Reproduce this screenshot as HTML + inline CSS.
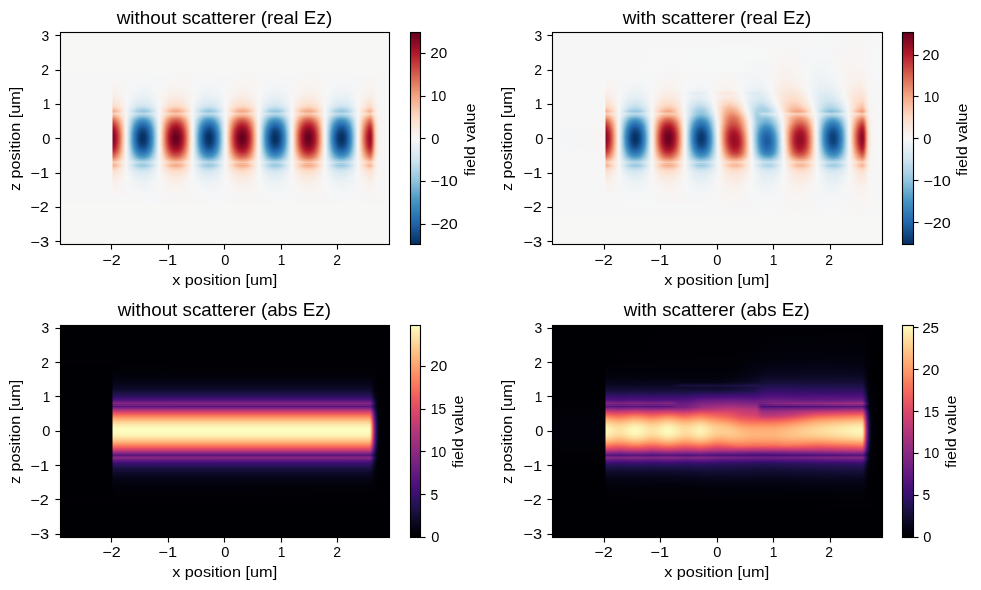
<!DOCTYPE html>
<html><head><meta charset="utf-8"><title>Ez field with and without scatterer</title>
<style>
html,body{margin:0;padding:0;background:#fff}
body{width:981px;height:590px;position:relative;overflow:hidden;font-family:"Liberation Sans",sans-serif}
.h{position:absolute;overflow:hidden}
.h i{display:block;height:1px}
svg{position:absolute;left:0;top:0;will-change:transform}
text{font-family:"Liberation Sans",sans-serif;font-size:14px;fill:#000}
.t text{font-size:17px}
</style></head><body>
<div class="h" style="left:60px;top:32px;width:330px;height:213px">
<i style="height:40px;background:#f7f7f6"></i>
<i style="background:linear-gradient(90deg,#f7f6f6 0,#f6f7f7 99px,#f7f5f4 117px,#f6f7f7 165px,#f7f5f4 183px,#f6f7f7 231px,#f7f5f4 250px,#f6f7f7 297px,#f7f6f6 330px)"></i>
<i style="background:linear-gradient(90deg,#f7f6f6 0,#f7f6f6 66px,#f6f7f7 95px,#f7f5f4 120px,#f6f7f7 165px,#f7f5f4 187px,#f6f7f7 231px,#f7f5f4 253px,#f6f7f7 297px,#f7f6f6 330px)"></i>
<i style="background:linear-gradient(90deg,#f7f6f6 0,#f7f6f6 66px,#f6f7f7 92px,#f7f5f4 122px,#f6f7f7 161px,#f7f5f4 188px,#f6f7f7 227px,#f7f5f4 254px,#f6f7f7 293px,#f7f5f4 311px,#f7f6f6 330px)"></i>
<i style="background:linear-gradient(90deg,#f7f6f6 0,#f7f6f6 66px,#f5f6f7 90px,#f7f5f4 123px,#f6f7f7 158px,#f7f5f4 189px,#f6f7f7 224px,#f7f5f4 256px,#f5f6f7 287px,#f7f5f4 312px,#f7f6f6 330px)"></i>
<i style="background:linear-gradient(90deg,#f7f6f6 0,#f7f6f6 66px,#f5f6f7 91px,#f7f5f4 124px,#f5f6f7 155px,#f7f5f4 190px,#f5f6f7 221px,#f7f5f4 257px,#f5f6f7 285px,#f7f5f4 312px,#f7f6f6 330px)"></i>
<i style="background:linear-gradient(90deg,#f7f6f6 0,#f7f6f6 66px,#f5f6f7 92px,#f7f5f4 125px,#f5f6f7 153px,#f7f5f4 191px,#f5f6f7 219px,#f7f5f4 258px,#f5f6f7 282px,#f7f5f4 312px,#f7f6f6 330px)"></i>
<i style="background:linear-gradient(90deg,#f7f6f6 0,#f7f6f6 66px,#f5f6f7 93px,#f7f5f4 126px,#f5f6f7 150px,#f7f5f4 192px,#f5f6f7 216px,#f7f5f4 258px,#f5f6f7 282px,#f7f5f4 313px,#f7f6f6 330px)"></i>
<i style="background:linear-gradient(90deg,#f7f6f6 0,#f7f6f6 66px,#f5f6f7 87px,#f7f5f4 115px,#f7f5f4 126px,#f5f6f7 148px,#f7f5f4 181px,#f7f5f4 193px,#f5f6f7 214px,#f7f5f4 247px,#f7f5f4 259px,#f5f6f7 280px,#f7f5f4 313px,#f7f6f6 330px)"></i>
<i style="background:linear-gradient(90deg,#f7f6f6 0,#f7f6f6 52px,#f8f4f2 54px,#f5f6f7 73px,#f5f6f7 94px,#f8f4f2 120px,#f5f6f7 139px,#f5f6f7 160px,#f8f4f2 186px,#f5f6f7 205px,#f5f6f7 226px,#f8f4f2 252px,#f5f6f7 271px,#f5f6f7 293px,#f7f5f4 313px,#f7f6f6 330px)"></i>
<i style="background:linear-gradient(90deg,#f7f6f6 0,#f7f6f6 52px,#f8f4f2 54px,#f5f6f7 73px,#f5f6f7 94px,#f8f4f2 122px,#f6f7f7 136px,#f3f5f6 155px,#f7f5f4 175px,#f7f5f4 194px,#f3f5f6 209px,#f6f7f7 231px,#f8f4f2 250px,#f5f6f7 275px,#f5f6f7 293px,#f8f4f2 311px,#f7f6f6 319px,#f7f6f6 330px)"></i>
<i style="background:linear-gradient(90deg,#f7f6f6 0,#f7f6f6 52px,#f8f4f2 54px,#f5f6f7 75px,#f5f6f7 95px,#f8f4f2 121px,#f5f6f7 140px,#f5f6f7 161px,#f8f4f2 187px,#f5f6f7 206px,#f5f6f7 227px,#f8f4f2 253px,#f5f6f7 272px,#f5f6f7 293px,#f7f5f4 306px,#f7f5f4 314px,#f7f6f6 330px)"></i>
<i style="background:linear-gradient(90deg,#f7f6f6 0,#f7f6f6 52px,#f8f4f2 54px,#f5f6f7 74px,#f5f6f7 95px,#f8f4f2 119px,#f5f6f7 140px,#f5f6f7 161px,#f7f5f4 173px,#f7f5f4 195px,#f3f5f6 207px,#f5f6f7 228px,#f8f4f2 250px,#f7f5f4 261px,#f3f5f6 273px,#f5f6f7 294px,#f8f4f2 312px,#f7f6f6 318px,#f7f6f6 330px)"></i>
<i style="background:linear-gradient(90deg,#f7f6f6 0,#f7f6f6 52px,#f8f3f0 53px,#f6f7f7 69px,#f2f5f6 87px,#f7f6f6 102px,#f8f3f0 117px,#f5f6f7 139px,#f2f5f6 153px,#f7f6f6 168px,#f8f3f0 183px,#f5f6f7 205px,#f2f5f6 219px,#f7f6f6 235px,#f8f4f2 243px,#f8f4f2 257px,#f5f6f7 269px,#f2f5f6 285px,#f7f6f6 301px,#f8f4f2 309px,#f7f6f6 323px,#f7f6f6 330px)"></i>
<i style="background:linear-gradient(90deg,#f7f6f6 0,#f7f6f6 52px,#f8f3f0 53px,#f5f6f7 71px,#f2f5f6 88px,#f7f6f6 102px,#f8f3f0 114px,#f8f4f2 126px,#f6f7f7 135px,#f2f5f6 149px,#f7f6f6 168px,#f8f3f0 180px,#f8f4f2 192px,#f6f7f7 201px,#f2f5f6 217px,#f7f6f6 234px,#f8f3f0 246px,#f8f4f2 258px,#f6f7f7 267px,#f2f5f6 283px,#f7f6f6 300px,#f8f3f0 311px,#f7f6f6 318px,#f7f6f6 330px)"></i>
<i style="background:linear-gradient(90deg,#f7f6f6 0,#f7f6f6 52px,#f8f3f0 53px,#f7f5f4 63px,#f3f5f6 75px,#f3f5f6 93px,#f7f5f4 104px,#f8f3f0 114px,#f8f4f2 126px,#f6f7f7 135px,#f2f5f6 147px,#f3f5f6 159px,#f7f5f4 171px,#f8f3f0 179px,#f8f4f2 193px,#f6f7f7 200px,#f2f5f6 214px,#f5f6f7 229px,#f8f4f2 240px,#f8f4f2 259px,#f5f6f7 268px,#f2f5f6 286px,#f7f6f6 300px,#f8f3f0 311px,#f7f6f6 318px,#f7f6f6 330px)"></i>
<i style="background:linear-gradient(90deg,#f7f6f6 0,#f7f6f6 52px,#f8f2ef 53px,#f5f6f7 69px,#f0f4f6 87px,#f7f6f6 101px,#f8f2ef 115px,#f8f4f2 127px,#f5f6f7 136px,#f0f4f6 152px,#f7f6f6 167px,#f8f2ef 181px,#f8f4f2 193px,#f5f6f7 202px,#f0f4f6 218px,#f7f6f6 234px,#f8f3f0 243px,#f8f3f0 256px,#f6f7f7 267px,#f0f4f6 281px,#f7f6f6 300px,#f8f3f0 309px,#f8f4f2 313px,#f7f6f6 319px,#f7f6f6 330px)"></i>
<i style="background:linear-gradient(90deg,#f7f6f6 0,#f7f6f6 52px,#f8f2ef 53px,#f5f6f7 70px,#f0f4f6 82px,#f3f5f6 94px,#f7f5f4 103px,#f8f2ef 113px,#f8f3f0 125px,#f5f6f7 135px,#f0f4f6 149px,#f3f5f6 161px,#f7f5f4 170px,#f8f2ef 179px,#f8f3f0 191px,#f5f6f7 201px,#f0f4f6 217px,#f7f6f6 233px,#f8f2ef 245px,#f8f3f0 257px,#f6f7f7 267px,#f0f4f6 279px,#f3f5f6 293px,#f7f5f4 302px,#f8f2ef 311px,#f7f6f6 317px,#f7f6f6 330px)"></i>
<i style="background:linear-gradient(90deg,#f7f6f6 0,#f7f6f6 52px,#f8f1ed 53px,#f5f6f7 69px,#eff3f5 85px,#f7f6f6 101px,#f8f2ef 111px,#f8f2ef 123px,#f6f7f7 134px,#eff3f5 149px,#f7f6f6 167px,#f8f2ef 177px,#f8f2ef 189px,#f6f7f7 200px,#eff3f5 215px,#f7f6f6 233px,#f8f2ef 243px,#f8f2ef 255px,#f6f7f7 266px,#eff3f5 281px,#f7f6f6 299px,#f8f2ef 311px,#f7f6f6 319px,#f7f6f6 330px)"></i>
<i style="background:linear-gradient(90deg,#f7f6f6 0,#f7f6f6 52px,#f8f1ed 53px,#f7f5f4 64px,#f2f5f6 72px,#eff3f5 88px,#f7f6f6 101px,#f8f1ed 112px,#f8f2ef 124px,#f6f7f7 134px,#eff3f5 147px,#f2f5f6 159px,#f7f6f6 167px,#f8f1ed 178px,#f8f2ef 190px,#f6f7f7 200px,#eff3f5 213px,#f2f5f6 226px,#f7f5f4 235px,#f8f1ed 245px,#f8f2ef 256px,#f5f6f7 267px,#eff3f5 280px,#f2f5f6 292px,#f7f5f4 301px,#f8f1ed 310px,#f7f6f6 318px,#f7f6f6 330px)"></i>
<i style="background:linear-gradient(90deg,#f7f6f6 0,#f7f6f6 52px,#f9f0eb 53px,#f5f6f7 68px,#edf2f5 83px,#f5f6f7 97px,#f9f0eb 114px,#f8f2ef 125px,#f6f7f7 134px,#eff3f5 144px,#eff3f5 156px,#f7f6f6 167px,#f8f1ed 177px,#f8f1ed 189px,#f5f6f7 201px,#edf2f5 216px,#f5f6f7 230px,#f8f4f2 236px,#f9f0eb 248px,#f8f2ef 257px,#f5f6f7 267px,#edf2f5 282px,#f5f6f7 296px,#f8f1ed 311px,#f7f6f6 317px,#f7f6f6 330px)"></i>
<i style="background:linear-gradient(90deg,#f7f6f6 0,#f7f6f6 52px,#f9f0eb 53px,#f5f6f7 68px,#edf2f5 80px,#edf2f5 88px,#f7f6f6 100px,#f9f0eb 112px,#f9f0eb 121px,#f6f7f7 133px,#edf2f5 146px,#edf2f5 154px,#f7f6f6 167px,#f8f1ed 175px,#f9efe9 183px,#f8f3f0 194px,#f6f7f7 200px,#edf2f5 211px,#edf2f5 221px,#f7f6f6 233px,#f9f0eb 245px,#f9f0eb 254px,#f6f7f7 266px,#edf2f5 278px,#edf2f5 287px,#f7f6f6 299px,#f9f0eb 310px,#f7f6f6 318px,#f7f6f6 330px)"></i>
<i style="background:linear-gradient(90deg,#f7f6f6 0,#f7f6f6 52px,#f9efe9 53px,#f7f5f4 64px,#f2f5f6 71px,#ecf2f5 81px,#eff3f5 92px,#f7f6f6 100px,#f9f0eb 110px,#f9f0eb 123px,#f5f6f7 134px,#ecf2f5 147px,#eff3f5 158px,#f7f6f6 166px,#f9f0eb 176px,#f9f0eb 189px,#f6f7f7 200px,#edf2f5 209px,#edf2f5 222px,#f7f6f6 233px,#f8f1ed 240px,#f9efe9 248px,#f9f0eb 255px,#f6f7f7 266px,#ecf2f5 279px,#edf2f5 288px,#f7f6f6 299px,#f9f0eb 309px,#f8f2ef 313px,#f7f6f6 318px,#f7f6f6 330px)"></i>
<i style="background:linear-gradient(90deg,#f7f6f6 0,#f7f6f6 52px,#f9eee7 53px,#f8f4f2 63px,#f6f7f7 67px,#eaf1f5 80px,#edf2f5 91px,#f7f6f6 100px,#f9efe9 110px,#f9efe9 122px,#f6f7f7 133px,#ecf2f5 144px,#ecf2f5 155px,#f7f6f6 166px,#f9efe9 177px,#f9efe9 188px,#f5f6f7 200px,#eaf1f5 213px,#edf2f5 223px,#f7f6f6 232px,#f9efe9 243px,#f9efe9 254px,#f6f7f7 266px,#ecf2f5 276px,#ecf2f5 287px,#f7f6f6 299px,#f9efe9 309px,#f8f1ed 313px,#f7f6f6 318px,#f7f6f6 330px)"></i>
<i style="background:linear-gradient(90deg,#f7f6f6 0,#f7f6f6 52px,#f9ede5 53px,#f8f3f0 62px,#f5f6f7 68px,#eaf1f5 78px,#eaf1f5 88px,#f7f6f6 100px,#f9eee7 110px,#f9eee7 121px,#f5f6f7 134px,#e9f0f4 147px,#ecf2f5 156px,#f7f6f6 166px,#f9efe9 175px,#f9ede5 183px,#f9efe9 189px,#f5f6f7 200px,#e9f0f4 213px,#ecf2f5 223px,#f7f6f6 232px,#f9efe9 241px,#f9ede5 249px,#f9f0eb 257px,#f6f7f7 265px,#eaf1f5 277px,#eaf1f5 287px,#f7f6f6 299px,#f9efe9 307px,#f9efe9 311px,#f7f6f6 318px,#f7f6f6 330px)"></i>
<i style="background:linear-gradient(90deg,#f7f6f6 0,#f7f6f6 52px,#f9ede5 53px,#f9f0eb 59px,#f6f7f7 67px,#eaf1f5 76px,#e7f0f4 85px,#f3f5f6 97px,#f7f5f4 101px,#f9eee7 109px,#f9ebe3 117px,#f8f1ed 127px,#f6f7f7 133px,#e9f0f4 144px,#e9f0f4 154px,#f7f6f6 166px,#f9eee7 175px,#f9ebe3 183px,#f8f1ed 193px,#f6f7f7 199px,#e9f0f4 211px,#e9f0f4 220px,#f7f6f6 232px,#f9ede5 243px,#f9ede5 253px,#f8f3f0 261px,#f5f6f7 266px,#e7f0f4 279px,#eaf1f5 288px,#f7f6f6 299px,#f9ede5 309px,#f7f6f6 319px,#f7f6f6 330px)"></i>
<i style="background:linear-gradient(90deg,#f7f6f6 0,#f7f6f6 52px,#f9ebe3 53px,#f9efe9 59px,#f6f7f7 67px,#e9f0f4 76px,#e6eff4 85px,#f0f4f6 95px,#f7f6f6 100px,#f9ebe3 111px,#f9ebe3 121px,#f6f7f7 133px,#e7f0f4 144px,#e7f0f4 154px,#f7f6f6 166px,#f9ebe3 177px,#f9ebe3 187px,#f6f7f7 199px,#e7f0f4 211px,#e7f0f4 220px,#f3f5f6 229px,#f7f5f4 233px,#f9ebe3 243px,#f9ebe3 253px,#f8f4f2 263px,#f6f7f7 265px,#e7f0f4 277px,#e7f0f4 286px,#f5f6f7 297px,#f9ede5 308px,#f9ede5 311px,#f7f6f6 318px,#f7f6f6 330px)"></i>
<i style="background:linear-gradient(90deg,#f7f6f6 0,#f7f6f6 52px,#fae9df 53px,#f9f0eb 61px,#f6f7f7 67px,#e6eff4 78px,#e6eff4 88px,#f7f6f6 100px,#faeae1 111px,#faeae1 121px,#f6f7f7 133px,#e6eff4 144px,#e6eff4 154px,#f7f6f6 166px,#faeae1 177px,#faeae1 187px,#f6f7f7 199px,#e6eff4 210px,#e6eff4 220px,#f7f6f6 232px,#faeae1 243px,#faeae1 253px,#f5f6f7 266px,#e4eef4 278px,#e7f0f4 288px,#f7f6f6 298px,#faeae1 310px,#f8f1ed 314px,#f7f6f6 319px,#f7f6f6 330px)"></i>
<i style="background:linear-gradient(90deg,#f7f6f6 0,#f7f6f6 52px,#fae8de 53px,#f5f6f7 67px,#e3edf3 79px,#e4eef4 88px,#f7f6f6 100px,#faeae1 109px,#fae8de 115px,#fae9df 121px,#f8f3f0 130px,#f6f7f7 133px,#e6eff4 142px,#e3edf3 151px,#ecf2f5 160px,#f7f6f6 166px,#f9ebe3 174px,#fae8de 181px,#fae9df 187px,#f8f4f2 197px,#f6f7f7 199px,#e3edf3 212px,#e4eef4 220px,#f7f6f6 232px,#fae8de 245px,#fae9df 254px,#f6f7f7 265px,#e3edf3 278px,#e4eef4 287px,#f7f6f6 298px,#fae9df 310px,#f9f0eb 314px,#f7f6f6 318px,#f7f6f6 330px)"></i>
<i style="background:linear-gradient(90deg,#f7f6f6 0,#f7f6f6 52px,#fae7dc 53px,#f8f3f0 64px,#f5f6f7 67px,#e3edf3 77px,#e0ecf3 85px,#f2f5f6 97px,#f7f6f6 100px,#fae9df 109px,#fbe6da 116px,#faeae1 124px,#f6f7f7 133px,#e4eef4 142px,#e0ecf3 151px,#e7f0f4 158px,#f7f6f6 166px,#fae9df 175px,#fbe6da 182px,#faeae1 190px,#f6f7f7 199px,#e1edf3 211px,#e1edf3 219px,#f0f4f6 229px,#f7f5f4 233px,#f9ede5 239px,#fbe6da 246px,#fae7dc 252px,#f8f2ef 262px,#f6f7f7 265px,#e1edf3 277px,#e1edf3 286px,#f0f4f6 295px,#f7f5f4 299px,#faeae1 307px,#fae8de 310px,#f9ede5 313px,#f7f5f4 317px,#f7f6f6 330px)"></i>
<i style="background:linear-gradient(90deg,#f7f6f6 0,#f7f6f6 52px,#fbe5d8 53px,#f9eee7 61px,#f7f6f6 66px,#e1edf3 77px,#deebf2 86px,#eaf1f5 94px,#f6f7f7 99px,#fae8de 109px,#fbe5d8 115px,#fbe6da 121px,#f9eee7 127px,#f6f7f7 133px,#e3edf3 142px,#deebf2 149px,#e3edf3 156px,#f7f6f6 166px,#fae8de 175px,#fbe5d8 181px,#fbe6da 187px,#f9efe9 194px,#f6f7f7 199px,#e1edf3 209px,#deebf2 218px,#ecf2f5 227px,#f7f6f6 232px,#f9ebe3 239px,#fbe5d8 245px,#fbe6da 253px,#f9f0eb 261px,#f6f7f7 265px,#e3edf3 275px,#deebf2 280px,#e0ecf3 286px,#f2f5f6 296px,#f7f5f4 299px,#faeae1 306px,#fbe6da 310px,#f7f5f4 317px,#f7f6f6 330px)"></i>
<i style="background:linear-gradient(90deg,#f7f6f6 0,#f7f6f6 52px,#fbe4d6 53px,#f9ebe3 60px,#f7f6f6 66px,#e3edf3 75px,#dbeaf2 81px,#deebf2 88px,#ecf2f5 95px,#f6f7f7 99px,#fae8de 108px,#fbe3d4 114px,#fbe4d6 120px,#f9ede5 127px,#f7f6f6 132px,#e0ecf3 143px,#dbeaf2 150px,#e4eef4 158px,#f7f6f6 166px,#fae9df 173px,#fbe3d4 180px,#fbe4d6 186px,#f9eee7 194px,#f6f7f7 199px,#e1edf3 208px,#dbeaf2 215px,#deebf2 220px,#edf2f5 228px,#f7f6f6 232px,#fbe6da 242px,#fbe3d4 248px,#fbe4d6 252px,#faeae1 258px,#f6f7f7 265px,#e0ecf3 275px,#dbeaf2 282px,#e1edf3 289px,#f7f6f6 298px,#fbe6da 308px,#fbe6da 311px,#f8f3f0 316px,#f7f6f6 320px,#f7f6f6 330px)"></i>
<i style="background:linear-gradient(90deg,#f7f6f6 0,#f7f6f6 52px,#fce2d2 53px,#fae8de 59px,#f7f6f6 66px,#deebf2 76px,#d8e9f1 83px,#ddebf2 89px,#f3f5f6 98px,#f7f5f4 100px,#fbe5d8 109px,#fce0d0 115px,#fbe3d4 121px,#f9f0eb 129px,#f7f6f6 132px,#deebf2 142px,#d8e9f1 149px,#deebf2 156px,#f7f6f6 166px,#fae8de 173px,#fce0d0 180px,#fce2d2 186px,#fae9df 192px,#f6f7f7 199px,#e1edf3 207px,#d8e9f1 213px,#dbeaf2 220px,#eff3f5 229px,#f7f6f6 232px,#fae7dc 240px,#fce0d0 246px,#fce2d2 252px,#fae9df 258px,#f6f7f7 265px,#e0ecf3 274px,#d8e9f1 280px,#dbeaf2 286px,#e9f0f4 293px,#f7f6f6 298px,#fbe6da 307px,#fbe3d4 310px,#fae9df 313px,#f8f4f2 317px,#f7f6f6 321px,#f7f6f6 330px)"></i>
<i style="background:linear-gradient(90deg,#f7f6f6 0,#f7f6f6 52px,#fcdfcf 53px,#fae7dc 59px,#f7f6f6 66px,#dae9f2 77px,#d5e7f1 84px,#ddebf2 90px,#ecf2f5 96px,#f6f7f7 99px,#fbe3d4 109px,#fcdecd 115px,#fce0d0 121px,#f9ede5 128px,#f7f6f6 132px,#dae9f2 143px,#d5e7f1 150px,#dae9f2 155px,#f7f6f6 166px,#fbe5d8 174px,#fcdecd 180px,#fcdfcf 186px,#fae8de 192px,#f6f7f7 199px,#deebf2 207px,#d5e7f1 213px,#d8e9f1 220px,#e9f0f4 227px,#f7f6f6 232px,#fbe4d6 241px,#fcdecd 247px,#fcdfcf 252px,#fae9df 259px,#f6f7f7 265px,#ddebf2 274px,#d5e7f1 280px,#d8e9f1 286px,#e7f0f4 293px,#f7f6f6 298px,#fbe4d6 307px,#fce0d0 310px,#fbe5d8 312px,#f8f4f2 317px,#f7f6f6 321px,#f7f6f6 330px)"></i>
<i style="background:linear-gradient(90deg,#f7f6f6 0,#f7f6f6 52px,#fdddcb 53px,#fbe4d6 58px,#f7f6f6 66px,#d8e9f1 76px,#d1e5f0 83px,#d8e9f1 89px,#e7f0f4 95px,#f6f7f7 99px,#fcdfcf 110px,#fddcc9 114px,#fddcc9 118px,#fbe3d4 124px,#f5f6f7 133px,#d7e8f1 143px,#d1e5f0 149px,#d7e8f1 155px,#f5f6f7 165px,#fce2d2 175px,#fddcc9 180px,#fddcc9 185px,#fbe5d8 191px,#f6f7f7 199px,#deebf2 206px,#d4e6f1 212px,#d1e5f0 216px,#dbeaf2 223px,#f0f4f6 230px,#f7f6f6 232px,#fce0d0 242px,#fddbc7 248px,#fcdfcf 254px,#faeae1 260px,#f6f7f7 265px,#d8e9f1 275px,#d1e5f0 282px,#ddebf2 290px,#f7f6f6 298px,#fce0d0 308px,#fcdecd 310px,#fbe3d4 312px,#f8f2ef 316px,#f7f6f6 320px,#f7f6f6 330px)"></i>
<i style="background:linear-gradient(90deg,#f7f6f6 0,#f7f6f6 52px,#fdd9c4 53px,#fce2d2 58px,#f9eee7 63px,#f7f6f6 66px,#d8e9f1 75px,#cce2ef 80px,#cae1ee 84px,#dbeaf2 92px,#f6f7f7 99px,#fbe3d4 107px,#fcd7c2 113px,#fcd5bf 117px,#fddbc7 121px,#f9ede5 129px,#f7f5f4 132px,#f0f4f6 134px,#d5e7f1 142px,#cae1ee 148px,#cfe4ef 153px,#e9f0f4 162px,#f5f6f7 165px,#f9f0eb 168px,#fcdecd 175px,#fcd7c2 179px,#fcd5bf 183px,#fcdecd 189px,#f9efe9 196px,#f6f7f7 199px,#d8e9f1 207px,#cce2ef 212px,#cae1ee 216px,#dae9f2 224px,#f7f6f6 232px,#fbe6da 238px,#fddcc9 243px,#fcd5bf 248px,#fdd9c4 252px,#fbe4d6 258px,#f6f7f7 265px,#d7e8f1 274px,#cae1ee 281px,#cce2ef 284px,#e0ecf3 292px,#f7f6f6 298px,#fcdfcf 307px,#fddbc7 310px,#fbe5d8 313px,#f8f1ed 316px,#f7f6f6 319px,#f7f6f6 330px)"></i>
<i style="background:linear-gradient(90deg,#f7f6f6 0,#f7f6f6 52px,#fbd0b9 53px,#fdd9c4 56px,#f9ede5 63px,#f7f6f6 66px,#d7e8f1 74px,#c2ddec 80px,#c0dceb 83px,#cae1ee 88px,#f5f6f7 99px,#fcdfcf 107px,#fcd3bc 112px,#fbccb4 115px,#fbd0b9 119px,#fdddcb 124px,#f7f5f4 132px,#f0f4f6 134px,#d4e6f1 141px,#c2ddec 147px,#c0dceb 150px,#cce2ef 155px,#f5f6f7 165px,#f8f2ef 167px,#fdddcb 174px,#fbceb7 180px,#fbccb4 183px,#fcd7c2 188px,#fae8de 194px,#f5f6f7 199px,#d5e7f1 207px,#c5dfec 212px,#c0dceb 216px,#c5dfec 219px,#eff3f5 230px,#f7f6f6 232px,#fce0d0 239px,#fcd3bc 244px,#fbccb4 248px,#fbd0b9 252px,#fce2d2 258px,#f6f7f7 265px,#d5e7f1 273px,#c2ddec 279px,#c0dceb 282px,#c7e0ed 286px,#f2f5f6 297px,#f7f6f6 298px,#fddcc9 307px,#fcd5bf 310px,#fcd7c2 311px,#f9ede5 315px,#f8f3f0 317px,#f7f6f6 321px,#f7f6f6 330px)"></i>
<i style="background:linear-gradient(90deg,#f7f6f6 0,#f7f6f6 52px,#fac8af 53px,#fcd5bf 57px,#fddbc7 58px,#f8f2ef 65px,#f7f6f6 66px,#d2e6f0 74px,#c2ddec 77px,#b8d8e9 80px,#b6d7e8 84px,#c5dfec 89px,#d1e5f0 91px,#f5f6f7 99px,#fdd9c4 108px,#fac8af 112px,#f9c4a9 116px,#fac8af 119px,#fbd0b9 122px,#faeae1 129px,#f7f5f4 132px,#eff3f5 134px,#c0dceb 144px,#b8d8e9 146px,#b6d7e8 150px,#b8d8e9 152px,#eff3f5 164px,#f7f5f4 166px,#fbe3d4 171px,#fbd0b9 176px,#fac8af 179px,#f9c4a9 182px,#fac8af 186px,#fbe3d4 193px,#f5f6f7 199px,#d1e5f0 207px,#c0dceb 210px,#b6d7e8 215px,#bbdaea 219px,#c7e0ed 222px,#d2e6f0 224px,#f7f6f6 232px,#fce0d0 238px,#fddbc7 240px,#fbd0b9 242px,#f9c4a9 247px,#f9c4a9 250px,#fbceb7 254px,#fcdecd 258px,#f6f7f7 265px,#d5e7f1 272px,#bbdaea 278px,#b6d7e8 281px,#b8d8e9 284px,#c2ddec 287px,#f7f6f6 298px,#fcd7c2 307px,#fbccb4 310px,#fbd0b9 311px,#faeae1 315px,#f8f4f2 318px,#f7f6f6 322px,#f7f6f6 330px)"></i>
<i style="background:linear-gradient(90deg,#f7f6f6 0,#f7f6f6 52px,#f8bda1 53px,#fac8af 56px,#fce2d2 61px,#f7f6f6 66px,#cce2ef 74px,#b8d8e9 77px,#a9d1e5 82px,#acd2e5 85px,#b6d7e8 88px,#c7e0ed 91px,#f5f6f7 99px,#f9f0eb 101px,#fcd7c2 107px,#f9c2a7 111px,#f7b99c 115px,#f8bb9e 118px,#f9c4a9 121px,#fcd3bc 124px,#fbe5d8 128px,#f7f5f4 132px,#edf2f5 134px,#cce2ef 140px,#b1d5e7 145px,#a9d1e5 149px,#b1d5e7 153px,#cce2ef 158px,#f3f5f6 165px,#f7f5f4 166px,#fdddcb 172px,#fac8af 176px,#f8bda1 179px,#f7b99c 182px,#f8bda1 185px,#f9c6ac 188px,#fcdfcf 193px,#f8f4f2 198px,#f5f6f7 199px,#c7e0ed 207px,#b1d5e7 211px,#a9d1e5 215px,#b3d6e8 220px,#c5dfec 223px,#d7e8f1 226px,#f7f6f6 232px,#fdd9c4 239px,#f9c4a9 243px,#f7b99c 247px,#f8bb9e 251px,#facab1 255px,#fcdfcf 259px,#f6f7f7 265px,#cae1ee 273px,#b6d7e8 276px,#a9d1e5 280px,#aed3e6 285px,#cae1ee 290px,#f7f6f6 298px,#fddbc7 305px,#facab1 308px,#f9c4a9 310px,#fac8af 311px,#fbd0b9 312px,#fddcc9 313px,#fae9df 315px,#f8f2ef 317px,#f7f6f6 321px,#f7f6f6 330px)"></i>
<i style="background:linear-gradient(90deg,#f7f6f6 0,#f7f6f6 52px,#f6b394 53px,#f7b99c 55px,#facab1 58px,#fcdecd 61px,#f7f5f4 66px,#ecf2f5 68px,#d2e6f0 72px,#acd2e5 77px,#a0cce2 80px,#9bc9e0 83px,#a9d1e5 88px,#c5dfec 92px,#d5e7f1 94px,#f5f6f7 99px,#f8f4f2 100px,#fcd7c2 106px,#f9c2a7 109px,#f7b799 111px,#f6af8e 114px,#f5ac8b 116px,#f6af8e 118px,#f8bda1 122px,#fbd0b9 125px,#fdd9c4 126px,#f9f0eb 131px,#f7f5f4 132px,#edf2f5 134px,#c5dfec 140px,#b3d6e8 142px,#9dcbe1 147px,#9bc9e0 149px,#a0cce2 152px,#bbdaea 157px,#d4e6f1 160px,#f3f5f6 165px,#f7f5f4 166px,#fcd7c2 172px,#f8bda1 176px,#f6b191 179px,#f5ac8b 182px,#f6b191 185px,#f7b799 187px,#fbceb7 191px,#fddcc9 193px,#f8f4f2 198px,#f5f6f7 199px,#cfe4ef 205px,#aed3e6 209px,#a2cde3 212px,#9bc9e0 215px,#a2cde3 219px,#b3d6e8 222px,#d8e9f1 227px,#f2f5f6 231px,#f7f5f4 232px,#fcd3bc 239px,#f9c4a9 241px,#f7b596 244px,#f5ac8b 248px,#f6b394 252px,#f9c6ac 256px,#fddcc9 259px,#f9eee7 263px,#f6f7f7 265px,#d1e5f0 271px,#b1d5e7 275px,#a0cce2 279px,#9dcbe1 283px,#a7d0e4 286px,#b8d8e9 289px,#d7e8f1 293px,#f7f6f6 298px,#fddbc7 304px,#f9c6ac 307px,#f8bb9e 309px,#f7b99c 310px,#f8bda1 311px,#fcd5bf 313px,#fce0d0 314px,#f8f1ed 317px,#f7f5f4 319px,#f7f6f6 330px)"></i>
<i style="background:linear-gradient(90deg,#f7f6f6 0,#f7f6f6 52px,#f6af8e 53px,#f8bb9e 56px,#fce2d2 62px,#f7f5f4 66px,#eaf1f5 68px,#d1e5f0 72px,#aed3e6 76px,#98c8e0 81px,#9bc9e0 85px,#a5cee3 88px,#dae9f2 95px,#f5f6f7 99px,#fce0d0 104px,#f8bfa4 109px,#f6b191 112px,#f5aa89 114px,#f5aa89 117px,#f6b191 120px,#f9c6ac 124px,#fddcc9 127px,#f8f4f2 132px,#f3f5f6 133px,#cae1ee 139px,#a9d1e5 143px,#98c8e0 147px,#98c8e0 151px,#a9d1e5 155px,#cae1ee 159px,#e6eff4 163px,#f3f5f6 165px,#f9f0eb 167px,#fddcc9 171px,#f8bfa4 175px,#f6b191 178px,#f5aa89 181px,#f5aa89 184px,#f7b596 187px,#f9c6ac 190px,#fce0d0 194px,#f5f6f7 199px,#cce2ef 205px,#a5cee3 210px,#98c8e0 214px,#9bc9e0 218px,#b6d7e8 223px,#d1e5f0 226px,#f2f5f6 231px,#f7f5f4 232px,#fcd7c2 238px,#f8bb9e 242px,#f6af8e 245px,#f5aa89 248px,#f5ac8b 251px,#f6b394 253px,#facab1 257px,#fddbc7 259px,#f6f7f7 265px,#cfe4ef 271px,#b3d6e8 274px,#9dcbe1 278px,#98c8e0 281px,#9bc9e0 284px,#a7d0e4 287px,#d5e7f1 293px,#f7f6f6 298px,#fdd9c4 304px,#f9c4a9 307px,#f7b799 309px,#f7b596 310px,#f7b99c 311px,#f9c4a9 312px,#fcdfcf 314px,#f9ede5 316px,#f8f3f0 318px,#f7f6f6 321px,#f7f6f6 330px)"></i>
<i style="background:linear-gradient(90deg,#f7f6f6 0,#f7f6f6 52px,#f7b99c 53px,#facab1 57px,#fce0d0 61px,#f7f6f6 66px,#d1e5f0 73px,#c7e0ed 74px,#acd2e5 79px,#a5cee3 83px,#a9d1e5 86px,#c5dfec 91px,#f5f6f7 99px,#f9f0eb 101px,#fcd5bf 107px,#f9c4a9 110px,#f7b99c 113px,#f7b596 116px,#f7b99c 119px,#f9c4a9 122px,#fcd5bf 125px,#fddcc9 126px,#f7f5f4 132px,#edf2f5 134px,#cae1ee 140px,#b6d7e8 143px,#a9d1e5 146px,#a5cee3 149px,#acd2e5 153px,#c2ddec 157px,#d7e8f1 160px,#f3f5f6 165px,#f7f5f4 166px,#fddcc9 172px,#fbceb7 174px,#f8bfa4 177px,#f7b799 180px,#f7b596 183px,#f8bb9e 186px,#fac8af 189px,#fddbc7 192px,#f8f4f2 198px,#f5f6f7 199px,#c5dfec 207px,#b1d5e7 210px,#a7d0e4 213px,#a5cee3 216px,#b1d5e7 220px,#c7e0ed 224px,#d1e5f0 225px,#f7f6f6 232px,#fcd7c2 239px,#f9c6ac 242px,#f7b99c 245px,#f7b596 249px,#f8bda1 253px,#fcd3bc 257px,#fce2d2 260px,#f6f7f7 265px,#cce2ef 272px,#aed3e6 277px,#a7d0e4 279px,#a5cee3 282px,#b3d6e8 287px,#e0ecf3 294px,#f7f6f6 298px,#fdd9c4 305px,#f9c6ac 308px,#f8bfa4 310px,#f9c4a9 311px,#fddbc7 313px,#f9eee7 316px,#f8f4f2 318px,#f7f6f6 322px,#f7f6f6 330px)"></i>
<i style="background:linear-gradient(90deg,#f7f6f6 0,#f7f6f6 52px,#facab1 53px,#fcd7c2 57px,#f7f6f6 66px,#bddbea 79px,#b8d8e9 84px,#c7e0ed 89px,#f5f6f7 99px,#fdddcb 107px,#fddbc7 108px,#fbd0b9 110px,#fac8af 113px,#f9c6ac 117px,#fbceb7 121px,#fbe4d6 127px,#f7f5f4 132px,#eff3f5 134px,#c0dceb 145px,#b8d8e9 149px,#c2ddec 154px,#f5f6f7 165px,#f8f2ef 167px,#fddbc7 174px,#fbceb7 177px,#f9c6ac 181px,#fac8af 185px,#fcd5bf 189px,#fddbc7 190px,#fae9df 195px,#f5f6f7 199px,#c0dceb 211px,#b8d8e9 215px,#bddbea 219px,#f7f6f6 232px,#fcd7c2 241px,#facab1 245px,#f9c6ac 248px,#facab1 252px,#fbe3d4 259px,#f6f7f7 265px,#c0dceb 277px,#b8d8e9 281px,#c0dceb 286px,#f7f6f6 298px,#fddcc9 306px,#fbceb7 310px,#fdd9c4 312px,#f9ebe3 315px,#f8f2ef 317px,#f7f6f6 321px,#f7f6f6 330px)"></i>
<i style="background:linear-gradient(90deg,#f7f6f6 0,#f7f6f6 52px,#f9c2a7 53px,#fbd0b9 57px,#fcdfcf 60px,#f7f6f6 66px,#cfe4ef 74px,#b8d8e9 78px,#aed3e6 83px,#b6d7e8 87px,#f5f6f7 99px,#fbe5d8 104px,#fbceb7 109px,#f9c4a9 112px,#f8bda1 115px,#f8bfa4 118px,#fac8af 121px,#fcd5bf 124px,#fcdecd 126px,#f7f5f4 132px,#eff3f5 134px,#d1e5f0 140px,#bddbea 143px,#aed3e6 148px,#b1d5e7 151px,#bddbea 155px,#d5e7f1 159px,#f3f5f6 165px,#f7f5f4 166px,#fcdecd 172px,#f9c4a9 178px,#f8bda1 181px,#f8bfa4 184px,#f9c6ac 187px,#fce0d0 193px,#f8f4f2 198px,#f5f6f7 199px,#cce2ef 207px,#b6d7e8 211px,#aed3e6 215px,#b8d8e9 220px,#f3f5f6 231px,#f7f6f6 232px,#fcdfcf 238px,#fac8af 243px,#f8bfa4 246px,#f8bda1 249px,#f8bfa4 251px,#fcd3bc 256px,#fce0d0 259px,#f6f7f7 265px,#c7e0ed 274px,#bbdaea 276px,#b1d5e7 279px,#aed3e6 282px,#b3d6e8 285px,#f2f5f6 297px,#f7f6f6 298px,#fcd7c2 306px,#facab1 309px,#fac8af 310px,#facab1 311px,#fdddcb 313px,#f9efe9 316px,#f7f5f4 319px,#f7f6f6 330px)"></i>
<i style="background:linear-gradient(90deg,#f7f6f6 0,#f7f6f6 52px,#f7b596 53px,#f8bfa4 56px,#fcd3bc 59px,#fddbc7 60px,#f8f1ed 65px,#f7f6f6 66px,#cce2ef 73px,#bbdaea 75px,#a5cee3 79px,#9dcbe1 83px,#a2cde3 86px,#b8d8e9 90px,#e1edf3 96px,#f5f6f7 99px,#f8f4f2 100px,#fcd7c2 106px,#f8bda1 110px,#f6b394 113px,#f6af8e 116px,#f6b394 119px,#f9c4a9 123px,#fcdecd 127px,#f7f5f4 132px,#edf2f5 134px,#cfe4ef 139px,#b6d7e8 142px,#a9d1e5 144px,#a0cce2 147px,#9dcbe1 149px,#a2cde3 152px,#a9d1e5 154px,#c5dfec 158px,#cfe4ef 159px,#f3f5f6 165px,#f7f5f4 166px,#fcd3bc 173px,#f9c4a9 175px,#f6b394 179px,#f6af8e 182px,#f7b596 186px,#f9c4a9 189px,#fce2d2 194px,#f8f4f2 198px,#f5f6f7 199px,#c0dceb 207px,#acd2e5 210px,#a0cce2 213px,#9dcbe1 216px,#a9d1e5 220px,#c2ddec 224px,#d2e6f0 226px,#f7f6f6 232px,#fbe3d4 236px,#fddbc7 238px,#f9c6ac 241px,#f7b799 244px,#f6b191 246px,#f6af8e 249px,#f7b596 252px,#f9c2a7 255px,#fce0d0 260px,#f6f7f7 265px,#cae1ee 272px,#b8d8e9 274px,#a7d0e4 277px,#9dcbe1 282px,#a9d1e5 286px,#bbdaea 289px,#d2e6f0 292px,#f7f6f6 298px,#fddcc9 304px,#f9c2a7 308px,#f8bb9e 310px,#f8bfa4 311px,#fce0d0 314px,#f8f1ed 317px,#f7f5f4 319px,#f7f6f6 330px)"></i>
<i style="background:linear-gradient(90deg,#f7f6f6 0,#f7f6f6 52px,#f4a683 53px,#f5a886 54px,#f7b99c 57px,#fddbc7 61px,#f7f5f4 66px,#eaf1f5 68px,#cce2ef 72px,#b6d7e8 74px,#93c6de 79px,#8ac0db 82px,#8ac0db 84px,#9bc9e0 88px,#bbdaea 92px,#d1e5f0 94px,#f5f6f7 99px,#f9eee7 101px,#fcd7c2 105px,#f8bda1 108px,#f5ac8b 111px,#f3a481 113px,#f19e7d 116px,#f3a481 119px,#f6b394 122px,#fac8af 125px,#fcdfcf 128px,#f8f4f2 132px,#f3f5f6 133px,#cfe4ef 138px,#b8d8e9 140px,#a0cce2 143px,#8dc2dc 147px,#8ac0db 149px,#8dc2dc 151px,#a0cce2 155px,#c2ddec 159px,#cfe4ef 160px,#f3f5f6 165px,#f8f4f2 166px,#fdd9c4 171px,#f8bfa4 174px,#f5ac8b 177px,#f3a481 179px,#f19e7d 182px,#f3a481 185px,#f6b191 188px,#f9c6ac 191px,#fcdecd 194px,#f8f3f0 198px,#f5f6f7 199px,#d1e5f0 204px,#b1d5e7 207px,#96c7df 211px,#8ac0db 214px,#8ac0db 216px,#98c8e0 220px,#c0dceb 225px,#cce2ef 226px,#f2f5f6 231px,#f7f5f4 232px,#fddbc7 237px,#f7b99c 241px,#f5a886 244px,#f19e7d 247px,#f2a17f 250px,#f4a683 252px,#f7b596 255px,#fcd5bf 259px,#fdddcb 260px,#f6f7f7 265px,#d2e6f0 270px,#b3d6e8 273px,#98c8e0 277px,#8ac0db 280px,#8ac0db 282px,#98c8e0 286px,#acd2e5 289px,#d2e6f0 293px,#f7f6f6 298px,#fcd5bf 304px,#facab1 305px,#f6af8e 309px,#f5ac8b 310px,#f6b191 311px,#f8bda1 312px,#fdddcb 314px,#f9ebe3 316px,#f7f5f4 319px,#f7f6f6 330px)"></i>
<i style="background:linear-gradient(90deg,#f7f6f6 0,#f7f6f6 52px,#ec9374 53px,#f4a683 56px,#f8bfa4 59px,#fdddcb 62px,#f7f5f4 66px,#e7f0f4 68px,#cfe4ef 71px,#a0cce2 75px,#7eb8d7 79px,#75b2d4 81px,#75b2d4 84px,#7bb6d6 86px,#9bc9e0 90px,#bbdaea 93px,#dbeaf2 96px,#f5f6f7 99px,#f8f3f0 100px,#fdd9c4 104px,#f8bb9e 107px,#f5aa89 109px,#ee9677 112px,#e98b6e 114px,#e98b6e 117px,#ee9677 120px,#f3a481 122px,#f9c6ac 126px,#fddcc9 128px,#f8f4f2 132px,#f2f5f6 133px,#d1e5f0 137px,#a2cde3 141px,#87beda 144px,#7bb6d6 146px,#75b2d4 148px,#75b2d4 150px,#7bb6d6 152px,#87beda 154px,#acd2e5 158px,#d1e5f0 161px,#f2f5f6 165px,#f8f4f2 166px,#fddcc9 170px,#f9c6ac 172px,#f3a481 176px,#eb9172 179px,#e98b6e 182px,#eb9172 185px,#f3a481 188px,#f6b394 190px,#fbceb7 193px,#fce0d0 195px,#f8f3f0 198px,#f5f6f7 199px,#d2e6f0 203px,#a5cee3 207px,#81bad8 211px,#78b4d5 213px,#75b2d4 215px,#75b2d4 217px,#7eb8d7 219px,#8dc2dc 221px,#a9d1e5 224px,#cfe4ef 227px,#f0f4f6 231px,#f7f5f4 232px,#fdddcb 236px,#f8bfa4 239px,#f4a683 242px,#ea8e70 246px,#e98b6e 249px,#ea8e70 251px,#f2a17f 254px,#f6b191 256px,#fbccb4 259px,#fcdfcf 261px,#f6f7f7 265px,#cae1ee 270px,#a7d0e4 273px,#8ac0db 276px,#78b4d5 279px,#75b2d4 281px,#75b2d4 283px,#7eb8d7 285px,#96c7df 288px,#c0dceb 292px,#d5e7f1 294px,#f7f6f6 298px,#fcd7c2 303px,#f7b799 306px,#f5a886 308px,#f09c7b 310px,#f3a481 311px,#f9c4a9 313px,#fcd7c2 314px,#fbe3d4 315px,#f8f3f0 318px,#f7f6f6 321px,#f7f6f6 330px)"></i>
<i style="background:linear-gradient(90deg,#f7f6f6 0,#f7f6f6 52px,#e48066 53px,#ee9677 56px,#f2a17f 57px,#fbccb4 61px,#fdd9c4 62px,#f7f5f4 66px,#e6eff4 68px,#d4e6f1 70px,#93c6de 75px,#71b0d3 78px,#65a9cf 80px,#5fa5cd 82px,#5fa5cd 84px,#68abd0 86px,#78b4d5 88px,#a5cee3 92px,#d7e8f1 96px,#f3f5f6 99px,#f9ebe3 101px,#fdddcb 103px,#f6b191 107px,#ec9374 110px,#e37e64 113px,#e17860 116px,#e27b62 118px,#e98b6e 121px,#f19e7d 123px,#f6b394 125px,#fcd7c2 128px,#f8f4f2 132px,#f2f5f6 133px,#cae1ee 137px,#96c7df 141px,#75b2d4 144px,#65a9cf 146px,#5fa5cd 148px,#5fa5cd 150px,#65a9cf 152px,#75b2d4 154px,#96c7df 157px,#d5e7f1 162px,#f2f5f6 165px,#f8f4f2 166px,#fcd7c2 170px,#f6b394 173px,#f19e7d 175px,#e98b6e 177px,#e27b62 180px,#e17860 183px,#e58368 186px,#f19e7d 189px,#f6b191 191px,#fdddcb 195px,#f8f2ef 198px,#f3f5f6 199px,#cce2ef 203px,#98c8e0 207px,#78b4d5 210px,#68abd0 212px,#5fa5cd 214px,#5fa5cd 216px,#65a9cf 218px,#71b0d3 220px,#b8d8e9 226px,#d4e6f1 228px,#f0f4f6 231px,#f7f5f4 232px,#fdd9c4 236px,#f7b799 239px,#f2a17f 241px,#e6866a 244px,#e17860 247px,#e17860 250px,#e8896c 253px,#f4a683 256px,#f7b99c 258px,#fddcc9 261px,#f6f7f7 265px,#d1e5f0 269px,#a7d0e4 272px,#84bcd9 275px,#78b4d5 276px,#62a7ce 279px,#5fa5cd 281px,#5fa5cd 283px,#68abd0 285px,#84bcd9 288px,#d1e5f0 294px,#f7f6f6 298px,#fddbc7 302px,#f7b99c 305px,#f3a481 307px,#eb9172 309px,#e98b6e 310px,#ec9374 311px,#f5a886 312px,#fbd0b9 314px,#fce0d0 315px,#f9efe9 317px,#f7f5f4 320px,#f7f6f6 330px)"></i>
<i style="background:linear-gradient(90deg,#f7f6f6 0,#f7f6f6 52px,#dd7059 53px,#e98b6e 56px,#f3a481 58px,#f9c6ac 61px,#fcd5bf 62px,#f7f5f4 66px,#e4eef4 68px,#d1e5f0 70px,#a2cde3 73px,#78b4d5 76px,#59a1ca 79px,#4f9bc7 81px,#4c99c6 83px,#4f9bc7 85px,#5fa5cd 87px,#71b0d3 89px,#c7e0ed 95px,#d5e7f1 96px,#f3f5f6 99px,#f8f2ef 100px,#fddbc7 103px,#f5a886 107px,#eb9172 109px,#df765e 112px,#dc6e57 113px,#da6853 116px,#db6b55 118px,#e37e64 121px,#f2a17f 124px,#f7b799 126px,#fdddcb 129px,#f8f3f0 132px,#f2f5f6 133px,#d2e6f0 136px,#b3d6e8 138px,#8ac0db 141px,#6eaed2 143px,#5ca3cb 145px,#4f9bc7 147px,#4c99c6 149px,#4f9bc7 151px,#5ca3cb 153px,#6eaed2 155px,#b3d6e8 160px,#d2e6f0 162px,#f2f5f6 165px,#f8f3f0 166px,#fdddcb 169px,#f7b799 172px,#f2a17f 174px,#e37e64 177px,#db6b55 180px,#da6853 183px,#dc6e57 185px,#e6866a 188px,#f09c7b 190px,#f5a886 191px,#fddbc7 195px,#f8f2ef 198px,#f3f5f6 199px,#d5e7f1 202px,#7eb8d7 208px,#68abd0 210px,#569fc9 212px,#4c99c6 214px,#4c99c6 216px,#529dc8 218px,#62a7ce 220px,#78b4d5 222px,#a2cde3 225px,#d1e5f0 228px,#eff3f5 231px,#f7f5f4 232px,#fcd5bf 236px,#f7b99c 238px,#f3a481 240px,#e48066 243px,#dd7059 245px,#da6853 247px,#db6b55 250px,#de735c 252px,#ea8e70 255px,#f4a683 257px,#f8bda1 259px,#fdd9c4 261px,#f6f7f7 265px,#d7e8f1 268px,#90c4dd 273px,#75b2d4 275px,#5fa5cd 277px,#4c99c6 280px,#4c99c6 282px,#529dc8 284px,#62a7ce 286px,#78b4d5 288px,#bddbea 293px,#d8e9f1 295px,#f7f6f6 298px,#fcd7c2 302px,#f6b191 305px,#ef9979 307px,#e58368 309px,#e37e64 310px,#e6866a 311px,#f09c7b 312px,#fbccb4 314px,#fcdecd 315px,#f9eee7 317px,#f8f4f2 319px,#f7f6f6 323px,#f7f6f6 330px)"></i>
<i style="background:linear-gradient(90deg,#f7f6f6 0,#f7f6f6 52px,#d7634f 53px,#e37e64 56px,#f4a683 59px,#fdddcb 63px,#f7f5f4 66px,#e3edf3 68px,#cce2ef 70px,#8ac0db 74px,#6bacd1 76px,#529dc8 78px,#4393c3 80px,#408fc1 84px,#4695c4 86px,#59a1ca 88px,#71b0d3 90px,#93c6de 92px,#d2e6f0 96px,#f3f5f6 99px,#f8f2ef 100px,#fdd9c4 103px,#f6af8e 106px,#f2a17f 107px,#e27b62 110px,#d6604d 113px,#d25849 116px,#d7634f 119px,#da6853 120px,#e27b62 122px,#f3a481 125px,#fbccb4 128px,#fddbc7 129px,#f8f3f0 132px,#f0f4f6 133px,#cfe4ef 136px,#9dcbe1 139px,#90c4dd 140px,#6eaed2 142px,#569fc9 144px,#4695c4 146px,#408fc1 148px,#408fc1 150px,#4695c4 152px,#569fc9 154px,#6eaed2 156px,#90c4dd 158px,#9dcbe1 159px,#cfe4ef 162px,#f0f4f6 165px,#f8f3f0 166px,#fddbc7 169px,#f6b191 172px,#f3a481 173px,#e27b62 176px,#da6853 178px,#d35a4a 181px,#d25849 182px,#d6604d 185px,#e27b62 188px,#f2a17f 191px,#f8bb9e 193px,#fdd9c4 195px,#f8f2ef 198px,#f3f5f6 199px,#d2e6f0 202px,#93c6de 206px,#71b0d3 208px,#59a1ca 210px,#4695c4 212px,#408fc1 214px,#4393c3 218px,#529dc8 220px,#6bacd1 222px,#bbdaea 227px,#cce2ef 228px,#eff3f5 231px,#f7f5f4 232px,#fdddcb 235px,#f4a683 239px,#de735c 243px,#d55d4c 246px,#d35a4a 249px,#d35a4a 250px,#dc6e57 253px,#eb9172 256px,#f19e7d 257px,#f9c6ac 260px,#fcd5bf 261px,#f9f0eb 264px,#f6f7f7 265px,#d4e6f1 268px,#96c7df 272px,#75b2d4 274px,#4f9bc7 277px,#4393c3 279px,#408fc1 281px,#408fc1 283px,#4997c5 285px,#5ca3cb 287px,#78b4d5 289px,#a7d0e4 292px,#d5e7f1 295px,#f7f6f6 298px,#fcdecd 301px,#f5aa89 305px,#ea8e70 307px,#df765e 309px,#dd7059 310px,#e27b62 311px,#eb9172 312px,#f5ac8b 313px,#fddcc9 315px,#fbe6da 316px,#f8f1ed 318px,#f7f5f4 320px,#f7f6f6 330px)"></i>
<i style="background:linear-gradient(90deg,#f7f6f6 0,#f7f6f6 52px,#d25849 53px,#d55d4c 54px,#e48066 57px,#f19e7d 59px,#fddbc7 63px,#f7f5f4 66px,#e1edf3 68px,#d7e8f1 69px,#93c6de 73px,#5fa5cd 76px,#4695c4 78px,#3c8abe 80px,#3885bc 83px,#3e8cbf 86px,#4291c2 87px,#65a9cf 90px,#9bc9e0 93px,#cfe4ef 96px,#f3f5f6 99px,#f8f1ed 100px,#fcd5bf 103px,#f7b596 105px,#ef9979 107px,#dc6e57 110px,#d35a4a 112px,#cc4c44 115px,#cb4942 116px,#d05548 119px,#d86551 121px,#e98b6e 124px,#f5aa89 126px,#fdd9c4 129px,#f8f3f0 132px,#f0f4f6 133px,#cce2ef 136px,#a7d0e4 138px,#98c8e0 139px,#84bcd9 140px,#62a7ce 142px,#4997c5 144px,#408fc1 145px,#3885bc 149px,#408fc1 153px,#569fc9 155px,#62a7ce 156px,#84bcd9 158px,#98c8e0 159px,#b8d8e9 161px,#cce2ef 162px,#f0f4f6 165px,#f8f3f0 166px,#fdd9c4 169px,#f5aa89 172px,#e37e64 175px,#d86551 177px,#ce4f45 180px,#cb4942 182px,#d05548 185px,#d7634f 187px,#e8896c 190px,#f5a886 192px,#f7b596 193px,#fcd5bf 195px,#f8f1ed 198px,#f3f5f6 199px,#cfe4ef 202px,#8ac0db 206px,#65a9cf 208px,#4291c2 211px,#3a87bd 214px,#3a87bd 216px,#3c8abe 218px,#4695c4 220px,#5fa5cd 222px,#a5cee3 226px,#d7e8f1 229px,#edf2f5 231px,#f7f5f4 232px,#fddbc7 235px,#f19e7d 239px,#de735c 242px,#d55d4c 244px,#cc4c44 247px,#ce4f45 250px,#cf5246 251px,#db6b55 254px,#ec9374 257px,#f3a481 258px,#fcdecd 262px,#f6f7f7 265px,#d2e6f0 268px,#8dc2dc 272px,#6bacd1 274px,#4c99c6 276px,#4393c3 277px,#3a87bd 280px,#3a87bd 283px,#4393c3 286px,#5ca3cb 288px,#7eb8d7 290px,#a0cce2 292px,#d4e6f1 295px,#f7f6f6 298px,#fdddcb 301px,#f6b191 304px,#f3a481 305px,#df765e 308px,#db6b55 309px,#d86551 310px,#dd7059 311px,#e8896c 312px,#f4a683 313px,#fddbc7 315px,#f9ede5 317px,#f8f4f2 319px,#f7f6f6 323px,#f7f6f6 330px)"></i>
<i style="background:linear-gradient(90deg,#f7f6f6 0,#f7f6f6 52px,#cb4942 53px,#da6853 56px,#ee9677 59px,#f5a886 60px,#fdd9c4 63px,#f7f5f4 66px,#e1edf3 68px,#d4e6f1 69px,#8ac0db 73px,#529dc8 76px,#4695c4 77px,#3a87bd 79px,#337eb8 82px,#337eb8 84px,#408fc1 88px,#5ca3cb 90px,#6bacd1 91px,#93c6de 93px,#cce2ef 96px,#f3f5f6 99px,#f8f1ed 100px,#fcdecd 102px,#f2a17f 106px,#e37e64 108px,#d7634f 110px,#c94741 113px,#c53e3d 115px,#c6413e 118px,#ce4f45 120px,#d86551 122px,#ec9374 125px,#f3a481 126px,#fcd5bf 129px,#f8f3f0 132px,#f0f4f6 133px,#d7e8f1 135px,#90c4dd 139px,#68abd0 141px,#4997c5 143px,#3f8ec0 144px,#3480b9 147px,#3480b9 151px,#3f8ec0 154px,#4997c5 155px,#68abd0 157px,#90c4dd 159px,#d7e8f1 163px,#f0f4f6 165px,#f8f3f0 166px,#fcd5bf 169px,#f3a481 172px,#de735c 175px,#d35a4a 177px,#c94741 179px,#c53e3d 181px,#c6413e 184px,#d25849 187px,#d7634f 188px,#ea8e70 191px,#f2a17f 192px,#f8bfa4 194px,#fcdecd 196px,#f8f1ed 198px,#f3f5f6 199px,#cce2ef 202px,#81bad8 206px,#6bacd1 207px,#4c99c6 209px,#408fc1 210px,#337eb8 214px,#3480b9 217px,#3a87bd 219px,#4695c4 221px,#529dc8 222px,#b1d5e7 227px,#d4e6f1 229px,#edf2f5 231px,#f7f5f4 232px,#fdd9c4 235px,#f5a886 238px,#e6866a 240px,#da6853 242px,#cb4942 245px,#c53e3d 247px,#c6413e 250px,#c84440 251px,#d6604d 254px,#e98b6e 257px,#f19e7d 258px,#f5ac8b 259px,#fdddcb 262px,#f6f7f7 265px,#d1e5f0 268px,#84bcd9 272px,#5fa5cd 274px,#4291c2 276px,#3681ba 279px,#337eb8 281px,#3681ba 284px,#4393c3 287px,#4f9bc7 288px,#71b0d3 290px,#9bc9e0 292px,#d2e6f0 295px,#f7f6f6 298px,#fddbc7 301px,#f5ac8b 304px,#e8896c 306px,#db6b55 308px,#d6604d 309px,#d35a4a 310px,#d86551 311px,#e37e64 312px,#f2a17f 313px,#fcd7c2 315px,#fbe4d6 316px,#f8f1ed 318px,#f7f5f4 320px,#f7f6f6 330px)"></i>
<i style="background:linear-gradient(90deg,#f7f6f6 0,#f7f6f6 52px,#c53e3d 53px,#d55d4c 56px,#ea8e70 59px,#f2a17f 60px,#fcd5bf 63px,#f9ebe3 65px,#f7f5f4 66px,#e0ecf3 68px,#d2e6f0 69px,#98c8e0 72px,#81bad8 73px,#59a1ca 75px,#4997c5 76px,#3f8ec0 77px,#307ab6 80px,#2c75b4 83px,#327cb7 86px,#4291c2 89px,#4f9bc7 90px,#78b4d5 92px,#a0cce2 94px,#d8e9f1 97px,#f3f5f6 99px,#f8f1ed 100px,#fdddcb 102px,#fbceb7 103px,#f8bb9e 104px,#f5ac8b 105px,#ef9979 106px,#d86551 109px,#c6413e 112px,#be3036 115px,#c13639 118px,#c84440 120px,#d35a4a 122px,#e17860 124px,#f19e7d 126px,#f6af8e 127px,#fcd3bc 129px,#f8f3f0 132px,#f0f4f6 133px,#d5e7f1 135px,#c5dfec 136px,#87beda 139px,#5fa5cd 141px,#4c99c6 142px,#408fc1 143px,#3681ba 145px,#2c75b4 148px,#2c75b4 150px,#3a87bd 154px,#408fc1 155px,#4c99c6 156px,#71b0d3 158px,#9dcbe1 160px,#aed3e6 161px,#c5dfec 162px,#e3edf3 164px,#f0f4f6 165px,#f8f3f0 166px,#fcdfcf 168px,#f6af8e 171px,#e98b6e 173px,#e17860 174px,#d35a4a 176px,#c43b3c 179px,#be3036 182px,#be3036 183px,#c6413e 186px,#d86551 189px,#ef9979 192px,#f5ac8b 193px,#f8bb9e 194px,#fbceb7 195px,#fdddcb 196px,#f8f1ed 198px,#f3f5f6 199px,#d8e9f1 201px,#8dc2dc 205px,#62a7ce 207px,#4f9bc7 208px,#4291c2 209px,#327cb7 212px,#2c75b4 216px,#3480b9 219px,#3f8ec0 221px,#4997c5 222px,#59a1ca 223px,#98c8e0 226px,#d2e6f0 229px,#edf2f5 231px,#f8f4f2 232px,#fce2d2 234px,#f9c4a9 236px,#f2a17f 238px,#dc6e57 241px,#d55d4c 242px,#c53e3d 245px,#c13639 246px,#be3036 249px,#c2383a 251px,#d05548 254px,#d7634f 255px,#ee9677 258px,#f5a886 259px,#fddbc7 262px,#f9efe9 264px,#f5f6f7 265px,#cce2ef 268px,#90c4dd 271px,#65a9cf 273px,#4393c3 275px,#337eb8 278px,#2c75b4 281px,#307ab6 284px,#3885bc 286px,#4695c4 288px,#68abd0 290px,#93c6de 292px,#cfe4ef 295px,#f7f6f6 298px,#fdd9c4 301px,#f4a683 304px,#dd7059 307px,#d05548 309px,#ce4f45 310px,#d35a4a 311px,#df765e 312px,#ef9979 313px,#f7b99c 314px,#fcd5bf 315px,#fbe3d4 316px,#f9ebe3 317px,#f8f4f2 319px,#f7f6f6 323px,#f7f6f6 330px)"></i>
<i style="background:linear-gradient(90deg,#f7f6f6 0,#f7f6f6 52px,#bf3338 53px,#c94741 55px,#d7634f 57px,#f09c7b 60px,#f8bfa4 62px,#fcd3bc 63px,#fce0d0 64px,#f8f4f2 66px,#ecf2f5 67px,#d1e5f0 69px,#93c6de 72px,#4f9bc7 75px,#408fc1 76px,#2b73b3 80px,#276eb0 83px,#2a71b2 85px,#3681ba 88px,#4695c4 90px,#6eaed2 92px,#9bc9e0 94px,#d7e8f1 97px,#f2f5f6 99px,#f9f0eb 100px,#fddcc9 102px,#f4a683 105px,#e37e64 107px,#d55d4c 109px,#c13639 112px,#ba2832 114px,#b82531 117px,#c2383a 120px,#d6604d 123px,#ee9677 126px,#f5aa89 127px,#fcdecd 130px,#f8f2ef 132px,#eff3f5 133px,#d4e6f1 135px,#81bad8 139px,#68abd0 140px,#4393c3 142px,#3681ba 144px,#2870b1 147px,#2870b1 151px,#3b88be 155px,#4393c3 156px,#68abd0 158px,#81bad8 159px,#d4e6f1 163px,#eff3f5 165px,#f8f2ef 166px,#fcdecd 168px,#f5aa89 171px,#e58368 173px,#d6604d 175px,#c2383a 178px,#b82531 181px,#ba2832 184px,#c13639 186px,#d55d4c 189px,#ec9374 192px,#f4a683 193px,#fddcc9 196px,#f9f0eb 198px,#f2f5f6 199px,#d7e8f1 201px,#9bc9e0 204px,#59a1ca 207px,#4695c4 208px,#3681ba 210px,#2a71b2 213px,#276eb0 215px,#2b73b3 218px,#408fc1 222px,#4f9bc7 223px,#93c6de 226px,#d1e5f0 229px,#ecf2f5 231px,#f8f4f2 232px,#fce0d0 234px,#fcd3bc 235px,#f6af8e 237px,#f09c7b 238px,#d7634f 241px,#c43b3c 244px,#b82531 247px,#ba2832 250px,#c53e3d 253px,#d35a4a 255px,#ea8e70 258px,#f3a481 259px,#fdd9c4 262px,#f5f6f7 265px,#cae1ee 268px,#8ac0db 271px,#5ca3cb 273px,#4997c5 274px,#3e8cbf 275px,#2e77b5 278px,#2870b1 280px,#2870b1 283px,#2e77b5 285px,#3f8ec0 288px,#4c99c6 289px,#75b2d4 291px,#8dc2dc 292px,#cce2ef 295px,#f7f6f6 298px,#fcd7c2 301px,#f6b394 303px,#f2a17f 304px,#e17860 306px,#d25849 308px,#cb4942 309px,#c84440 310px,#ce4f45 311px,#db6b55 312px,#eb9172 313px,#f7b596 314px,#fbd0b9 315px,#fce2d2 316px,#faeae1 317px,#f8f3f0 319px,#f7f6f6 322px,#f7f6f6 330px)"></i>
<i style="background:linear-gradient(90deg,#f7f6f6 0,#f7f6f6 52px,#ba2832 53px,#c43b3c 55px,#d35a4a 57px,#ee9677 60px,#f5aa89 61px,#fbd0b9 63px,#faeae1 65px,#f8f4f2 66px,#ecf2f5 67px,#cfe4ef 69px,#8ac0db 72px,#5ca3cb 74px,#4695c4 75px,#3681ba 77px,#266caf 80px,#2267ac 83px,#246aae 85px,#2c75b4 87px,#408fc1 90px,#4f9bc7 91px,#96c7df 94px,#d5e7f1 97px,#f2f5f6 99px,#f9f0eb 100px,#fddbc7 102px,#f2a17f 105px,#d86551 108px,#c13639 111px,#b72230 113px,#b3192c 115px,#b3192c 117px,#bd2d35 120px,#c94741 122px,#da6853 124px,#f4a683 127px,#fdddcb 130px,#f8f2ef 132px,#eff3f5 133px,#d2e6f0 135px,#90c4dd 138px,#62a7ce 140px,#4c99c6 141px,#3e8cbf 142px,#2b73b3 145px,#2369ad 147px,#2369ad 151px,#307ab6 154px,#3e8cbf 156px,#4c99c6 157px,#78b4d5 159px,#90c4dd 160px,#d2e6f0 163px,#eff3f5 165px,#f8f2ef 166px,#fdddcb 168px,#f4a683 171px,#da6853 174px,#c2383a 177px,#b82531 179px,#b3192c 181px,#b41c2d 184px,#b72230 185px,#c13639 187px,#d86551 190px,#f2a17f 193px,#fddbc7 196px,#f9f0eb 198px,#f2f5f6 199px,#d5e7f1 201px,#96c7df 204px,#4f9bc7 207px,#408fc1 208px,#2c75b4 211px,#246aae 213px,#2267ac 215px,#266caf 218px,#3681ba 221px,#4695c4 223px,#71b0d3 225px,#a2cde3 227px,#cfe4ef 229px,#ecf2f5 231px,#f8f4f2 232px,#fcdfcf 234px,#fbd0b9 235px,#f5aa89 237px,#dc6e57 240px,#d35a4a 241px,#c43b3c 243px,#b61f2e 246px,#b3192c 247px,#b41c2d 250px,#bf3338 253px,#d6604d 256px,#f19e7d 259px,#f6b191 260px,#fcd7c2 262px,#f9eee7 264px,#f5f6f7 265px,#d8e9f1 267px,#c7e0ed 268px,#84bcd9 271px,#569fc9 273px,#4291c2 274px,#2e77b5 277px,#246aae 279px,#2267ac 282px,#2870b1 285px,#4393c3 289px,#569fc9 290px,#87beda 292px,#cae1ee 295px,#f7f6f6 298px,#fcd5bf 301px,#f6af8e 303px,#e6866a 305px,#dd7059 306px,#d6604d 307px,#c53e3d 309px,#c2383a 310px,#c94741 311px,#d7634f 312px,#e98b6e 313px,#f6b191 314px,#fbceb7 315px,#fce0d0 316px,#faeae1 317px,#f8f3f0 319px,#f7f6f6 322px,#f7f6f6 330px)"></i>
<i style="background:linear-gradient(90deg,#f7f6f6 0,#f7f6f6 52px,#b41c2d 53px,#c6413e 56px,#d86551 58px,#f4a683 61px,#fbceb7 63px,#fcdecd 64px,#f8f4f2 66px,#ecf2f5 67px,#cce2ef 69px,#84bcd9 72px,#529dc8 74px,#408fc1 75px,#307ab6 77px,#2065ab 80px,#1d5fa2 82px,#1f63a8 85px,#276eb0 87px,#3c8abe 90px,#4695c4 91px,#90c4dd 94px,#c0dceb 96px,#d4e6f1 97px,#f2f5f6 99px,#f9f0eb 100px,#fdd9c4 102px,#f6b191 104px,#f09c7b 105px,#d55d4c 108px,#bd2d35 111px,#b3192c 113px,#a81529 115px,#a81529 117px,#b3192c 119px,#c53e3d 122px,#d7634f 124px,#f2a17f 127px,#fddcc9 130px,#f8f2ef 132px,#eff3f5 133px,#d1e5f0 135px,#8ac0db 138px,#59a1ca 140px,#4393c3 141px,#2b73b3 144px,#1f63a8 147px,#1d5fa2 148px,#1d5fa2 150px,#266caf 153px,#3a87bd 156px,#4393c3 157px,#71b0d3 159px,#bbdaea 162px,#d1e5f0 163px,#eff3f5 165px,#f8f2ef 166px,#fddcc9 168px,#f2a17f 171px,#d7634f 174px,#c53e3d 176px,#b3192c 179px,#a81529 181px,#a81529 183px,#b3192c 185px,#bd2d35 187px,#d55d4c 190px,#f09c7b 193px,#f6b191 194px,#fdd9c4 196px,#f9f0eb 198px,#f2f5f6 199px,#d4e6f1 201px,#c0dceb 202px,#90c4dd 204px,#4695c4 207px,#2e77b5 210px,#2369ad 212px,#1e61a5 214px,#1d5fa2 216px,#2065ab 218px,#307ab6 221px,#408fc1 223px,#529dc8 224px,#9dcbe1 227px,#cce2ef 229px,#ecf2f5 231px,#f8f4f2 232px,#fcdecd 234px,#fbceb7 235px,#f4a683 237px,#d86551 240px,#c6413e 242px,#b41c2d 245px,#ae172a 246px,#a81529 249px,#b1182b 251px,#bb2a34 253px,#c94741 255px,#dc6e57 257px,#e48066 258px,#ef9979 259px,#f5ac8b 260px,#fcd5bf 262px,#f9eee7 264px,#f5f6f7 265px,#d7e8f1 267px,#c5dfec 268px,#7eb8d7 271px,#62a7ce 272px,#4c99c6 273px,#3e8cbf 274px,#2369ad 278px,#1d5fa2 281px,#1e61a5 283px,#2a71b2 286px,#3783bb 288px,#3f8ec0 289px,#4f9bc7 290px,#65a9cf 291px,#81bad8 292px,#c7e0ed 295px,#e9f0f4 297px,#f7f6f6 298px,#fcd3bc 301px,#f5aa89 303px,#e37e64 305px,#d25849 307px,#c13639 309px,#be3036 310px,#c53e3d 311px,#d55d4c 312px,#f5ac8b 314px,#fbccb4 315px,#fce0d0 316px,#f9f0eb 318px,#f7f6f6 321px,#f7f6f6 330px)"></i>
<i style="background:linear-gradient(90deg,#f7f6f6 0,#f7f6f6 52px,#ae172a 53px,#b41c2d 54px,#c2383a 56px,#d6604d 58px,#de735c 59px,#f3a481 61px,#fcdecd 64px,#f8f4f2 66px,#eaf1f5 67px,#cae1ee 69px,#9bc9e0 71px,#4c99c6 74px,#3e8cbf 75px,#266caf 78px,#2065ab 79px,#1b5a9c 81px,#195696 83px,#1e61a5 86px,#2369ad 87px,#307ab6 89px,#4291c2 91px,#569fc9 92px,#8dc2dc 94px,#d4e6f1 97px,#f2f5f6 99px,#f9f0eb 100px,#fcd7c2 102px,#f6af8e 104px,#e48066 106px,#d05548 108px,#b82531 111px,#b3192c 112px,#a81529 113px,#9c1127 116px,#a21328 118px,#b3192c 120px,#c94741 123px,#d35a4a 124px,#f19e7d 127px,#f9c6ac 129px,#fddbc7 130px,#f8f2ef 132px,#eff3f5 133px,#cfe4ef 135px,#87beda 138px,#529dc8 140px,#3f8ec0 141px,#276eb0 144px,#2267ac 145px,#1b5a9c 147px,#195696 149px,#1b5a9c 151px,#2267ac 153px,#2f79b5 155px,#3f8ec0 157px,#529dc8 158px,#a0cce2 161px,#cfe4ef 163px,#eff3f5 165px,#f8f2ef 166px,#fddbc7 168px,#f6b394 170px,#f19e7d 171px,#d35a4a 174px,#c13639 176px,#b3192c 178px,#a21328 180px,#9c1127 182px,#a81529 185px,#b3192c 186px,#bf3338 188px,#d05548 190px,#e48066 192px,#f6af8e 194px,#fcd7c2 196px,#f9f0eb 198px,#f2f5f6 199px,#d2e6f0 201px,#8dc2dc 204px,#569fc9 206px,#4291c2 207px,#2870b1 210px,#2369ad 211px,#1c5c9f 213px,#195696 215px,#1d5fa2 218px,#2065ab 219px,#3480b9 222px,#3e8cbf 223px,#4c99c6 224px,#9bc9e0 227px,#cae1ee 229px,#ecf2f5 231px,#f8f4f2 232px,#fcdecd 234px,#f3a481 237px,#de735c 239px,#d6604d 240px,#c2383a 242px,#b41c2d 244px,#a51429 246px,#9c1127 248px,#9c1127 249px,#b1182b 252px,#be3036 254px,#c53e3d 255px,#d86551 257px,#f5aa89 260px,#fcd3bc 262px,#fce2d2 263px,#f5f6f7 265px,#d7e8f1 267px,#93c6de 270px,#4393c3 273px,#2a71b2 276px,#1f63a8 278px,#1a5899 280px,#195696 282px,#1c5c9f 284px,#246aae 286px,#3b88be 289px,#4695c4 290px,#96c7df 293px,#c5dfec 295px,#d8e9f1 296px,#f7f6f6 298px,#fce0d0 300px,#fbd0b9 301px,#f5a886 303px,#d7634f 306px,#bd2d35 309px,#ba2832 310px,#c13639 311px,#d05548 312px,#e37e64 313px,#f5aa89 314px,#facab1 315px,#fcdfcf 316px,#fae9df 317px,#f9f0eb 318px,#f7f6f6 321px,#f7f6f6 330px)"></i>
<i style="background:linear-gradient(90deg,#f7f6f6 0,#f7f6f6 52px,#a51429 53px,#ae172a 54px,#b72230 55px,#d25849 58px,#dc6e57 59px,#f19e7d 61px,#fdddcb 64px,#f8f4f2 66px,#eaf1f5 67px,#dbeaf2 68px,#c7e0ed 69px,#96c7df 71px,#4695c4 74px,#307ab6 76px,#2267ac 78px,#1a5899 80px,#15508d 82px,#185493 85px,#266caf 88px,#3480b9 90px,#3f8ec0 91px,#4f9bc7 92px,#a2cde3 95px,#d2e6f0 97px,#f2f5f6 99px,#f9efe9 100px,#fbe4d6 101px,#fcd5bf 102px,#f5aa89 104px,#d86551 107px,#c43b3c 109px,#b41c2d 111px,#9f1228 113px,#930e26 115px,#991027 118px,#ab162a 120px,#b61f2e 121px,#bd2d35 122px,#da6853 125px,#ef9979 127px,#f6af8e 128px,#fddbc7 130px,#f8f2ef 132px,#eff3f5 133px,#cce2ef 135px,#81bad8 138px,#4c99c6 140px,#3c8abe 141px,#2369ad 144px,#185493 147px,#15508d 149px,#185493 151px,#2369ad 154px,#3c8abe 157px,#4c99c6 158px,#9bc9e0 161px,#cfe4ef 163px,#eff3f5 165px,#f8f2ef 166px,#fddbc7 168px,#f6af8e 170px,#e48066 172px,#da6853 173px,#bd2d35 176px,#b61f2e 177px,#ab162a 178px,#991027 180px,#930e26 183px,#9f1228 185px,#b41c2d 187px,#c43b3c 189px,#d86551 191px,#f5aa89 194px,#fcd5bf 196px,#fbe4d6 197px,#f9efe9 198px,#f2f5f6 199px,#d2e6f0 201px,#87beda 204px,#4f9bc7 206px,#3f8ec0 207px,#2c75b4 209px,#1f63a8 211px,#185493 213px,#15508d 216px,#1d5fa2 219px,#2267ac 220px,#3a87bd 223px,#4695c4 224px,#96c7df 227px,#c7e0ed 229px,#dbeaf2 230px,#eaf1f5 231px,#f8f4f2 232px,#fdddcb 234px,#f19e7d 237px,#dc6e57 239px,#d25849 240px,#b72230 243px,#ae172a 244px,#960f27 247px,#930e26 249px,#960f27 250px,#b3192c 253px,#c2383a 255px,#d6604d 257px,#f4a683 260px,#fbd0b9 262px,#fce2d2 263px,#f5f6f7 265px,#d5e7f1 267px,#a7d0e4 269px,#8dc2dc 270px,#569fc9 272px,#408fc1 273px,#2e77b5 275px,#2065ab 277px,#195696 279px,#15508d 281px,#175290 283px,#1c5c9f 285px,#2065ab 286px,#3885bc 289px,#4291c2 290px,#59a1ca 291px,#90c4dd 293px,#c2ddec 295px,#d7e8f1 296px,#f7f6f6 298px,#fcdfcf 300px,#fbceb7 301px,#f3a481 303px,#d55d4c 306px,#b82531 309px,#b61f2e 310px,#bd2d35 311px,#ce4f45 312px,#e17860 313px,#f4a683 314px,#fac8af 315px,#fcdecd 316px,#fae8de 317px,#f8f3f0 319px,#f7f6f6 322px,#f7f6f6 330px)"></i>
<i style="background:linear-gradient(90deg,#f7f6f6 0,#f7f6f6 52px,#9c1127 53px,#b3192c 55px,#cf5246 58px,#da6853 59px,#f09c7b 61px,#f6b191 62px,#fddcc9 64px,#f8f4f2 66px,#eaf1f5 67px,#dae9f2 68px,#acd2e5 70px,#93c6de 71px,#59a1ca 73px,#4291c2 74px,#266caf 77px,#1f63a8 78px,#1a5899 79px,#124984 82px,#134c87 84px,#185493 86px,#2267ac 88px,#3b88be 91px,#4997c5 92px,#84bcd9 94px,#d1e5f0 97px,#f2f5f6 99px,#f9efe9 100px,#fcd5bf 102px,#f5a886 104px,#df765e 106px,#d6604d 107px,#c13639 109px,#ae172a 111px,#960f27 113px,#8a0b25 115px,#900d26 118px,#b1182b 121px,#c2383a 123px,#d86551 125px,#ec9374 127px,#f5ac8b 128px,#fdd9c4 130px,#f8f2ef 132px,#edf2f5 133px,#cce2ef 135px,#98c8e0 137px,#5fa5cd 139px,#4695c4 140px,#307ab6 142px,#2065ab 144px,#1b5a9c 145px,#144e8a 147px,#124984 149px,#144e8a 151px,#1b5a9c 153px,#2065ab 154px,#307ab6 156px,#4695c4 158px,#7bb6d6 160px,#98c8e0 161px,#cce2ef 163px,#edf2f5 165px,#f8f2ef 166px,#fdd9c4 168px,#f5ac8b 170px,#ec9374 171px,#d86551 173px,#c2383a 175px,#b1182b 177px,#900d26 180px,#8a0b25 183px,#960f27 185px,#ae172a 187px,#c13639 189px,#d6604d 191px,#ea8e70 193px,#f5a886 194px,#fcd5bf 196px,#f9efe9 198px,#f2f5f6 199px,#d1e5f0 201px,#9dcbe1 203px,#4997c5 206px,#3b88be 207px,#2267ac 210px,#185493 212px,#124984 215px,#124984 216px,#1a5899 219px,#1f63a8 220px,#3783bb 223px,#4291c2 224px,#59a1ca 225px,#93c6de 227px,#c5dfec 229px,#dae9f2 230px,#eaf1f5 231px,#f8f4f2 232px,#fddcc9 234px,#f6b191 236px,#f09c7b 237px,#da6853 239px,#c53e3d 241px,#b3192c 243px,#930e26 246px,#8a0b25 248px,#8d0c25 250px,#ab162a 253px,#b61f2e 254px,#c84440 256px,#d35a4a 257px,#e8896c 259px,#f3a481 260px,#fbceb7 262px,#fce0d0 263px,#f5f6f7 265px,#d4e6f1 267px,#8ac0db 270px,#4f9bc7 272px,#3e8cbf 273px,#2369ad 276px,#15508d 279px,#124984 281px,#134c87 283px,#15508d 284px,#246aae 287px,#3f8ec0 290px,#529dc8 291px,#8dc2dc 293px,#d7e8f1 296px,#f7f6f6 298px,#fcdfcf 300px,#f2a17f 303px,#dc6e57 305px,#c6413e 307px,#b61f2e 309px,#b1182b 310px,#b82531 311px,#c94741 312px,#df765e 313px,#f3a481 314px,#f9c6ac 315px,#fcdecd 316px,#fae8de 317px,#f8f3f0 319px,#f7f6f6 322px,#f7f6f6 330px)"></i>
<i style="background:linear-gradient(90deg,#f7f6f6 0,#f7f6f6 52px,#930e26 53px,#ae172a 55px,#b82531 56px,#cc4c44 58px,#d86551 59px,#ee9677 61px,#f6af8e 62px,#fddcc9 64px,#f8f4f2 66px,#eaf1f5 67px,#dae9f2 68px,#c5dfec 69px,#90c4dd 71px,#569fc9 73px,#3f8ec0 74px,#2369ad 77px,#185493 79px,#134c87 80px,#0f437b 83px,#124984 85px,#1a5899 87px,#1f63a8 88px,#2f79b5 90px,#4695c4 92px,#9bc9e0 95px,#d1e5f0 97px,#f2f5f6 99px,#f9efe9 100px,#fbe3d4 101px,#fcd3bc 102px,#f4a683 104px,#de735c 106px,#d35a4a 107px,#b41c2d 110px,#991027 112px,#870a24 114px,#810823 116px,#900d26 119px,#ab162a 121px,#b72230 122px,#bf3338 123px,#d6604d 125px,#eb9172 127px,#f5aa89 128px,#fcd7c2 130px,#f8f2ef 132px,#edf2f5 133px,#cae1ee 135px,#96c7df 137px,#5ca3cb 139px,#4291c2 140px,#2c75b4 142px,#246aae 143px,#195696 145px,#114781 147px,#0f437b 149px,#114781 151px,#1d5fa2 154px,#246aae 155px,#3783bb 157px,#4291c2 158px,#78b4d5 160px,#96c7df 161px,#cae1ee 163px,#edf2f5 165px,#f8f1ed 166px,#fcd7c2 168px,#f5aa89 170px,#e17860 172px,#d6604d 173px,#bf3338 175px,#b72230 176px,#ab162a 177px,#900d26 179px,#810823 182px,#870a24 184px,#991027 186px,#b41c2d 188px,#d35a4a 191px,#e98b6e 193px,#f4a683 194px,#fcd3bc 196px,#fbe3d4 197px,#f9efe9 198px,#f2f5f6 199px,#d1e5f0 201px,#9bc9e0 203px,#4695c4 206px,#3885bc 207px,#266caf 209px,#1f63a8 210px,#15508d 212px,#10457e 214px,#0f437b 215px,#134c87 218px,#1c5c9f 220px,#2369ad 221px,#3f8ec0 224px,#569fc9 225px,#90c4dd 227px,#c5dfec 229px,#dae9f2 230px,#eaf1f5 231px,#f8f4f2 232px,#fddcc9 234px,#f6af8e 236px,#ee9677 237px,#d86551 239px,#cc4c44 240px,#b82531 242px,#ae172a 243px,#930e26 245px,#840924 247px,#810823 248px,#8d0c25 251px,#960f27 252px,#b3192c 254px,#c53e3d 256px,#d05548 257px,#e6866a 259px,#f2a17f 260px,#fbceb7 262px,#fce0d0 263px,#f5f6f7 265px,#d4e6f1 267px,#a2cde3 269px,#4c99c6 272px,#3b88be 273px,#2065ab 276px,#175290 278px,#10457e 280px,#0f437b 281px,#134c87 284px,#1b5a9c 286px,#2065ab 287px,#3c8abe 290px,#4f9bc7 291px,#8ac0db 293px,#d5e7f1 296px,#f7f6f6 298px,#fcdecd 300px,#f7b596 302px,#f09c7b 303px,#db6b55 305px,#cf5246 306px,#ba2832 308px,#b1182b 309px,#ab162a 310px,#b61f2e 311px,#c6413e 312px,#dd7059 313px,#f2a17f 314px,#f9c4a9 315px,#fdddcb 316px,#fae8de 317px,#f8f3f0 319px,#f7f6f6 322px,#f7f6f6 330px)"></i>
<i style="background:linear-gradient(90deg,#f7f6f6 0,#f7f6f6 52px,#8d0c25 53px,#a81529 55px,#b61f2e 56px,#d6604d 59px,#ec9374 61px,#f5ac8b 62px,#fddbc7 64px,#f8f4f2 66px,#eaf1f5 67px,#d8e9f1 68px,#c2ddec 69px,#8dc2dc 71px,#4f9bc7 73px,#3c8abe 74px,#2065ab 77px,#1a5899 78px,#114781 80px,#0d3f76 82px,#0e4179 84px,#134c87 86px,#1c5c9f 88px,#2369ad 89px,#4291c2 92px,#5ca3cb 93px,#98c8e0 95px,#cfe4ef 97px,#f2f5f6 99px,#f9efe9 100px,#fbe3d4 101px,#fbd0b9 102px,#f3a481 104px,#dc6e57 106px,#d05548 107px,#bb2a34 109px,#b1182b 110px,#930e26 112px,#7c0722 115px,#810823 118px,#960f27 120px,#b41c2d 122px,#bd2d35 123px,#d35a4a 125px,#ea8e70 127px,#f5a886 128px,#fcd7c2 130px,#f8f1ed 132px,#edf2f5 133px,#cae1ee 135px,#93c6de 137px,#569fc9 139px,#3f8ec0 140px,#2267ac 143px,#1b5a9c 144px,#0f437b 147px,#0d3f76 149px,#0f437b 151px,#1b5a9c 154px,#2267ac 155px,#3f8ec0 158px,#569fc9 159px,#93c6de 161px,#cae1ee 163px,#edf2f5 165px,#f8f1ed 166px,#fcd7c2 168px,#f5a886 170px,#de735c 172px,#d35a4a 173px,#bd2d35 175px,#b41c2d 176px,#960f27 178px,#810823 180px,#7c0722 183px,#930e26 186px,#b1182b 188px,#c53e3d 190px,#d05548 191px,#dc6e57 192px,#f3a481 194px,#fbd0b9 196px,#fbe3d4 197px,#f9efe9 198px,#f2f5f6 199px,#cfe4ef 201px,#98c8e0 203px,#5ca3cb 205px,#4291c2 206px,#2369ad 209px,#185493 211px,#10457e 213px,#0d3f76 215px,#0d3f76 216px,#114781 218px,#1a5899 220px,#2065ab 221px,#3c8abe 224px,#4f9bc7 225px,#8dc2dc 227px,#c2ddec 229px,#d8e9f1 230px,#eaf1f5 231px,#f8f4f2 232px,#fddbc7 234px,#f5ac8b 236px,#e17860 238px,#d6604d 239px,#b61f2e 242px,#a81529 243px,#8d0c25 245px,#7f0823 247px,#7c0722 249px,#900d26 252px,#ae172a 254px,#b82531 255px,#da6853 258px,#f19e7d 260px,#f7b596 261px,#fbccb4 262px,#fcdfcf 263px,#f5f6f7 265px,#d2e6f0 267px,#a0cce2 269px,#4695c4 272px,#266caf 275px,#1e61a5 276px,#134c87 278px,#0e4179 280px,#0d3f76 282px,#0e4179 283px,#195696 286px,#276eb0 288px,#3b88be 290px,#4997c5 291px,#87beda 293px,#d5e7f1 296px,#f7f6f6 298px,#fcdecd 300px,#f6b394 302px,#ef9979 303px,#d86551 305px,#b82531 308px,#ab162a 309px,#a51429 310px,#b3192c 311px,#c53e3d 312px,#dc6e57 313px,#f19e7d 314px,#f9c2a7 315px,#fdddcb 316px,#f9efe9 318px,#f7f5f4 320px,#f7f6f6 330px)"></i>
<i style="background:linear-gradient(90deg,#f7f6f6 0,#f7f6f6 52px,#870a24 53px,#a21328 55px,#b3192c 56px,#c84440 58px,#d55d4c 59px,#eb9172 61px,#f5ac8b 62px,#fddbc7 64px,#f8f4f2 66px,#e9f0f4 67px,#d8e9f1 68px,#c2ddec 69px,#8ac0db 71px,#4c99c6 73px,#3b88be 74px,#266caf 76px,#1e61a5 77px,#185493 78px,#0f437b 80px,#0a3b70 82px,#0c3d73 84px,#114781 86px,#1b5a9c 88px,#2267ac 89px,#3480b9 91px,#408fc1 92px,#59a1ca 93px,#98c8e0 95px,#b1d5e7 96px,#cfe4ef 97px,#f2f5f6 99px,#f9efe9 100px,#fbd0b9 102px,#f2a17f 104px,#db6b55 106px,#cf5246 107px,#b82531 109px,#ae172a 110px,#8d0c25 112px,#760521 115px,#7c0722 118px,#900d26 120px,#b1182b 122px,#c53e3d 124px,#d25849 125px,#dd7059 126px,#f4a683 128px,#fcd5bf 130px,#fbe5d8 131px,#f8f1ed 132px,#edf2f5 133px,#c7e0ed 135px,#90c4dd 137px,#529dc8 139px,#3e8cbf 140px,#1f63a8 143px,#195696 144px,#0d3f76 147px,#0a3b70 149px,#0d3f76 151px,#144e8a 153px,#1f63a8 155px,#3e8cbf 158px,#529dc8 159px,#90c4dd 161px,#c7e0ed 163px,#ddebf2 164px,#edf2f5 165px,#f8f1ed 166px,#fbe5d8 167px,#fcd5bf 168px,#f4a683 170px,#dd7059 172px,#d25849 173px,#c53e3d 174px,#b1182b 176px,#900d26 178px,#7c0722 180px,#760521 183px,#8d0c25 186px,#ae172a 188px,#b82531 189px,#cf5246 191px,#db6b55 192px,#f2a17f 194px,#fbd0b9 196px,#f9efe9 198px,#f2f5f6 199px,#cfe4ef 201px,#96c7df 203px,#59a1ca 205px,#408fc1 206px,#2b73b3 208px,#2267ac 209px,#15508d 211px,#0e4179 213px,#0a3b70 215px,#0a3b70 216px,#0f437b 218px,#185493 220px,#1e61a5 221px,#307ab6 223px,#3b88be 224px,#4c99c6 225px,#8ac0db 227px,#c2ddec 229px,#d8e9f1 230px,#eaf1f5 231px,#f8f4f2 232px,#fddbc7 234px,#f5ac8b 236px,#eb9172 237px,#d55d4c 239px,#bd2d35 241px,#b3192c 242px,#930e26 244px,#7f0823 246px,#760521 248px,#760521 249px,#8a0b25 252px,#a81529 254px,#b72230 255px,#cc4c44 257px,#d86551 258px,#f09c7b 260px,#f6b394 261px,#fcdfcf 263px,#f5f6f7 265px,#d2e6f0 267px,#9dcbe1 269px,#5fa5cd 271px,#4393c3 272px,#2369ad 275px,#114781 278px,#0c3d73 280px,#0a3b70 282px,#0c3d73 283px,#175290 286px,#1d5fa2 287px,#246aae 288px,#3885bc 290px,#4695c4 291px,#84bcd9 293px,#d4e6f1 296px,#f7f6f6 298px,#fdddcb 300px,#f6b191 302px,#ee9677 303px,#d7634f 305px,#bf3338 307px,#b61f2e 308px,#a81529 309px,#9f1228 310px,#ae172a 311px,#c2383a 312px,#da6853 313px,#f09c7b 314px,#f9c2a7 315px,#fddcc9 316px,#fae7dc 317px,#f9efe9 318px,#f7f5f4 320px,#f7f6f6 330px)"></i>
<i style="background:linear-gradient(90deg,#f7f6f6 0,#f7f6f6 52px,#810823 53px,#b1182b 56px,#c6413e 58px,#d35a4a 59px,#ea8e70 61px,#f5aa89 62px,#fdd9c4 64px,#f8f4f2 66px,#e9f0f4 67px,#d8e9f1 68px,#a5cee3 70px,#68abd0 72px,#4997c5 73px,#3a87bd 74px,#246aae 76px,#175290 78px,#114781 79px,#0a3b70 81px,#08366a 83px,#0c3d73 85px,#134c87 87px,#1f63a8 89px,#3f8ec0 92px,#569fc9 93px,#96c7df 95px,#cce2ef 97px,#f2f5f6 99px,#f9efe9 100px,#fce2d2 101px,#f7b799 103px,#f19e7d 104px,#da6853 106px,#c13639 108px,#b72230 109px,#a81529 110px,#960f27 111px,#760521 114px,#700320 116px,#790622 118px,#8d0c25 120px,#ae172a 122px,#b82531 123px,#d05548 125px,#dc6e57 126px,#f4a683 128px,#fcd5bf 130px,#fbe5d8 131px,#f8f1ed 132px,#edf2f5 133px,#c7e0ed 135px,#8dc2dc 137px,#4f9bc7 139px,#3c8abe 140px,#276eb0 142px,#1e61a5 143px,#124984 145px,#0a3b70 147px,#08366a 149px,#0a3b70 151px,#124984 153px,#1e61a5 155px,#276eb0 156px,#3c8abe 158px,#4f9bc7 159px,#8dc2dc 161px,#c7e0ed 163px,#edf2f5 165px,#f8f1ed 166px,#fcd5bf 168px,#f4a683 170px,#dc6e57 172px,#c43b3c 174px,#b82531 175px,#ae172a 176px,#8d0c25 178px,#790622 180px,#700320 182px,#760521 184px,#960f27 187px,#a81529 188px,#b72230 189px,#c13639 190px,#da6853 192px,#f19e7d 194px,#fbceb7 196px,#fce2d2 197px,#f9efe9 198px,#f2f5f6 199px,#cce2ef 201px,#96c7df 203px,#569fc9 205px,#3f8ec0 206px,#1f63a8 209px,#134c87 211px,#0c3d73 213px,#08366a 215px,#0a3b70 217px,#114781 219px,#1c5c9f 221px,#246aae 222px,#3a87bd 224px,#4997c5 225px,#87beda 227px,#c0dceb 229px,#d8e9f1 230px,#e9f0f4 231px,#f8f4f2 232px,#fdd9c4 234px,#f5aa89 236px,#de735c 238px,#d35a4a 239px,#bb2a34 241px,#b1182b 242px,#810823 245px,#730421 247px,#700320 249px,#7c0722 251px,#930e26 253px,#b41c2d 255px,#d7634f 258px,#ef9979 260px,#facab1 262px,#fcdecd 263px,#f5f6f7 265px,#d2e6f0 267px,#9bc9e0 269px,#5ca3cb 271px,#4291c2 272px,#2267ac 275px,#1a5899 276px,#10457e 278px,#09386d 280px,#08366a 282px,#10457e 285px,#1b5a9c 287px,#2369ad 288px,#4393c3 291px,#a0cce2 294px,#d4e6f1 296px,#f7f6f6 298px,#fdddcb 300px,#fac8af 301px,#f6af8e 302px,#ee9677 303px,#e17860 304px,#d6604d 305px,#b3192c 308px,#a21328 309px,#991027 310px,#ab162a 311px,#c13639 312px,#d86551 313px,#ef9979 314px,#f8bfa4 315px,#fddcc9 316px,#fae7dc 317px,#f9efe9 318px,#f7f5f4 320px,#f7f6f6 330px)"></i>
<i style="background:linear-gradient(90deg,#f7f6f6 0,#f7f6f6 52px,#7f0823 53px,#8a0b25 54px,#ae172a 56px,#ba2832 57px,#d25849 59px,#f5a886 62px,#fdd9c4 64px,#f8f4f2 66px,#e9f0f4 67px,#d7e8f1 68px,#c0dceb 69px,#84bcd9 71px,#4695c4 73px,#2e77b5 75px,#2369ad 76px,#15508d 78px,#0c3d73 80px,#073467 82px,#08366a 84px,#0e4179 86px,#185493 88px,#1e61a5 89px,#276eb0 90px,#3e8cbf 92px,#529dc8 93px,#93c6de 95px,#cce2ef 97px,#f2f5f6 99px,#f9efe9 100px,#fce2d2 101px,#f7b799 103px,#f19e7d 104px,#d86551 106px,#bf3338 108px,#b61f2e 109px,#a51429 110px,#840924 112px,#6d0220 115px,#730421 118px,#870a24 120px,#a81529 122px,#b72230 123px,#cf5246 125px,#db6b55 126px,#f3a481 128px,#fcd5bf 130px,#f8f1ed 132px,#edf2f5 133px,#dbeaf2 134px,#c5dfec 135px,#8dc2dc 137px,#4c99c6 139px,#3b88be 140px,#266caf 142px,#1d5fa2 143px,#114781 145px,#09386d 147px,#073467 148px,#073467 150px,#0d3f76 152px,#175290 154px,#1d5fa2 155px,#266caf 156px,#3b88be 158px,#4c99c6 159px,#8dc2dc 161px,#c5dfec 163px,#dbeaf2 164px,#edf2f5 165px,#f8f1ed 166px,#fcd5bf 168px,#f3a481 170px,#db6b55 172px,#c2383a 174px,#b72230 175px,#a81529 176px,#870a24 178px,#730421 180px,#6d0220 183px,#840924 186px,#a51429 188px,#b61f2e 189px,#bf3338 190px,#d86551 192px,#f19e7d 194px,#fbceb7 196px,#fce2d2 197px,#f9efe9 198px,#f0f4f6 199px,#cce2ef 201px,#93c6de 203px,#529dc8 205px,#3e8cbf 206px,#276eb0 208px,#1e61a5 209px,#124984 211px,#0a3b70 213px,#073467 215px,#073467 216px,#0c3d73 218px,#1b5a9c 221px,#2369ad 222px,#3885bc 224px,#4695c4 225px,#87beda 227px,#c0dceb 229px,#d7e8f1 230px,#e9f0f4 231px,#f8f4f2 232px,#fdd9c4 234px,#f5a886 236px,#dd7059 238px,#d25849 239px,#ba2832 241px,#ae172a 242px,#8a0b25 244px,#760521 246px,#6d0220 248px,#700320 250px,#810823 252px,#b3192c 255px,#d6604d 258px,#ee9677 260px,#f6b191 261px,#facab1 262px,#fcdecd 263px,#f5f6f7 265px,#d1e5f0 267px,#9bc9e0 269px,#5ca3cb 271px,#408fc1 272px,#2065ab 275px,#195696 276px,#0e4179 278px,#08366a 280px,#073467 282px,#08366a 283px,#134c87 286px,#2065ab 288px,#4291c2 291px,#9dcbe1 294px,#d4e6f1 296px,#f7f6f6 298px,#fdddcb 300px,#f6af8e 302px,#ec9374 303px,#d55d4c 305px,#bd2d35 307px,#b1182b 308px,#9f1228 309px,#960f27 310px,#a81529 311px,#bf3338 312px,#d86551 313px,#ef9979 314px,#f8bfa4 315px,#fddcc9 316px,#fae7dc 317px,#f9efe9 318px,#f7f5f4 320px,#f7f6f6 330px)"></i>
<i style="background:linear-gradient(90deg,#f7f6f6 0,#f7f6f6 52px,#7c0722 53px,#870a24 54px,#ab162a 56px,#b82531 57px,#d05548 59px,#e98b6e 61px,#f5a886 62px,#fdd9c4 64px,#f8f4f2 66px,#e9f0f4 67px,#d7e8f1 68px,#c0dceb 69px,#84bcd9 71px,#62a7ce 72px,#4695c4 73px,#3783bb 74px,#2267ac 76px,#1a5899 77px,#0a3b70 80px,#063264 82px,#073467 84px,#0d3f76 86px,#175290 88px,#1d5fa2 89px,#266caf 90px,#3c8abe 92px,#529dc8 93px,#93c6de 95px,#cce2ef 97px,#f0f4f6 99px,#f9efe9 100px,#fce2d2 101px,#fbceb7 102px,#f7b596 103px,#f09c7b 104px,#d86551 106px,#cb4942 107px,#b41c2d 109px,#900d26 111px,#760521 113px,#6a011f 115px,#6a011f 117px,#790622 119px,#930e26 121px,#a51429 122px,#b72230 123px,#c13639 124px,#ce4f45 125px,#db6b55 126px,#f3a481 128px,#fcd3bc 130px,#fbe4d6 131px,#f8f1ed 132px,#edf2f5 133px,#dbeaf2 134px,#c5dfec 135px,#a9d1e5 136px,#4c99c6 139px,#3a87bd 140px,#246aae 142px,#10457e 145px,#08366a 147px,#063264 148px,#063264 150px,#0c3d73 152px,#15508d 154px,#246aae 156px,#3a87bd 158px,#4c99c6 159px,#a9d1e5 162px,#c5dfec 163px,#dbeaf2 164px,#edf2f5 165px,#f8f1ed 166px,#fbe4d6 167px,#fcd3bc 168px,#f3a481 170px,#db6b55 172px,#ce4f45 173px,#c13639 174px,#b72230 175px,#a51429 176px,#840924 178px,#700320 180px,#6a011f 181px,#6a011f 183px,#760521 185px,#900d26 187px,#b41c2d 189px,#cb4942 191px,#d86551 192px,#f09c7b 194px,#f7b596 195px,#fbceb7 196px,#fce2d2 197px,#f9efe9 198px,#f0f4f6 199px,#cce2ef 201px,#93c6de 203px,#529dc8 205px,#3c8abe 206px,#266caf 208px,#1d5fa2 209px,#114781 211px,#09386d 213px,#063264 215px,#063264 216px,#0a3b70 218px,#1a5899 221px,#2267ac 222px,#3783bb 224px,#4695c4 225px,#a2cde3 228px,#c0dceb 229px,#d7e8f1 230px,#e9f0f4 231px,#f8f4f2 232px,#fdd9c4 234px,#f5a886 236px,#dd7059 238px,#d05548 239px,#b82531 241px,#ab162a 242px,#870a24 244px,#730421 246px,#6a011f 248px,#6d0220 250px,#7f0823 252px,#b1182b 255px,#c84440 257px,#d55d4c 258px,#ee9677 260px,#f6b191 261px,#fcdecd 263px,#f5f6f7 265px,#d1e5f0 267px,#98c8e0 269px,#59a1ca 271px,#3f8ec0 272px,#1f63a8 275px,#185493 276px,#0d3f76 278px,#073467 280px,#063264 282px,#09386d 284px,#124984 286px,#2065ab 288px,#408fc1 291px,#5ca3cb 292px,#9dcbe1 294px,#d4e6f1 296px,#f7f6f6 298px,#fddcc9 300px,#f5ac8b 302px,#ec9374 303px,#d35a4a 305px,#bb2a34 307px,#ae172a 308px,#9c1127 309px,#930e26 310px,#a51429 311px,#be3036 312px,#d7634f 313px,#ee9677 314px,#f8bda1 315px,#fddcc9 316px,#fae7dc 317px,#f8f2ef 319px,#f7f6f6 321px,#f7f6f6 330px)"></i>
<i style="background:linear-gradient(90deg,#f7f6f6 0,#f7f6f6 52px,#790622 53px,#a81529 56px,#b82531 57px,#d05548 59px,#e98b6e 61px,#f5a886 62px,#fdd9c4 64px,#f8f4f2 66px,#e9f0f4 67px,#d7e8f1 68px,#a2cde3 70px,#84bcd9 71px,#4393c3 73px,#2065ab 76px,#0e4179 79px,#09386d 80px,#053061 82px,#063264 84px,#0c3d73 86px,#15508d 88px,#1d5fa2 89px,#266caf 90px,#3c8abe 92px,#4f9bc7 93px,#93c6de 95px,#cae1ee 97px,#f0f4f6 99px,#f9eee7 100px,#fce0d0 101px,#fbceb7 102px,#f7b596 103px,#f09c7b 104px,#d7634f 106px,#b3192c 109px,#8d0c25 111px,#6d0220 114px,#67001f 115px,#6a011f 117px,#790622 119px,#930e26 121px,#a51429 122px,#b61f2e 123px,#da6853 126px,#f2a17f 128px,#fcd3bc 130px,#fbe4d6 131px,#f8f1ed 132px,#edf2f5 133px,#dbeaf2 134px,#c5dfec 135px,#8ac0db 137px,#4997c5 139px,#2e77b5 141px,#2369ad 142px,#0f437b 145px,#073467 147px,#053061 149px,#073467 151px,#0f437b 153px,#2369ad 156px,#3a87bd 158px,#4997c5 159px,#8ac0db 161px,#c5dfec 163px,#dbeaf2 164px,#edf2f5 165px,#f8f1ed 166px,#fbe4d6 167px,#fcd3bc 168px,#f2a17f 170px,#da6853 172px,#b61f2e 175px,#a51429 176px,#840924 178px,#700320 180px,#67001f 182px,#67001f 183px,#760521 185px,#8d0c25 187px,#b3192c 189px,#d7634f 192px,#f09c7b 194px,#f7b596 195px,#fbceb7 196px,#fce0d0 197px,#f9eee7 198px,#f0f4f6 199px,#cae1ee 201px,#93c6de 203px,#4f9bc7 205px,#3c8abe 206px,#266caf 208px,#1d5fa2 209px,#15508d 210px,#0c3d73 212px,#063264 214px,#053061 216px,#09386d 218px,#134c87 220px,#2267ac 222px,#3783bb 224px,#4393c3 225px,#84bcd9 227px,#bddbea 229px,#d7e8f1 230px,#e9f0f4 231px,#f8f4f2 232px,#fdd9c4 234px,#f5a886 236px,#dc6e57 238px,#c43b3c 240px,#b82531 241px,#a81529 242px,#790622 245px,#6a011f 247px,#67001f 249px,#730421 251px,#8a0b25 253px,#b1182b 255px,#bb2a34 256px,#d55d4c 258px,#ee9677 260px,#f6b191 261px,#fcdecd 263px,#f5f6f7 265px,#d1e5f0 267px,#98c8e0 269px,#59a1ca 271px,#3f8ec0 272px,#276eb0 274px,#1e61a5 275px,#114781 277px,#08366a 279px,#053061 281px,#063264 283px,#0d3f76 285px,#185493 287px,#1f63a8 288px,#3480b9 290px,#408fc1 291px,#7bb6d6 293px,#9bc9e0 294px,#d4e6f1 296px,#f7f6f6 298px,#fddcc9 300px,#f5ac8b 302px,#eb9172 303px,#d35a4a 305px,#ba2832 307px,#ae172a 308px,#991027 309px,#900d26 310px,#a21328 311px,#be3036 312px,#d7634f 313px,#ee9677 314px,#f8bda1 315px,#fddbc7 316px,#fae7dc 317px,#f8f2ef 319px,#f7f6f6 321px,#f7f6f6 330px)"></i>
<i style="background:linear-gradient(90deg,#f7f6f6 0,#f7f6f6 52px,#790622 53px,#840924 54px,#a81529 56px,#b72230 57px,#d05548 59px,#dc6e57 60px,#f5a886 62px,#fdd9c4 64px,#f8f4f2 66px,#e9f0f4 67px,#d7e8f1 68px,#a2cde3 70px,#84bcd9 71px,#4393c3 73px,#2b73b3 75px,#2065ab 76px,#195696 77px,#09386d 80px,#063264 81px,#053061 84px,#073467 85px,#15508d 88px,#246aae 90px,#3c8abe 92px,#4f9bc7 93px,#90c4dd 95px,#cae1ee 97px,#f0f4f6 99px,#f9eee7 100px,#fce0d0 101px,#f7b596 103px,#f09c7b 104px,#d7634f 106px,#c94741 107px,#b3192c 109px,#8d0c25 111px,#730421 113px,#67001f 115px,#67001f 117px,#760521 119px,#900d26 121px,#a21328 122px,#b61f2e 123px,#cc4c44 125px,#da6853 126px,#f2a17f 128px,#fcd3bc 130px,#fbe4d6 131px,#f8f1ed 132px,#edf2f5 133px,#dbeaf2 134px,#c5dfec 135px,#8ac0db 137px,#4997c5 139px,#3885bc 140px,#2369ad 142px,#0f437b 145px,#073467 147px,#053061 148px,#053061 150px,#0a3b70 152px,#144e8a 154px,#2369ad 156px,#3885bc 158px,#4997c5 159px,#8ac0db 161px,#c5dfec 163px,#dbeaf2 164px,#edf2f5 165px,#f8f1ed 166px,#fbe4d6 167px,#fcd3bc 168px,#f2a17f 170px,#da6853 172px,#cc4c44 173px,#b61f2e 175px,#a21328 176px,#810823 178px,#6d0220 180px,#67001f 181px,#67001f 183px,#730421 185px,#8d0c25 187px,#b3192c 189px,#c94741 191px,#d7634f 192px,#f09c7b 194px,#f7b596 195px,#fbceb7 196px,#fce0d0 197px,#f9eee7 198px,#f0f4f6 199px,#cae1ee 201px,#90c4dd 203px,#4f9bc7 205px,#3b88be 206px,#246aae 208px,#10457e 211px,#073467 213px,#053061 214px,#063264 217px,#0e4179 219px,#195696 221px,#2065ab 222px,#3681ba 224px,#4393c3 225px,#84bcd9 227px,#bddbea 229px,#d7e8f1 230px,#e9f0f4 231px,#f8f4f2 232px,#fdd9c4 234px,#f5a886 236px,#dc6e57 238px,#cf5246 239px,#b72230 241px,#a81529 242px,#840924 244px,#700320 246px,#67001f 248px,#6a011f 250px,#7c0722 252px,#ae172a 255px,#bb2a34 256px,#d55d4c 258px,#ec9374 260px,#f6af8e 261px,#fcdecd 263px,#f5f6f7 265px,#d1e5f0 267px,#98c8e0 269px,#569fc9 271px,#3f8ec0 272px,#276eb0 274px,#1e61a5 275px,#175290 276px,#0c3d73 278px,#063264 280px,#053061 282px,#08366a 284px,#114781 286px,#1f63a8 288px,#3480b9 290px,#408fc1 291px,#7bb6d6 293px,#9bc9e0 294px,#d2e6f0 296px,#f7f6f6 298px,#fddcc9 300px,#f5ac8b 302px,#de735c 304px,#c53e3d 306px,#ba2832 307px,#ab162a 308px,#991027 309px,#900d26 310px,#a21328 311px,#bd2d35 312px,#d6604d 313px,#ee9677 314px,#f8bda1 315px,#fddbc7 316px,#fae7dc 317px,#f8f2ef 319px,#f7f6f6 321px,#f7f6f6 330px)"></i>
<i style="background:linear-gradient(90deg,#f7f6f6 0,#f7f6f6 52px,#790622 53px,#840924 54px,#a81529 56px,#b72230 57px,#cf5246 59px,#dc6e57 60px,#f5a886 62px,#fdd9c4 64px,#f8f4f2 66px,#e9f0f4 67px,#d7e8f1 68px,#a2cde3 70px,#4393c3 73px,#2b73b3 75px,#2065ab 76px,#124984 78px,#063264 81px,#053061 84px,#0a3b70 86px,#1c5c9f 89px,#246aae 90px,#3b88be 92px,#4f9bc7 93px,#90c4dd 95px,#cae1ee 97px,#f0f4f6 99px,#f9eee7 100px,#fce0d0 101px,#f7b596 103px,#f09c7b 104px,#d7634f 106px,#c94741 107px,#b3192c 109px,#8d0c25 111px,#730421 113px,#67001f 115px,#67001f 117px,#760521 119px,#900d26 121px,#a21328 122px,#b61f2e 123px,#cc4c44 125px,#da6853 126px,#f2a17f 128px,#fcd3bc 130px,#fbe4d6 131px,#f8f1ed 132px,#edf2f5 133px,#dbeaf2 134px,#c5dfec 135px,#8ac0db 137px,#4997c5 139px,#3885bc 140px,#2369ad 142px,#0f437b 145px,#073467 147px,#053061 148px,#053061 150px,#0a3b70 152px,#144e8a 154px,#2369ad 156px,#3885bc 158px,#4997c5 159px,#8ac0db 161px,#c5dfec 163px,#dbeaf2 164px,#edf2f5 165px,#f8f1ed 166px,#fbe4d6 167px,#fcd3bc 168px,#f2a17f 170px,#da6853 172px,#cc4c44 173px,#b61f2e 175px,#a21328 176px,#810823 178px,#6d0220 180px,#67001f 181px,#67001f 183px,#730421 185px,#8d0c25 187px,#b3192c 189px,#c94741 191px,#d7634f 192px,#f09c7b 194px,#f7b596 195px,#fbceb7 196px,#fce0d0 197px,#f9eee7 198px,#f0f4f6 199px,#cae1ee 201px,#90c4dd 203px,#4f9bc7 205px,#3b88be 206px,#246aae 208px,#10457e 211px,#0a3b70 212px,#053061 214px,#063264 217px,#124984 220px,#2065ab 222px,#3681ba 224px,#4393c3 225px,#84bcd9 227px,#bddbea 229px,#d7e8f1 230px,#e9f0f4 231px,#f8f4f2 232px,#fdd9c4 234px,#f5a886 236px,#dc6e57 238px,#cf5246 239px,#b72230 241px,#a81529 242px,#840924 244px,#700320 246px,#67001f 248px,#6a011f 250px,#7c0722 252px,#ae172a 255px,#c6413e 257px,#d55d4c 258px,#ec9374 260px,#f6af8e 261px,#fcdecd 263px,#f5f6f7 265px,#d1e5f0 267px,#98c8e0 269px,#569fc9 271px,#3e8cbf 272px,#276eb0 274px,#1e61a5 275px,#175290 276px,#0c3d73 278px,#063264 280px,#053061 282px,#08366a 284px,#114781 286px,#1f63a8 288px,#337eb8 290px,#408fc1 291px,#7bb6d6 293px,#9bc9e0 294px,#d2e6f0 296px,#f7f6f6 298px,#fddcc9 300px,#f5ac8b 302px,#de735c 304px,#c53e3d 306px,#ba2832 307px,#ab162a 308px,#991027 309px,#900d26 310px,#a21328 311px,#bd2d35 312px,#d6604d 313px,#ec9374 314px,#f8bda1 315px,#fddbc7 316px,#fae7dc 317px,#f8f2ef 319px,#f7f6f6 321px,#f7f6f6 330px)"></i>
<i style="background:linear-gradient(90deg,#f7f6f6 0,#f7f6f6 52px,#790622 53px,#840924 54px,#a81529 56px,#b72230 57px,#d05548 59px,#dc6e57 60px,#f5a886 62px,#fdd9c4 64px,#f8f4f2 66px,#e9f0f4 67px,#d7e8f1 68px,#a2cde3 70px,#84bcd9 71px,#4393c3 73px,#2065ab 76px,#195696 77px,#09386d 80px,#053061 82px,#063264 84px,#0c3d73 86px,#15508d 88px,#266caf 90px,#3c8abe 92px,#4f9bc7 93px,#90c4dd 95px,#cae1ee 97px,#f0f4f6 99px,#f9eee7 100px,#fce0d0 101px,#fbceb7 102px,#f7b596 103px,#f09c7b 104px,#d7634f 106px,#b3192c 109px,#8d0c25 111px,#7f0823 112px,#67001f 115px,#67001f 117px,#760521 119px,#900d26 121px,#a51429 122px,#b61f2e 123px,#da6853 126px,#f2a17f 128px,#fcd3bc 130px,#fbe4d6 131px,#f8f1ed 132px,#edf2f5 133px,#dbeaf2 134px,#c5dfec 135px,#8ac0db 137px,#4997c5 139px,#2e77b5 141px,#2369ad 142px,#0f437b 145px,#073467 147px,#053061 148px,#053061 150px,#0a3b70 152px,#144e8a 154px,#2369ad 156px,#3a87bd 158px,#4997c5 159px,#8ac0db 161px,#c5dfec 163px,#dbeaf2 164px,#edf2f5 165px,#f8f1ed 166px,#fbe4d6 167px,#fcd3bc 168px,#f2a17f 170px,#da6853 172px,#b61f2e 175px,#a51429 176px,#900d26 177px,#760521 179px,#67001f 181px,#67001f 183px,#7f0823 186px,#9f1228 188px,#b3192c 189px,#d7634f 192px,#f09c7b 194px,#f7b596 195px,#fbceb7 196px,#fce0d0 197px,#f9eee7 198px,#f0f4f6 199px,#cae1ee 201px,#90c4dd 203px,#4f9bc7 205px,#3c8abe 206px,#266caf 208px,#15508d 210px,#0c3d73 212px,#063264 214px,#053061 216px,#09386d 218px,#134c87 220px,#2065ab 222px,#4393c3 225px,#84bcd9 227px,#bddbea 229px,#d7e8f1 230px,#e9f0f4 231px,#f8f4f2 232px,#fdd9c4 234px,#f5a886 236px,#dc6e57 238px,#c43b3c 240px,#b72230 241px,#a81529 242px,#840924 244px,#700320 246px,#67001f 248px,#6a011f 250px,#7c0722 252px,#9c1127 254px,#b1182b 255px,#bb2a34 256px,#d55d4c 258px,#ec9374 260px,#f6b191 261px,#fcdecd 263px,#f5f6f7 265px,#d1e5f0 267px,#98c8e0 269px,#569fc9 271px,#3f8ec0 272px,#276eb0 274px,#1e61a5 275px,#175290 276px,#0c3d73 278px,#063264 280px,#053061 282px,#063264 283px,#0d3f76 285px,#185493 287px,#1f63a8 288px,#3480b9 290px,#408fc1 291px,#7bb6d6 293px,#9bc9e0 294px,#d4e6f1 296px,#f7f6f6 298px,#fddcc9 300px,#f5ac8b 302px,#eb9172 303px,#d35a4a 305px,#ba2832 307px,#ae172a 308px,#991027 309px,#900d26 310px,#a21328 311px,#bd2d35 312px,#d6604d 313px,#ee9677 314px,#f8bda1 315px,#fddbc7 316px,#fae7dc 317px,#f8f2ef 319px,#f7f6f6 321px,#f7f6f6 330px)"></i>
<i style="background:linear-gradient(90deg,#f7f6f6 0,#f7f6f6 52px,#7c0722 53px,#960f27 55px,#ab162a 56px,#b82531 57px,#d05548 59px,#e98b6e 61px,#f5a886 62px,#fdd9c4 64px,#f8f4f2 66px,#e9f0f4 67px,#d7e8f1 68px,#a2cde3 70px,#84bcd9 71px,#4393c3 73px,#2b73b3 75px,#2267ac 76px,#134c87 78px,#0e4179 79px,#073467 81px,#053061 83px,#08366a 85px,#10457e 87px,#1d5fa2 89px,#266caf 90px,#3c8abe 92px,#529dc8 93px,#93c6de 95px,#cce2ef 97px,#f0f4f6 99px,#f9eee7 100px,#fce0d0 101px,#fbceb7 102px,#f7b596 103px,#f09c7b 104px,#d7634f 106px,#be3036 108px,#b41c2d 109px,#900d26 111px,#760521 113px,#6d0220 114px,#67001f 116px,#700320 118px,#840924 120px,#a51429 122px,#b61f2e 123px,#ce4f45 125px,#db6b55 126px,#f2a17f 128px,#fcd3bc 130px,#fbe4d6 131px,#f8f1ed 132px,#edf2f5 133px,#dbeaf2 134px,#c5dfec 135px,#8ac0db 137px,#4997c5 139px,#2e77b5 141px,#2369ad 142px,#0f437b 145px,#0a3b70 146px,#053061 149px,#0a3b70 152px,#144e8a 154px,#2369ad 156px,#3a87bd 158px,#4997c5 159px,#8ac0db 161px,#c5dfec 163px,#dbeaf2 164px,#edf2f5 165px,#f8f1ed 166px,#fbe4d6 167px,#fcd3bc 168px,#f2a17f 170px,#da6853 172px,#b61f2e 175px,#a51429 176px,#840924 178px,#700320 180px,#67001f 182px,#6d0220 184px,#810823 186px,#a21328 188px,#b41c2d 189px,#be3036 190px,#d7634f 192px,#f09c7b 194px,#f7b596 195px,#fbceb7 196px,#fce2d2 197px,#f9efe9 198px,#f0f4f6 199px,#cce2ef 201px,#93c6de 203px,#529dc8 205px,#3c8abe 206px,#266caf 208px,#1d5fa2 209px,#10457e 211px,#08366a 213px,#053061 215px,#073467 217px,#0e4179 219px,#1a5899 221px,#2267ac 222px,#3783bb 224px,#4393c3 225px,#84bcd9 227px,#bddbea 229px,#d7e8f1 230px,#e9f0f4 231px,#f8f4f2 232px,#fdd9c4 234px,#f5a886 236px,#dd7059 238px,#d05548 239px,#b82531 241px,#ab162a 242px,#960f27 243px,#700320 246px,#67001f 248px,#730421 251px,#9c1127 254px,#b1182b 255px,#c84440 257px,#d55d4c 258px,#ee9677 260px,#f6b191 261px,#fcdecd 263px,#f5f6f7 265px,#d1e5f0 267px,#98c8e0 269px,#59a1ca 271px,#3f8ec0 272px,#2870b1 274px,#1e61a5 275px,#114781 277px,#09386d 279px,#053061 281px,#09386d 284px,#124984 286px,#1f63a8 288px,#408fc1 291px,#5ca3cb 292px,#7eb8d7 293px,#d4e6f1 296px,#f7f6f6 298px,#fddcc9 300px,#f5ac8b 302px,#eb9172 303px,#d35a4a 305px,#bb2a34 307px,#ae172a 308px,#9c1127 309px,#930e26 310px,#a51429 311px,#be3036 312px,#d7634f 313px,#ee9677 314px,#f8bda1 315px,#fddbc7 316px,#fae7dc 317px,#f8f2ef 319px,#f7f6f6 321px,#f7f6f6 330px)"></i>
<i style="background:linear-gradient(90deg,#f7f6f6 0,#f7f6f6 52px,#7f0823 53px,#991027 55px,#ab162a 56px,#ba2832 57px,#d25849 59px,#dd7059 60px,#f5a886 62px,#fdd9c4 64px,#f8f4f2 66px,#e9f0f4 67px,#d7e8f1 68px,#c0dceb 69px,#84bcd9 71px,#4695c4 73px,#2267ac 76px,#0f437b 79px,#08366a 81px,#063264 83px,#09386d 85px,#114781 87px,#175290 88px,#1e61a5 89px,#276eb0 90px,#3e8cbf 92px,#529dc8 93px,#93c6de 95px,#cce2ef 97px,#f0f4f6 99px,#f9efe9 100px,#fce2d2 101px,#fbceb7 102px,#f7b596 103px,#f09c7b 104px,#d86551 106px,#b41c2d 109px,#a21328 110px,#790622 113px,#700320 114px,#6a011f 116px,#730421 118px,#870a24 120px,#a81529 122px,#b72230 123px,#cf5246 125px,#db6b55 126px,#f3a481 128px,#fcd3bc 130px,#fbe4d6 131px,#f8f1ed 132px,#edf2f5 133px,#dbeaf2 134px,#c5dfec 135px,#8dc2dc 137px,#4c99c6 139px,#3b88be 140px,#246aae 142px,#10457e 145px,#0c3d73 146px,#063264 149px,#0c3d73 152px,#15508d 154px,#246aae 156px,#3b88be 158px,#4c99c6 159px,#8dc2dc 161px,#c5dfec 163px,#dbeaf2 164px,#edf2f5 165px,#f8f1ed 166px,#fbe4d6 167px,#fcd3bc 168px,#f3a481 170px,#db6b55 172px,#c2383a 174px,#b72230 175px,#a81529 176px,#870a24 178px,#730421 180px,#6a011f 182px,#700320 184px,#840924 186px,#a21328 188px,#b41c2d 189px,#d86551 192px,#f09c7b 194px,#f7b799 195px,#fce2d2 197px,#f9efe9 198px,#f0f4f6 199px,#cce2ef 201px,#93c6de 203px,#529dc8 205px,#3e8cbf 206px,#276eb0 208px,#1e61a5 209px,#175290 210px,#0d3f76 212px,#073467 214px,#063264 215px,#08366a 217px,#0f437b 219px,#2369ad 222px,#3885bc 224px,#4695c4 225px,#a2cde3 228px,#c0dceb 229px,#d7e8f1 230px,#e9f0f4 231px,#f8f4f2 232px,#fdd9c4 234px,#f5a886 236px,#dd7059 238px,#d25849 239px,#ba2832 241px,#ab162a 242px,#7c0722 245px,#6d0220 247px,#6a011f 248px,#760521 251px,#8d0c25 253px,#b3192c 255px,#bd2d35 256px,#d6604d 258px,#ee9677 260px,#f6b191 261px,#fcdecd 263px,#f5f6f7 265px,#d1e5f0 267px,#98c8e0 269px,#7bb6d6 270px,#59a1ca 271px,#408fc1 272px,#2870b1 274px,#1f63a8 275px,#124984 277px,#073467 280px,#063264 282px,#0e4179 285px,#195696 287px,#2065ab 288px,#3681ba 290px,#4291c2 291px,#9dcbe1 294px,#d4e6f1 296px,#f7f6f6 298px,#fdddcb 300px,#f6af8e 302px,#df765e 304px,#d55d4c 305px,#bb2a34 307px,#b1182b 308px,#9c1127 309px,#930e26 310px,#a51429 311px,#bf3338 312px,#d7634f 313px,#ee9677 314px,#f8bfa4 315px,#fddcc9 316px,#fae7dc 317px,#f8f2ef 319px,#f7f6f6 321px,#f7f6f6 330px)"></i>
<i style="background:linear-gradient(90deg,#f7f6f6 0,#f7f6f6 52px,#810823 53px,#9c1127 55px,#ae172a 56px,#d25849 59px,#ea8e70 61px,#f5aa89 62px,#fdd9c4 64px,#f8f4f2 66px,#e9f0f4 67px,#d8e9f1 68px,#a5cee3 70px,#87beda 71px,#65a9cf 72px,#4997c5 73px,#3885bc 74px,#2369ad 76px,#10457e 79px,#09386d 81px,#08366a 84px,#0e4179 86px,#124984 87px,#1f63a8 89px,#3e8cbf 92px,#569fc9 93px,#96c7df 95px,#cce2ef 97px,#f2f5f6 99px,#f9efe9 100px,#fce2d2 101px,#f7b799 103px,#f19e7d 104px,#e48066 105px,#cc4c44 107px,#b61f2e 109px,#a81529 110px,#870a24 112px,#7c0722 113px,#700320 115px,#700320 117px,#7f0823 119px,#991027 121px,#ab162a 122px,#b82531 123px,#cf5246 125px,#e8896c 127px,#f3a481 128px,#fcd5bf 130px,#f8f1ed 132px,#edf2f5 133px,#dbeaf2 134px,#c5dfec 135px,#8dc2dc 137px,#4f9bc7 139px,#3b88be 140px,#266caf 142px,#1d5fa2 143px,#114781 145px,#08366a 148px,#073467 149px,#0a3b70 151px,#114781 153px,#266caf 156px,#3b88be 158px,#4f9bc7 159px,#8dc2dc 161px,#c7e0ed 163px,#edf2f5 165px,#f8f1ed 166px,#fcd5bf 168px,#f3a481 170px,#dc6e57 172px,#cf5246 173px,#b82531 175px,#ab162a 176px,#8a0b25 178px,#760521 180px,#700320 181px,#700320 183px,#7c0722 185px,#960f27 187px,#a81529 188px,#b61f2e 189px,#cc4c44 191px,#da6853 192px,#f19e7d 194px,#fbceb7 196px,#fce2d2 197px,#f9efe9 198px,#f2f5f6 199px,#cce2ef 201px,#93c6de 203px,#569fc9 205px,#3e8cbf 206px,#1f63a8 209px,#124984 211px,#0a3b70 213px,#08366a 214px,#09386d 217px,#10457e 219px,#246aae 222px,#3885bc 224px,#4997c5 225px,#65a9cf 226px,#87beda 227px,#c0dceb 229px,#d8e9f1 230px,#e9f0f4 231px,#f8f4f2 232px,#fdd9c4 234px,#f5aa89 236px,#de735c 238px,#d25849 239px,#ae172a 242px,#8d0c25 244px,#700320 247px,#730421 250px,#790622 251px,#a21328 254px,#b41c2d 255px,#c94741 257px,#d7634f 258px,#e27b62 259px,#ef9979 260px,#f6b191 261px,#facab1 262px,#fcdecd 263px,#f5f6f7 265px,#d2e6f0 267px,#9bc9e0 269px,#5ca3cb 271px,#408fc1 272px,#2065ab 275px,#134c87 277px,#0c3d73 279px,#08366a 281px,#09386d 283px,#0c3d73 284px,#144e8a 286px,#2267ac 288px,#3783bb 290px,#4393c3 291px,#7eb8d7 293px,#9dcbe1 294px,#d4e6f1 296px,#f7f6f6 298px,#fdddcb 300px,#f6af8e 302px,#ec9374 303px,#d55d4c 305px,#bd2d35 307px,#b3192c 308px,#9f1228 309px,#991027 310px,#a81529 311px,#bf3338 312px,#d86551 313px,#ef9979 314px,#f8bfa4 315px,#fddcc9 316px,#fae7dc 317px,#f9efe9 318px,#f7f5f4 320px,#f7f6f6 330px)"></i>
<i style="background:linear-gradient(90deg,#f7f6f6 0,#f7f6f6 52px,#840924 53px,#900d26 54px,#b3192c 56px,#d35a4a 59px,#f5aa89 62px,#fddbc7 64px,#f8f4f2 66px,#e9f0f4 67px,#d8e9f1 68px,#a5cee3 70px,#4c99c6 73px,#3a87bd 74px,#266caf 76px,#185493 78px,#0e4179 80px,#09386d 82px,#0a3b70 84px,#10457e 86px,#1a5899 88px,#2065ab 89px,#3f8ec0 92px,#59a1ca 93px,#96c7df 95px,#cce2ef 97px,#f2f5f6 99px,#f9efe9 100px,#fbd0b9 102px,#f7b799 103px,#f2a17f 104px,#e58368 105px,#ce4f45 107px,#b82531 109px,#ab162a 110px,#8a0b25 112px,#790622 114px,#730421 116px,#810823 119px,#9c1127 121px,#ae172a 122px,#ba2832 123px,#d05548 125px,#e98b6e 127px,#f4a683 128px,#fcd5bf 130px,#fbe5d8 131px,#f8f1ed 132px,#edf2f5 133px,#c7e0ed 135px,#90c4dd 137px,#6eaed2 138px,#529dc8 139px,#3c8abe 140px,#276eb0 142px,#1f63a8 143px,#134c87 145px,#0c3d73 147px,#09386d 149px,#0c3d73 151px,#134c87 153px,#1f63a8 155px,#327cb7 157px,#3c8abe 158px,#529dc8 159px,#6eaed2 160px,#90c4dd 161px,#c7e0ed 163px,#edf2f5 165px,#f8f1ed 166px,#fbe5d8 167px,#fcd5bf 168px,#f4a683 170px,#dd7059 172px,#d05548 173px,#ba2832 175px,#ae172a 176px,#8d0c25 178px,#810823 179px,#730421 182px,#790622 184px,#8a0b25 186px,#ab162a 188px,#b82531 189px,#ce4f45 191px,#e58368 193px,#f2a17f 194px,#f7b799 195px,#fbd0b9 196px,#f9efe9 198px,#f2f5f6 199px,#cce2ef 201px,#96c7df 203px,#59a1ca 205px,#3f8ec0 206px,#2065ab 209px,#144e8a 211px,#0d3f76 213px,#09386d 215px,#09386d 216px,#0e4179 218px,#1d5fa2 221px,#266caf 222px,#3b88be 224px,#4c99c6 225px,#a5cee3 228px,#d8e9f1 230px,#e9f0f4 231px,#f8f4f2 232px,#fddbc7 234px,#f5aa89 236px,#d35a4a 239px,#b3192c 242px,#9f1228 243px,#840924 245px,#760521 247px,#730421 249px,#870a24 252px,#a81529 254px,#b61f2e 255px,#bf3338 256px,#d86551 258px,#ef9979 260px,#facab1 262px,#fcdfcf 263px,#f5f6f7 265px,#d2e6f0 267px,#9bc9e0 269px,#4291c2 272px,#2267ac 275px,#15508d 277px,#0d3f76 279px,#09386d 281px,#0a3b70 283px,#15508d 286px,#2369ad 288px,#4393c3 291px,#a0cce2 294px,#d4e6f1 296px,#f7f6f6 298px,#fdddcb 300px,#f6b191 302px,#ee9677 303px,#d6604d 305px,#be3036 307px,#b41c2d 308px,#a51429 309px,#9c1127 310px,#ae172a 311px,#c2383a 312px,#da6853 313px,#ef9979 314px,#f8bfa4 315px,#fddcc9 316px,#fae7dc 317px,#f9efe9 318px,#f7f5f4 320px,#f7f6f6 330px)"></i>
<i style="background:linear-gradient(90deg,#f7f6f6 0,#f7f6f6 52px,#8a0b25 53px,#a51429 55px,#b41c2d 56px,#c94741 58px,#d6604d 59px,#ec9374 61px,#f5ac8b 62px,#fddbc7 64px,#f8f4f2 66px,#eaf1f5 67px,#d8e9f1 68px,#c2ddec 69px,#8ac0db 71px,#4f9bc7 73px,#3c8abe 74px,#276eb0 76px,#1f63a8 77px,#195696 78px,#10457e 80px,#0c3d73 82px,#0d3f76 84px,#124984 86px,#2369ad 89px,#3681ba 91px,#4291c2 92px,#5ca3cb 93px,#98c8e0 95px,#cfe4ef 97px,#f2f5f6 99px,#f9efe9 100px,#fbd0b9 102px,#f2a17f 104px,#dc6e57 106px,#c43b3c 108px,#ae172a 110px,#840924 113px,#790622 115px,#7f0823 118px,#930e26 120px,#b3192c 122px,#c6413e 124px,#d35a4a 125px,#e98b6e 127px,#f5a886 128px,#f8bda1 129px,#fcd7c2 130px,#f8f1ed 132px,#edf2f5 133px,#ddebf2 134px,#c7e0ed 135px,#93c6de 137px,#71b0d3 138px,#569fc9 139px,#3f8ec0 140px,#2a71b2 142px,#2065ab 143px,#1a5899 144px,#0e4179 147px,#0c3d73 148px,#0e4179 151px,#1a5899 154px,#2065ab 155px,#337eb8 157px,#3f8ec0 158px,#569fc9 159px,#71b0d3 160px,#93c6de 161px,#c7e0ed 163px,#ddebf2 164px,#edf2f5 165px,#f8f1ed 166px,#fcd7c2 168px,#f8bda1 169px,#f5a886 170px,#e98b6e 171px,#d35a4a 173px,#c6413e 174px,#b3192c 176px,#930e26 178px,#7f0823 180px,#790622 183px,#900d26 186px,#ae172a 188px,#c43b3c 190px,#dc6e57 192px,#f2a17f 194px,#fbd0b9 196px,#f9efe9 198px,#f2f5f6 199px,#cfe4ef 201px,#98c8e0 203px,#5ca3cb 205px,#4291c2 206px,#2267ac 209px,#124984 212px,#0d3f76 214px,#0c3d73 216px,#10457e 218px,#195696 220px,#1f63a8 221px,#327cb7 223px,#3c8abe 224px,#4f9bc7 225px,#8ac0db 227px,#c2ddec 229px,#d8e9f1 230px,#eaf1f5 231px,#f8f4f2 232px,#fddbc7 234px,#f5ac8b 236px,#e17860 238px,#d6604d 239px,#be3036 241px,#b41c2d 242px,#960f27 244px,#810823 246px,#790622 248px,#7c0722 250px,#8d0c25 252px,#ab162a 254px,#b82531 255px,#ce4f45 257px,#da6853 258px,#f09c7b 260px,#fbccb4 262px,#fcdfcf 263px,#f5f6f7 265px,#d2e6f0 267px,#81bad8 270px,#4695c4 272px,#2e77b5 274px,#246aae 275px,#124984 278px,#0d3f76 280px,#0c3d73 282px,#0d3f76 283px,#185493 286px,#1e61a5 287px,#266caf 288px,#3a87bd 290px,#4997c5 291px,#a2cde3 294px,#d5e7f1 296px,#f7f6f6 298px,#fdddcb 300px,#f6b191 302px,#ef9979 303px,#d7634f 305px,#b72230 308px,#a81529 309px,#a21328 310px,#b1182b 311px,#c43b3c 312px,#db6b55 313px,#f09c7b 314px,#f9c2a7 315px,#fdddcb 316px,#f9efe9 318px,#f7f5f4 320px,#f7f6f6 330px)"></i>
<i style="background:linear-gradient(90deg,#f7f6f6 0,#f7f6f6 52px,#900d26 53px,#ab162a 55px,#b72230 56px,#d7634f 59px,#ee9677 61px,#f6af8e 62px,#fddbc7 64px,#f8f4f2 66px,#eaf1f5 67px,#d8e9f1 68px,#a9d1e5 70px,#8dc2dc 71px,#529dc8 73px,#3e8cbf 74px,#2267ac 77px,#1b5a9c 78px,#124984 80px,#0e4179 82px,#0f437b 84px,#144e8a 86px,#1e61a5 88px,#2e77b5 90px,#4393c3 92px,#9bc9e0 95px,#cfe4ef 97px,#f2f5f6 99px,#f9efe9 100px,#fbe3d4 101px,#fcd3bc 102px,#f3a481 104px,#dd7059 106px,#d25849 107px,#b3192c 110px,#960f27 112px,#840924 114px,#7f0823 116px,#8d0c25 119px,#a81529 121px,#b61f2e 122px,#be3036 123px,#d55d4c 125px,#eb9172 127px,#f5aa89 128px,#fcd7c2 130px,#f8f1ed 132px,#edf2f5 133px,#cae1ee 135px,#93c6de 137px,#59a1ca 139px,#408fc1 140px,#2369ad 143px,#185493 145px,#10457e 147px,#0e4179 149px,#10457e 151px,#1c5c9f 154px,#2369ad 155px,#408fc1 158px,#75b2d4 160px,#96c7df 161px,#cae1ee 163px,#edf2f5 165px,#f8f1ed 166px,#fcd7c2 168px,#f5aa89 170px,#df765e 172px,#d55d4c 173px,#be3036 175px,#b61f2e 176px,#a81529 177px,#8d0c25 179px,#7f0823 182px,#840924 184px,#960f27 186px,#b3192c 188px,#d25849 191px,#e8896c 193px,#f3a481 194px,#fcd3bc 196px,#fbe3d4 197px,#f9efe9 198px,#f2f5f6 199px,#cfe4ef 201px,#9bc9e0 203px,#4393c3 206px,#246aae 209px,#195696 211px,#114781 213px,#0e4179 215px,#0e4179 216px,#124984 218px,#1b5a9c 220px,#2267ac 221px,#3e8cbf 224px,#529dc8 225px,#8dc2dc 227px,#c2ddec 229px,#dae9f2 230px,#eaf1f5 231px,#f8f4f2 232px,#fddbc7 234px,#f6af8e 236px,#e27b62 238px,#d7634f 239px,#b72230 242px,#ab162a 243px,#900d26 245px,#810823 247px,#7f0823 249px,#930e26 252px,#b1182b 254px,#c43b3c 256px,#cf5246 257px,#e58368 259px,#f19e7d 260px,#fbccb4 262px,#fcdfcf 263px,#f9ede5 264px,#f5f6f7 265px,#d4e6f1 267px,#84bcd9 270px,#4997c5 272px,#3a87bd 273px,#1f63a8 276px,#144e8a 278px,#0f437b 280px,#0e4179 282px,#0f437b 283px,#1a5899 286px,#1f63a8 287px,#327cb7 289px,#3b88be 290px,#4c99c6 291px,#87beda 293px,#d5e7f1 296px,#f7f6f6 298px,#fcdecd 300px,#f6b394 302px,#f09c7b 303px,#da6853 305px,#c2383a 307px,#b82531 308px,#ae172a 309px,#a81529 310px,#b41c2d 311px,#c6413e 312px,#dc6e57 313px,#f19e7d 314px,#f9c4a9 315px,#fdddcb 316px,#fae8de 317px,#f8f3f0 319px,#f7f6f6 322px,#f7f6f6 330px)"></i>
<i style="background:linear-gradient(90deg,#f7f6f6 0,#f7f6f6 52px,#960f27 53px,#b1182b 55px,#c43b3c 57px,#ce4f45 58px,#e37e64 60px,#ef9979 61px,#f9c6ac 63px,#fddcc9 64px,#f8f4f2 66px,#eaf1f5 67px,#dae9f2 68px,#acd2e5 70px,#75b2d4 72px,#569fc9 73px,#408fc1 74px,#246aae 77px,#195696 79px,#124984 81px,#114781 84px,#175290 86px,#2065ab 88px,#307ab6 90px,#3a87bd 91px,#4997c5 92px,#62a7ce 93px,#9dcbe1 95px,#d1e5f0 97px,#f2f5f6 99px,#f9efe9 100px,#fbe3d4 101px,#fcd3bc 102px,#f4a683 104px,#de735c 106px,#d55d4c 107px,#b61f2e 110px,#ab162a 111px,#930e26 113px,#870a24 115px,#870a24 117px,#9f1228 120px,#ae172a 121px,#c13639 123px,#d7634f 125px,#e17860 126px,#f5ac8b 128px,#fdd9c4 130px,#f8f2ef 132px,#edf2f5 133px,#cae1ee 135px,#98c8e0 137px,#5ca3cb 139px,#4393c3 140px,#2e77b5 142px,#1f63a8 144px,#15508d 146px,#114781 148px,#114781 150px,#15508d 152px,#1f63a8 154px,#2f79b5 156px,#4393c3 158px,#5ca3cb 159px,#98c8e0 161px,#cae1ee 163px,#edf2f5 165px,#f8f2ef 166px,#fdd9c4 168px,#f5ac8b 170px,#e17860 172px,#d7634f 173px,#c13639 175px,#ae172a 177px,#9f1228 178px,#870a24 181px,#870a24 183px,#930e26 185px,#ab162a 187px,#b61f2e 188px,#d55d4c 191px,#de735c 192px,#f4a683 194px,#fcd3bc 196px,#fbe3d4 197px,#f9efe9 198px,#f2f5f6 199px,#d1e5f0 201px,#9dcbe1 203px,#62a7ce 205px,#4997c5 206px,#3a87bd 207px,#276eb0 209px,#2065ab 210px,#175290 212px,#114781 214px,#124984 217px,#1d5fa2 220px,#246aae 221px,#408fc1 224px,#569fc9 225px,#90c4dd 227px,#c5dfec 229px,#dae9f2 230px,#eaf1f5 231px,#f8f4f2 232px,#fddcc9 234px,#f6b191 236px,#ef9979 237px,#e37e64 238px,#ce4f45 240px,#ba2832 242px,#b1182b 243px,#960f27 245px,#870a24 248px,#8a0b25 250px,#900d26 251px,#a81529 253px,#b41c2d 254px,#c6413e 256px,#d25849 257px,#f2a17f 260px,#fbceb7 262px,#fce0d0 263px,#f5f6f7 265px,#d4e6f1 267px,#87beda 270px,#4c99c6 272px,#3c8abe 273px,#2267ac 276px,#185493 278px,#124984 280px,#114781 282px,#144e8a 284px,#1c5c9f 286px,#2369ad 287px,#337eb8 289px,#3e8cbf 290px,#529dc8 291px,#8ac0db 293px,#c0dceb 295px,#d7e8f1 296px,#f7f6f6 298px,#fcdecd 300px,#fbccb4 301px,#f7b596 302px,#f19e7d 303px,#db6b55 305px,#c53e3d 307px,#b3192c 309px,#ae172a 310px,#b72230 311px,#c84440 312px,#de735c 313px,#f2a17f 314px,#f9c6ac 315px,#fdddcb 316px,#fae8de 317px,#f8f3f0 319px,#f7f6f6 322px,#f7f6f6 330px)"></i>
<i style="background:linear-gradient(90deg,#f7f6f6 0,#f7f6f6 52px,#9f1228 53px,#ab162a 54px,#b61f2e 55px,#bd2d35 56px,#d05548 58px,#db6b55 59px,#f09c7b 61px,#fac8af 63px,#fdddcb 64px,#f8f4f2 66px,#eaf1f5 67px,#c7e0ed 69px,#96c7df 71px,#5ca3cb 73px,#4393c3 74px,#276eb0 77px,#2065ab 78px,#185493 80px,#144e8a 82px,#144e8a 84px,#1a5899 86px,#2369ad 88px,#3c8abe 91px,#4c99c6 92px,#a0cce2 95px,#d1e5f0 97px,#f2f5f6 99px,#f9efe9 100px,#fbe4d6 101px,#fcd5bf 102px,#f5aa89 104px,#e17860 106px,#d7634f 107px,#c2383a 109px,#b3192c 111px,#a51429 112px,#930e26 114px,#900d26 117px,#9c1127 119px,#b41c2d 121px,#c43b3c 123px,#da6853 125px,#ee9677 127px,#f6af8e 128px,#fdd9c4 130px,#f8f2ef 132px,#edf2f5 133px,#cce2ef 135px,#9bc9e0 137px,#62a7ce 139px,#4997c5 140px,#3b88be 141px,#2870b1 143px,#2267ac 144px,#195696 146px,#134c87 149px,#195696 152px,#2267ac 154px,#327cb7 156px,#3b88be 157px,#4997c5 158px,#7eb8d7 160px,#9bc9e0 161px,#cce2ef 163px,#eff3f5 165px,#f8f2ef 166px,#fdd9c4 168px,#f6af8e 170px,#ee9677 171px,#d86551 173px,#c43b3c 175px,#b41c2d 177px,#9c1127 179px,#8d0c25 182px,#930e26 184px,#a51429 186px,#b3192c 187px,#c2383a 189px,#d7634f 191px,#eb9172 193px,#f5aa89 194px,#fcd5bf 196px,#fbe4d6 197px,#f9efe9 198px,#f2f5f6 199px,#d1e5f0 201px,#a0cce2 203px,#4c99c6 206px,#3c8abe 207px,#2369ad 210px,#175290 213px,#144e8a 214px,#15508d 217px,#185493 218px,#2065ab 220px,#3885bc 223px,#4393c3 224px,#78b4d5 226px,#96c7df 227px,#c7e0ed 229px,#eaf1f5 231px,#f8f4f2 232px,#fdddcb 234px,#f6b394 236px,#f09c7b 237px,#db6b55 239px,#d05548 240px,#bd2d35 242px,#b61f2e 243px,#ab162a 244px,#960f27 246px,#900d26 247px,#930e26 250px,#a21328 252px,#b1182b 253px,#c13639 255px,#c94741 256px,#d55d4c 257px,#e98b6e 259px,#f4a683 260px,#f7b99c 261px,#fbd0b9 262px,#f9ede5 264px,#f5f6f7 265px,#d5e7f1 267px,#8ac0db 270px,#529dc8 272px,#3f8ec0 273px,#246aae 276px,#1b5a9c 278px,#15508d 280px,#144e8a 282px,#185493 284px,#266caf 287px,#408fc1 290px,#569fc9 291px,#90c4dd 293px,#a7d0e4 294px,#c2ddec 295px,#d7e8f1 296px,#f7f6f6 298px,#fcdfcf 300px,#f2a17f 303px,#dd7059 305px,#d35a4a 306px,#c84440 307px,#b72230 309px,#b3192c 310px,#bb2a34 311px,#cc4c44 312px,#e17860 313px,#f4a683 314px,#f9c6ac 315px,#fcdecd 316px,#fae8de 317px,#f8f3f0 319px,#f7f6f6 322px,#f7f6f6 330px)"></i>
<i style="background:linear-gradient(90deg,#f7f6f6 0,#f7f6f6 52px,#a81529 53px,#b3192c 54px,#b82531 55px,#d35a4a 58px,#e8896c 60px,#f2a17f 61px,#fdddcb 64px,#f8f4f2 66px,#eaf1f5 67px,#cae1ee 69px,#98c8e0 71px,#4997c5 74px,#3b88be 75px,#246aae 78px,#1f63a8 79px,#1b5a9c 80px,#185493 82px,#185493 84px,#2065ab 87px,#2e77b5 89px,#408fc1 91px,#529dc8 92px,#8ac0db 94px,#d2e6f0 97px,#f2f5f6 99px,#f9f0eb 100px,#fcd7c2 102px,#f5ac8b 104px,#e37e64 106px,#cf5246 108px,#bd2d35 110px,#b61f2e 111px,#ae172a 112px,#9c1127 114px,#991027 117px,#a51429 119px,#b1182b 120px,#b72230 121px,#d25849 124px,#e58368 126px,#f09c7b 127px,#f6b191 128px,#fddbc7 130px,#f8f2ef 132px,#eff3f5 133px,#cfe4ef 135px,#84bcd9 138px,#4f9bc7 140px,#3e8cbf 141px,#266caf 144px,#1c5c9f 146px,#185493 148px,#185493 150px,#1c5c9f 152px,#2065ab 153px,#3480b9 156px,#3e8cbf 157px,#4f9bc7 158px,#9dcbe1 161px,#cfe4ef 163px,#eff3f5 165px,#f8f2ef 166px,#fddbc7 168px,#f6b191 170px,#f09c7b 171px,#dc6e57 173px,#d25849 174px,#b72230 177px,#b1182b 178px,#a51429 179px,#991027 181px,#9c1127 184px,#ae172a 186px,#b61f2e 187px,#c53e3d 189px,#da6853 191px,#ee9677 193px,#f5ac8b 194px,#fcd7c2 196px,#f9f0eb 198px,#f2f5f6 199px,#d2e6f0 201px,#8ac0db 204px,#529dc8 206px,#408fc1 207px,#2e77b5 209px,#2065ab 211px,#185493 214px,#195696 217px,#1b5a9c 218px,#1f63a8 219px,#337eb8 222px,#3b88be 223px,#4997c5 224px,#98c8e0 227px,#cae1ee 229px,#eaf1f5 231px,#f8f4f2 232px,#fdddcb 234px,#f2a17f 237px,#dd7059 239px,#d35a4a 240px,#b82531 243px,#b3192c 244px,#9f1228 246px,#991027 247px,#9c1127 250px,#ab162a 252px,#b41c2d 253px,#c43b3c 255px,#d7634f 257px,#f5a886 260px,#fcd3bc 262px,#fce2d2 263px,#f5f6f7 265px,#d5e7f1 267px,#90c4dd 270px,#59a1ca 272px,#4291c2 273px,#2267ac 277px,#1d5fa2 278px,#185493 281px,#195696 283px,#2369ad 286px,#307ab6 288px,#4393c3 290px,#93c6de 293px,#d8e9f1 296px,#f7f6f6 298px,#fcdfcf 300px,#fbceb7 301px,#f4a683 303px,#d6604d 306px,#c2383a 308px,#bb2a34 309px,#b72230 310px,#be3036 311px,#cf5246 312px,#e27b62 313px,#f5a886 314px,#fac8af 315px,#fcdfcf 316px,#fae9df 317px,#f8f3f0 319px,#f7f6f6 322px,#f7f6f6 330px)"></i>
<i style="background:linear-gradient(90deg,#f7f6f6 0,#f7f6f6 52px,#b1182b 53px,#bd2d35 55px,#d7634f 58px,#df765e 59px,#f3a481 61px,#fcdecd 64px,#f8f4f2 66px,#ecf2f5 67px,#cce2ef 69px,#84bcd9 72px,#4f9bc7 74px,#3f8ec0 75px,#2f79b5 77px,#1f63a8 80px,#1b5a9c 82px,#1d5fa2 85px,#2065ab 86px,#327cb7 89px,#4393c3 91px,#a7d0e4 95px,#d4e6f1 97px,#f2f5f6 99px,#f9f0eb 100px,#fdd9c4 102px,#f6af8e 104px,#ef9979 105px,#dc6e57 107px,#c94741 109px,#ba2832 111px,#b41c2d 112px,#a81529 114px,#a21328 115px,#a81529 118px,#b1182b 119px,#bb2a34 121px,#d55d4c 124px,#f19e7d 127px,#fac8af 129px,#fddcc9 130px,#f8f2ef 132px,#eff3f5 133px,#d1e5f0 135px,#87beda 138px,#569fc9 140px,#4291c2 141px,#2a71b2 144px,#1f63a8 146px,#1b5a9c 148px,#1b5a9c 150px,#1f63a8 152px,#307ab6 155px,#4291c2 157px,#569fc9 158px,#a0cce2 161px,#d1e5f0 163px,#eff3f5 165px,#f8f2ef 166px,#fddcc9 168px,#f6b394 170px,#f19e7d 171px,#d55d4c 174px,#bb2a34 177px,#b1182b 179px,#a81529 180px,#a21328 183px,#ae172a 185px,#b41c2d 186px,#c13639 188px,#d35a4a 190px,#e58368 192px,#ef9979 193px,#f6af8e 194px,#fdd9c4 196px,#f9f0eb 198px,#f2f5f6 199px,#d4e6f1 201px,#a7d0e4 203px,#4393c3 207px,#2b73b3 210px,#2065ab 212px,#1d5fa2 213px,#1b5a9c 216px,#2369ad 219px,#3783bb 222px,#3f8ec0 223px,#4f9bc7 224px,#84bcd9 226px,#cce2ef 229px,#ecf2f5 231px,#f8f4f2 232px,#fcdecd 234px,#f3a481 237px,#df765e 239px,#d7634f 240px,#bd2d35 243px,#b1182b 245px,#a21328 248px,#a51429 250px,#b3192c 252px,#bf3338 254px,#d05548 256px,#da6853 257px,#f5aa89 260px,#fcd3bc 262px,#f9eee7 264px,#f5f6f7 265px,#d7e8f1 267px,#acd2e5 269px,#7bb6d6 271px,#5fa5cd 272px,#4997c5 273px,#337eb8 275px,#266caf 277px,#2267ac 278px,#1c5c9f 280px,#1b5a9c 282px,#1e61a5 284px,#2267ac 285px,#3480b9 288px,#3e8cbf 289px,#4c99c6 290px,#62a7ce 291px,#7eb8d7 292px,#c5dfec 295px,#d8e9f1 296px,#f7f6f6 298px,#fce0d0 300px,#f8bda1 302px,#f5a886 303px,#e27b62 305px,#d86551 306px,#c6413e 308px,#bf3338 309px,#bb2a34 310px,#c2383a 311px,#d25849 312px,#e48066 313px,#f5ac8b 314px,#facab1 315px,#fcdfcf 316px,#fae9df 317px,#f9f0eb 318px,#f7f6f6 321px,#f7f6f6 330px)"></i>
<i style="background:linear-gradient(90deg,#f7f6f6 0,#f7f6f6 52px,#b72230 53px,#bb2a34 54px,#d25849 57px,#da6853 58px,#f5a886 61px,#fcdfcf 64px,#f8f4f2 66px,#ecf2f5 67px,#cce2ef 69px,#87beda 72px,#59a1ca 74px,#4393c3 75px,#337eb8 77px,#2369ad 80px,#1f63a8 83px,#1f63a8 84px,#2f79b5 88px,#3e8cbf 90px,#4c99c6 91px,#93c6de 94px,#d5e7f1 97px,#f2f5f6 99px,#f9f0eb 100px,#fddbc7 102px,#f6b394 104px,#f19e7d 105px,#d6604d 108px,#c53e3d 110px,#b61f2e 113px,#b1182b 114px,#ae172a 117px,#b61f2e 119px,#ba2832 120px,#cf5246 123px,#e17860 125px,#f3a481 127px,#fdddcb 130px,#f8f2ef 132px,#eff3f5 133px,#d2e6f0 135px,#8dc2dc 138px,#5ca3cb 140px,#4695c4 141px,#2e77b5 144px,#2267ac 147px,#1f63a8 148px,#1f63a8 150px,#2870b1 153px,#3c8abe 156px,#4695c4 157px,#75b2d4 159px,#a5cee3 161px,#d2e6f0 163px,#eff3f5 165px,#f8f2ef 166px,#fdddcb 168px,#f3a481 171px,#d86551 174px,#cf5246 175px,#ba2832 178px,#b3192c 180px,#ae172a 181px,#b1182b 184px,#ba2832 186px,#ce4f45 189px,#d6604d 190px,#f19e7d 193px,#f9c6ac 195px,#fddbc7 196px,#f9f0eb 198px,#f2f5f6 199px,#d5e7f1 201px,#93c6de 204px,#4c99c6 207px,#3e8cbf 208px,#2a71b2 211px,#2267ac 213px,#1f63a8 214px,#2065ab 217px,#2c75b4 220px,#3a87bd 222px,#4393c3 223px,#6eaed2 225px,#a0cce2 227px,#cfe4ef 229px,#ecf2f5 231px,#f8f4f2 232px,#fcdfcf 234px,#f5a886 237px,#da6853 240px,#c2383a 243px,#bb2a34 244px,#b3192c 246px,#ae172a 249px,#b41c2d 251px,#c43b3c 254px,#d55d4c 256px,#e58368 258px,#f09c7b 259px,#f6af8e 260px,#fcd5bf 262px,#f9eee7 264px,#f5f6f7 265px,#d8e9f1 267px,#98c8e0 270px,#4f9bc7 273px,#3f8ec0 274px,#2b73b3 277px,#2267ac 279px,#1f63a8 282px,#276eb0 285px,#327cb7 287px,#408fc1 289px,#529dc8 290px,#9bc9e0 293px,#c7e0ed 295px,#e9f0f4 297px,#f7f6f6 298px,#fce2d2 300px,#f8bfa4 302px,#f5ac8b 303px,#ee9677 304px,#d35a4a 307px,#c43b3c 309px,#bf3338 310px,#c6413e 311px,#d6604d 312px,#f6af8e 314px,#fbceb7 315px,#fce0d0 316px,#f9f0eb 318px,#f7f6f6 321px,#f7f6f6 330px)"></i>
<i style="background:linear-gradient(90deg,#f7f6f6 0,#f7f6f6 52px,#bd2d35 53px,#c6413e 55px,#d6604d 57px,#e58368 59px,#f5ac8b 61px,#fce0d0 64px,#f8f4f2 66px,#ecf2f5 67px,#d1e5f0 69px,#b8d8e9 70px,#78b4d5 73px,#5fa5cd 74px,#4c99c6 75px,#3f8ec0 76px,#327cb7 78px,#266caf 81px,#246aae 84px,#2a71b2 86px,#4291c2 90px,#68abd0 92px,#98c8e0 94px,#d7e8f1 97px,#f2f5f6 99px,#f9f0eb 100px,#fddcc9 102px,#fac8af 103px,#f3a481 105px,#da6853 108px,#cb4942 110px,#be3036 112px,#b72230 114px,#b61f2e 117px,#bf3338 120px,#cc4c44 122px,#dc6e57 124px,#ec9374 126px,#f5a886 127px,#fcdecd 130px,#f8f2ef 132px,#eff3f5 133px,#d4e6f1 135px,#93c6de 138px,#4f9bc7 141px,#408fc1 142px,#337eb8 144px,#266caf 147px,#266caf 151px,#3885bc 155px,#408fc1 156px,#4f9bc7 157px,#93c6de 160px,#d4e6f1 163px,#eff3f5 165px,#f8f2ef 166px,#fcdecd 168px,#f5a886 171px,#e48066 173px,#d55d4c 175px,#c53e3d 177px,#bb2a34 179px,#b61f2e 181px,#b72230 184px,#be3036 186px,#d25849 189px,#da6853 190px,#f3a481 193px,#fac8af 195px,#fddcc9 196px,#f9f0eb 198px,#f2f5f6 199px,#d7e8f1 201px,#98c8e0 204px,#529dc8 207px,#4291c2 208px,#2a71b2 212px,#246aae 214px,#266caf 217px,#327cb7 220px,#3f8ec0 222px,#4c99c6 223px,#5fa5cd 224px,#90c4dd 226px,#d1e5f0 229px,#ecf2f5 231px,#f8f4f2 232px,#fce0d0 234px,#f5ac8b 237px,#e58368 239px,#d6604d 241px,#c6413e 243px,#b82531 246px,#b61f2e 247px,#b72230 250px,#c2383a 253px,#d86551 256px,#f2a17f 259px,#f9c6ac 261px,#fdd9c4 262px,#f5f6f7 265px,#dae9f2 267px,#87beda 271px,#59a1ca 273px,#4393c3 274px,#2f79b5 277px,#276eb0 279px,#246aae 282px,#2b73b3 285px,#3c8abe 288px,#4695c4 289px,#71b0d3 291px,#a0cce2 293px,#cce2ef 295px,#f7f6f6 298px,#fbe3d4 300px,#fcd5bf 301px,#f6b191 303px,#f19e7d 304px,#d7634f 307px,#c84440 309px,#c53e3d 310px,#cc4c44 311px,#da6853 312px,#ea8e70 313px,#f6b394 314px,#fbd0b9 315px,#fce2d2 316px,#faeae1 317px,#f8f3f0 319px,#f7f6f6 322px,#f7f6f6 330px)"></i>
<i style="background:linear-gradient(90deg,#f7f6f6 0,#f7f6f6 52px,#c2383a 53px,#cc4c44 55px,#da6853 57px,#f19e7d 60px,#f9c2a7 62px,#fcd5bf 63px,#f8f4f2 66px,#ecf2f5 67px,#d2e6f0 69px,#96c7df 72px,#68abd0 74px,#4393c3 76px,#2e77b5 80px,#2a71b2 83px,#2f79b5 86px,#3f8ec0 89px,#4997c5 90px,#9dcbe1 94px,#c7e0ed 96px,#f2f5f6 99px,#f9f0eb 100px,#fdddcb 102px,#f5aa89 105px,#e58368 107px,#dd7059 108px,#cf5246 110px,#bf3338 113px,#bb2a34 115px,#bb2a34 117px,#c53e3d 120px,#d05548 122px,#e6866a 125px,#f09c7b 126px,#f5ac8b 127px,#fbd0b9 129px,#fcdfcf 130px,#f8f2ef 132px,#eff3f5 133px,#d5e7f1 135px,#84bcd9 139px,#59a1ca 141px,#4695c4 142px,#3783bb 144px,#2a71b2 148px,#2a71b2 150px,#3783bb 154px,#4695c4 156px,#6eaed2 158px,#acd2e5 161px,#d5e7f1 163px,#eff3f5 165px,#f8f2ef 166px,#fcdecd 168px,#fbd0b9 169px,#f5ac8b 171px,#f09c7b 172px,#e6866a 173px,#d05548 176px,#c13639 179px,#bb2a34 181px,#bd2d35 184px,#c43b3c 186px,#cf5246 188px,#dd7059 190px,#ee9677 192px,#f5aa89 193px,#fdddcb 196px,#f9f0eb 198px,#f2f5f6 199px,#c7e0ed 202px,#87beda 205px,#5ca3cb 207px,#4997c5 208px,#3885bc 210px,#2c75b4 213px,#2a71b2 216px,#327cb7 219px,#4393c3 222px,#68abd0 224px,#96c7df 226px,#d2e6f0 229px,#ecf2f5 231px,#f8f4f2 232px,#fcd5bf 235px,#f6b191 237px,#f19e7d 238px,#da6853 241px,#c6413e 244px,#be3036 246px,#bb2a34 249px,#bf3338 251px,#ce4f45 254px,#d55d4c 255px,#eb9172 258px,#f4a683 259px,#fddbc7 262px,#f9efe9 264px,#f5f6f7 265px,#cce2ef 268px,#8dc2dc 271px,#62a7ce 273px,#408fc1 275px,#307ab6 278px,#2b73b3 280px,#2b73b3 283px,#307ab6 285px,#4291c2 288px,#4f9bc7 289px,#90c4dd 292px,#cfe4ef 295px,#f7f6f6 298px,#fdd9c4 301px,#f3a481 304px,#ea8e70 305px,#db6b55 307px,#ce4f45 309px,#cb4942 310px,#d05548 311px,#dd7059 312px,#ee9677 313px,#f7b799 314px,#fcd3bc 315px,#fbe3d4 316px,#f9f0eb 318px,#f7f6f6 321px,#f7f6f6 330px)"></i>
<i style="background:linear-gradient(90deg,#f7f6f6 0,#f7f6f6 52px,#c84440 53px,#d7634f 56px,#e48066 58px,#f4a683 60px,#fcd7c2 63px,#f7f5f4 66px,#e0ecf3 68px,#d4e6f1 69px,#87beda 73px,#5fa5cd 75px,#4291c2 77px,#337eb8 80px,#2f79b5 83px,#327cb7 85px,#3e8cbf 88px,#4695c4 89px,#68abd0 91px,#90c4dd 93px,#cae1ee 96px,#f3f5f6 99px,#f8f1ed 100px,#fcdecd 102px,#f6af8e 105px,#e98b6e 107px,#d55d4c 110px,#c94741 112px,#c2383a 115px,#c13639 116px,#c6413e 119px,#d6604d 122px,#ea8e70 125px,#f2a17f 126px,#f9c2a7 128px,#fce0d0 130px,#f8f3f0 132px,#f0f4f6 133px,#d7e8f1 135px,#a0cce2 138px,#62a7ce 141px,#4393c3 143px,#3885bc 145px,#307ab6 148px,#307ab6 150px,#3885bc 153px,#4393c3 155px,#62a7ce 157px,#a0cce2 160px,#d7e8f1 163px,#f0f4f6 165px,#f8f3f0 166px,#fce0d0 168px,#f6b191 171px,#f2a17f 172px,#dc6e57 175px,#d6604d 176px,#c6413e 179px,#c13639 182px,#c6413e 185px,#c94741 186px,#d55d4c 188px,#e98b6e 191px,#f6af8e 193px,#fcdecd 196px,#f8f1ed 198px,#f3f5f6 199px,#cae1ee 202px,#90c4dd 205px,#68abd0 207px,#4695c4 209px,#3e8cbf 210px,#327cb7 213px,#2f79b5 215px,#337eb8 218px,#4291c2 221px,#5fa5cd 223px,#9bc9e0 226px,#d4e6f1 229px,#edf2f5 231px,#f7f5f4 232px,#fcd7c2 235px,#f4a683 238px,#dd7059 241px,#d7634f 242px,#c84440 245px,#c13639 248px,#c2383a 250px,#ce4f45 253px,#da6853 255px,#e6866a 257px,#f5aa89 259px,#fddcc9 262px,#f5f6f7 265px,#cfe4ef 268px,#93c6de 271px,#59a1ca 274px,#4997c5 275px,#3f8ec0 276px,#337eb8 279px,#2f79b5 282px,#3681ba 285px,#408fc1 287px,#4997c5 288px,#a9d1e5 293px,#d1e5f0 295px,#f7f6f6 298px,#fddbc7 301px,#f5a886 304px,#e6866a 306px,#d86551 308px,#d35a4a 309px,#d05548 310px,#d6604d 311px,#e17860 312px,#f09c7b 313px,#f8bb9e 314px,#fcd5bf 315px,#fbe4d6 316px,#f8f1ed 318px,#f7f5f4 320px,#f7f6f6 330px)"></i>
<i style="background:linear-gradient(90deg,#f7f6f6 0,#f7f6f6 52px,#ce4f45 53px,#d7634f 55px,#e27b62 57px,#f5aa89 60px,#fdd9c4 63px,#f7f5f4 66px,#e1edf3 68px,#d5e7f1 69px,#a0cce2 72px,#90c4dd 73px,#7bb6d6 74px,#59a1ca 76px,#4291c2 78px,#3783bb 81px,#3783bb 84px,#3f8ec0 87px,#4393c3 88px,#71b0d3 91px,#98c8e0 93px,#cfe4ef 96px,#f3f5f6 99px,#f8f1ed 100px,#fcdfcf 102px,#fcd3bc 103px,#f3a481 106px,#df765e 109px,#d55d4c 111px,#c94741 114px,#c84440 116px,#ce4f45 119px,#d6604d 121px,#e6866a 124px,#f5a886 126px,#fcd7c2 129px,#f8f3f0 132px,#f0f4f6 133px,#cae1ee 136px,#81bad8 140px,#5ca3cb 142px,#4393c3 144px,#3b88be 146px,#3681ba 148px,#3681ba 150px,#3e8cbf 153px,#4393c3 154px,#5ca3cb 156px,#93c6de 159px,#cae1ee 162px,#f0f4f6 165px,#f8f3f0 166px,#fcd7c2 169px,#f5a886 172px,#e6866a 174px,#d6604d 177px,#cb4942 180px,#c84440 183px,#cc4c44 185px,#d55d4c 187px,#e58368 190px,#f3a481 192px,#fcd3bc 195px,#fcdfcf 196px,#f8f1ed 198px,#f3f5f6 199px,#cfe4ef 202px,#98c8e0 205px,#71b0d3 207px,#4393c3 210px,#3885bc 213px,#3681ba 216px,#3e8cbf 219px,#4291c2 220px,#59a1ca 222px,#7bb6d6 224px,#90c4dd 225px,#a0cce2 226px,#d5e7f1 229px,#edf2f5 231px,#f7f5f4 232px,#fdd9c4 235px,#f5aa89 238px,#dc6e57 242px,#d25849 244px,#cb4942 246px,#c84440 249px,#cf5246 252px,#d86551 254px,#eb9172 257px,#f2a17f 258px,#fdddcb 262px,#f6f7f7 265px,#d1e5f0 268px,#87beda 272px,#65a9cf 274px,#4695c4 276px,#3885bc 279px,#3681ba 282px,#408fc1 286px,#569fc9 288px,#78b4d5 290px,#c2ddec 294px,#d2e6f0 295px,#f7f6f6 298px,#fddcc9 301px,#f19e7d 305px,#dd7059 308px,#d86551 309px,#d6604d 310px,#db6b55 311px,#e58368 312px,#f3a481 313px,#fdd9c4 315px,#fbe4d6 316px,#f8f1ed 318px,#f7f5f4 320px,#f7f6f6 330px)"></i>
<i style="background:linear-gradient(90deg,#f7f6f6 0,#f7f6f6 52px,#d55d4c 53px,#e17860 56px,#f3a481 59px,#f8bfa4 61px,#fddcc9 63px,#f7f5f4 66px,#e3edf3 68px,#cae1ee 70px,#87beda 74px,#65a9cf 76px,#4c99c6 78px,#4393c3 79px,#3c8abe 82px,#4291c2 86px,#4695c4 87px,#6bacd1 90px,#9dcbe1 93px,#d1e5f0 96px,#f3f5f6 99px,#fae9df 101px,#fcd7c2 103px,#f5aa89 106px,#ea8e70 108px,#de735c 110px,#d6604d 112px,#cf5246 115px,#cf5246 117px,#d35a4a 119px,#df765e 122px,#f2a17f 125px,#f8bb9e 127px,#fdd9c4 129px,#f8f3f0 132px,#f0f4f6 133px,#cfe4ef 136px,#a9d1e5 138px,#8ac0db 140px,#68abd0 142px,#4f9bc7 144px,#408fc1 146px,#3c8abe 149px,#408fc1 152px,#4f9bc7 154px,#68abd0 156px,#9bc9e0 159px,#bbdaea 161px,#cfe4ef 162px,#f0f4f6 165px,#f8f3f0 166px,#fdd9c4 169px,#f6af8e 172px,#eb9172 174px,#db6b55 177px,#d35a4a 179px,#cf5246 181px,#d05548 184px,#d6604d 186px,#de735c 188px,#f09c7b 191px,#f5aa89 192px,#fcd7c2 195px,#f8f1ed 198px,#f3f5f6 199px,#d1e5f0 202px,#8dc2dc 206px,#6bacd1 208px,#4695c4 211px,#3e8cbf 214px,#3e8cbf 217px,#4393c3 219px,#59a1ca 221px,#75b2d4 223px,#98c8e0 225px,#cae1ee 228px,#eff3f5 231px,#f7f5f4 232px,#fddcc9 235px,#f6b191 238px,#f3a481 239px,#e17860 242px,#d55d4c 245px,#cf5246 248px,#d05548 250px,#d6604d 252px,#dd7059 254px,#ef9979 257px,#f7b596 259px,#fcd3bc 261px,#f9f0eb 264px,#f6f7f7 265px,#d4e6f1 268px,#a2cde3 271px,#81bad8 273px,#6eaed2 274px,#4997c5 277px,#4291c2 278px,#3c8abe 282px,#3f8ec0 284px,#4997c5 286px,#62a7ce 288px,#93c6de 291px,#d5e7f1 295px,#f7f6f6 298px,#fcdecd 301px,#f6b394 304px,#f4a683 305px,#e27b62 308px,#dd7059 309px,#db6b55 310px,#df765e 311px,#e98b6e 312px,#f5aa89 313px,#fddbc7 315px,#f9ede5 317px,#f8f4f2 319px,#f7f6f6 323px,#f7f6f6 330px)"></i>
<i style="background:linear-gradient(90deg,#f7f6f6 0,#f7f6f6 52px,#db6b55 53px,#dd7059 54px,#e58368 56px,#f5aa89 59px,#fcd3bc 62px,#f9eee7 65px,#f7f5f4 66px,#e4eef4 68px,#cfe4ef 70px,#81bad8 75px,#65a9cf 77px,#529dc8 79px,#4695c4 81px,#4393c3 83px,#4997c5 85px,#569fc9 87px,#6bacd1 89px,#87beda 91px,#98c8e0 92px,#b3d6e8 94px,#d4e6f1 96px,#f3f5f6 99px,#f8f2ef 100px,#fdd9c4 103px,#f6b191 106px,#ef9979 108px,#df765e 111px,#d7634f 114px,#d6604d 116px,#da6853 119px,#e58368 122px,#f5a886 125px,#fddcc9 129px,#f8f3f0 132px,#f0f4f6 133px,#d1e5f0 136px,#84bcd9 141px,#68abd0 143px,#4c99c6 146px,#4393c3 148px,#4393c3 150px,#4c99c6 152px,#68abd0 155px,#93c6de 158px,#d1e5f0 162px,#f0f4f6 165px,#f8f3f0 166px,#fddcc9 169px,#f5a886 173px,#e58368 176px,#da6853 179px,#d6604d 182px,#d7634f 184px,#df765e 187px,#ef9979 190px,#f6b191 192px,#fdd9c4 195px,#f8f2ef 198px,#f3f5f6 199px,#d4e6f1 202px,#a5cee3 205px,#98c8e0 206px,#78b4d5 208px,#5fa5cd 210px,#4f9bc7 212px,#4695c4 214px,#4393c3 216px,#4c99c6 218px,#5ca3cb 220px,#71b0d3 222px,#a0cce2 225px,#cfe4ef 228px,#eff3f5 231px,#f7f5f4 232px,#fdddcb 235px,#fcd3bc 236px,#f5aa89 239px,#e58368 242px,#dd7059 244px,#d7634f 247px,#d6604d 249px,#dc6e57 252px,#de735c 253px,#ec9374 256px,#f3a481 257px,#f8bb9e 259px,#fcd7c2 261px,#f6f7f7 265px,#d5e7f1 268px,#8ac0db 273px,#6eaed2 275px,#59a1ca 277px,#4997c5 279px,#4393c3 281px,#4695c4 283px,#4f9bc7 285px,#62a7ce 287px,#7eb8d7 289px,#a9d1e5 292px,#cae1ee 294px,#f7f6f6 298px,#fcdfcf 301px,#fac8af 303px,#f5ac8b 305px,#e6866a 308px,#e27b62 309px,#e17860 310px,#e48066 311px,#ee9677 312px,#f6b191 313px,#fdddcb 315px,#f9eee7 317px,#f8f4f2 319px,#f7f6f6 323px,#f7f6f6 330px)"></i>
<i style="background:linear-gradient(90deg,#f7f6f6 0,#f7f6f6 52px,#e17860 53px,#e6866a 55px,#f09c7b 57px,#f8bda1 60px,#fcd7c2 62px,#f7f5f4 66px,#e6eff4 68px,#d2e6f0 70px,#a7d0e4 73px,#75b2d4 77px,#62a7ce 79px,#59a1ca 81px,#569fc9 83px,#59a1ca 85px,#65a9cf 87px,#7bb6d6 89px,#acd2e5 93px,#d5e7f1 96px,#f3f5f6 99px,#f8f2ef 100px,#fddcc9 103px,#f5ac8b 107px,#f2a17f 108px,#e58368 111px,#df765e 113px,#dd7059 116px,#de735c 118px,#e6866a 121px,#ef9979 123px,#f4a683 124px,#f6af8e 125px,#fcdecd 129px,#f8f4f2 132px,#f2f5f6 133px,#d4e6f1 136px,#90c4dd 141px,#6bacd1 144px,#5ca3cb 146px,#569fc9 148px,#569fc9 150px,#5ca3cb 152px,#6bacd1 154px,#b8d8e9 160px,#d4e6f1 162px,#f2f5f6 165px,#f8f3f0 166px,#fcdecd 169px,#f6af8e 173px,#f4a683 174px,#ea8e70 176px,#e17860 179px,#dd7059 181px,#de735c 184px,#e27b62 186px,#ee9677 189px,#f3a481 190px,#f5ac8b 191px,#fddcc9 195px,#f8f2ef 198px,#f3f5f6 199px,#cae1ee 203px,#a0cce2 206px,#6eaed2 210px,#5fa5cd 212px,#569fc9 214px,#569fc9 216px,#5ca3cb 218px,#6bacd1 220px,#81bad8 222px,#c2ddec 227px,#d2e6f0 228px,#eff3f5 231px,#f7f5f4 232px,#fcd7c2 236px,#f6b394 239px,#f09c7b 241px,#e37e64 244px,#dd7059 247px,#dd7059 250px,#e48066 253px,#ec9374 255px,#f2a17f 256px,#f7b596 258px,#fddbc7 261px,#f6f7f7 265px,#cce2ef 269px,#7bb6d6 275px,#5fa5cd 278px,#569fc9 280px,#569fc9 283px,#68abd0 286px,#7eb8d7 288px,#c0dceb 293px,#dae9f2 295px,#f7f6f6 298px,#fdd9c4 302px,#f7b596 305px,#f19e7d 307px,#e8896c 309px,#e6866a 310px,#ea8e70 311px,#f2a17f 312px,#fbceb7 314px,#fcdfcf 315px,#fae8de 316px,#f8f2ef 318px,#f7f6f6 322px,#f7f6f6 330px)"></i>
<i style="background:linear-gradient(90deg,#f7f6f6 0,#f7f6f6 52px,#e8896c 53px,#f19e7d 56px,#f6b191 58px,#fddbc7 62px,#f7f5f4 66px,#e7f0f4 68px,#cae1ee 71px,#9bc9e0 75px,#84bcd9 77px,#6eaed2 80px,#68abd0 82px,#68abd0 84px,#71b0d3 86px,#81bad8 88px,#b6d7e8 93px,#d1e5f0 95px,#f3f5f6 99px,#f9ebe3 101px,#fcd7c2 104px,#f8bfa4 106px,#f3a481 109px,#e98b6e 112px,#e48066 115px,#e58368 118px,#ec9374 121px,#f4a683 123px,#f9c2a7 126px,#fdd9c4 128px,#f8f4f2 132px,#f2f5f6 133px,#cce2ef 137px,#9dcbe1 141px,#7eb8d7 144px,#6bacd1 147px,#68abd0 149px,#6bacd1 151px,#7eb8d7 154px,#b3d6e8 159px,#d7e8f1 162px,#f2f5f6 165px,#f8f4f2 166px,#fdd9c4 170px,#f9c2a7 172px,#f4a683 175px,#ec9374 177px,#e58368 180px,#e48066 183px,#e98b6e 186px,#f3a481 189px,#facab1 193px,#fcd7c2 194px,#f8f2ef 198px,#f3f5f6 199px,#d1e5f0 203px,#a9d1e5 206px,#78b4d5 211px,#6bacd1 213px,#68abd0 215px,#6bacd1 217px,#75b2d4 219px,#84bcd9 221px,#bddbea 226px,#d5e7f1 228px,#f0f4f6 231px,#f7f5f4 232px,#fddbc7 236px,#f6b191 240px,#f19e7d 242px,#e8896c 245px,#e48066 247px,#e58368 250px,#eb9172 253px,#f2a17f 255px,#f8bda1 258px,#fcd5bf 260px,#f6f7f7 265px,#d2e6f0 269px,#acd2e5 272px,#81bad8 276px,#71b0d3 278px,#68abd0 281px,#6bacd1 283px,#75b2d4 285px,#84bcd9 287px,#aed3e6 291px,#d4e6f1 294px,#f7f6f6 298px,#fdddcb 302px,#f6b394 306px,#f2a17f 308px,#ec9374 310px,#f09c7b 311px,#f5ac8b 312px,#fcd5bf 314px,#fce2d2 315px,#f9efe9 317px,#f7f6f6 320px,#f7f6f6 330px)"></i>
<i style="background:linear-gradient(90deg,#f7f6f6 0,#f7f6f6 52px,#f09c7b 53px,#f4a683 55px,#f9c4a9 59px,#fcdecd 62px,#f7f5f4 66px,#e1edf3 69px,#c7e0ed 72px,#a7d0e4 75px,#84bcd9 80px,#7eb8d7 82px,#81bad8 85px,#a2cde3 90px,#d5e7f1 95px,#f5f6f7 99px,#f8f3f0 100px,#fddcc9 104px,#f8bfa4 107px,#f3a481 111px,#ee9677 114px,#ec9374 116px,#ee9677 118px,#f4a683 121px,#f7b99c 124px,#fdddcb 128px,#f8f4f2 132px,#f2f5f6 133px,#cae1ee 138px,#a0cce2 142px,#8ac0db 145px,#7eb8d7 148px,#7eb8d7 150px,#8ac0db 153px,#93c6de 154px,#a0cce2 156px,#d4e6f1 161px,#f2f5f6 165px,#f8f4f2 166px,#fdddcb 170px,#f7b99c 174px,#f4a683 177px,#ee9677 180px,#ec9374 183px,#f19e7d 186px,#f5aa89 188px,#f8bfa4 191px,#fddcc9 194px,#f8f3f0 198px,#f5f6f7 199px,#cce2ef 204px,#a2cde3 208px,#81bad8 213px,#7eb8d7 216px,#84bcd9 218px,#a7d0e4 223px,#d1e5f0 227px,#f0f4f6 231px,#f7f5f4 232px,#fcd7c2 237px,#f8bb9e 240px,#f4a683 243px,#ef9979 246px,#ec9374 249px,#f19e7d 252px,#f5a886 254px,#f8bfa4 257px,#fddbc7 260px,#f6f7f7 265px,#cfe4ef 270px,#a5cee3 274px,#87beda 278px,#7eb8d7 281px,#81bad8 283px,#87beda 285px,#90c4dd 286px,#a5cee3 289px,#d7e8f1 294px,#f7f6f6 298px,#fdd9c4 303px,#f7b596 307px,#f5a886 309px,#f4a683 310px,#f5aa89 311px,#f7b799 312px,#fddbc7 314px,#faeae1 316px,#f8f3f0 318px,#f7f6f6 321px,#f7f6f6 330px)"></i>
<i style="background:linear-gradient(90deg,#f7f6f6 0,#f7f6f6 52px,#f5ac8b 53px,#f7b99c 56px,#fbceb7 59px,#fdddcb 61px,#f7f5f4 66px,#eaf1f5 68px,#d1e5f0 72px,#b6d7e8 75px,#a2cde3 78px,#96c7df 81px,#98c8e0 85px,#a9d1e5 89px,#dae9f2 95px,#f5f6f7 99px,#fbe5d8 103px,#fddbc7 105px,#f9c4a9 108px,#f6b394 111px,#f5a886 114px,#f5a886 117px,#f6af8e 120px,#f8bfa4 123px,#fcd5bf 126px,#fbe6da 129px,#f8f4f2 132px,#f3f5f6 133px,#d1e5f0 138px,#aed3e6 142px,#9dcbe1 145px,#96c7df 149px,#9dcbe1 153px,#b6d7e8 157px,#d8e9f1 161px,#f3f5f6 165px,#f9f0eb 167px,#fddcc9 171px,#f9c6ac 174px,#f6b394 177px,#f5aa89 180px,#f5a886 183px,#f5a886 184px,#f7b799 188px,#facab1 191px,#fddbc7 193px,#f8f3f0 198px,#f5f6f7 199px,#cae1ee 205px,#a9d1e5 209px,#98c8e0 213px,#96c7df 217px,#a7d0e4 221px,#c7e0ed 225px,#d7e8f1 227px,#f2f5f6 231px,#f7f5f4 232px,#fcd7c2 238px,#f8bfa4 241px,#f6b191 244px,#f5a886 247px,#f5a886 250px,#f6b394 253px,#f9c2a7 256px,#fcdecd 260px,#f6f7f7 265px,#cce2ef 271px,#a5cee3 276px,#98c8e0 279px,#96c7df 283px,#a5cee3 287px,#c5dfec 291px,#d5e7f1 293px,#f7f6f6 298px,#fdd9c4 304px,#f9c2a7 307px,#f7b596 309px,#f6b394 310px,#f7b99c 311px,#f9c4a9 312px,#fcdecd 314px,#f9ede5 316px,#f8f3f0 318px,#f7f6f6 321px,#f7f6f6 330px)"></i>
<i style="background:linear-gradient(90deg,#f7f6f6 0,#f7f6f6 52px,#f8bb9e 53px,#f9c6ac 56px,#fdddcb 60px,#f7f6f6 66px,#cae1ee 74px,#b6d7e8 77px,#a9d1e5 80px,#a7d0e4 84px,#b3d6e8 88px,#f5f6f7 99px,#f9f0eb 101px,#fcd5bf 107px,#f8bfa4 111px,#f7b99c 113px,#f7b799 117px,#f8bda1 120px,#facab1 123px,#fddcc9 126px,#f7f5f4 132px,#edf2f5 134px,#cce2ef 140px,#b8d8e9 143px,#acd2e5 146px,#a7d0e4 149px,#aed3e6 153px,#c5dfec 157px,#ddebf2 161px,#f3f5f6 165px,#f7f5f4 166px,#fcd7c2 173px,#f9c6ac 176px,#f8bb9e 179px,#f7b799 182px,#f7b99c 185px,#f9c4a9 188px,#fcdfcf 193px,#f8f4f2 198px,#f5f6f7 199px,#c0dceb 208px,#aed3e6 211px,#a7d0e4 215px,#a9d1e5 218px,#bbdaea 222px,#d1e5f0 225px,#f7f6f6 232px,#fdddcb 238px,#f9c2a7 243px,#f7b99c 246px,#f7b799 249px,#f8bb9e 252px,#fac8af 255px,#fddbc7 258px,#faeae1 262px,#f6f7f7 265px,#c7e0ed 273px,#b3d6e8 276px,#a7d0e4 280px,#a9d1e5 284px,#c0dceb 289px,#d5e7f1 292px,#f7f6f6 298px,#fdd9c4 305px,#fac8af 308px,#f9c2a7 310px,#f9c6ac 311px,#fbceb7 312px,#fddbc7 313px,#fae8de 315px,#f8f2ef 317px,#f7f6f6 321px,#f7f6f6 330px)"></i>
<i style="background:linear-gradient(90deg,#f7f6f6 0,#f7f6f6 52px,#facab1 53px,#fcd7c2 57px,#f7f6f6 66px,#bddbea 79px,#b8d8e9 84px,#c7e0ed 89px,#f5f6f7 99px,#fdddcb 107px,#fddbc7 108px,#fbd0b9 110px,#fac8af 113px,#f9c6ac 117px,#fbceb7 121px,#fbe4d6 127px,#f7f5f4 132px,#eff3f5 134px,#c0dceb 145px,#b8d8e9 149px,#c2ddec 154px,#f5f6f7 165px,#f8f2ef 167px,#fddbc7 174px,#fbceb7 177px,#f9c6ac 181px,#fac8af 185px,#fcd5bf 189px,#fddbc7 190px,#fae9df 195px,#f5f6f7 199px,#c0dceb 211px,#b8d8e9 215px,#bddbea 219px,#f7f6f6 232px,#fcd7c2 241px,#facab1 245px,#f9c6ac 248px,#facab1 252px,#fbe3d4 259px,#f6f7f7 265px,#c0dceb 277px,#b8d8e9 281px,#c0dceb 286px,#f7f6f6 298px,#fddcc9 306px,#fbceb7 310px,#fdd9c4 312px,#f9ebe3 315px,#f8f2ef 317px,#f7f6f6 321px,#f7f6f6 330px)"></i>
<i style="height:2px;background:linear-gradient(90deg,#f7f6f6 0,#f7f6f6 52px,#f7b99c 53px,#facab1 57px,#fce0d0 61px,#f7f6f6 66px,#d1e5f0 73px,#c7e0ed 74px,#acd2e5 79px,#a5cee3 83px,#a9d1e5 86px,#c5dfec 91px,#f5f6f7 99px,#f9f0eb 101px,#fcd5bf 107px,#f9c4a9 110px,#f7b99c 113px,#f7b596 116px,#f7b99c 119px,#f9c4a9 122px,#fcd5bf 125px,#fddcc9 126px,#f7f5f4 132px,#edf2f5 134px,#cae1ee 140px,#b6d7e8 143px,#a9d1e5 146px,#a5cee3 149px,#acd2e5 153px,#c2ddec 157px,#d7e8f1 160px,#f3f5f6 165px,#f7f5f4 166px,#fddcc9 172px,#fbceb7 174px,#f8bfa4 177px,#f7b799 180px,#f7b596 183px,#f8bb9e 186px,#fac8af 189px,#fddbc7 192px,#f8f4f2 198px,#f5f6f7 199px,#c5dfec 207px,#b1d5e7 210px,#a7d0e4 213px,#a5cee3 216px,#b1d5e7 220px,#c7e0ed 224px,#d1e5f0 225px,#f7f6f6 232px,#fcd7c2 239px,#f9c6ac 242px,#f7b99c 245px,#f7b596 249px,#f8bda1 253px,#fcd3bc 257px,#fce2d2 260px,#f6f7f7 265px,#cce2ef 272px,#aed3e6 277px,#a7d0e4 279px,#a5cee3 282px,#b3d6e8 287px,#e0ecf3 294px,#f7f6f6 298px,#fdd9c4 305px,#f9c6ac 308px,#f8bfa4 310px,#f9c4a9 311px,#fddbc7 313px,#f9eee7 316px,#f8f4f2 318px,#f7f6f6 322px,#f7f6f6 330px)"></i>
<i style="background:linear-gradient(90deg,#f7f6f6 0,#f7f6f6 52px,#f6af8e 53px,#f8bb9e 56px,#fce2d2 62px,#f7f5f4 66px,#eaf1f5 68px,#d1e5f0 72px,#aed3e6 76px,#98c8e0 81px,#9bc9e0 85px,#a5cee3 88px,#dae9f2 95px,#f5f6f7 99px,#fce0d0 104px,#f8bfa4 109px,#f6b191 112px,#f5aa89 114px,#f5aa89 117px,#f6b191 120px,#f9c6ac 124px,#fddcc9 127px,#f8f4f2 132px,#f3f5f6 133px,#cae1ee 139px,#a9d1e5 143px,#98c8e0 147px,#98c8e0 151px,#a9d1e5 155px,#cae1ee 159px,#e6eff4 163px,#f3f5f6 165px,#f9f0eb 167px,#fddcc9 171px,#f8bfa4 175px,#f6b191 178px,#f5aa89 181px,#f5aa89 184px,#f7b596 187px,#f9c6ac 190px,#fce0d0 194px,#f5f6f7 199px,#cce2ef 205px,#a5cee3 210px,#98c8e0 214px,#9bc9e0 218px,#b6d7e8 223px,#d1e5f0 226px,#f2f5f6 231px,#f7f5f4 232px,#fcd7c2 238px,#f8bb9e 242px,#f6af8e 245px,#f5aa89 248px,#f5ac8b 251px,#f6b394 253px,#facab1 257px,#fddbc7 259px,#f6f7f7 265px,#cfe4ef 271px,#b3d6e8 274px,#9dcbe1 278px,#98c8e0 281px,#9bc9e0 284px,#a7d0e4 287px,#d5e7f1 293px,#f7f6f6 298px,#fdd9c4 304px,#f9c4a9 307px,#f7b799 309px,#f7b596 310px,#f7b99c 311px,#f9c4a9 312px,#fcdfcf 314px,#f9ede5 316px,#f8f3f0 318px,#f7f6f6 321px,#f7f6f6 330px)"></i>
<i style="background:linear-gradient(90deg,#f7f6f6 0,#f7f6f6 52px,#f7b99c 53px,#f9c4a9 56px,#fbceb7 58px,#fddcc9 60px,#f7f6f6 66px,#cfe4ef 73px,#b3d6e8 77px,#a7d0e4 80px,#a2cde3 83px,#a7d0e4 86px,#c2ddec 91px,#d2e6f0 93px,#f5f6f7 99px,#f9f0eb 101px,#fcd3bc 107px,#f9c2a7 110px,#f7b799 113px,#f6b394 116px,#f7b799 119px,#f8bda1 121px,#fcdfcf 127px,#f7f5f4 132px,#edf2f5 134px,#d1e5f0 139px,#c0dceb 141px,#aed3e6 144px,#a5cee3 147px,#a2cde3 149px,#a7d0e4 152px,#b3d6e8 155px,#c0dceb 157px,#d1e5f0 159px,#f3f5f6 165px,#f7f5f4 166px,#fcd5bf 173px,#f8bda1 177px,#f7b596 180px,#f6b394 182px,#f7b99c 186px,#f9c6ac 189px,#fcdecd 193px,#f8f4f2 198px,#f5f6f7 199px,#d2e6f0 205px,#bbdaea 208px,#a5cee3 213px,#a2cde3 216px,#aed3e6 220px,#c0dceb 223px,#d5e7f1 226px,#f7f6f6 232px,#fddcc9 238px,#fbceb7 240px,#f8bb9e 244px,#f7b596 246px,#f6b394 249px,#f7b99c 252px,#f9c6ac 255px,#fbd0b9 257px,#fdd9c4 258px,#f6f7f7 265px,#c5dfec 273px,#b1d5e7 276px,#a2cde3 281px,#acd2e5 286px,#cce2ef 291px,#f7f6f6 298px,#fcd7c2 305px,#f8bfa4 309px,#f8bda1 310px,#f9c2a7 311px,#fdd9c4 313px,#fae8de 315px,#f8f1ed 317px,#f7f5f4 319px,#f7f6f6 330px)"></i>
<i style="background:linear-gradient(90deg,#f7f6f6 0,#f7f6f6 52px,#f9c4a9 53px,#fbccb4 56px,#fcdfcf 60px,#f7f6f6 66px,#cae1ee 75px,#bddbea 77px,#b1d5e7 81px,#b3d6e8 86px,#c5dfec 90px,#d7e8f1 93px,#f5f6f7 99px,#fddbc7 107px,#fbccb4 110px,#f9c2a7 113px,#f8bfa4 116px,#f9c2a7 119px,#fbd0b9 123px,#fcdecd 126px,#f7f5f4 132px,#eff3f5 134px,#d1e5f0 140px,#b6d7e8 145px,#b1d5e7 148px,#b3d6e8 152px,#cae1ee 157px,#dae9f2 160px,#f3f5f6 165px,#f7f5f4 166px,#fddbc7 173px,#fac8af 177px,#f8bfa4 180px,#f8bfa4 184px,#fac8af 187px,#fcd5bf 190px,#fcdecd 192px,#f5f6f7 199px,#cce2ef 207px,#bbdaea 210px,#b1d5e7 213px,#b3d6e8 218px,#c2ddec 222px,#d8e9f1 226px,#f7f6f6 232px,#fcdfcf 238px,#fac8af 243px,#f8bfa4 247px,#f8bfa4 250px,#f9c6ac 253px,#fcd3bc 256px,#fce0d0 259px,#f6f7f7 265px,#b8d8e9 277px,#b1d5e7 281px,#b3d6e8 284px,#bddbea 287px,#ddebf2 293px,#f7f6f6 298px,#fdd9c4 306px,#facab1 309px,#fac8af 310px,#fbccb4 311px,#fbe4d6 314px,#f9efe9 316px,#f7f5f4 319px,#f7f6f6 330px)"></i>
<i style="background:linear-gradient(90deg,#f7f6f6 0,#f7f6f6 52px,#fbccb4 53px,#fddcc9 58px,#f7f6f6 66px,#c0dceb 79px,#bbdaea 84px,#cae1ee 89px,#f5f6f7 99px,#fddbc7 108px,#fbd0b9 111px,#fac8af 115px,#facab1 118px,#fbd0b9 121px,#fae7dc 128px,#f7f5f4 132px,#eff3f5 134px,#c2ddec 145px,#bbdaea 149px,#c5dfec 154px,#f5f6f7 165px,#f8f2ef 167px,#fcdecd 173px,#fbceb7 178px,#fac8af 181px,#facab1 184px,#fcd3bc 188px,#faeae1 195px,#f5f6f7 199px,#c2ddec 211px,#bbdaea 215px,#c0dceb 219px,#f7f6f6 232px,#fddcc9 240px,#fbccb4 245px,#fac8af 249px,#fbccb4 252px,#fbe3d4 259px,#f6f7f7 265px,#d7e8f1 272px,#c0dceb 278px,#bbdaea 282px,#c2ddec 286px,#d4e6f1 290px,#f7f6f6 298px,#fdddcb 306px,#fbd0b9 310px,#fddbc7 312px,#f9f0eb 316px,#f8f4f2 318px,#f7f6f6 322px,#f7f6f6 330px)"></i>
<i style="background:linear-gradient(90deg,#f7f6f6 0,#f7f6f6 52px,#fcd5bf 53px,#fce2d2 59px,#f7f6f6 66px,#d5e7f1 75px,#c7e0ed 80px,#c5dfec 83px,#d4e6f1 90px,#edf2f5 97px,#f6f7f7 99px,#f9efe9 102px,#fcdecd 108px,#fcd3bc 113px,#fbd0b9 117px,#fce2d2 125px,#f7f5f4 132px,#f0f4f6 134px,#d7e8f1 141px,#cae1ee 145px,#c5dfec 150px,#cae1ee 153px,#ecf2f5 163px,#f5f6f7 165px,#f9ede5 169px,#fdddcb 175px,#fbd0b9 181px,#fcd3bc 185px,#fce0d0 191px,#f7f5f4 198px,#f2f5f6 200px,#d7e8f1 207px,#c7e0ed 213px,#c5dfec 216px,#cce2ef 220px,#e7f0f4 228px,#f7f6f6 232px,#fce2d2 239px,#fcd3bc 246px,#fbd0b9 249px,#fcd7c2 253px,#fae8de 260px,#f6f7f7 265px,#d7e8f1 273px,#c7e0ed 279px,#c5dfec 282px,#cfe4ef 287px,#eaf1f5 295px,#f7f6f6 298px,#fce0d0 306px,#fdd9c4 309px,#fddbc7 311px,#f8f1ed 316px,#f7f6f6 319px,#f7f6f6 330px)"></i>
<i style="background:linear-gradient(90deg,#f7f6f6 0,#f7f6f6 52px,#fddbc7 53px,#fbe5d8 59px,#f8f3f0 65px,#f7f6f6 66px,#d7e8f1 76px,#cfe4ef 82px,#d5e7f1 89px,#eaf1f5 96px,#f6f7f7 99px,#fcdfcf 109px,#fdd9c4 115px,#fdd9c4 118px,#fbe4d6 125px,#f5f6f7 133px,#dae9f2 141px,#cfe4ef 148px,#d1e5f0 152px,#e0ecf3 159px,#f5f6f7 165px,#f9ebe3 170px,#fcdecd 176px,#fdd9c4 181px,#fdd9c4 184px,#fce2d2 190px,#f8f2ef 197px,#f6f7f7 199px,#ddebf2 206px,#d1e5f0 212px,#cfe4ef 217px,#ddebf2 224px,#f7f6f6 232px,#fae7dc 238px,#fddcc9 244px,#fdd9c4 249px,#fddcc9 253px,#fae7dc 259px,#f6f7f7 265px,#d8e9f1 274px,#cfe4ef 281px,#d2e6f0 286px,#e4eef4 293px,#f7f6f6 298px,#fce0d0 307px,#fdddcb 310px,#fce2d2 312px,#f8f1ed 316px,#f7f6f6 319px,#f7f6f6 330px)"></i>
<i style="background:linear-gradient(90deg,#f7f6f6 0,#f7f6f6 52px,#fcdecd 53px,#fbe6da 59px,#f7f6f6 66px,#dae9f2 76px,#d4e6f1 82px,#d7e8f1 88px,#f2f5f6 98px,#f7f5f4 100px,#fbe4d6 108px,#fdddcb 114px,#fcdecd 120px,#fae8de 126px,#f5f6f7 133px,#ddebf2 141px,#d4e6f1 147px,#d7e8f1 154px,#e7f0f4 161px,#f5f6f7 165px,#fbe3d4 175px,#fdddcb 180px,#fcdecd 186px,#f9ebe3 194px,#f6f7f7 199px,#dbeaf2 208px,#d4e6f1 214px,#d7e8f1 220px,#e7f0f4 227px,#f7f6f6 232px,#fbe3d4 241px,#fdddcb 247px,#fcdecd 252px,#fae7dc 258px,#f6f7f7 265px,#dbeaf2 274px,#d4e6f1 280px,#d7e8f1 286px,#e7f0f4 293px,#f7f6f6 298px,#fce2d2 308px,#fcdfcf 310px,#fbe4d6 312px,#f8f4f2 317px,#f7f6f6 321px,#f7f6f6 330px)"></i>
<i style="background:linear-gradient(90deg,#f7f6f6 0,#f7f6f6 52px,#fce0d0 53px,#fae9df 60px,#f7f6f6 66px,#ddebf2 76px,#d7e8f1 83px,#dbeaf2 89px,#f6f7f7 99px,#fae7dc 107px,#fcdfcf 114px,#fce0d0 120px,#fae9df 126px,#f7f6f6 132px,#dbeaf2 143px,#d7e8f1 150px,#ddebf2 156px,#f7f6f6 166px,#fbe6da 174px,#fcdfcf 180px,#fce0d0 186px,#faeae1 193px,#f6f7f7 199px,#dbeaf2 209px,#d7e8f1 216px,#deebf2 223px,#f7f6f6 232px,#fbe6da 240px,#fcdfcf 247px,#fce2d2 253px,#faeae1 259px,#f6f7f7 265px,#deebf2 274px,#d7e8f1 280px,#dae9f2 286px,#edf2f5 295px,#f7f6f6 298px,#fbe5d8 307px,#fce2d2 310px,#fbe6da 312px,#f8f2ef 316px,#f7f6f6 320px,#f7f6f6 330px)"></i>
<i style="background:linear-gradient(90deg,#f7f6f6 0,#f7f6f6 52px,#fbe3d4 53px,#fae9df 59px,#f7f6f6 66px,#e0ecf3 76px,#dae9f2 83px,#e0ecf3 90px,#f6f7f7 99px,#fae7dc 108px,#fce2d2 114px,#fbe3d4 120px,#faeae1 126px,#f7f6f6 132px,#deebf2 143px,#dae9f2 150px,#e1edf3 157px,#f7f6f6 166px,#faeae1 172px,#fce2d2 180px,#fbe3d4 186px,#f9ebe3 193px,#f6f7f7 199px,#e0ecf3 208px,#dae9f2 215px,#e0ecf3 222px,#f7f6f6 232px,#fbe5d8 242px,#fce2d2 248px,#fbe3d4 252px,#f9ebe3 259px,#f6f7f7 265px,#ddebf2 276px,#dae9f2 284px,#e7f0f4 292px,#f7f6f6 298px,#fae8de 306px,#fbe4d6 310px,#faeae1 313px,#f8f3f0 316px,#f7f6f6 320px,#f7f6f6 330px)"></i>
<i style="background:linear-gradient(90deg,#f7f6f6 0,#f7f6f6 52px,#fbe5d8 53px,#f9eee7 61px,#f7f6f6 66px,#e0ecf3 77px,#ddebf2 86px,#ecf2f5 95px,#f6f7f7 99px,#fbe6da 110px,#fbe4d6 116px,#fbe5d8 120px,#f9efe9 128px,#f6f7f7 133px,#e0ecf3 143px,#ddebf2 152px,#e7f0f4 159px,#f7f6f6 166px,#fae9df 174px,#fbe4d6 180px,#fbe5d8 186px,#f9ede5 193px,#f6f7f7 199px,#e3edf3 208px,#ddebf2 214px,#e0ecf3 221px,#f7f6f6 232px,#fae8de 241px,#fbe4d6 247px,#fbe5d8 253px,#f9ede5 259px,#f6f7f7 265px,#e1edf3 275px,#ddebf2 282px,#e3edf3 289px,#f7f6f6 298px,#fae8de 307px,#fbe6da 311px,#f8f3f0 316px,#f7f6f6 320px,#f7f6f6 330px)"></i>
<i style="background:linear-gradient(90deg,#f7f6f6 0,#f7f6f6 52px,#fbe6da 53px,#f9f0eb 62px,#f7f6f6 66px,#e4eef4 76px,#deebf2 83px,#e7f0f4 92px,#f6f7f7 99px,#fae9df 109px,#fbe6da 113px,#fbe6da 119px,#f8f1ed 129px,#f6f7f7 133px,#e4eef4 142px,#deebf2 149px,#e4eef4 156px,#f7f6f6 166px,#fae9df 175px,#fbe5d8 183px,#fae9df 189px,#f6f7f7 199px,#e3edf3 209px,#deebf2 216px,#e9f0f4 225px,#f7f6f6 232px,#fae9df 241px,#fbe5d8 249px,#faeae1 257px,#f6f7f7 265px,#e1edf3 276px,#deebf2 283px,#e6eff4 290px,#f7f6f6 298px,#fae7dc 309px,#faeae1 312px,#f7f5f4 317px,#f7f6f6 330px)"></i>
<i style="background:linear-gradient(90deg,#f7f6f6 0,#f7f6f6 52px,#fae8de 53px,#f9ede5 59px,#f5f6f7 67px,#e1edf3 80px,#e3edf3 87px,#f2f5f6 97px,#f7f6f6 100px,#f9eee7 106px,#fae7dc 113px,#fae8de 120px,#f8f4f2 131px,#f6f7f7 133px,#e3edf3 144px,#e3edf3 154px,#f7f6f6 166px,#f9ebe3 174px,#fae7dc 180px,#fae8de 187px,#f8f4f2 197px,#f6f7f7 199px,#e4eef4 209px,#e1edf3 218px,#f5f6f7 231px,#f9f0eb 237px,#fae8de 244px,#fae8de 253px,#f6f7f7 265px,#e4eef4 275px,#e1edf3 284px,#e9f0f4 291px,#f7f6f6 298px,#faeae1 307px,#fae8de 310px,#f7f5f4 317px,#f7f6f6 330px)"></i>
<i style="background:linear-gradient(90deg,#f7f6f6 0,#f7f6f6 52px,#fae9df 53px,#f9f0eb 61px,#f6f7f7 67px,#e4eef4 79px,#e4eef4 87px,#f7f6f6 100px,#fae9df 112px,#fae9df 120px,#f6f7f7 133px,#e4eef4 145px,#e4eef4 153px,#f7f6f6 166px,#fae9df 178px,#fae9df 186px,#f6f7f7 199px,#e4eef4 211px,#e4eef4 219px,#f7f6f6 232px,#fae9df 244px,#fae9df 253px,#f7f5f4 264px,#f3f5f6 267px,#e4eef4 277px,#e4eef4 286px,#f7f6f6 298px,#faeae1 309px,#faeae1 311px,#f7f5f4 317px,#f7f6f6 330px)"></i>
<i style="background:linear-gradient(90deg,#f7f6f6 0,#f7f6f6 52px,#faeae1 53px,#f8f1ed 61px,#f6f7f7 67px,#e7f0f4 77px,#e4eef4 84px,#edf2f5 93px,#f7f6f6 100px,#f9ebe3 110px,#fae9df 117px,#f9eee7 124px,#f6f7f7 133px,#e7f0f4 143px,#e4eef4 150px,#f0f4f6 162px,#f7f6f6 166px,#faeae1 178px,#faeae1 186px,#f8f3f0 196px,#f6f7f7 199px,#e6eff4 211px,#e6eff4 219px,#f3f5f6 230px,#f8f4f2 234px,#faeae1 244px,#faeae1 252px,#f8f1ed 260px,#f5f6f7 266px,#e6eff4 278px,#e6eff4 285px,#f5f6f7 297px,#f9ebe3 309px,#f9ebe3 311px,#f7f5f4 317px,#f7f6f6 330px)"></i>
<i style="background:linear-gradient(90deg,#f7f6f6 0,#f7f6f6 52px,#f9ebe3 53px,#f8f2ef 62px,#f6f7f7 67px,#e9f0f4 77px,#e9f0f4 89px,#f7f6f6 100px,#f9ede5 110px,#f9ede5 122px,#f6f7f7 133px,#e7f0f4 145px,#e9f0f4 155px,#f7f6f6 166px,#f9ede5 176px,#f9ede5 188px,#f6f7f7 199px,#e7f0f4 211px,#e9f0f4 221px,#f7f6f6 232px,#f9ede5 242px,#f9ede5 254px,#f6f7f7 265px,#e7f0f4 277px,#e9f0f4 287px,#f7f6f6 298px,#f9ede5 309px,#f9eee7 312px,#f8f4f2 316px,#f7f6f6 320px,#f7f6f6 330px)"></i>
<i style="background:linear-gradient(90deg,#f7f6f6 0,#f7f6f6 52px,#f9ede5 53px,#f8f1ed 60px,#f5f6f7 68px,#e9f0f4 80px,#eaf1f5 89px,#f7f6f6 100px,#f9efe9 108px,#f9ede5 116px,#f9eee7 122px,#f6f7f7 133px,#eaf1f5 143px,#eaf1f5 155px,#f7f6f6 166px,#f9eee7 176px,#f9eee7 188px,#f6f7f7 199px,#e9f0f4 211px,#eaf1f5 221px,#f7f6f6 232px,#f9eee7 242px,#f9eee7 255px,#f6f7f7 265px,#e9f0f4 278px,#eaf1f5 288px,#f7f6f6 299px,#f9eee7 308px,#f9efe9 312px,#f7f5f4 316px,#f7f6f6 330px)"></i>
<i style="background:linear-gradient(90deg,#f7f6f6 0,#f7f6f6 52px,#f9eee7 53px,#f8f3f0 62px,#f5f6f7 68px,#eaf1f5 79px,#eaf1f5 87px,#f7f6f6 100px,#f9efe9 109px,#f9ede5 116px,#f9f0eb 124px,#f5f6f7 134px,#eaf1f5 146px,#ecf2f5 156px,#f7f6f6 166px,#f9efe9 176px,#f9ede5 183px,#f8f2ef 193px,#f5f6f7 200px,#eaf1f5 213px,#eaf1f5 220px,#f7f6f6 232px,#f9efe9 242px,#f9ede5 249px,#f8f3f0 261px,#f6f7f7 266px,#eaf1f5 278px,#eaf1f5 286px,#f7f6f6 299px,#f9efe9 308px,#f9efe9 311px,#f7f6f6 318px,#f7f6f6 330px)"></i>
<i style="background:linear-gradient(90deg,#f7f6f6 0,#f7f6f6 52px,#f9efe9 53px,#f8f4f2 63px,#f6f7f7 67px,#ecf2f5 79px,#ecf2f5 88px,#f7f6f6 100px,#f9f0eb 109px,#f9eee7 118px,#f8f4f2 129px,#f5f6f7 135px,#ecf2f5 145px,#ecf2f5 154px,#f7f6f6 166px,#f9efe9 177px,#f9efe9 187px,#f5f6f7 200px,#eaf1f5 215px,#f2f5f6 227px,#f7f5f4 234px,#f9efe9 244px,#f9efe9 254px,#f6f7f7 266px,#ecf2f5 277px,#ecf2f5 287px,#f7f6f6 299px,#f9efe9 309px,#f9f0eb 312px,#f7f6f6 318px,#f7f6f6 330px)"></i>
<i style="background:linear-gradient(90deg,#f7f6f6 0,#f7f6f6 52px,#f9efe9 53px,#f7f5f4 64px,#f2f5f6 72px,#ecf2f5 84px,#f5f6f7 97px,#f8f4f2 103px,#f9efe9 114px,#f9f0eb 122px,#f5f6f7 134px,#ecf2f5 148px,#f2f5f6 161px,#f7f6f6 166px,#f9efe9 180px,#f9f0eb 188px,#f6f7f7 200px,#ecf2f5 213px,#f0f4f6 225px,#f7f6f6 233px,#f9f0eb 243px,#f9f0eb 254px,#f6f7f7 266px,#ecf2f5 279px,#eff3f5 290px,#f7f6f6 299px,#f9f0eb 309px,#f8f2ef 313px,#f7f6f6 318px,#f7f6f6 330px)"></i>
<i style="background:linear-gradient(90deg,#f7f6f6 0,#f7f6f6 52px,#f9f0eb 53px,#f5f6f7 68px,#edf2f5 81px,#f0f4f6 92px,#f7f6f6 100px,#f9f0eb 113px,#f8f1ed 123px,#f6f7f7 134px,#edf2f5 146px,#eff3f5 156px,#f7f6f6 167px,#f9f0eb 179px,#f8f1ed 189px,#f5f6f7 201px,#edf2f5 214px,#f0f4f6 225px,#f7f6f6 233px,#f9f0eb 245px,#f8f1ed 256px,#f6f7f7 266px,#edf2f5 279px,#f0f4f6 291px,#f7f6f6 299px,#f8f1ed 309px,#f8f4f2 315px,#f7f6f6 319px,#f7f6f6 330px)"></i>
<i style="background:linear-gradient(90deg,#f7f6f6 0,#f7f6f6 52px,#f8f1ed 53px,#f8f3f0 60px,#f5f6f7 68px,#edf2f5 84px,#f7f6f6 101px,#f8f1ed 111px,#f8f1ed 122px,#f6f7f7 134px,#eff3f5 145px,#eff3f5 155px,#f7f6f6 167px,#f8f1ed 177px,#f8f1ed 188px,#f6f7f7 200px,#eff3f5 212px,#eff3f5 221px,#f7f6f6 233px,#f8f1ed 244px,#f8f1ed 254px,#f5f6f7 267px,#edf2f5 282px,#f7f6f6 299px,#f8f1ed 310px,#f7f6f6 318px,#f7f6f6 330px)"></i>
<i style="background:linear-gradient(90deg,#f7f6f6 0,#f7f6f6 52px,#f8f1ed 53px,#f5f6f7 69px,#eff3f5 83px,#f7f6f6 101px,#f8f2ef 110px,#f8f2ef 123px,#f6f7f7 134px,#eff3f5 147px,#f2f5f6 159px,#f7f6f6 167px,#f8f1ed 179px,#f8f2ef 190px,#f6f7f7 200px,#eff3f5 215px,#f3f5f6 227px,#f7f5f4 235px,#f8f1ed 247px,#f8f2ef 256px,#f6f7f7 266px,#eff3f5 281px,#f2f5f6 291px,#f7f6f6 299px,#f8f2ef 309px,#f8f3f0 313px,#f7f6f6 319px,#f7f6f6 330px)"></i>
<i style="background:linear-gradient(90deg,#f7f6f6 0,#f7f6f6 52px,#f8f2ef 53px,#f5f6f7 70px,#f0f4f6 80px,#f0f4f6 89px,#f7f6f6 101px,#f8f2ef 111px,#f8f2ef 122px,#f5f6f7 135px,#eff3f5 150px,#f7f6f6 167px,#f8f2ef 179px,#f8f2ef 189px,#f6f7f7 200px,#eff3f5 216px,#f7f6f6 233px,#f8f2ef 245px,#f8f2ef 255px,#f6f7f7 266px,#f0f4f6 279px,#f2f5f6 291px,#f7f5f4 302px,#f8f2ef 311px,#f7f6f6 317px,#f7f6f6 330px)"></i>
<i style="background:linear-gradient(90deg,#f7f6f6 0,#f7f6f6 52px,#f8f2ef 53px,#f5f6f7 69px,#f0f4f6 85px,#f7f6f6 101px,#f8f2ef 113px,#f8f3f0 124px,#f5f6f7 135px,#f0f4f6 151px,#f7f6f6 167px,#f8f2ef 180px,#f8f3f0 191px,#f5f6f7 201px,#f0f4f6 217px,#f7f6f6 234px,#f8f2ef 246px,#f8f3f0 257px,#f6f7f7 267px,#f0f4f6 281px,#f5f6f7 295px,#f7f5f4 302px,#f8f2ef 310px,#f7f6f6 318px,#f7f6f6 330px)"></i>
<i style="background:linear-gradient(90deg,#f7f6f6 0,#f7f6f6 52px,#f8f3f0 53px,#f7f5f4 63px,#f3f5f6 74px,#f0f4f6 85px,#f7f6f6 101px,#f8f3f0 111px,#f8f3f0 123px,#f6f7f7 135px,#f2f5f6 145px,#f2f5f6 157px,#f7f6f6 168px,#f8f3f0 177px,#f8f3f0 190px,#f6f7f7 201px,#f0f4f6 217px,#f7f6f6 234px,#f8f3f0 244px,#f8f3f0 256px,#f6f7f7 267px,#f0f4f6 283px,#f7f6f6 300px,#f8f3f0 310px,#f7f6f6 319px,#f7f6f6 330px)"></i>
<i style="background:linear-gradient(90deg,#f7f6f6 0,#f7f6f6 52px,#f8f3f0 53px,#f5f6f7 71px,#f2f5f6 86px,#f7f6f6 102px,#f8f3f0 114px,#f8f4f2 126px,#f6f7f7 135px,#f2f5f6 149px,#f7f6f6 168px,#f8f3f0 180px,#f8f4f2 192px,#f6f7f7 201px,#f2f5f6 215px,#f5f6f7 228px,#f7f5f4 237px,#f8f3f0 247px,#f8f4f2 258px,#f5f6f7 269px,#f2f5f6 287px,#f7f6f6 300px,#f8f3f0 311px,#f7f6f6 318px,#f7f6f6 330px)"></i>
<i style="background:linear-gradient(90deg,#f7f6f6 0,#f7f6f6 52px,#f8f3f0 53px,#f5f6f7 71px,#f2f5f6 88px,#f7f6f6 102px,#f8f3f0 114px,#f8f4f2 125px,#f5f6f7 137px,#f2f5f6 154px,#f7f6f6 168px,#f8f3f0 181px,#f7f5f4 195px,#f3f5f6 207px,#f3f5f6 225px,#f7f5f4 238px,#f8f3f0 250px,#f5f6f7 270px,#f2f5f6 286px,#f7f6f6 301px,#f8f3f0 310px,#f7f6f6 319px,#f7f6f6 330px)"></i>
<i style="background:linear-gradient(90deg,#f7f6f6 0,#f7f6f6 52px,#f8f4f2 54px,#f5f6f7 73px,#f2f5f6 85px,#f7f6f6 102px,#f8f4f2 112px,#f8f4f2 125px,#f6f7f7 135px,#f2f5f6 151px,#f7f6f6 169px,#f8f4f2 177px,#f8f4f2 191px,#f5f6f7 203px,#f3f5f6 218px,#f7f6f6 235px,#f8f3f0 251px,#f5f6f7 269px,#f2f5f6 284px,#f7f6f6 301px,#f8f4f2 311px,#f7f6f6 319px,#f7f6f6 330px)"></i>
<i style="background:linear-gradient(90deg,#f7f6f6 0,#f7f6f6 52px,#f8f4f2 54px,#f5f6f7 74px,#f5f6f7 95px,#f7f5f4 107px,#f7f5f4 128px,#f3f5f6 143px,#f5f6f7 161px,#f7f5f4 173px,#f7f5f4 194px,#f3f5f6 209px,#f5f6f7 227px,#f8f4f2 253px,#f5f6f7 273px,#f5f6f7 294px,#f8f4f2 312px,#f7f6f6 318px,#f7f6f6 330px)"></i>
<i style="background:linear-gradient(90deg,#f7f6f6 0,#f7f6f6 52px,#f8f4f2 54px,#f5f6f7 73px,#f5f6f7 95px,#f8f4f2 121px,#f5f6f7 140px,#f5f6f7 161px,#f8f4f2 189px,#f5f6f7 203px,#f5f6f7 227px,#f7f5f4 241px,#f7f5f4 260px,#f3f5f6 275px,#f5f6f7 293px,#f7f5f4 307px,#f7f5f4 314px,#f7f6f6 330px)"></i>
<i style="background:linear-gradient(90deg,#f7f6f6 0,#f7f6f6 52px,#f8f4f2 54px,#f5f6f7 73px,#f5f6f7 94px,#f8f4f2 121px,#f5f6f7 138px,#f5f6f7 160px,#f8f4f2 187px,#f5f6f7 204px,#f5f6f7 227px,#f8f4f2 253px,#f5f6f7 272px,#f5f6f7 293px,#f8f4f2 310px,#f7f6f6 320px,#f7f6f6 330px)"></i>
<i style="background:linear-gradient(90deg,#f7f6f6 0,#f7f6f6 66px,#f3f5f6 86px,#f7f6f6 104px,#f8f4f2 119px,#f5f6f7 140px,#f5f6f7 160px,#f8f4f2 185px,#f5f6f7 206px,#f5f6f7 226px,#f8f4f2 251px,#f5f6f7 272px,#f5f6f7 292px,#f7f5f4 313px,#f7f6f6 330px)"></i>
<i style="background:linear-gradient(90deg,#f7f6f6 0,#f7f6f6 66px,#f5f6f7 93px,#f7f5f4 126px,#f5f6f7 150px,#f7f5f4 192px,#f5f6f7 216px,#f7f5f4 259px,#f5f6f7 280px,#f7f5f4 313px,#f7f6f6 330px)"></i>
<i style="background:linear-gradient(90deg,#f7f6f6 0,#f7f6f6 66px,#f5f6f7 92px,#f7f5f4 125px,#f5f6f7 153px,#f7f5f4 192px,#f5f6f7 216px,#f7f5f4 258px,#f5f6f7 282px,#f7f5f4 313px,#f7f6f6 330px)"></i>
<i style="background:linear-gradient(90deg,#f7f6f6 0,#f7f6f6 66px,#f5f6f7 92px,#f7f5f4 125px,#f5f6f7 153px,#f7f5f4 191px,#f5f6f7 219px,#f7f5f4 257px,#f5f6f7 285px,#f7f5f4 312px,#f7f6f6 330px)"></i>
<i style="background:linear-gradient(90deg,#f7f6f6 0,#f7f6f6 66px,#f5f6f7 91px,#f7f5f4 124px,#f5f6f7 155px,#f7f5f4 190px,#f5f6f7 221px,#f7f5f4 256px,#f5f6f7 287px,#f7f5f4 312px,#f7f6f6 330px)"></i>
<i style="background:linear-gradient(90deg,#f7f6f6 0,#f7f6f6 66px,#f5f6f7 90px,#f7f5f4 123px,#f6f7f7 158px,#f7f5f4 189px,#f6f7f7 224px,#f7f5f4 255px,#f6f7f7 292px,#f7f5f4 311px,#f7f6f6 330px)"></i>
<i style="background:linear-gradient(90deg,#f7f6f6 0,#f7f6f6 66px,#f6f7f7 92px,#f7f5f4 121px,#f6f7f7 163px,#f7f5f4 187px,#f6f7f7 229px,#f7f5f4 254px,#f6f7f7 295px,#f7f6f6 311px,#f7f6f6 330px)"></i>
<i style="background:linear-gradient(90deg,#f7f6f6 0,#f7f6f6 66px,#f6f7f7 99px,#f7f5f4 119px,#f6f7f7 165px,#f7f5f4 185px,#f6f7f7 231px,#f7f5f4 252px,#f6f7f7 297px,#f7f6f6 330px)"></i>
<i style="height:41px;background:#f7f7f6"></i>
</div>
<div class="h" style="left:410px;top:32px;width:11px;height:213px;background:linear-gradient(180deg,#67001f 0,#67001f 1px,#6d0220 2px,#790622 6px,#7f0823 7px,#8a0b25 11px,#900d26 12px,#9c1127 16px,#a21328 17px,#ae172a 21px,#b3192c 22px,#b72230 25px,#ba2832 26px,#bf3338 30px,#c2383a 31px,#c84440 35px,#cb4942 36px,#d05548 40px,#d35a4a 41px,#d86551 45px,#db6b55 46px,#de735c 49px,#e17860 50px,#e58368 54px,#e8896c 55px,#ec9374 59px,#ef9979 60px,#f3a481 64px,#f5a886 65px,#f6b191 69px,#f7b596 70px,#f8bb9e 73px,#f8bfa4 74px,#fac8af 78px,#fbccb4 79px,#fcd5bf 83px,#fdd9c4 84px,#fcdecd 88px,#fce2d2 90px,#fbe5d8 93px,#fae8de 95px,#faeae1 97px,#f9eee7 99px,#f8f1ed 102px,#f8f4f2 104px,#f6f7f7 107px,#f0f4f6 110px,#e4eef4 117px,#deebf2 120px,#d4e6f1 126px,#c7e0ed 131px,#c2ddec 132px,#b8d8e9 136px,#b3d6e8 137px,#a9d1e5 141px,#a5cee3 142px,#9bc9e0 146px,#96c7df 147px,#8dc2dc 150px,#87beda 151px,#7bb6d6 155px,#75b2d4 156px,#68abd0 160px,#62a7ce 161px,#569fc9 165px,#4f9bc7 166px,#4393c3 170px,#3f8ec0 172px,#3c8abe 174px,#3885bc 176px,#3480b9 179px,#307ab6 181px,#2c75b4 184px,#2870b1 186px,#246aae 189px,#2065ab 191px,#1d5fa2 194px,#1b5a9c 195px,#185493 198px,#15508d 199px,#114781 203px,#0f437b 204px,#0a3b70 208px,#08366a 209px,#053061 212px,#053061 213px)"></div>
<div class="h" style="left:552px;top:32px;width:331px;height:213px">
<i style="background:linear-gradient(90deg,#f7f6f6 0,#f7f6f6 221px,#f7f6f6 242px,#f6f7f7 271px,#f7f5f4 298px,#f6f7f7 331px)"></i>
<i style="background:linear-gradient(90deg,#f7f6f6 0,#f7f6f6 220px,#f7f6f6 243px,#f6f7f7 269px,#f7f5f4 299px,#f6f7f7 331px)"></i>
<i style="background:linear-gradient(90deg,#f7f6f6 0,#f7f6f6 220px,#f7f6f6 243px,#f6f7f7 269px,#f7f5f4 300px,#f6f7f7 331px)"></i>
<i style="background:linear-gradient(90deg,#f7f6f6 0,#f7f6f6 220px,#f7f6f6 243px,#f5f6f7 267px,#f7f5f4 300px,#f6f7f7 331px)"></i>
<i style="background:linear-gradient(90deg,#f7f6f6 0,#f7f6f6 220px,#f7f6f6 243px,#f5f6f7 268px,#f7f5f4 301px,#f6f7f7 331px)"></i>
<i style="background:linear-gradient(90deg,#f7f6f6 0,#f7f6f6 219px,#f7f6f6 243px,#f5f6f7 268px,#f7f5f4 301px,#f6f7f7 331px)"></i>
<i style="background:linear-gradient(90deg,#f7f6f6 0,#f7f6f6 219px,#f7f6f6 243px,#f5f6f7 269px,#f7f5f4 302px,#f6f7f7 331px)"></i>
<i style="background:linear-gradient(90deg,#f7f6f6 0,#f7f6f6 219px,#f7f6f6 244px,#f5f6f7 269px,#f7f5f4 302px,#f6f7f7 331px)"></i>
<i style="background:linear-gradient(90deg,#f7f6f6 0,#f7f6f6 219px,#f7f6f6 244px,#f5f6f7 270px,#f7f5f4 303px,#f6f7f7 331px)"></i>
<i style="background:linear-gradient(90deg,#f7f6f6 0,#f7f6f6 219px,#f7f6f6 244px,#f5f6f7 270px,#f7f5f4 304px,#f6f7f7 331px)"></i>
<i style="background:linear-gradient(90deg,#f7f6f6 0,#f7f6f6 219px,#f7f6f6 244px,#f5f6f7 271px,#f7f5f4 304px,#f6f7f7 331px)"></i>
<i style="background:linear-gradient(90deg,#f7f6f6 0,#f7f6f6 219px,#f7f6f6 244px,#f5f6f7 271px,#f7f5f4 305px,#f6f7f7 331px)"></i>
<i style="background:linear-gradient(90deg,#f7f6f6 0,#f7f6f6 218px,#f7f6f6 245px,#f5f6f7 272px,#f7f5f4 305px,#f6f7f7 331px)"></i>
<i style="background:linear-gradient(90deg,#f7f6f6 0,#f6f7f7 196px,#f7f5f4 238px,#f5f6f7 266px,#f7f5f4 305px,#f6f7f7 331px)"></i>
<i style="background:linear-gradient(90deg,#f7f6f6 0,#f6f7f7 194px,#f7f5f4 239px,#f5f6f7 263px,#f7f5f4 306px,#f6f7f7 331px)"></i>
<i style="background:linear-gradient(90deg,#f7f6f6 0,#f6f7f7 193px,#f7f5f4 239px,#f5f6f7 263px,#f7f5f4 306px,#f6f7f7 331px)"></i>
<i style="background:linear-gradient(90deg,#f7f6f6 0,#f6f7f7 192px,#f7f5f4 239px,#f5f6f7 263px,#f7f5f4 307px,#f6f7f7 331px)"></i>
<i style="background:linear-gradient(90deg,#f7f6f6 0,#f6f7f7 191px,#f7f6f6 218px,#f7f6f6 246px,#f3f5f6 265px,#f7f5f4 295px,#f7f5f4 307px,#f6f7f7 331px)"></i>
<i style="background:linear-gradient(90deg,#f7f6f6 0,#f6f7f7 191px,#f7f6f6 218px,#f7f6f6 246px,#f3f5f6 266px,#f7f6f6 285px,#f8f4f2 299px,#f6f7f7 324px,#f6f7f7 331px)"></i>
<i style="background:linear-gradient(90deg,#f7f6f6 0,#f6f7f7 190px,#f6f7f7 212px,#f8f4f2 232px,#f5f6f7 256px,#f5f6f7 275px,#f8f4f2 300px,#f6f7f7 323px,#f6f7f7 331px)"></i>
<i style="background:linear-gradient(90deg,#f7f6f6 0,#f6f7f7 190px,#f6f7f7 212px,#f8f4f2 233px,#f5f6f7 254px,#f5f6f7 275px,#f8f4f2 301px,#f6f7f7 324px,#f6f7f7 331px)"></i>
<i style="background:linear-gradient(90deg,#f7f6f6 0,#f6f7f7 190px,#f6f7f7 212px,#f8f4f2 234px,#f5f6f7 253px,#f5f6f7 275px,#f8f4f2 302px,#f6f7f7 322px,#f6f7f7 331px)"></i>
<i style="background:linear-gradient(90deg,#f7f6f6 0,#f6f7f7 189px,#f6f7f7 213px,#f8f4f2 234px,#f5f6f7 255px,#f5f6f7 276px,#f8f4f2 303px,#f6f7f7 321px,#f6f7f7 331px)"></i>
<i style="background:linear-gradient(90deg,#f7f6f6 0,#f6f7f7 189px,#f6f7f7 213px,#f8f4f2 234px,#f5f6f7 255px,#f5f6f7 276px,#f8f4f2 304px,#f6f7f7 322px,#f6f7f7 331px)"></i>
<i style="background:linear-gradient(90deg,#f7f6f6 0,#f6f7f7 189px,#f6f7f7 213px,#f8f4f2 232px,#f5f6f7 256px,#f5f6f7 277px,#f8f4f2 305px,#f6f7f7 320px,#f6f7f7 331px)"></i>
<i style="background:linear-gradient(90deg,#f7f6f6 0,#f6f7f7 189px,#f6f7f7 213px,#f8f4f2 232px,#f5f6f7 256px,#f5f6f7 277px,#f8f4f2 303px,#f6f7f7 323px,#f6f7f7 331px)"></i>
<i style="background:linear-gradient(90deg,#f7f6f6 0,#f6f7f7 189px,#f6f7f7 213px,#f8f4f2 232px,#f5f6f7 256px,#f5f6f7 277px,#f8f4f2 303px,#f6f7f7 326px,#f6f7f7 331px)"></i>
<i style="background:linear-gradient(90deg,#f7f6f6 0,#f6f7f7 188px,#f6f7f7 213px,#f8f4f2 230px,#f7f5f4 244px,#f5f6f7 256px,#f5f6f7 278px,#f7f5f4 290px,#f7f5f4 311px,#f6f7f7 331px)"></i>
<i style="background:linear-gradient(90deg,#f7f6f6 0,#f6f7f7 188px,#f6f7f7 213px,#f8f4f2 230px,#f7f5f4 244px,#f3f5f6 259px,#f3f5f6 274px,#f7f5f4 290px,#f7f5f4 311px,#f6f7f7 331px)"></i>
<i style="background:linear-gradient(90deg,#f7f6f6 0,#f6f7f7 188px,#f5f6f7 206px,#f7f5f4 222px,#f7f5f4 244px,#f3f5f6 259px,#f3f5f6 275px,#f7f5f4 290px,#f8f3f0 301px,#f6f7f7 322px,#f6f7f7 331px)"></i>
<i style="background:linear-gradient(90deg,#f7f6f6 0,#f6f7f7 188px,#f3f5f6 203px,#f7f5f4 221px,#f8f3f0 234px,#f5f6f7 254px,#f2f5f6 270px,#f7f6f6 286px,#f8f3f0 302px,#f6f7f7 321px,#f6f7f7 331px)"></i>
<i style="background:linear-gradient(90deg,#f7f6f6 0,#f6f7f7 188px,#f3f5f6 204px,#f7f6f6 217px,#f8f3f0 233px,#f5f6f7 255px,#f2f5f6 271px,#f7f6f6 286px,#f8f3f0 301px,#f6f7f7 322px,#f6f7f7 331px)"></i>
<i style="background:linear-gradient(90deg,#f7f6f6 0,#f6f7f7 188px,#f3f5f6 205px,#f7f6f6 217px,#f8f3f0 232px,#f7f5f4 245px,#f3f5f6 260px,#f3f5f6 276px,#f7f5f4 290px,#f8f3f0 300px,#f7f5f4 312px,#f6f7f7 331px)"></i>
<i style="background:linear-gradient(90deg,#f7f6f6 0,#f6f7f7 188px,#f3f5f6 206px,#f7f5f4 221px,#f8f3f0 231px,#f8f4f2 242px,#f5f6f7 254px,#f2f5f6 272px,#f7f6f6 286px,#f8f3f0 299px,#f8f4f2 310px,#f6f7f7 320px,#f6f7f7 331px)"></i>
<i style="background:linear-gradient(90deg,#f7f6f6 0,#f6f7f7 188px,#f3f5f6 207px,#f7f5f4 220px,#f8f3f0 232px,#f8f4f2 243px,#f6f7f7 252px,#f2f5f6 266px,#f5f6f7 281px,#f8f3f0 301px,#f8f4f2 311px,#f7f6f6 317px,#f6f7f7 331px)"></i>
<i style="background:linear-gradient(90deg,#f7f6f6 0,#f6f7f7 188px,#f3f5f6 207px,#f7f5f4 220px,#f8f3f0 230px,#f8f4f2 243px,#f6f7f7 252px,#f2f5f6 264px,#f2f5f6 274px,#f7f6f6 287px,#f8f3f0 297px,#f8f4f2 311px,#f7f6f6 317px,#f6f7f7 331px)"></i>
<i style="background:linear-gradient(90deg,#f7f6f6 0,#f6f7f7 188px,#f3f5f6 208px,#f7f5f4 220px,#f8f2ef 234px,#f5f6f7 254px,#f0f4f6 270px,#f7f6f6 287px,#f8f3f0 297px,#f8f3f0 309px,#f7f6f6 316px,#f6f7f7 331px)"></i>
<i style="background:linear-gradient(90deg,#f7f6f6 0,#f6f7f7 188px,#f3f5f6 208px,#f7f5f4 220px,#f8f2ef 232px,#f8f4f2 244px,#f5f6f7 253px,#f0f4f6 271px,#f7f6f6 287px,#f8f3f0 297px,#f8f3f0 310px,#f7f6f6 316px,#f6f7f7 331px)"></i>
<i style="background:linear-gradient(90deg,#f7f6f6 0,#f6f7f7 188px,#f3f5f6 206px,#f7f5f4 220px,#f8f2ef 232px,#f8f3f0 242px,#f6f7f7 252px,#f0f4f6 268px,#f5f6f7 282px,#f8f4f2 293px,#f8f2ef 303px,#f8f4f2 312px,#f7f6f6 318px,#f6f7f7 331px)"></i>
<i style="background:linear-gradient(90deg,#f7f6f6 0,#f7f6f6 66px,#f6f7f7 99px,#f7f5f4 120px,#f6f7f7 155px,#f6f7f7 188px,#f2f5f6 204px,#f7f6f6 217px,#f8f2ef 230px,#f8f3f0 242px,#f5f6f7 253px,#f0f4f6 269px,#f5f6f7 282px,#f8f4f2 293px,#f8f2ef 301px,#f8f3f0 311px,#f7f6f6 317px,#f6f7f7 331px)"></i>
<i style="background:linear-gradient(90deg,#f7f6f6 0,#f7f6f6 66px,#f6f7f7 95px,#f7f5f4 121px,#f6f7f7 156px,#f7f5f4 173px,#f3f5f6 197px,#f3f5f6 210px,#f7f5f4 220px,#f8f2ef 229px,#f8f3f0 243px,#f6f7f7 253px,#f0f4f6 265px,#f0f4f6 275px,#f7f6f6 287px,#f8f2ef 299px,#f8f3f0 311px,#f7f6f6 317px,#f6f7f7 331px)"></i>
<i style="background:linear-gradient(90deg,#f7f6f6 0,#f7f6f6 66px,#f5f6f7 90px,#f7f5f4 122px,#f6f7f7 155px,#f7f5f4 175px,#f2f5f6 199px,#f5f6f7 213px,#f8f1ed 234px,#f8f4f2 246px,#f6f7f7 253px,#eff3f5 268px,#f5f6f7 283px,#f7f5f4 290px,#f8f2ef 299px,#f8f2ef 310px,#f7f6f6 316px,#f6f7f7 331px)"></i>
<i style="background:linear-gradient(90deg,#f7f6f6 0,#f7f6f6 66px,#f5f6f7 91px,#f7f5f4 123px,#f6f7f7 151px,#f7f5f4 177px,#f2f5f6 196px,#f3f5f6 211px,#f7f5f4 219px,#f8f1ed 232px,#f8f2ef 242px,#f6f7f7 253px,#eff3f5 268px,#f3f5f6 282px,#f7f5f4 290px,#f8f1ed 302px,#f8f3f0 312px,#f7f6f6 316px,#f6f7f7 331px)"></i>
<i style="background:linear-gradient(90deg,#f7f6f6 0,#f7f6f6 66px,#f5f6f7 92px,#f7f5f4 124px,#f5f6f7 148px,#f7f5f4 178px,#f3f5f6 195px,#f3f5f6 211px,#f7f5f4 219px,#f8f1ed 231px,#f8f2ef 242px,#f6f7f7 253px,#eff3f5 266px,#f2f5f6 280px,#f7f6f6 288px,#f8f1ed 300px,#f8f2ef 311px,#f7f6f6 317px,#f6f7f7 331px)"></i>
<i style="background:linear-gradient(90deg,#f7f6f6 0,#f7f6f6 66px,#f5f6f7 93px,#f7f5f4 125px,#f5f6f7 146px,#f7f5f4 179px,#f3f5f6 194px,#f0f4f6 205px,#f7f6f6 217px,#f8f1ed 229px,#f8f1ed 240px,#f6f7f7 253px,#eff3f5 266px,#eff3f5 276px,#f7f6f6 288px,#f8f1ed 299px,#f8f2ef 311px,#f7f6f6 317px,#f6f7f7 331px)"></i>
<i style="background:linear-gradient(90deg,#f7f6f6 0,#f7f6f6 66px,#f5f6f7 94px,#f7f5f4 125px,#f5f6f7 146px,#f7f5f4 179px,#f2f5f6 195px,#f2f5f6 210px,#f7f5f4 219px,#f8f1ed 229px,#f8f1ed 241px,#f5f6f7 254px,#edf2f5 269px,#f2f5f6 281px,#f7f6f6 288px,#f8f1ed 299px,#f8f1ed 310px,#f7f6f6 317px,#f6f7f7 331px)"></i>
<i style="background:linear-gradient(90deg,#f7f6f6 0,#f7f6f6 66px,#f3f5f6 86px,#f7f6f6 104px,#f8f4f2 119px,#f5f6f7 138px,#f7f6f6 162px,#f7f6f6 184px,#f0f4f6 203px,#f3f5f6 212px,#f7f5f4 219px,#f9f0eb 230px,#f8f1ed 242px,#f5f6f7 254px,#edf2f5 269px,#f0f4f6 280px,#f7f6f6 289px,#f8f1ed 299px,#f8f1ed 311px,#f7f6f6 317px,#f6f7f7 331px)"></i>
<i style="background:linear-gradient(90deg,#f7f6f6 0,#f7f6f6 53px,#f8f4f2 55px,#f5f6f7 74px,#f5f6f7 95px,#f8f4f2 121px,#f6f7f7 135px,#f6f7f7 157px,#f8f4f2 172px,#f5f6f7 190px,#f0f4f6 202px,#f2f5f6 211px,#f7f6f6 217px,#f9f0eb 230px,#f9f0eb 241px,#f6f7f7 254px,#edf2f5 266px,#edf2f5 276px,#f7f6f6 289px,#f9f0eb 301px,#f8f1ed 311px,#f7f6f6 317px,#f6f7f7 331px)"></i>
<i style="background:linear-gradient(90deg,#f7f6f6 0,#f7f6f6 53px,#f8f4f2 55px,#f5f6f7 74px,#f5f6f7 95px,#f7f5f4 109px,#f7f5f4 126px,#f5f6f7 141px,#f5f6f7 153px,#f8f4f2 175px,#f5f6f7 190px,#eff3f5 206px,#f7f6f6 218px,#f9efe9 232px,#f9f0eb 242px,#f6f7f7 254px,#edf2f5 265px,#edf2f5 277px,#f7f6f6 289px,#f9f0eb 301px,#f9f0eb 310px,#f7f6f6 317px,#f6f7f7 331px)"></i>
<i style="background:linear-gradient(90deg,#f7f6f6 0,#f7f6f6 53px,#f8f4f2 55px,#f5f6f7 74px,#f5f6f7 96px,#f8f4f2 120px,#f5f6f7 138px,#f5f6f7 153px,#f8f4f2 177px,#f5f6f7 190px,#eff3f5 204px,#f3f5f6 213px,#f7f5f4 219px,#f9efe9 231px,#f9efe9 240px,#f7f5f4 251px,#f2f5f6 258px,#ecf2f5 270px,#eff3f5 280px,#f7f6f6 289px,#f9efe9 303px,#f9f0eb 311px,#f7f6f6 317px,#f6f7f7 331px)"></i>
<i style="background:linear-gradient(90deg,#f7f6f6 0,#f7f6f6 53px,#f8f4f2 55px,#f5f6f7 74px,#f2f5f6 86px,#f7f6f6 103px,#f8f3f0 119px,#f6f7f7 134px,#f3f5f6 149px,#f7f6f6 161px,#f8f4f2 175px,#f5f6f7 190px,#eff3f5 203px,#f2f5f6 212px,#f7f6f6 218px,#f9efe9 229px,#f9efe9 242px,#f5f6f7 255px,#eaf1f5 270px,#f0f4f6 282px,#f7f6f6 289px,#f9efe9 301px,#f9efe9 310px,#f7f6f6 318px,#f6f7f7 331px)"></i>
<i style="background:linear-gradient(90deg,#f7f6f6 0,#f7f6f6 53px,#f8f3f0 54px,#f5f6f7 70px,#f2f5f6 88px,#f7f6f6 102px,#f8f3f0 115px,#f8f4f2 123px,#f5f6f7 135px,#f5f6f7 154px,#f8f4f2 178px,#f5f6f7 190px,#eff3f5 203px,#eff3f5 210px,#f7f6f6 218px,#f9efe9 229px,#f9ede5 236px,#f8f1ed 247px,#f5f6f7 255px,#eaf1f5 268px,#ecf2f5 278px,#f7f6f6 290px,#f9efe9 300px,#f9efe9 311px,#f7f6f6 318px,#f6f7f7 331px)"></i>
<i style="background:linear-gradient(90deg,#f7f6f6 0,#f7f6f6 53px,#f8f3f0 54px,#f5f6f7 70px,#f2f5f6 90px,#f7f6f6 102px,#f8f3f0 114px,#f8f4f2 124px,#f5f6f7 136px,#f5f6f7 155px,#f8f3f0 175px,#f5f6f7 190px,#edf2f5 203px,#f0f4f6 212px,#f7f6f6 218px,#f9efe9 228px,#f9ede5 236px,#f9f0eb 246px,#f6f7f7 255px,#e9f0f4 268px,#eaf1f5 277px,#f7f6f6 290px,#f9eee7 302px,#f9eee7 310px,#f7f6f6 318px,#f6f7f7 331px)"></i>
<i style="background:linear-gradient(90deg,#f7f6f6 0,#f7f6f6 53px,#f8f3f0 54px,#f7f5f4 64px,#f3f5f6 73px,#f0f4f6 86px,#f7f6f6 102px,#f8f3f0 112px,#f8f3f0 122px,#f6f7f7 133px,#f2f5f6 147px,#f7f6f6 161px,#f8f3f0 173px,#f8f4f2 181px,#f5f6f7 190px,#edf2f5 202px,#edf2f5 210px,#f7f6f6 218px,#f9ede5 231px,#f9ede5 241px,#f8f3f0 250px,#f5f6f7 256px,#e9f0f4 268px,#e9f0f4 276px,#f7f6f6 290px,#f9efe9 299px,#f9ede5 307px,#f9eee7 311px,#f7f6f6 317px,#f6f7f7 331px)"></i>
<i style="background:linear-gradient(90deg,#f7f6f6 0,#f7f6f6 53px,#f8f2ef 54px,#f5f6f7 70px,#f0f4f6 84px,#f7f6f6 102px,#f8f2ef 114px,#f8f3f0 123px,#f6f7f7 133px,#f2f5f6 145px,#f7f6f6 161px,#f8f3f0 170px,#f8f3f0 180px,#f6f7f7 188px,#ecf2f5 203px,#edf2f5 211px,#f7f6f6 219px,#f9eee7 228px,#f9ebe3 236px,#f9ede5 243px,#f6f7f7 255px,#e9f0f4 267px,#e9f0f4 278px,#f7f6f6 290px,#f9eee7 300px,#f9ebe3 309px,#f9f0eb 313px,#f7f5f4 316px,#f6f7f7 331px)"></i>
<i style="background:linear-gradient(90deg,#f7f6f6 0,#f7f6f6 53px,#f8f2ef 54px,#f7f5f4 64px,#f3f5f6 73px,#eff3f5 85px,#f7f6f6 101px,#f8f2ef 113px,#f8f2ef 122px,#f6f7f7 133px,#f0f4f6 147px,#f7f6f6 161px,#f8f3f0 168px,#f8f3f0 181px,#f5f6f7 189px,#ecf2f5 201px,#ecf2f5 211px,#f7f6f6 219px,#f9ede5 229px,#faeae1 239px,#f9f0eb 248px,#f6f7f7 255px,#e7f0f4 268px,#e7f0f4 277px,#f7f6f6 291px,#f9ede5 301px,#faeae1 308px,#f9f0eb 313px,#f7f5f4 316px,#f6f7f7 331px)"></i>
<i style="background:linear-gradient(90deg,#f7f6f6 0,#f7f6f6 53px,#f8f1ed 54px,#f6f7f7 68px,#eff3f5 83px,#f2f5f6 93px,#f7f6f6 101px,#f8f1ed 113px,#f8f2ef 122px,#f6f7f7 133px,#f0f4f6 145px,#f3f5f6 155px,#f7f5f4 163px,#f8f2ef 172px,#f8f3f0 182px,#f6f7f7 188px,#eaf1f5 203px,#eaf1f5 210px,#f7f6f6 219px,#f9ebe3 230px,#fae9df 239px,#f9f0eb 249px,#f6f7f7 256px,#e7f0f4 266px,#e6eff4 275px,#edf2f5 284px,#f7f6f6 291px,#f9ebe3 302px,#f9ebe3 311px,#f7f5f4 317px,#f6f7f7 331px)"></i>
<i style="background:linear-gradient(90deg,#f7f6f6 0,#f7f6f6 53px,#f8f1ed 54px,#f7f5f4 65px,#f3f5f6 71px,#edf2f5 85px,#f7f6f6 101px,#f8f1ed 112px,#f8f1ed 121px,#f6f7f7 133px,#eff3f5 146px,#f7f6f6 161px,#f8f2ef 169px,#f8f2ef 180px,#f5f6f7 190px,#eaf1f5 201px,#e9f0f4 210px,#f6f7f7 219px,#faeae1 231px,#fae8de 239px,#f9ede5 246px,#f6f7f7 256px,#e6eff4 267px,#e6eff4 279px,#f7f6f6 291px,#faeae1 303px,#faeae1 311px,#f8f4f2 316px,#f7f6f6 320px,#f6f7f7 331px)"></i>
<i style="background:linear-gradient(90deg,#f7f6f6 0,#f7f6f6 53px,#f9f0eb 54px,#f5f6f7 69px,#edf2f5 82px,#f0f4f6 93px,#f7f6f6 101px,#f9f0eb 113px,#f8f1ed 123px,#f5f6f7 133px,#edf2f5 143px,#eff3f5 152px,#f7f6f6 160px,#f9f0eb 170px,#f9f0eb 179px,#f6f7f7 189px,#e9f0f4 199px,#e6eff4 209px,#f7f6f6 220px,#fae8de 233px,#fae8de 242px,#f6f7f7 256px,#e4eef4 268px,#e4eef4 279px,#f7f6f6 291px,#fae9df 303px,#fae9df 311px,#f7f5f4 317px,#f6f7f7 331px)"></i>
<i style="background:linear-gradient(90deg,#f7f6f6 0,#f7f6f6 53px,#f9efe9 54px,#f6f7f7 68px,#ecf2f5 81px,#eff3f5 92px,#f7f6f6 101px,#f9f0eb 111px,#f9f0eb 125px,#f6f7f7 132px,#eaf1f5 141px,#eaf1f5 151px,#f7f6f6 160px,#f9eee7 169px,#f9ebe3 175px,#f9f0eb 182px,#f6f7f7 189px,#e6eff4 199px,#e3edf3 207px,#f5f6f7 219px,#fae7dc 234px,#fae7dc 242px,#f5f6f7 257px,#e1edf3 270px,#e3edf3 279px,#f6f7f7 291px,#fae9df 302px,#fae7dc 310px,#f7f5f4 317px,#f6f7f7 331px)"></i>
<i style="background:linear-gradient(90deg,#f7f6f6 0,#f7f6f6 53px,#f9efe9 54px,#f8f3f0 62px,#f5f6f7 68px,#eaf1f5 83px,#f0f4f6 94px,#f7f6f6 101px,#f9efe9 111px,#f9efe9 125px,#f6f7f7 132px,#e9f0f4 139px,#e4eef4 148px,#f5f6f7 159px,#fae9df 172px,#faeae1 179px,#f6f7f7 189px,#e3edf3 199px,#deebf2 205px,#f2f5f6 218px,#f6f7f7 220px,#fae8de 231px,#fbe5d8 239px,#fae9df 246px,#f8f3f0 254px,#f6f7f7 257px,#e4eef4 266px,#e0ecf3 275px,#e6eff4 282px,#f7f6f6 292px,#f9ebe3 300px,#fbe6da 306px,#fae7dc 311px,#f8f2ef 315px,#f7f6f6 319px,#f6f7f7 331px)"></i>
<i style="background:linear-gradient(90deg,#f7f6f6 0,#f7f6f6 53px,#f9eee7 54px,#f8f2ef 61px,#f5f6f7 68px,#eaf1f5 80px,#eaf1f5 88px,#f7f6f6 100px,#f9efe9 110px,#f9ede5 118px,#f9ede5 121px,#f9ebe3 125px,#f6f7f7 132px,#e3edf3 141px,#e0ecf3 147px,#e6eff4 153px,#f6f7f7 160px,#fae8de 169px,#fbe5d8 176px,#f9efe9 185px,#f7f6f6 189px,#deebf2 199px,#dae9f2 204px,#eaf1f5 215px,#f7f6f6 221px,#f9ebe3 228px,#fbe5d8 235px,#fbe5d8 243px,#f8f1ed 253px,#f6f7f7 257px,#e3edf3 267px,#deebf2 274px,#e3edf3 281px,#f7f6f6 292px,#fae9df 301px,#fbe5d8 307px,#fbe6da 311px,#f7f5f4 317px,#f6f7f7 331px)"></i>
<i style="background:linear-gradient(90deg,#f7f6f6 0,#f7f6f6 53px,#f9ede5 54px,#f8f3f0 63px,#f5f6f7 68px,#e9f0f4 80px,#e9f0f4 88px,#f7f6f6 100px,#f9eee7 110px,#f9ebe3 117px,#f9efe9 125px,#f6f7f7 132px,#e7f0f4 142px,#e7f0f4 150px,#f7f6f6 161px,#faeae1 172px,#f9ebe3 180px,#f6f7f7 190px,#e4eef4 199px,#deebf2 206px,#e4eef4 213px,#f7f6f6 221px,#fae7dc 231px,#fbe3d4 239px,#fae7dc 247px,#f6f7f7 257px,#deebf2 269px,#dbeaf2 275px,#e3edf3 283px,#f7f6f6 292px,#fbe6da 303px,#fbe4d6 309px,#fae7dc 312px,#f8f3f0 316px,#f7f6f6 320px,#f6f7f7 331px)"></i>
<i style="background:linear-gradient(90deg,#f7f6f6 0,#f7f6f6 53px,#f9ebe3 54px,#f8f2ef 62px,#f6f7f7 67px,#e7f0f4 79px,#e7f0f4 88px,#f7f6f6 100px,#f9ede5 110px,#faeae1 117px,#f9efe9 125px,#f6f7f7 132px,#e7f0f4 142px,#e7f0f4 150px,#f7f6f6 161px,#f9ebe3 171px,#f9ebe3 180px,#f8f4f2 188px,#f6f7f7 190px,#e1edf3 201px,#ddebf2 209px,#eff3f5 218px,#f6f7f7 221px,#fae8de 230px,#fbe3d4 235px,#fbe3d4 244px,#f9ebe3 251px,#f7f6f6 257px,#e3edf3 266px,#dae9f2 274px,#e1edf3 283px,#f6f7f7 292px,#fae7dc 302px,#fce2d2 308px,#fce2d2 310px,#f9ede5 314px,#f7f5f4 318px,#f6f7f7 331px)"></i>
<i style="background:linear-gradient(90deg,#f7f6f6 0,#f7f6f6 53px,#faeae1 54px,#f8f1ed 62px,#f6f7f7 67px,#e6eff4 79px,#e6eff4 88px,#f7f6f6 100px,#faeae1 112px,#faeae1 121px,#f8f4f2 130px,#f6f7f7 132px,#e4eef4 144px,#e9f0f4 153px,#f7f6f6 161px,#faeae1 172px,#faeae1 180px,#f5f6f7 191px,#e1edf3 201px,#dbeaf2 210px,#f0f4f6 219px,#f7f6f6 222px,#faeae1 228px,#fce0d0 237px,#fce2d2 244px,#faeae1 251px,#f6f7f7 258px,#e0ecf3 267px,#d8e9f1 274px,#ddebf2 281px,#f0f4f6 290px,#f7f6f6 293px,#fbe6da 302px,#fce0d0 308px,#fce2d2 311px,#f8f2ef 316px,#f7f6f6 320px,#f6f7f7 331px)"></i>
<i style="background:linear-gradient(90deg,#f7f6f6 0,#f7f6f6 53px,#fae9df 54px,#f9eee7 60px,#f6f7f7 67px,#e4eef4 79px,#e4eef4 88px,#f7f6f6 100px,#fae9df 112px,#fae9df 121px,#f6f7f7 132px,#e6eff4 141px,#e3edf3 148px,#eaf1f5 155px,#f6f7f7 161px,#fae9df 172px,#fae9df 180px,#f8f4f2 189px,#f6f7f7 191px,#e3edf3 200px,#dae9f2 209px,#e1edf3 214px,#f7f6f6 222px,#fbe4d6 232px,#fcdfcf 238px,#fcdfcf 243px,#fae7dc 250px,#f6f7f7 258px,#dbeaf2 269px,#d7e8f1 276px,#dbeaf2 282px,#f2f5f6 291px,#f7f6f6 293px,#fbe4d6 303px,#fcdfcf 309px,#fce0d0 311px,#f8f4f2 317px,#f7f6f6 321px,#f6f7f7 331px)"></i>
<i style="background:linear-gradient(90deg,#f7f6f6 0,#f7f6f6 53px,#fae8de 54px,#f7f5f4 66px,#f5f6f7 68px,#e3edf3 78px,#e3edf3 88px,#eff3f5 96px,#f7f5f4 101px,#fae9df 110px,#fae7dc 116px,#fae9df 122px,#f8f2ef 129px,#f6f7f7 132px,#e3edf3 142px,#e0ecf3 148px,#eff3f5 158px,#f6f7f7 161px,#fae8de 171px,#fbe6da 178px,#f9f0eb 187px,#f6f7f7 191px,#e1edf3 200px,#d7e8f1 209px,#e4eef4 216px,#f6f7f7 222px,#fbe4d6 232px,#fcdecd 238px,#fcdecd 243px,#fbe6da 250px,#f7f6f6 258px,#ddebf2 268px,#d5e7f1 274px,#d8e9f1 281px,#edf2f5 290px,#f6f7f7 293px,#fbe4d6 303px,#fcdecd 309px,#fcdfcf 311px,#f9efe9 315px,#f7f5f4 318px,#f6f7f7 331px)"></i>
<i style="background:linear-gradient(90deg,#f7f6f6 0,#f7f6f6 53px,#fbe6da 54px,#f9efe9 62px,#f6f7f7 67px,#e3edf3 77px,#deebf2 85px,#e6eff4 92px,#f7f6f6 100px,#fae9df 109px,#fbe5d8 117px,#fae9df 124px,#f6f7f7 132px,#e3edf3 141px,#ddebf2 148px,#e9f0f4 156px,#f6f7f7 161px,#fae8de 170px,#fbe4d6 175px,#fbe5d8 180px,#f9ede5 186px,#f7f6f6 191px,#ddebf2 201px,#d5e7f1 209px,#ddebf2 214px,#f7f6f6 223px,#fbe5d8 231px,#fdddcb 238px,#fdddcb 244px,#fbe6da 251px,#f6f7f7 259px,#deebf2 267px,#d4e6f1 274px,#d5e7f1 280px,#e3edf3 287px,#f7f6f6 294px,#fbe3d4 303px,#fdddcb 309px,#fcdecd 311px,#f8f1ed 316px,#f7f6f6 319px,#f6f7f7 331px)"></i>
<i style="background:linear-gradient(90deg,#f7f6f6 0,#f7f6f6 53px,#fbe5d8 54px,#f9ede5 61px,#f6f7f7 67px,#e3edf3 76px,#dbeaf2 83px,#e4eef4 92px,#f7f6f6 100px,#fae8de 109px,#fbe4d6 114px,#fbe4d6 119px,#f9ebe3 126px,#f6f7f7 132px,#e0ecf3 141px,#dae9f2 148px,#e6eff4 156px,#f7f6f6 162px,#fbe6da 170px,#fce0d0 175px,#fbe3d4 181px,#f9efe9 188px,#f7f6f6 191px,#dbeaf2 201px,#d2e6f0 209px,#dae9f2 214px,#f6f7f7 223px,#fcdfcf 234px,#fddbc7 240px,#fddcc9 244px,#fbe3d4 250px,#f6f7f7 259px,#d7e8f1 270px,#d1e5f0 277px,#d7e8f1 283px,#eaf1f5 290px,#f7f6f6 294px,#fce0d0 304px,#fddbc7 310px,#fcdfcf 312px,#f8f1ed 316px,#f7f6f6 319px,#f6f7f7 331px)"></i>
<i style="background:linear-gradient(90deg,#f7f6f6 0,#f7f6f6 53px,#fbe3d4 54px,#f9ebe3 61px,#f6f7f7 67px,#e0ecf3 76px,#dae9f2 83px,#ddebf2 89px,#f2f5f6 98px,#f7f6f6 100px,#fbe5d8 110px,#fce2d2 116px,#fbe3d4 120px,#fae8de 125px,#f6f7f7 132px,#ddebf2 141px,#d7e8f1 147px,#dae9f2 152px,#f7f6f6 162px,#fce0d0 172px,#fdddcb 177px,#fbe6da 185px,#f6f7f7 192px,#dbeaf2 200px,#cfe4ef 209px,#e0ecf3 217px,#f5f6f7 223px,#fcdfcf 234px,#fdd9c4 239px,#fdd9c4 244px,#fbe3d4 251px,#f7f6f6 259px,#d8e9f1 269px,#cfe4ef 276px,#d1e5f0 280px,#dbeaf2 286px,#f6f7f7 294px,#fce2d2 303px,#fdd9c4 310px,#fcdecd 312px,#f9f0eb 316px,#f8f4f2 318px,#f7f6f6 322px,#f6f7f7 331px)"></i>
<i style="background:linear-gradient(90deg,#f7f6f6 0,#f7f6f6 53px,#fce0d0 54px,#fae8de 60px,#f6f7f7 67px,#dbeaf2 77px,#d7e8f1 84px,#ddebf2 90px,#f7f6f6 100px,#fbe6da 108px,#fcdfcf 114px,#fce0d0 120px,#fae7dc 125px,#f6f7f7 132px,#d8e9f1 142px,#d2e6f0 148px,#dbeaf2 154px,#f6f7f7 162px,#fce2d2 170px,#fddbc7 176px,#fddcc9 180px,#fbe6da 186px,#f7f6f6 192px,#d7e8f1 201px,#cae1ee 209px,#ddebf2 217px,#f7f6f6 224px,#fbe4d6 231px,#fcd7c2 238px,#fcd5bf 244px,#fbe3d4 252px,#f6f7f7 260px,#d7e8f1 269px,#cae1ee 276px,#cce2ef 280px,#deebf2 288px,#f7f6f6 295px,#fbe6da 301px,#fcd5bf 309px,#fcd7c2 311px,#f9f0eb 316px,#f7f6f6 320px,#f6f7f7 331px)"></i>
<i style="background:linear-gradient(90deg,#f7f6f6 0,#f7f6f6 53px,#fcdecd 54px,#fae7dc 60px,#f6f7f7 67px,#dbeaf2 76px,#d4e6f1 81px,#d4e6f1 86px,#e1edf3 93px,#f7f6f6 100px,#fbe3d4 109px,#fdddcb 114px,#fdddcb 119px,#fbe5d8 125px,#f7f6f6 132px,#d5e7f1 142px,#cfe4ef 147px,#d2e6f0 151px,#e1edf3 157px,#f6f7f7 162px,#fcdecd 171px,#fcd5bf 176px,#fcd7c2 180px,#fbe6da 187px,#f7f5f4 192px,#f0f4f6 194px,#d7e8f1 201px,#c5dfec 208px,#cce2ef 213px,#f6f7f7 224px,#f9efe9 227px,#fdddcb 234px,#fcd3bc 239px,#fbd0b9 244px,#fce2d2 252px,#f8f1ed 258px,#f7f6f6 260px,#dae9f2 268px,#c5dfec 276px,#c7e0ed 280px,#cae1ee 282px,#eaf1f5 292px,#f7f6f6 295px,#fce0d0 303px,#fcd5bf 308px,#fbd0b9 310px,#fcd3bc 311px,#fddbc7 312px,#f9efe9 316px,#f7f5f4 319px,#f6f7f7 331px)"></i>
<i style="background:linear-gradient(90deg,#f7f6f6 0,#f7f6f6 53px,#fddcc9 54px,#fce2d2 58px,#f8f2ef 65px,#f6f7f7 67px,#d8e9f1 76px,#cfe4ef 83px,#d2e6f0 87px,#ddebf2 92px,#f7f6f6 100px,#fbe3d4 108px,#fddbc7 113px,#fdd9c4 118px,#fce2d2 124px,#f8f1ed 130px,#f7f6f6 132px,#d5e7f1 141px,#cae1ee 147px,#cce2ef 151px,#e3edf3 158px,#f5f6f7 162px,#f8f2ef 164px,#fcdfcf 170px,#fcd3bc 175px,#fbd0b9 178px,#fcd5bf 181px,#fbe4d6 187px,#f6f7f7 193px,#d5e7f1 201px,#c0dceb 208px,#c2ddec 211px,#cfe4ef 215px,#f7f6f6 225px,#fbe4d6 231px,#fcd3bc 238px,#fbccb4 241px,#fbccb4 244px,#fbd0b9 247px,#fce2d2 253px,#f8f3f0 259px,#f7f6f6 260px,#d5e7f1 269px,#c5dfec 274px,#c0dceb 279px,#c7e0ed 283px,#f2f5f6 294px,#f6f7f7 295px,#fcdfcf 303px,#fcd7c2 306px,#fbceb7 309px,#fbccb4 310px,#fbceb7 311px,#fbe4d6 314px,#f9efe9 316px,#f7f5f4 319px,#f6f7f7 331px)"></i>
<i style="background:linear-gradient(90deg,#f7f6f6 0,#f7f6f6 53px,#fdd9c4 54px,#fbe5d8 60px,#f6f7f7 67px,#d8e9f1 75px,#cce2ef 80px,#cae1ee 85px,#ddebf2 93px,#f7f6f6 100px,#fbe4d6 107px,#fddcc9 111px,#fcd5bf 116px,#fdd9c4 120px,#fbe5d8 126px,#f7f6f6 132px,#d7e8f1 140px,#c2ddec 147px,#c5dfec 150px,#e0ecf3 158px,#f3f5f6 162px,#f8f2ef 164px,#fddbc7 171px,#fbd0b9 174px,#facab1 177px,#fbceb7 181px,#fbe5d8 188px,#f7f6f6 193px,#d4e6f1 201px,#c0dceb 207px,#bbdaea 210px,#cae1ee 215px,#f6f7f7 225px,#fcdecd 233px,#fcd3bc 237px,#fbccb4 239px,#fac8af 243px,#fcd3bc 249px,#fdddcb 252px,#fae8de 256px,#f7f5f4 260px,#f0f4f6 262px,#c2ddec 274px,#bbdaea 278px,#c0dceb 282px,#f5f6f7 295px,#f7f5f4 296px,#fcdecd 303px,#facab1 309px,#fbccb4 311px,#fcd3bc 312px,#fdddcb 313px,#f9eee7 316px,#f8f4f2 318px,#f7f6f6 322px,#f6f7f7 331px)"></i>
<i style="background:linear-gradient(90deg,#f7f6f6 0,#f7f6f6 53px,#fcd5bf 54px,#fbe3d4 60px,#f6f7f7 67px,#dae9f2 74px,#c7e0ed 80px,#c5dfec 85px,#deebf2 94px,#f7f6f6 100px,#fce2d2 107px,#fcd3bc 113px,#fbd0b9 118px,#fcdecd 124px,#fae9df 128px,#f7f6f6 132px,#d4e6f1 140px,#c0dceb 145px,#bbdaea 149px,#c7e0ed 153px,#e7f0f4 160px,#f7f6f6 163px,#fcd7c2 171px,#facab1 174px,#f9c4a9 177px,#f9c6ac 180px,#fbceb7 183px,#fcdecd 187px,#f8f4f2 193px,#f5f6f7 194px,#d7e8f1 200px,#bddbea 206px,#b6d7e8 210px,#bbdaea 213px,#dbeaf2 220px,#f5f6f7 225px,#f8f2ef 227px,#fcdecd 233px,#fcd3bc 236px,#f9c6ac 241px,#f9c4a9 243px,#fac8af 247px,#fcd5bf 251px,#fddbc7 252px,#fbe6da 256px,#f6f7f7 261px,#bddbea 274px,#b6d7e8 279px,#bddbea 283px,#f3f5f6 295px,#f8f2ef 297px,#fddbc7 304px,#fbccb4 307px,#f9c6ac 309px,#fac8af 311px,#fce2d2 314px,#f9eee7 316px,#f7f6f6 320px,#f6f7f7 331px)"></i>
<i style="background:linear-gradient(90deg,#f7f6f6 0,#f7f6f6 53px,#fbceb7 54px,#fbe4d6 61px,#f6f7f7 67px,#d7e8f1 74px,#c2ddec 80px,#bddbea 83px,#c5dfec 88px,#f7f6f6 100px,#fdddcb 108px,#fbd0b9 112px,#facab1 116px,#fbceb7 120px,#fbe4d6 127px,#f7f6f6 132px,#cce2ef 141px,#c0dceb 143px,#b3d6e8 147px,#b6d7e8 150px,#c0dceb 153px,#f6f7f7 163px,#fcdecd 169px,#fcd5bf 171px,#f9c6ac 174px,#f8bda1 177px,#f8bfa4 181px,#facab1 184px,#fcdfcf 188px,#f9efe9 192px,#f6f7f7 194px,#cce2ef 202px,#bbdaea 205px,#b1d5e7 208px,#aed3e6 210px,#b3d6e8 213px,#f2f5f6 225px,#f7f6f6 226px,#fce0d0 232px,#fcd7c2 235px,#fbccb4 237px,#f8bfa4 242px,#f8bfa4 245px,#fac8af 249px,#fcd5bf 252px,#fddbc7 253px,#f8f2ef 260px,#f7f6f6 261px,#c2ddec 272px,#b6d7e8 275px,#b1d5e7 278px,#b3d6e8 281px,#c0dceb 285px,#deebf2 291px,#f7f6f6 296px,#fcd7c2 304px,#fac8af 307px,#f8bfa4 310px,#f9c4a9 311px,#fcd7c2 313px,#fae7dc 315px,#f8f1ed 317px,#f7f6f6 320px,#f6f7f7 331px)"></i>
<i style="background:linear-gradient(90deg,#f7f6f6 0,#f7f6f6 53px,#fac8af 54px,#fcd3bc 57px,#fddcc9 59px,#f6f7f7 67px,#d4e6f1 74px,#d1e5f0 75px,#c0dceb 78px,#b6d7e8 83px,#b8d8e9 86px,#cce2ef 91px,#f7f6f6 100px,#fce0d0 106px,#fcd7c2 109px,#fbd0b9 110px,#f9c4a9 115px,#f9c4a9 118px,#fbceb7 122px,#fddcc9 125px,#f7f5f4 132px,#edf2f5 134px,#b1d5e7 145px,#acd2e5 148px,#b3d6e8 152px,#cae1ee 156px,#f5f6f7 163px,#fcd7c2 170px,#f9c4a9 173px,#f7b99c 176px,#f7b596 179px,#f8bb9e 182px,#fac8af 185px,#fddcc9 188px,#f7f5f4 194px,#ecf2f5 196px,#cae1ee 202px,#b6d7e8 205px,#a7d0e4 210px,#aed3e6 214px,#cce2ef 219px,#deebf2 222px,#f5f6f7 226px,#fbe5d8 231px,#fbceb7 236px,#f8bda1 240px,#f7b99c 244px,#f8bda1 248px,#fbceb7 252px,#fbe5d8 257px,#f7f5f4 261px,#eff3f5 263px,#c2ddec 271px,#b6d7e8 273px,#a9d1e5 277px,#acd2e5 282px,#bddbea 286px,#dbeaf2 291px,#f7f6f6 296px,#fcdecd 302px,#fddbc7 303px,#fcd3bc 304px,#f8bb9e 309px,#f7b99c 310px,#f8bb9e 311px,#fcdecd 314px,#f9ebe3 316px,#f7f5f4 319px,#f6f7f7 331px)"></i>
<i style="background:linear-gradient(90deg,#f7f6f6 0,#f7f6f6 53px,#f8bfa4 54px,#f9c6ac 56px,#fcdfcf 61px,#f8f4f2 66px,#f5f6f7 67px,#c2ddec 76px,#b6d7e8 78px,#acd2e5 81px,#a9d1e5 84px,#b8d8e9 89px,#d7e8f1 94px,#f7f6f6 100px,#fcdecd 106px,#fcd5bf 108px,#f9c6ac 111px,#f8bb9e 114px,#f7b99c 117px,#f8bfa4 120px,#fbceb7 123px,#fddbc7 125px,#fae9df 129px,#f7f5f4 132px,#edf2f5 134px,#cae1ee 140px,#b6d7e8 143px,#a9d1e5 146px,#a5cee3 149px,#b1d5e7 153px,#cce2ef 157px,#f3f5f6 163px,#f8f4f2 164px,#fddcc9 169px,#f9c6ac 172px,#f7b799 175px,#f6b191 177px,#f6b191 180px,#f7b99c 183px,#fac8af 186px,#fdddcb 189px,#f9efe9 193px,#f8f4f2 194px,#f5f6f7 195px,#c0dceb 203px,#aed3e6 206px,#a7d0e4 211px,#acd2e5 214px,#c7e0ed 219px,#e0ecf3 223px,#f7f6f6 227px,#fcd7c2 234px,#f9c2a7 238px,#f7b799 241px,#f6b394 244px,#f7b596 247px,#f8bda1 250px,#fbccb4 253px,#fbe3d4 257px,#f8f4f2 261px,#f5f6f7 262px,#d2e6f0 268px,#b3d6e8 272px,#a2cde3 276px,#9dcbe1 279px,#a0cce2 282px,#acd2e5 285px,#d7e8f1 291px,#f6f7f7 296px,#fddcc9 302px,#f9c6ac 305px,#f7b596 308px,#f6af8e 310px,#f6b394 311px,#f8bb9e 312px,#fddbc7 314px,#faeae1 316px,#f8f3f0 318px,#f7f6f6 321px,#f6f7f7 331px)"></i>
<i style="background:linear-gradient(90deg,#f7f6f6 0,#f7f6f6 53px,#f7b596 54px,#f9c2a7 57px,#fddcc9 61px,#f5f6f7 67px,#c7e0ed 74px,#b6d7e8 76px,#a5cee3 79px,#9dcbe1 83px,#a0cce2 86px,#acd2e5 89px,#d8e9f1 95px,#f7f6f6 100px,#fcdecd 105px,#fddbc7 106px,#f9c6ac 109px,#f7b799 112px,#f6af8e 115px,#f6af8e 118px,#f7b596 120px,#fac8af 123px,#fdddcb 126px,#f9ede5 130px,#f7f5f4 132px,#edf2f5 134px,#c7e0ed 140px,#acd2e5 144px,#a0cce2 148px,#a2cde3 151px,#a9d1e5 153px,#bddbea 156px,#d1e5f0 158px,#f2f5f6 163px,#f7f5f4 164px,#fddbc7 169px,#f9c4a9 172px,#f6b394 175px,#f5aa89 178px,#f5ac8b 181px,#f7b799 184px,#fac8af 187px,#fdd9c4 189px,#f6f7f7 195px,#cfe4ef 201px,#b6d7e8 204px,#a9d1e5 208px,#a7d0e4 213px,#b1d5e7 216px,#c2ddec 219px,#f6f7f7 227px,#fcd7c2 234px,#f9c2a7 237px,#f6b394 240px,#f5aa89 243px,#f5a886 246px,#f6b394 250px,#facab1 254px,#fddbc7 256px,#f6f7f7 262px,#d5e7f1 267px,#a9d1e5 272px,#98c8e0 275px,#90c4dd 277px,#8dc2dc 280px,#9bc9e0 284px,#b6d7e8 288px,#d2e6f0 291px,#f6f7f7 296px,#fae8de 299px,#fcd7c2 302px,#f8bda1 305px,#f5aa89 308px,#f2a17f 310px,#f4a683 311px,#f6b191 312px,#fcd5bf 314px,#fce0d0 315px,#f9eee7 317px,#f8f4f2 319px,#f7f6f6 323px,#f6f7f7 331px)"></i>
<i style="background:linear-gradient(90deg,#f7f6f6 0,#f7f6f6 53px,#f6b191 54px,#f8bfa4 57px,#fcd3bc 60px,#fddbc7 61px,#f8f3f0 66px,#f5f6f7 67px,#cce2ef 73px,#acd2e5 77px,#9bc9e0 81px,#98c8e0 85px,#aed3e6 90px,#d1e5f0 94px,#f7f6f6 100px,#fdd9c4 106px,#f9c2a7 109px,#f6b394 112px,#f5aa89 115px,#f5aa89 118px,#f6b191 120px,#f9c6ac 123px,#fddcc9 126px,#f9f0eb 131px,#f7f5f4 132px,#edf2f5 134px,#c5dfec 140px,#b3d6e8 142px,#a2cde3 145px,#9bc9e0 149px,#a0cce2 152px,#b1d5e7 155px,#d4e6f1 159px,#f7f6f6 164px,#fddbc7 169px,#fac8af 171px,#f6b394 174px,#f4a683 177px,#f3a481 180px,#f5ac8b 183px,#f8bb9e 186px,#fcd3bc 189px,#fbe6da 192px,#f7f5f4 195px,#eaf1f5 197px,#cfe4ef 201px,#b3d6e8 204px,#a9d1e5 206px,#a5cee3 214px,#b6d7e8 218px,#dae9f2 223px,#f3f5f6 227px,#f9f0eb 229px,#fcd7c2 234px,#f9c2a7 237px,#f6b191 240px,#f4a683 243px,#f3a481 245px,#f5aa89 249px,#f7b99c 252px,#fbceb7 255px,#fdddcb 257px,#f7f6f6 262px,#d5e7f1 267px,#a7d0e4 272px,#8ac0db 277px,#87beda 280px,#96c7df 284px,#b1d5e7 288px,#d7e8f1 292px,#f5f6f7 296px,#f9eee7 298px,#fdddcb 301px,#f6b394 306px,#f4a683 308px,#f09c7b 310px,#f2a17f 311px,#f6af8e 312px,#fcd3bc 314px,#fcdfcf 315px,#fae8de 316px,#f8f2ef 318px,#f7f6f6 322px,#f6f7f7 331px)"></i>
<i style="background:linear-gradient(90deg,#f7f6f6 0,#f7f6f6 53px,#f8bb9e 54px,#fac8af 57px,#fddbc7 60px,#f9efe9 65px,#f8f4f2 66px,#f5f6f7 67px,#c5dfec 75px,#aed3e6 79px,#a7d0e4 83px,#a9d1e5 86px,#bbdaea 90px,#c7e0ed 92px,#d1e5f0 93px,#f7f6f6 100px,#fcd7c2 107px,#f9c2a7 111px,#f7b99c 114px,#f7b799 117px,#f8bb9e 120px,#fac8af 123px,#fddbc7 126px,#f8f4f2 132px,#f3f5f6 133px,#cce2ef 139px,#b1d5e7 142px,#9bc9e0 146px,#96c7df 149px,#9bc9e0 152px,#acd2e5 155px,#d1e5f0 159px,#f6f7f7 164px,#fddbc7 169px,#f8bda1 172px,#f5aa89 175px,#f19e7d 178px,#f09c7b 180px,#f4a683 183px,#f7b596 186px,#fbccb4 189px,#fcd7c2 190px,#f8f3f0 195px,#f3f5f6 196px,#cfe4ef 201px,#b1d5e7 204px,#a9d1e5 206px,#b3d6e8 210px,#b1d5e7 214px,#bbdaea 217px,#d1e5f0 221px,#f7f6f6 228px,#fdd9c4 235px,#f9c6ac 238px,#f7b99c 241px,#f6b394 244px,#f6b394 247px,#f8bda1 251px,#fcdfcf 257px,#f7f5f4 262px,#ecf2f5 264px,#cfe4ef 269px,#aed3e6 273px,#9dcbe1 277px,#9bc9e0 281px,#a5cee3 284px,#b6d7e8 287px,#dae9f2 292px,#f5f6f7 296px,#f8f4f2 297px,#fddcc9 302px,#f7b99c 307px,#f5ac8b 310px,#f6b191 311px,#f7b99c 312px,#fdd9c4 314px,#fbe3d4 315px,#f9efe9 317px,#f7f5f4 320px,#f6f7f7 331px)"></i>
<i style="background:linear-gradient(90deg,#f7f6f6 0,#f7f6f6 53px,#fbccb4 54px,#fcd5bf 57px,#fddbc7 58px,#f9ede5 64px,#f6f7f7 67px,#c7e0ed 77px,#bbdaea 81px,#b8d8e9 84px,#bddbea 87px,#f7f6f6 100px,#fddcc9 108px,#facab1 113px,#f9c6ac 117px,#facab1 121px,#fbceb7 124px,#fbe6da 129px,#f8f4f2 132px,#f3f5f6 133px,#cae1ee 139px,#a7d0e4 143px,#96c7df 146px,#90c4dd 149px,#96c7df 152px,#a7d0e4 155px,#b6d7e8 157px,#d5e7f1 160px,#f5f6f7 164px,#fce0d0 168px,#f6b394 173px,#f4a683 175px,#ee9677 178px,#ec9374 180px,#f09c7b 183px,#f5a886 185px,#f8bda1 188px,#fddbc7 191px,#f6f7f7 196px,#cfe4ef 201px,#aed3e6 204px,#a9d1e5 205px,#b1d5e7 207px,#c5dfec 210px,#c7e0ed 214px,#e1edf3 223px,#f6f7f7 228px,#fdddcb 237px,#fbceb7 242px,#facab1 246px,#fcd3bc 251px,#fdddcb 254px,#fae8de 258px,#f7f5f4 262px,#f0f4f6 264px,#bddbea 276px,#b8d8e9 280px,#c2ddec 285px,#f5f6f7 296px,#f7f5f4 297px,#fddbc7 305px,#fbccb4 308px,#fac8af 310px,#facab1 311px,#fbd0b9 312px,#fce2d2 314px,#f9eee7 316px,#f7f6f6 320px,#f6f7f7 331px)"></i>
<i style="background:linear-gradient(90deg,#f7f6f6 0,#f7f6f6 53px,#f9c4a9 54px,#fbceb7 57px,#fbe5d8 62px,#f5f6f7 67px,#cce2ef 75px,#bbdaea 78px,#b1d5e7 81px,#aed3e6 83px,#b8d8e9 88px,#f2f5f6 99px,#f7f6f6 100px,#fcdfcf 106px,#fac8af 111px,#f8bfa4 114px,#f8bda1 116px,#f9c6ac 122px,#fbd0b9 125px,#fbe6da 129px,#f8f4f2 132px,#f3f5f6 133px,#d2e6f0 138px,#bddbea 140px,#9dcbe1 144px,#8ac0db 148px,#8ac0db 151px,#98c8e0 154px,#b1d5e7 157px,#d2e6f0 160px,#f3f5f6 164px,#f8f3f0 165px,#fdd9c4 169px,#f7b99c 172px,#f5a886 174px,#ec9374 177px,#ea8e70 180px,#ec9374 183px,#f5a886 186px,#f8bfa4 189px,#fdddcb 192px,#f7f5f4 196px,#e7f0f4 198px,#cfe4ef 201px,#aed3e6 204px,#a7d0e4 205px,#a7d0e4 206px,#c0dceb 210px,#c2ddec 215px,#e7f0f4 225px,#f5f6f7 228px,#f8f2ef 230px,#fcdfcf 236px,#fbceb7 241px,#fac8af 244px,#fac8af 248px,#fbceb7 251px,#fbe4d6 257px,#f6f7f7 263px,#d5e7f1 270px,#bbdaea 276px,#b3d6e8 280px,#bbdaea 284px,#c7e0ed 287px,#d2e6f0 289px,#f3f5f6 296px,#f8f2ef 298px,#fcd7c2 305px,#f9c6ac 309px,#f9c4a9 310px,#f9c6ac 311px,#fce0d0 314px,#f8f1ed 317px,#f7f6f6 320px,#f6f7f7 331px)"></i>
<i style="background:linear-gradient(90deg,#f7f6f6 0,#f7f6f6 53px,#f7b799 54px,#f8bda1 56px,#fce2d2 62px,#f5f6f7 67px,#d1e5f0 73px,#b1d5e7 77px,#a5cee3 80px,#a0cce2 83px,#a2cde3 86px,#aed3e6 89px,#c2ddec 92px,#d2e6f0 94px,#f7f6f6 100px,#fcd5bf 107px,#f9c6ac 109px,#f7b799 112px,#f6b191 115px,#f6b191 118px,#f7b799 121px,#f9c4a9 124px,#fddbc7 127px,#f9efe9 131px,#f8f4f2 132px,#f5f6f7 133px,#cfe4ef 138px,#a5cee3 142px,#81bad8 147px,#7eb8d7 149px,#81bad8 151px,#8ac0db 153px,#a0cce2 156px,#c0dceb 159px,#e0ecf3 162px,#f2f5f6 164px,#f8f4f2 165px,#fdd9c4 169px,#f7b799 172px,#f09c7b 175px,#e8896c 178px,#e6866a 181px,#e6866a 182px,#ee9677 185px,#f5a886 187px,#f9c4a9 190px,#fce0d0 193px,#f8f4f2 196px,#f2f5f6 197px,#cfe4ef 201px,#acd2e5 204px,#a5cee3 205px,#a2cde3 206px,#b1d5e7 210px,#b3d6e8 215px,#cae1ee 220px,#d1e5f0 221px,#e7f0f4 226px,#f7f6f6 229px,#fcd7c2 237px,#fac8af 240px,#f8bb9e 244px,#f8bb9e 248px,#f9c6ac 252px,#fcdfcf 257px,#f6f7f7 263px,#cfe4ef 270px,#bbdaea 273px,#a9d1e5 277px,#a5cee3 280px,#acd2e5 284px,#c7e0ed 289px,#d1e5f0 290px,#f3f5f6 296px,#f7f5f4 297px,#fcd5bf 304px,#f9c2a7 307px,#f7b799 310px,#f7b99c 311px,#f9c2a7 312px,#fdddcb 314px,#faeae1 316px,#f8f3f0 318px,#f7f6f6 321px,#f6f7f7 331px)"></i>
<i style="background:linear-gradient(90deg,#f7f6f6 0,#f6f7f7 33px,#f7f5f4 52px,#f7f6f6 53px,#f5a886 54px,#f7b799 57px,#fbceb7 60px,#fbe3d4 63px,#f8f3f0 66px,#f5f6f7 67px,#d1e5f0 72px,#a2cde3 77px,#8dc2dc 81px,#8ac0db 84px,#98c8e0 88px,#c0dceb 93px,#dbeaf2 96px,#f7f6f6 100px,#fddbc7 105px,#f9c2a7 108px,#f6af8e 111px,#f4a683 113px,#f19e7d 117px,#f4a683 120px,#f7b596 123px,#facab1 126px,#fddcc9 128px,#f8f3f0 132px,#f5f6f7 133px,#cae1ee 138px,#9bc9e0 142px,#93c6de 143px,#87beda 144px,#78b4d5 146px,#6eaed2 149px,#71b0d3 151px,#7bb6d6 153px,#96c7df 156px,#b8d8e9 159px,#d4e6f1 161px,#eff3f5 164px,#f7f5f4 165px,#fdd9c4 169px,#f7b596 172px,#f2a17f 174px,#e6866a 177px,#e37e64 179px,#e37e64 182px,#e6866a 184px,#f19e7d 187px,#f5a886 188px,#fdddcb 193px,#f8f2ef 196px,#f5f6f7 197px,#d1e5f0 201px,#a9d1e5 204px,#9dcbe1 206px,#a5cee3 210px,#a2cde3 214px,#acd2e5 217px,#bddbea 220px,#d8e9f1 224px,#f6f7f7 229px,#fcd7c2 236px,#f8bda1 240px,#f6b191 243px,#f5ac8b 247px,#f6af8e 249px,#f7b99c 252px,#f9c4a9 254px,#fddbc7 257px,#f9ede5 261px,#f7f6f6 263px,#d1e5f0 269px,#b6d7e8 272px,#a2cde3 275px,#96c7df 278px,#93c6de 281px,#a0cce2 285px,#bbdaea 289px,#d5e7f1 292px,#f2f5f6 296px,#f7f5f4 297px,#fcd5bf 303px,#f8bb9e 306px,#f5aa89 309px,#f5a886 310px,#f5aa89 311px,#f7b596 312px,#f9c4a9 313px,#fcd7c2 314px,#fae9df 316px,#f8f2ef 318px,#f7f6f6 322px,#f6f7f7 331px)"></i>
<i style="background:linear-gradient(90deg,#f7f6f6 0,#f6f7f7 29px,#f7f5f4 53px,#ee9677 54px,#f5aa89 57px,#f9c4a9 60px,#fdd9c4 62px,#f8f2ef 66px,#f5f6f7 67px,#d4e6f1 71px,#b1d5e7 74px,#8ac0db 78px,#78b4d5 81px,#75b2d4 83px,#78b4d5 85px,#81bad8 87px,#a9d1e5 92px,#cfe4ef 95px,#f7f6f6 100px,#fcd5bf 105px,#f7b799 108px,#f5a886 110px,#ec9374 113px,#e98b6e 115px,#ea8e70 118px,#ec9374 120px,#f5a886 123px,#fbccb4 127px,#fdd9c4 128px,#f8f2ef 132px,#f5f6f7 133px,#d1e5f0 137px,#90c4dd 142px,#71b0d3 145px,#65a9cf 147px,#5fa5cd 149px,#62a7ce 151px,#75b2d4 154px,#b1d5e7 159px,#cfe4ef 161px,#f7f6f6 165px,#fcd7c2 169px,#f6b394 172px,#f09c7b 174px,#e48066 177px,#df765e 180px,#df765e 182px,#e37e64 184px,#ee9677 187px,#f2a17f 188px,#f9c2a7 191px,#fddbc7 193px,#f7f6f6 197px,#d2e6f0 201px,#a9d1e5 204px,#a0cce2 205px,#98c8e0 207px,#9bc9e0 210px,#96c7df 213px,#9bc9e0 216px,#b1d5e7 220px,#d8e9f1 225px,#f3f5f6 229px,#f8f4f2 230px,#fddbc7 235px,#f9c2a7 238px,#f5aa89 242px,#f3a481 244px,#f19e7d 247px,#f2a17f 249px,#f5a886 251px,#f7b99c 254px,#fbd0b9 257px,#fddbc7 258px,#f7f5f4 263px,#e9f0f4 265px,#cae1ee 269px,#a9d1e5 272px,#98c8e0 274px,#93c6de 275px,#8ac0db 276px,#7eb8d7 279px,#7eb8d7 281px,#87beda 284px,#a5cee3 288px,#c5dfec 291px,#d1e5f0 292px,#f7f6f6 297px,#fcd7c2 302px,#f7b99c 305px,#f3a481 308px,#ee9677 310px,#f09c7b 311px,#f5a886 312px,#f7b99c 313px,#fbceb7 314px,#fcdecd 315px,#f9eee7 317px,#f8f4f2 319px,#f7f6f6 323px,#f6f7f7 331px)"></i>
<i style="background:linear-gradient(90deg,#f7f6f6 0,#f5f6f7 24px,#f7f5f4 53px,#e58368 54px,#f19e7d 57px,#f6b191 59px,#fdddcb 63px,#f8f2ef 66px,#f5f6f7 67px,#cfe4ef 71px,#a5cee3 74px,#6eaed2 79px,#62a7ce 81px,#5fa5cd 83px,#62a7ce 85px,#6bacd1 87px,#87beda 90px,#b8d8e9 94px,#d2e6f0 96px,#eff3f5 99px,#f7f5f4 100px,#fce2d2 103px,#fbceb7 105px,#f5ac8b 108px,#ef9979 110px,#e48066 113px,#e17860 116px,#e37e64 119px,#ec9374 122px,#f09c7b 123px,#f5a886 124px,#f9c6ac 127px,#fdddcb 129px,#f8f2ef 132px,#f5f6f7 133px,#cce2ef 137px,#93c6de 141px,#6eaed2 144px,#5ca3cb 146px,#529dc8 148px,#529dc8 150px,#59a1ca 152px,#68abd0 154px,#8dc2dc 157px,#b8d8e9 160px,#cae1ee 161px,#f6f7f7 165px,#fcd7c2 169px,#f6b191 172px,#ef9979 174px,#e27b62 177px,#dd7059 179px,#dc6e57 181px,#e17860 184px,#e6866a 186px,#f4a683 189px,#fac8af 192px,#fcd7c2 193px,#f7f5f4 197px,#e6eff4 199px,#d4e6f1 201px,#a9d1e5 204px,#98c8e0 206px,#8dc2dc 211px,#8ac0db 213px,#8dc2dc 215px,#a0cce2 219px,#b8d8e9 222px,#d4e6f1 225px,#f2f5f6 229px,#f7f5f4 230px,#fdd9c4 235px,#f8bda1 238px,#f5a886 241px,#f09c7b 243px,#ec9374 245px,#eb9172 247px,#ec9374 249px,#f2a17f 252px,#f6af8e 254px,#fac8af 257px,#fddcc9 259px,#f8f4f2 263px,#f2f5f6 264px,#cfe4ef 268px,#a0cce2 272px,#81bad8 275px,#6eaed2 278px,#68abd0 280px,#6bacd1 282px,#75b2d4 284px,#84bcd9 286px,#aed3e6 290px,#d4e6f1 293px,#f7f6f6 297px,#fddcc9 301px,#f4a683 306px,#e98b6e 309px,#e6866a 310px,#e8896c 311px,#f09c7b 312px,#f6b191 313px,#fddcc9 315px,#f9ede5 317px,#f8f4f2 319px,#f7f6f6 323px,#f6f7f7 331px)"></i>
<i style="background:linear-gradient(90deg,#f7f6f6 0,#f5f6f7 25px,#f7f5f4 53px,#df765e 54px,#eb9172 57px,#f5a886 59px,#fddbc7 63px,#f8f1ed 66px,#f5f6f7 67px,#cae1ee 71px,#a9d1e5 73px,#90c4dd 75px,#75b2d4 77px,#5fa5cd 79px,#529dc8 81px,#4c99c6 83px,#4f9bc7 85px,#529dc8 86px,#62a7ce 88px,#78b4d5 90px,#a2cde3 93px,#cfe4ef 96px,#eff3f5 99px,#f7f5f4 100px,#fcdfcf 103px,#f6af8e 107px,#ee9677 109px,#e17860 112px,#db6b55 115px,#da6853 117px,#dc6e57 119px,#e27b62 121px,#f09c7b 124px,#f5a886 125px,#fbccb4 128px,#fddbc7 129px,#f5f6f7 133px,#d5e7f1 136px,#a7d0e4 139px,#9bc9e0 140px,#7bb6d6 142px,#569fc9 145px,#4393c3 148px,#4393c3 150px,#4c99c6 152px,#5ca3cb 154px,#75b2d4 156px,#a2cde3 159px,#d2e6f0 162px,#f3f5f6 165px,#fae9df 167px,#fcd7c2 169px,#f6af8e 172px,#ee9677 174px,#e8896c 175px,#dd7059 178px,#db6b55 179px,#da6853 181px,#dd7059 184px,#e8896c 187px,#f2a17f 189px,#f7b799 191px,#fdddcb 194px,#f8f3f0 197px,#f2f5f6 198px,#d5e7f1 201px,#acd2e5 204px,#a0cce2 205px,#93c6de 207px,#81bad8 213px,#84bcd9 215px,#8ac0db 217px,#a7d0e4 221px,#d1e5f0 225px,#f7f6f6 230px,#fdd9c4 235px,#f8bb9e 238px,#f5aa89 240px,#ea8e70 244px,#e6866a 247px,#e98b6e 250px,#f19e7d 253px,#f4a683 254px,#f9c2a7 257px,#fcdfcf 260px,#f8f3f0 263px,#f3f5f6 264px,#cce2ef 268px,#a2cde3 271px,#98c8e0 272px,#7eb8d7 274px,#62a7ce 277px,#59a1ca 279px,#59a1ca 281px,#5fa5cd 283px,#6bacd1 285px,#81bad8 287px,#a5cee3 290px,#dae9f2 294px,#f6f7f7 297px,#fdd9c4 301px,#f6b394 304px,#f09c7b 306px,#e37e64 309px,#df765e 310px,#e27b62 311px,#ea8e70 312px,#f5a886 313px,#fcd7c2 315px,#fbe4d6 316px,#f9ebe3 317px,#f7f5f4 320px,#f6f7f7 331px)"></i>
<i style="background:linear-gradient(90deg,#f7f6f6 0,#f5f6f7 25px,#f7f5f4 53px,#da6853 54px,#e6866a 57px,#f2a17f 59px,#fac8af 62px,#fcd7c2 63px,#f8f1ed 66px,#f3f5f6 67px,#d2e6f0 70px,#84bcd9 75px,#65a9cf 77px,#4f9bc7 79px,#4393c3 81px,#408fc1 83px,#4393c3 86px,#5fa5cd 89px,#7bb6d6 91px,#bbdaea 95px,#cce2ef 96px,#edf2f5 99px,#f7f5f4 100px,#fdddcb 103px,#f5a886 107px,#e98b6e 109px,#dc6e57 112px,#d6604d 114px,#d35a4a 117px,#d6604d 119px,#e17860 122px,#f19e7d 125px,#f7b99c 127px,#fcd7c2 129px,#f8f1ed 132px,#f5f6f7 133px,#d4e6f1 136px,#a2cde3 139px,#81bad8 141px,#62a7ce 143px,#4997c5 145px,#4291c2 146px,#3c8abe 149px,#408fc1 152px,#4f9bc7 154px,#68abd0 156px,#acd2e5 160px,#cfe4ef 162px,#f2f5f6 165px,#f8f2ef 166px,#fcd7c2 169px,#f5ac8b 172px,#f2a17f 173px,#eb9172 174px,#de735c 177px,#db6b55 178px,#d7634f 180px,#da6853 183px,#db6b55 184px,#e58368 187px,#f5a886 190px,#fbccb4 193px,#fddbc7 194px,#f5f6f7 198px,#d7e8f1 201px,#a0cce2 205px,#90c4dd 207px,#7bb6d6 212px,#78b4d5 214px,#81bad8 217px,#a9d1e5 222px,#ddebf2 227px,#f6f7f7 230px,#fdd9c4 235px,#f9c2a7 237px,#f4a683 240px,#e98b6e 243px,#e37e64 246px,#e37e64 249px,#e98b6e 252px,#f4a683 255px,#f9c6ac 258px,#fdddcb 260px,#f8f2ef 263px,#f3f5f6 264px,#cae1ee 268px,#b8d8e9 269px,#90c4dd 272px,#75b2d4 274px,#5fa5cd 276px,#4f9bc7 278px,#4997c5 280px,#4997c5 282px,#5ca3cb 285px,#71b0d3 287px,#8dc2dc 289px,#a9d1e5 291px,#cae1ee 293px,#ecf2f5 296px,#f6f7f7 297px,#fcd7c2 301px,#f5ac8b 304px,#e6866a 307px,#dd7059 309px,#db6b55 310px,#dc6e57 311px,#e58368 312px,#f19e7d 313px,#f8bb9e 314px,#fcd3bc 315px,#fce2d2 316px,#faeae1 317px,#f8f3f0 319px,#f7f6f6 322px,#f6f7f7 331px)"></i>
<i style="background:linear-gradient(90deg,#f7f6f6 0,#f5f6f7 26px,#f7f5f4 53px,#d35a4a 54px,#dc6e57 56px,#ef9979 59px,#f7b596 61px,#fcd5bf 63px,#f8f1ed 66px,#f3f5f6 67px,#d1e5f0 70px,#acd2e5 72px,#9dcbe1 73px,#78b4d5 75px,#59a1ca 77px,#4393c3 79px,#3a87bd 82px,#3b88be 85px,#408fc1 87px,#4695c4 88px,#5fa5cd 90px,#a5cee3 94px,#b3d6e8 95px,#c7e0ed 96px,#edf2f5 99px,#f7f5f4 100px,#fddcc9 103px,#f6af8e 106px,#eb9172 108px,#db6b55 111px,#d6604d 112px,#cf5246 114px,#cc4c44 117px,#d35a4a 120px,#dc6e57 122px,#e6866a 124px,#f4a683 126px,#f9c2a7 128px,#fcd3bc 129px,#f9f0eb 132px,#f5f6f7 133px,#d1e5f0 136px,#8ac0db 140px,#65a9cf 142px,#4997c5 144px,#408fc1 145px,#3885bc 148px,#3885bc 151px,#4393c3 154px,#5fa5cd 156px,#a5cee3 160px,#cae1ee 162px,#f0f4f6 165px,#f8f3f0 166px,#fcd7c2 169px,#f5aa89 172px,#f19e7d 173px,#e48066 175px,#d86551 178px,#d55d4c 180px,#d6604d 183px,#de735c 186px,#ee9677 189px,#f6af8e 191px,#fcd7c2 194px,#f6f7f7 198px,#cce2ef 202px,#a2cde3 205px,#8ac0db 208px,#7eb8d7 210px,#71b0d3 213px,#71b0d3 215px,#7bb6d6 217px,#87beda 219px,#a2cde3 222px,#d1e5f0 226px,#f3f5f6 230px,#f8f3f0 231px,#fcd7c2 235px,#f2a17f 240px,#e37e64 244px,#de735c 247px,#df765e 250px,#e8896c 253px,#f5a886 256px,#fbccb4 259px,#fce2d2 261px,#f8f1ed 263px,#f5f6f7 264px,#d5e7f1 267px,#87beda 272px,#68abd0 274px,#529dc8 276px,#4393c3 278px,#3f8ec0 281px,#4291c2 283px,#4695c4 284px,#59a1ca 286px,#71b0d3 288px,#93c6de 290px,#d4e6f1 294px,#f5f6f7 297px,#fcdfcf 300px,#f5a886 304px,#e27b62 307px,#d55d4c 310px,#d7634f 311px,#e17860 312px,#ee9677 313px,#f7b596 314px,#fbd0b9 315px,#fce0d0 316px,#f9f0eb 318px,#f7f6f6 321px,#f6f7f7 331px)"></i>
<i style="background:linear-gradient(90deg,#f7f6f6 0,#f5f6f7 26px,#f7f5f4 53px,#ce4f45 54px,#d7634f 56px,#ea8e70 59px,#f2a17f 60px,#f8bfa4 62px,#fcdecd 64px,#f9f0eb 66px,#f3f5f6 67px,#dbeaf2 69px,#bbdaea 71px,#96c7df 73px,#5ca3cb 76px,#4c99c6 77px,#4291c2 78px,#3681ba 81px,#337eb8 84px,#3b88be 87px,#4695c4 89px,#529dc8 90px,#9dcbe1 94px,#d4e6f1 97px,#edf2f5 99px,#f7f5f4 100px,#fdd9c4 103px,#f5aa89 106px,#e8896c 108px,#d55d4c 111px,#c84440 114px,#c53e3d 117px,#cc4c44 120px,#dc6e57 123px,#e98b6e 125px,#f6af8e 127px,#fdddcb 130px,#f5f6f7 133px,#cfe4ef 136px,#84bcd9 140px,#5ca3cb 142px,#4c99c6 143px,#4291c2 144px,#3480b9 147px,#327cb7 149px,#3a87bd 153px,#4695c4 155px,#65a9cf 157px,#a0cce2 160px,#d5e7f1 163px,#eff3f5 165px,#f8f4f2 166px,#fcd7c2 169px,#f5aa89 172px,#e37e64 175px,#da6853 177px,#d25849 180px,#d35a4a 183px,#dc6e57 186px,#eb9172 189px,#f5aa89 191px,#fcdecd 195px,#f7f5f4 198px,#d8e9f1 201px,#a0cce2 205px,#84bcd9 208px,#71b0d3 211px,#68abd0 214px,#6bacd1 216px,#7eb8d7 219px,#b3d6e8 224px,#d7e8f1 227px,#f2f5f6 230px,#f8f4f2 231px,#fcd7c2 235px,#f5a886 239px,#eb9172 241px,#e37e64 243px,#dd7059 245px,#db6b55 248px,#dd7059 251px,#e8896c 254px,#f2a17f 256px,#f7b99c 258px,#fcd5bf 260px,#f9f0eb 263px,#f6f7f7 264px,#d4e6f1 267px,#c5dfec 268px,#b1d5e7 269px,#90c4dd 271px,#6eaed2 273px,#4f9bc7 275px,#408fc1 277px,#3b88be 279px,#3b88be 283px,#4291c2 285px,#59a1ca 287px,#78b4d5 289px,#c0dceb 293px,#d1e5f0 294px,#f5f6f7 297px,#fae7dc 299px,#fcdecd 300px,#f2a17f 304px,#dd7059 307px,#d35a4a 309px,#cf5246 310px,#d25849 311px,#dc6e57 312px,#ea8e70 313px,#f6b191 314px,#fbccb4 315px,#fcdfcf 316px,#f9efe9 318px,#f7f5f4 320px,#f6f7f7 331px)"></i>
<i style="background:linear-gradient(90deg,#f7f6f6 0,#f5f6f7 27px,#f7f5f4 53px,#c84440 54px,#d25849 56px,#d86551 57px,#ef9979 60px,#f5aa89 61px,#fdddcb 64px,#f9f0eb 66px,#f3f5f6 67px,#dae9f2 69px,#b6d7e8 71px,#8dc2dc 73px,#65a9cf 75px,#4393c3 77px,#337eb8 80px,#2e77b5 82px,#2f79b5 85px,#3480b9 87px,#3f8ec0 89px,#4997c5 90px,#59a1ca 91px,#81bad8 93px,#98c8e0 94px,#bddbea 96px,#d2e6f0 97px,#ecf2f5 99px,#f7f5f4 100px,#fcd7c2 103px,#f3a481 106px,#dc6e57 109px,#cf5246 111px,#c53e3d 113px,#bf3338 115px,#c13639 118px,#c6413e 120px,#d86551 123px,#e58368 125px,#f5a886 127px,#fddcc9 130px,#f5f6f7 133px,#cce2ef 136px,#90c4dd 139px,#65a9cf 141px,#4393c3 143px,#337eb8 146px,#2e77b5 148px,#2f79b5 151px,#3a87bd 154px,#408fc1 155px,#4c99c6 156px,#71b0d3 158px,#9bc9e0 160px,#d4e6f1 163px,#edf2f5 165px,#f8f4f2 166px,#fcd7c2 169px,#f5a886 172px,#e27b62 175px,#dc6e57 176px,#d55d4c 178px,#cf5246 180px,#d05548 183px,#d6604d 185px,#dd7059 187px,#ef9979 190px,#f7b596 192px,#fdddcb 195px,#f7f5f4 198px,#e3edf3 200px,#cce2ef 202px,#9dcbe1 205px,#7eb8d7 208px,#65a9cf 212px,#5fa5cd 214px,#62a7ce 216px,#75b2d4 219px,#96c7df 222px,#d5e7f1 227px,#f2f5f6 230px,#f8f4f2 231px,#fcd5bf 235px,#f3a481 239px,#e48066 242px,#dc6e57 244px,#d6604d 247px,#d7634f 250px,#df765e 253px,#ef9979 256px,#f7b596 258px,#fcdecd 261px,#f6f7f7 264px,#d2e6f0 267px,#8ac0db 271px,#75b2d4 272px,#529dc8 274px,#4695c4 275px,#3b88be 277px,#337eb8 280px,#3885bc 284px,#4291c2 286px,#4c99c6 287px,#6eaed2 289px,#96c7df 291px,#cfe4ef 294px,#f5f6f7 297px,#f9f0eb 298px,#fdddcb 300px,#f8bb9e 302px,#f09c7b 304px,#da6853 307px,#ce4f45 309px,#c84440 310px,#cc4c44 311px,#d7634f 312px,#f5aa89 314px,#fac8af 315px,#fcdecd 316px,#fae8de 317px,#f8f3f0 319px,#f7f6f6 322px,#f6f7f7 331px)"></i>
<i style="background:linear-gradient(90deg,#f7f6f6 0,#f5f6f7 27px,#f7f5f4 53px,#c2383a 54px,#c6413e 55px,#d55d4c 57px,#e37e64 59px,#f4a683 61px,#fddcc9 64px,#f9f0eb 66px,#f3f5f6 67px,#d8e9f1 69px,#c7e0ed 70px,#87beda 73px,#4695c4 76px,#327cb7 79px,#2a71b2 81px,#276eb0 84px,#2f79b5 87px,#408fc1 90px,#4f9bc7 91px,#90c4dd 94px,#d1e5f0 97px,#ecf2f5 99px,#f7f5f4 100px,#fce2d2 102px,#fcd5bf 103px,#f6b191 105px,#f19e7d 106px,#df765e 108px,#d86551 109px,#c43b3c 112px,#ba2832 115px,#b82531 117px,#bd2d35 119px,#cc4c44 122px,#d35a4a 123px,#e37e64 125px,#f3a481 127px,#fdd9c4 130px,#f9efe9 132px,#f5f6f7 133px,#cae1ee 136px,#8ac0db 139px,#5fa5cd 141px,#4c99c6 142px,#3f8ec0 143px,#2f79b5 146px,#2a71b2 148px,#2a71b2 150px,#327cb7 153px,#3c8abe 155px,#4393c3 156px,#6bacd1 158px,#96c7df 160px,#d2e6f0 163px,#edf2f5 165px,#f8f4f2 166px,#fce2d2 168px,#f7b596 171px,#f4a683 172px,#e58368 174px,#d6604d 177px,#cc4c44 180px,#ce4f45 183px,#cf5246 184px,#db6b55 187px,#ec9374 190px,#f3a481 191px,#f8bfa4 193px,#fddcc9 195px,#f7f5f4 198px,#e3edf3 200px,#cce2ef 202px,#9bc9e0 205px,#81bad8 207px,#6eaed2 209px,#59a1ca 212px,#569fc9 214px,#59a1ca 216px,#62a7ce 218px,#75b2d4 220px,#b6d7e8 225px,#d2e6f0 227px,#f0f4f6 230px,#f8f4f2 231px,#fcdecd 234px,#f5aa89 238px,#f19e7d 239px,#ea8e70 240px,#df765e 242px,#d55d4c 245px,#d05548 247px,#d25849 250px,#d7634f 252px,#e58368 255px,#f2a17f 257px,#f8bda1 259px,#fddcc9 261px,#f6f7f7 264px,#d1e5f0 267px,#98c8e0 270px,#81bad8 271px,#4997c5 274px,#3f8ec0 275px,#2f79b5 279px,#2f79b5 282px,#3783bb 285px,#4393c3 287px,#65a9cf 289px,#a2cde3 292px,#cae1ee 294px,#f5f6f7 297px,#fddcc9 300px,#f5a886 303px,#e48066 305px,#dc6e57 306px,#ce4f45 308px,#c2383a 310px,#c6413e 311px,#d35a4a 312px,#e37e64 313px,#f4a683 314px,#f9c6ac 315px,#fdddcb 316px,#fae7dc 317px,#f8f2ef 319px,#f7f6f6 321px,#f6f7f7 331px)"></i>
<i style="background:linear-gradient(90deg,#f7f6f6 0,#f5f6f7 27px,#f7f5f4 53px,#bd2d35 54px,#c84440 56px,#d86551 58px,#f2a17f 61px,#f9c6ac 63px,#fddbc7 64px,#f9f0eb 66px,#f3f5f6 67px,#d7e8f1 69px,#98c8e0 72px,#529dc8 75px,#408fc1 76px,#2c75b4 79px,#246aae 81px,#2267ac 84px,#2a71b2 87px,#3c8abe 90px,#4695c4 91px,#71b0d3 93px,#a2cde3 95px,#b6d7e8 96px,#cfe4ef 97px,#eaf1f5 99px,#f7f5f4 100px,#fce0d0 102px,#f5ac8b 105px,#e58368 107px,#d55d4c 109px,#c53e3d 111px,#ba2832 113px,#b3192c 116px,#b41c2d 118px,#bb2a34 120px,#cf5246 123px,#d7634f 124px,#f19e7d 127px,#fcd7c2 130px,#f9eee7 132px,#f5f6f7 133px,#d8e9f1 135px,#c7e0ed 136px,#84bcd9 139px,#569fc9 141px,#4393c3 142px,#2f79b5 145px,#246aae 148px,#266caf 151px,#327cb7 154px,#3f8ec0 156px,#62a7ce 158px,#90c4dd 160px,#d1e5f0 163px,#edf2f5 165px,#f8f4f2 166px,#fcd5bf 169px,#f6b191 171px,#f2a17f 172px,#e37e64 174px,#d7634f 176px,#cb4942 179px,#c84440 182px,#cf5246 185px,#d86551 187px,#ea8e70 190px,#f19e7d 191px,#f8bb9e 193px,#fddbc7 195px,#f8f4f2 198px,#eff3f5 199px,#cae1ee 202px,#98c8e0 205px,#6eaed2 208px,#529dc8 211px,#4997c5 213px,#4997c5 215px,#4f9bc7 217px,#5fa5cd 219px,#84bcd9 222px,#aed3e6 225px,#cfe4ef 227px,#f0f4f6 230px,#f8f4f2 231px,#fddcc9 234px,#f4a683 238px,#e17860 241px,#d7634f 243px,#cc4c44 246px,#cb4942 249px,#cf5246 251px,#d7634f 253px,#e27b62 255px,#f5aa89 258px,#fddbc7 261px,#f6f7f7 264px,#cfe4ef 267px,#a5cee3 269px,#93c6de 270px,#65a9cf 272px,#4291c2 274px,#307ab6 277px,#2870b1 280px,#2b73b3 283px,#3e8cbf 287px,#4997c5 288px,#71b0d3 290px,#9dcbe1 292px,#c7e0ed 294px,#e6eff4 296px,#f3f5f6 297px,#fbe5d8 299px,#fddbc7 300px,#f7b596 302px,#f3a481 303px,#e17860 305px,#d05548 307px,#c2383a 309px,#be3036 310px,#c13639 311px,#ce4f45 312px,#df765e 313px,#f2a17f 314px,#f9c2a7 315px,#fddcc9 316px,#fae7dc 317px,#f8f2ef 319px,#f7f6f6 321px,#f6f7f7 331px)"></i>
<i style="background:linear-gradient(90deg,#f7f6f6 0,#f5f6f7 21px,#f7f5f4 49px,#f7f5f4 53px,#b72230 54px,#c43b3c 56px,#d55d4c 58px,#f09c7b 61px,#f9c4a9 63px,#fdd9c4 64px,#f9efe9 66px,#f3f5f6 67px,#d5e7f1 69px,#93c6de 72px,#78b4d5 73px,#4997c5 75px,#3c8abe 76px,#2870b1 79px,#2065ab 81px,#1d5fa2 83px,#2267ac 86px,#307ab6 89px,#408fc1 91px,#529dc8 92px,#9dcbe1 95px,#cce2ef 97px,#eaf1f5 99px,#f7f5f4 100px,#fcdfcf 102px,#f5a886 105px,#e27b62 107px,#d05548 109px,#ba2832 112px,#b1182b 114px,#a81529 116px,#b3192c 119px,#c2383a 122px,#d35a4a 124px,#e58368 126px,#ef9979 127px,#f9c2a7 129px,#fcd5bf 130px,#f9eee7 132px,#f5f6f7 133px,#d8e9f1 135px,#98c8e0 138px,#65a9cf 140px,#4f9bc7 141px,#3f8ec0 142px,#2b73b3 145px,#2369ad 147px,#1f63a8 149px,#246aae 152px,#3480b9 155px,#4695c4 157px,#75b2d4 159px,#8dc2dc 160px,#cfe4ef 163px,#ecf2f5 165px,#f8f4f2 166px,#fce0d0 168px,#fcd3bc 169px,#f6af8e 171px,#e98b6e 173px,#d55d4c 176px,#cb4942 178px,#c53e3d 180px,#c6413e 183px,#c84440 184px,#d6604d 187px,#db6b55 188px,#ef9979 191px,#f7b99c 193px,#fdd9c4 195px,#f8f4f2 198px,#eff3f5 199px,#cae1ee 202px,#a5cee3 204px,#75b2d4 207px,#5ca3cb 209px,#4997c5 211px,#408fc1 213px,#4393c3 217px,#5fa5cd 220px,#7bb6d6 222px,#bbdaea 226px,#cce2ef 227px,#eff3f5 230px,#f8f4f2 231px,#fddcc9 234px,#f6af8e 237px,#f2a17f 238px,#ea8e70 239px,#dd7059 241px,#ce4f45 244px,#c6413e 247px,#c53e3d 249px,#ce4f45 252px,#d86551 254px,#ec9374 257px,#f4a683 258px,#fdd9c4 261px,#f6f7f7 264px,#cce2ef 267px,#8dc2dc 270px,#5fa5cd 272px,#4997c5 273px,#3e8cbf 274px,#2870b1 278px,#246aae 281px,#276eb0 283px,#337eb8 286px,#4291c2 288px,#529dc8 289px,#98c8e0 292px,#c5dfec 294px,#e6eff4 296px,#f3f5f6 297px,#f9efe9 298px,#fdd9c4 300px,#f6b191 302px,#f19e7d 303px,#d6604d 306px,#cc4c44 307px,#b82531 310px,#bd2d35 311px,#c94741 312px,#dd7059 313px,#f09c7b 314px,#f8bfa4 315px,#fddbc7 316px,#fbe6da 317px,#f9eee7 318px,#f8f4f2 320px,#f7f6f6 322px,#f6f7f7 331px)"></i>
<i style="background:linear-gradient(90deg,#f7f6f6 0,#f3f5f6 19px,#f7f6f6 38px,#f8f4f2 52px,#f7f5f4 53px,#b3192c 54px,#bf3338 56px,#d05548 58px,#ee9677 61px,#f5ac8b 62px,#fcd7c2 64px,#f9efe9 66px,#f3f5f6 67px,#d4e6f1 69px,#a7d0e4 71px,#75b2d4 73px,#59a1ca 74px,#4393c3 75px,#2a71b2 78px,#1f63a8 80px,#1c5c9f 81px,#1a5899 84px,#1d5fa2 86px,#2065ab 87px,#3480b9 90px,#3e8cbf 91px,#4c99c6 92px,#98c8e0 95px,#cae1ee 97px,#eaf1f5 99px,#f7f5f4 100px,#fcdecd 102px,#f3a481 105px,#d6604d 108px,#c43b3c 110px,#b61f2e 112px,#ae172a 113px,#9f1228 116px,#a21328 118px,#b1182b 120px,#be3036 122px,#da6853 125px,#ec9374 127px,#f5aa89 128px,#fcd3bc 130px,#fce2d2 131px,#f5f6f7 133px,#d7e8f1 135px,#93c6de 138px,#5fa5cd 140px,#4997c5 141px,#337eb8 143px,#2267ac 146px,#1e61a5 147px,#1c5c9f 150px,#246aae 153px,#3885bc 156px,#4291c2 157px,#569fc9 158px,#a0cce2 161px,#cce2ef 163px,#ecf2f5 165px,#f7f5f4 166px,#fcdfcf 168px,#fbd0b9 169px,#f5ac8b 171px,#ef9979 172px,#d86551 175px,#cc4c44 177px,#c43b3c 179px,#c13639 182px,#c84440 185px,#d25849 187px,#de735c 189px,#f4a683 192px,#fcd7c2 195px,#f8f4f2 198px,#eff3f5 199px,#d7e8f1 201px,#90c4dd 205px,#6eaed2 207px,#529dc8 209px,#4291c2 211px,#3c8abe 213px,#3c8abe 216px,#4291c2 218px,#4997c5 219px,#62a7ce 221px,#96c7df 224px,#d7e8f1 228px,#edf2f5 230px,#f7f5f4 231px,#fddbc7 234px,#f5aa89 237px,#e8896c 239px,#d55d4c 242px,#c53e3d 245px,#c13639 247px,#c2383a 250px,#c94741 252px,#d55d4c 254px,#e27b62 256px,#f2a17f 258px,#f9c4a9 260px,#fcd7c2 261px,#f7f6f6 264px,#cce2ef 267px,#b3d6e8 268px,#a0cce2 269px,#59a1ca 272px,#4393c3 273px,#337eb8 275px,#246aae 278px,#1f63a8 281px,#2267ac 283px,#2f79b5 286px,#3e8cbf 288px,#4c99c6 289px,#93c6de 292px,#c2ddec 294px,#d5e7f1 295px,#f3f5f6 297px,#f9efe9 298px,#fcd7c2 300px,#f6af8e 302px,#ef9979 303px,#d25849 306px,#ba2832 309px,#b41c2d 310px,#b82531 311px,#c53e3d 312px,#da6853 313px,#ee9677 314px,#f8bb9e 315px,#fdd9c4 316px,#fbe5d8 317px,#f8f2ef 319px,#f7f6f6 321px,#f6f7f7 331px)"></i>
<i style="background:linear-gradient(90deg,#f7f6f6 0,#f3f5f6 20px,#f7f6f6 38px,#f8f4f2 53px,#ab162a 54px,#b41c2d 55px,#c43b3c 57px,#d86551 59px,#f5aa89 62px,#fcd5bf 64px,#f9efe9 66px,#f3f5f6 67px,#d4e6f1 69px,#8ac0db 72px,#529dc8 74px,#3f8ec0 75px,#266caf 78px,#2065ab 79px,#195696 81px,#175290 82px,#185493 85px,#1d5fa2 87px,#2369ad 88px,#3a87bd 91px,#4695c4 92px,#96c7df 95px,#c7e0ed 97px,#eaf1f5 99px,#f7f5f4 100px,#fcdecd 102px,#f7b596 104px,#f2a17f 105px,#dd7059 107px,#d35a4a 108px,#bf3338 110px,#b1182b 112px,#9c1127 114px,#960f27 117px,#9f1228 119px,#b3192c 121px,#c2383a 123px,#d6604d 125px,#f4a683 128px,#fbd0b9 130px,#fce2d2 131px,#f5f6f7 133px,#d5e7f1 135px,#90c4dd 138px,#59a1ca 140px,#4291c2 141px,#2870b1 144px,#2369ad 145px,#195696 148px,#195696 150px,#2065ab 153px,#3480b9 156px,#3e8cbf 157px,#4f9bc7 158px,#9bc9e0 161px,#cae1ee 163px,#eaf1f5 165px,#f7f5f4 166px,#fcdfcf 168px,#fbd0b9 169px,#f5aa89 171px,#e58368 173px,#d6604d 175px,#c43b3c 178px,#bd2d35 181px,#be3036 183px,#c94741 186px,#d6604d 188px,#e37e64 190px,#f3a481 192px,#f9c4a9 194px,#fcd5bf 195px,#f8f3f0 198px,#eff3f5 199px,#d7e8f1 201px,#7bb6d6 206px,#59a1ca 208px,#4997c5 209px,#3c8abe 211px,#3783bb 215px,#3a87bd 217px,#4291c2 219px,#59a1ca 221px,#7bb6d6 223px,#c5dfec 227px,#d5e7f1 228px,#edf2f5 230px,#f7f5f4 231px,#fdd9c4 234px,#f5a886 237px,#ec9374 238px,#d7634f 241px,#c53e3d 244px,#be3036 246px,#bb2a34 248px,#c13639 251px,#cb4942 253px,#d86551 255px,#f09c7b 258px,#f6af8e 259px,#fcd5bf 261px,#f7f6f6 264px,#dbeaf2 266px,#cae1ee 267px,#84bcd9 270px,#529dc8 272px,#408fc1 273px,#2a71b2 276px,#1e61a5 279px,#1c5c9f 280px,#1e61a5 283px,#2267ac 284px,#2c75b4 286px,#3b88be 288px,#4695c4 289px,#75b2d4 291px,#90c4dd 292px,#c0dceb 294px,#e4eef4 296px,#f3f5f6 297px,#f9efe9 298px,#fbe4d6 299px,#fcd5bf 300px,#f5ac8b 302px,#e37e64 304px,#cf5246 306px,#bd2d35 308px,#b61f2e 309px,#ae172a 310px,#b41c2d 311px,#c2383a 312px,#d7634f 313px,#eb9172 314px,#f7b99c 315px,#fcd7c2 316px,#fbe5d8 317px,#f8f2ef 319px,#f7f6f6 323px,#f6f7f7 331px)"></i>
<i style="background:linear-gradient(90deg,#f7f6f6 0,#f3f5f6 21px,#f7f5f4 45px,#f8f4f2 53px,#a21328 54px,#ae172a 55px,#c13639 57px,#d6604d 59px,#ea8e70 61px,#f5a886 62px,#fcd3bc 64px,#fbe3d4 65px,#f9efe9 66px,#f3f5f6 67px,#d2e6f0 69px,#84bcd9 72px,#4c99c6 74px,#3c8abe 75px,#2a71b2 77px,#2369ad 78px,#15508d 81px,#134c87 82px,#144e8a 85px,#175290 86px,#1f63a8 88px,#3783bb 91px,#4291c2 92px,#59a1ca 93px,#93c6de 95px,#c5dfec 97px,#dae9f2 98px,#f7f5f4 100px,#fdddcb 102px,#f6b394 104px,#f09c7b 105px,#db6b55 107px,#d05548 108px,#b41c2d 111px,#9c1127 113px,#8d0c25 116px,#900d26 118px,#960f27 119px,#ae172a 121px,#b72230 122px,#d35a4a 125px,#f3a481 128px,#fbceb7 130px,#fce0d0 131px,#f5f6f7 133px,#d5e7f1 135px,#8ac0db 138px,#529dc8 140px,#3f8ec0 141px,#2c75b4 143px,#1f63a8 145px,#185493 147px,#15508d 148px,#15508d 150px,#1d5fa2 153px,#2369ad 154px,#3b88be 157px,#4695c4 158px,#7bb6d6 160px,#98c8e0 161px,#c7e0ed 163px,#eaf1f5 165px,#f7f5f4 166px,#fcdfcf 168px,#f5a886 171px,#db6b55 174px,#d35a4a 175px,#c13639 178px,#bd2d35 179px,#ba2832 182px,#bd2d35 184px,#cb4942 187px,#da6853 189px,#f19e7d 192px,#f6af8e 193px,#fcd3bc 195px,#f8f3f0 198px,#f0f4f6 199px,#d5e7f1 201px,#8ac0db 205px,#62a7ce 207px,#4393c3 209px,#337eb8 213px,#3681ba 217px,#4393c3 220px,#4f9bc7 221px,#9bc9e0 225px,#d2e6f0 228px,#ecf2f5 230px,#f7f5f4 231px,#fcd7c2 234px,#f3a481 237px,#db6b55 240px,#d35a4a 241px,#c13639 244px,#ba2832 246px,#b72230 248px,#bd2d35 251px,#c6413e 253px,#d6604d 255px,#e58368 257px,#f5ac8b 259px,#fcd3bc 261px,#f7f6f6 264px,#dae9f2 266px,#b1d5e7 268px,#81bad8 270px,#4c99c6 272px,#3e8cbf 273px,#2e77b5 275px,#2267ac 277px,#1d5fa2 278px,#195696 281px,#1e61a5 284px,#2369ad 285px,#2f79b5 287px,#408fc1 289px,#6eaed2 291px,#a5cee3 293px,#d4e6f1 295px,#f3f5f6 297px,#f9efe9 298px,#fcd5bf 300px,#f8bda1 301px,#f5aa89 302px,#e17860 304px,#d7634f 305px,#c2383a 307px,#b1182b 309px,#a51429 310px,#ae172a 311px,#be3036 312px,#d55d4c 313px,#ea8e70 314px,#f7b799 315px,#fcd7c2 316px,#fbe5d8 317px,#f8f2ef 319px,#f7f6f6 323px,#f6f7f7 331px)"></i>
<i style="background:linear-gradient(90deg,#f7f6f6 0,#f3f5f6 22px,#f7f5f4 45px,#f8f4f2 53px,#9c1127 54px,#b41c2d 56px,#d35a4a 59px,#dd7059 60px,#f4a683 62px,#fbd0b9 64px,#fce2d2 65px,#f9eee7 66px,#f2f5f6 67px,#d1e5f0 69px,#9dcbe1 71px,#4997c5 74px,#3a87bd 75px,#1f63a8 78px,#1a5899 79px,#114781 82px,#10457e 84px,#114781 85px,#185493 87px,#2369ad 89px,#3f8ec0 92px,#529dc8 93px,#8dc2dc 95px,#c2ddec 97px,#d8e9f1 98px,#f7f5f4 100px,#fdddcb 102px,#f6b191 104px,#ef9979 105px,#da6853 107px,#ce4f45 108px,#ba2832 110px,#b1182b 111px,#960f27 113px,#870a24 115px,#840924 117px,#991027 120px,#a51429 121px,#b41c2d 122px,#c6413e 124px,#dc6e57 126px,#f2a17f 128px,#fbceb7 130px,#f9ede5 132px,#f5f6f7 133px,#d4e6f1 135px,#bddbea 136px,#87beda 138px,#4f9bc7 140px,#3e8cbf 141px,#2a71b2 143px,#2369ad 144px,#15508d 147px,#124984 149px,#175290 152px,#1f63a8 154px,#3885bc 157px,#4393c3 158px,#93c6de 161px,#c5dfec 163px,#dae9f2 164px,#f7f5f4 166px,#fcdecd 168px,#fbceb7 169px,#f4a683 171px,#da6853 174px,#d05548 175px,#c2383a 177px,#b72230 180px,#b61f2e 182px,#bd2d35 185px,#cf5246 188px,#de735c 190px,#ef9979 192px,#f8bda1 194px,#fcdecd 196px,#f8f2ef 198px,#f0f4f6 199px,#d5e7f1 201px,#87beda 205px,#5ca3cb 207px,#408fc1 209px,#3681ba 211px,#307ab6 213px,#307ab6 216px,#3681ba 218px,#3f8ec0 220px,#4997c5 221px,#6bacd1 223px,#96c7df 225px,#d1e5f0 228px,#ecf2f5 230px,#f7f5f4 231px,#fcd7c2 234px,#f6b394 236px,#f2a17f 237px,#d86551 240px,#c2383a 243px,#b82531 245px,#b3192c 248px,#b82531 251px,#cb4942 254px,#d25849 255px,#e37e64 257px,#f5a886 259px,#fbd0b9 261px,#faeae1 263px,#f7f6f6 264px,#dae9f2 266px,#c7e0ed 267px,#96c7df 269px,#4997c5 272px,#3b88be 273px,#2369ad 276px,#195696 279px,#175290 280px,#175290 282px,#1f63a8 285px,#3480b9 288px,#3f8ec0 289px,#4f9bc7 290px,#a2cde3 293px,#d2e6f0 295px,#f2f5f6 297px,#f9efe9 298px,#fbe3d4 299px,#fcd3bc 300px,#f5a886 302px,#df765e 304px,#d55d4c 305px,#b61f2e 308px,#ab162a 309px,#9f1228 310px,#a81529 311px,#bb2a34 312px,#d25849 313px,#e8896c 314px,#f7b596 315px,#fcd5bf 316px,#fbe4d6 317px,#f9ede5 318px,#f8f4f2 320px,#f7f6f6 324px,#f6f7f7 331px)"></i>
<i style="background:linear-gradient(90deg,#f7f6f6 0,#f3f5f6 22px,#f7f5f4 44px,#f8f4f2 53px,#930e26 54px,#b1182b 56px,#c53e3d 58px,#d05548 59px,#dc6e57 60px,#f3a481 62px,#fbd0b9 64px,#fce2d2 65px,#f9eee7 66px,#f2f5f6 67px,#d1e5f0 69px,#9bc9e0 71px,#4393c3 74px,#246aae 77px,#134c87 80px,#0e4179 82px,#0f437b 85px,#1a5899 88px,#2065ab 89px,#3c8abe 92px,#4f9bc7 93px,#8ac0db 95px,#c2ddec 97px,#d8e9f1 98px,#f7f5f4 100px,#fddcc9 102px,#f6af8e 104px,#e27b62 106px,#d7634f 107px,#b72230 110px,#ab162a 111px,#900d26 113px,#810823 115px,#7f0823 117px,#870a24 119px,#9f1228 121px,#b1182b 122px,#c43b3c 124px,#cf5246 125px,#e58368 127px,#f19e7d 128px,#f7b596 129px,#fbccb4 130px,#fcdfcf 131px,#f5f6f7 133px,#d4e6f1 135px,#84bcd9 138px,#4997c5 140px,#307ab6 142px,#2065ab 144px,#175290 146px,#114781 148px,#10457e 150px,#144e8a 152px,#1d5fa2 154px,#246aae 155px,#408fc1 158px,#569fc9 159px,#90c4dd 161px,#c5dfec 163px,#e9f0f4 165px,#f7f5f4 166px,#fcdecd 168px,#f3a481 171px,#df765e 173px,#d7634f 174px,#bf3338 177px,#ba2832 178px,#b3192c 181px,#b1182b 182px,#b61f2e 184px,#c43b3c 187px,#d35a4a 189px,#ec9374 192px,#f5a886 193px,#fdddcb 196px,#f8f2ef 198px,#f0f4f6 199px,#d5e7f1 201px,#98c8e0 204px,#569fc9 207px,#4695c4 208px,#3c8abe 209px,#2c75b4 213px,#2c75b4 216px,#327cb7 218px,#4291c2 221px,#65a9cf 223px,#90c4dd 225px,#cfe4ef 228px,#f7f6f6 231px,#fcd5bf 234px,#f6b191 236px,#f09c7b 237px,#d6604d 240px,#bf3338 243px,#b61f2e 245px,#ae172a 247px,#ae172a 249px,#b61f2e 251px,#ba2832 252px,#cf5246 255px,#e17860 257px,#f4a683 259px,#fbceb7 261px,#fcdfcf 262px,#f7f5f4 264px,#dae9f2 266px,#96c7df 269px,#78b4d5 270px,#4393c3 272px,#2870b1 275px,#2267ac 276px,#1c5c9f 277px,#15508d 279px,#144e8a 282px,#195696 284px,#2369ad 286px,#337eb8 288px,#3c8abe 289px,#4c99c6 290px,#65a9cf 291px,#a0cce2 293px,#d1e5f0 295px,#f2f5f6 297px,#f9efe9 298px,#fbe3d4 299px,#fcd3bc 300px,#f4a683 302px,#dd7059 304px,#c6413e 306px,#b41c2d 308px,#a51429 309px,#991027 310px,#a21328 311px,#b82531 312px,#d05548 313px,#e6866a 314px,#f6b394 315px,#fcd3bc 316px,#fbe4d6 317px,#f9ede5 318px,#f8f4f2 320px,#f7f6f6 324px,#f6f7f7 331px)"></i>
<i style="background:linear-gradient(90deg,#f7f6f6 0,#f3f5f6 22px,#f7f5f4 44px,#f8f4f2 53px,#8d0c25 54px,#ae172a 56px,#b82531 57px,#cf5246 59px,#e58368 61px,#f2a17f 62px,#fbceb7 64px,#fce2d2 65px,#f9eee7 66px,#f2f5f6 67px,#cfe4ef 69px,#98c8e0 71px,#5ca3cb 73px,#4291c2 74px,#2b73b3 76px,#2369ad 77px,#15508d 79px,#0e4179 81px,#0c3d73 82px,#0d3f76 85px,#134c87 87px,#1e61a5 89px,#307ab6 91px,#3b88be 92px,#4c99c6 93px,#a5cee3 96px,#d7e8f1 98px,#f7f5f4 100px,#fddcc9 102px,#f9c4a9 103px,#f6af8e 104px,#ec9374 105px,#d6604d 107px,#be3036 109px,#b41c2d 110px,#960f27 112px,#810823 114px,#790622 116px,#7c0722 118px,#991027 121px,#ab162a 122px,#b72230 123px,#c13639 124px,#d86551 126px,#f09c7b 128px,#f6b394 129px,#fcdfcf 131px,#f5f6f7 133px,#d4e6f1 135px,#a0cce2 137px,#4695c4 140px,#266caf 143px,#1e61a5 144px,#144e8a 146px,#0f437b 148px,#0e4179 150px,#124984 152px,#1b5a9c 154px,#2267ac 155px,#3e8cbf 158px,#529dc8 159px,#8dc2dc 161px,#c2ddec 163px,#d8e9f1 164px,#f7f6f6 166px,#fcdecd 168px,#f7b799 170px,#f2a17f 171px,#de735c 173px,#d6604d 174px,#cc4c44 175px,#b82531 178px,#ae172a 180px,#ab162a 182px,#b3192c 184px,#b61f2e 185px,#c84440 188px,#da6853 190px,#ea8e70 192px,#f4a683 193px,#fddcc9 196px,#f8f1ed 198px,#f0f4f6 199px,#d4e6f1 201px,#96c7df 204px,#529dc8 207px,#4291c2 208px,#2f79b5 211px,#2870b1 214px,#2870b1 216px,#3885bc 220px,#3f8ec0 221px,#4c99c6 222px,#75b2d4 224px,#8dc2dc 225px,#cce2ef 228px,#f7f6f6 231px,#fcd5bf 234px,#f6af8e 236px,#ef9979 237px,#d55d4c 240px,#cb4942 241px,#b72230 244px,#b3192c 245px,#ab162a 246px,#a81529 249px,#ab162a 250px,#b3192c 251px,#b72230 252px,#ce4f45 255px,#d6604d 256px,#f3a481 259px,#fcdecd 262px,#f7f5f4 264px,#dae9f2 266px,#acd2e5 268px,#93c6de 269px,#4291c2 272px,#266caf 275px,#1f63a8 276px,#1a5899 277px,#124984 280px,#124984 282px,#1b5a9c 285px,#2065ab 286px,#3a87bd 289px,#4695c4 290px,#9dcbe1 293px,#d1e5f0 295px,#f2f5f6 297px,#f9efe9 298px,#fbd0b9 300px,#f3a481 302px,#dc6e57 304px,#d05548 305px,#bb2a34 307px,#b1182b 308px,#9f1228 309px,#930e26 310px,#9c1127 311px,#b72230 312px,#ce4f45 313px,#e58368 314px,#f6b191 315px,#fcd3bc 316px,#fbe3d4 317px,#f9ebe3 318px,#f8f4f2 320px,#f7f6f6 324px,#f6f7f7 331px)"></i>
<i style="background:linear-gradient(90deg,#f7f6f6 0,#f3f5f6 22px,#f7f5f4 44px,#f8f4f2 53px,#8a0b25 54px,#a81529 56px,#b72230 57px,#c13639 58px,#da6853 60px,#f19e7d 62px,#fbceb7 64px,#fce0d0 65px,#f9eee7 66px,#f2f5f6 67px,#cfe4ef 69px,#98c8e0 71px,#59a1ca 73px,#408fc1 74px,#2065ab 77px,#144e8a 79px,#0d3f76 81px,#09386d 83px,#0a3b70 85px,#114781 87px,#1d5fa2 89px,#246aae 90px,#3a87bd 92px,#4997c5 93px,#65a9cf 94px,#87beda 95px,#c0dceb 97px,#d7e8f1 98px,#f7f5f4 100px,#fddbc7 102px,#f5ac8b 104px,#eb9172 105px,#d55d4c 107px,#bd2d35 109px,#b3192c 110px,#900d26 112px,#7c0722 114px,#730421 116px,#760521 118px,#870a24 120px,#a51429 122px,#b61f2e 123px,#cb4942 125px,#d7634f 126px,#ef9979 128px,#facab1 130px,#fcdecd 131px,#f6f7f7 133px,#d2e6f0 135px,#81bad8 138px,#4393c3 140px,#246aae 143px,#175290 145px,#0f437b 147px,#0c3d73 149px,#0e4179 151px,#144e8a 153px,#1f63a8 155px,#3c8abe 158px,#4f9bc7 159px,#8ac0db 161px,#c0dceb 163px,#d7e8f1 164px,#f7f6f6 166px,#fcdecd 168px,#f7b799 170px,#f2a17f 171px,#d55d4c 174px,#c2383a 176px,#b61f2e 178px,#b1182b 179px,#a51429 181px,#ab162a 184px,#b3192c 185px,#c53e3d 188px,#d7634f 190px,#f2a17f 193px,#fddbc7 196px,#f8f1ed 198px,#f0f4f6 199px,#d4e6f1 201px,#93c6de 204px,#62a7ce 206px,#3f8ec0 208px,#2c75b4 211px,#246aae 214px,#2870b1 217px,#3681ba 220px,#4695c4 222px,#6eaed2 224px,#9dcbe1 226px,#cae1ee 228px,#dbeaf2 229px,#f7f6f6 231px,#fce2d2 233px,#f8bfa4 235px,#f5ac8b 236px,#ee9677 237px,#db6b55 239px,#d25849 240px,#ba2832 243px,#b41c2d 244px,#a51429 246px,#a21328 249px,#ae172a 251px,#b41c2d 252px,#cb4942 255px,#d55d4c 256px,#f2a17f 259px,#facab1 261px,#fcdecd 262px,#f7f5f4 264px,#dae9f2 266px,#acd2e5 268px,#93c6de 269px,#59a1ca 271px,#408fc1 272px,#246aae 275px,#1e61a5 276px,#144e8a 278px,#10457e 280px,#124984 283px,#1e61a5 286px,#266caf 287px,#4393c3 290px,#9bc9e0 293px,#cfe4ef 295px,#f2f5f6 297px,#f9efe9 298px,#fbd0b9 300px,#f2a17f 302px,#db6b55 304px,#cf5246 305px,#b82531 307px,#ab162a 308px,#8d0c25 310px,#960f27 311px,#b41c2d 312px,#cc4c44 313px,#e48066 314px,#f6b191 315px,#fbd0b9 316px,#fbe3d4 317px,#f9ebe3 318px,#f8f4f2 320px,#f7f6f6 324px,#f6f7f7 331px)"></i>
<i style="background:linear-gradient(90deg,#f7f6f6 0,#f3f5f6 22px,#f7f5f4 44px,#f8f4f2 53px,#870a24 54px,#930e26 55px,#a51429 56px,#b61f2e 57px,#bf3338 58px,#d86551 60px,#f09c7b 62px,#f7b596 63px,#fbceb7 64px,#fce0d0 65px,#f9eee7 66px,#f2f5f6 67px,#cfe4ef 69px,#96c7df 71px,#569fc9 73px,#3f8ec0 74px,#1f63a8 77px,#0e4179 80px,#08366a 82px,#073467 83px,#09386d 85px,#10457e 87px,#1b5a9c 89px,#2369ad 90px,#3885bc 92px,#4695c4 93px,#a2cde3 96px,#d7e8f1 98px,#f7f5f4 100px,#fddbc7 102px,#f5aa89 104px,#eb9172 105px,#de735c 106px,#d35a4a 107px,#bb2a34 109px,#b1182b 110px,#9c1127 111px,#810823 113px,#730421 115px,#700320 117px,#730421 118px,#840924 120px,#a21328 122px,#b41c2d 123px,#c94741 125px,#d6604d 126px,#ee9677 128px,#f6b191 129px,#fcdecd 131px,#f6f7f7 133px,#d2e6f0 135px,#9dcbe1 137px,#4291c2 140px,#2369ad 143px,#15508d 145px,#0e4179 147px,#0a3b70 149px,#0a3b70 150px,#0f437b 152px,#185493 154px,#1e61a5 155px,#276eb0 156px,#3b88be 158px,#4c99c6 159px,#a5cee3 162px,#d7e8f1 164px,#f7f6f6 166px,#fcdecd 168px,#f7b596 170px,#f2a17f 171px,#e6866a 172px,#d35a4a 174px,#c13639 176px,#b41c2d 178px,#ab162a 179px,#9f1228 182px,#ae172a 185px,#bb2a34 187px,#cb4942 189px,#d55d4c 190px,#e6866a 192px,#f19e7d 193px,#f9c6ac 195px,#fddbc7 196px,#f9f0eb 198px,#f2f5f6 199px,#d4e6f1 201px,#c0dceb 202px,#a7d0e4 203px,#93c6de 204px,#5fa5cd 206px,#4997c5 207px,#3681ba 209px,#276eb0 212px,#2267ac 215px,#2a71b2 218px,#3a87bd 221px,#4291c2 222px,#6bacd1 224px,#9bc9e0 226px,#c7e0ed 228px,#e9f0f4 230px,#f6f7f7 231px,#fce2d2 233px,#f8bfa4 235px,#f5aa89 236px,#ee9677 237px,#da6853 239px,#c84440 241px,#b82531 243px,#b1182b 244px,#9c1127 247px,#9c1127 249px,#a81529 251px,#b3192c 252px,#b82531 253px,#d35a4a 256px,#f19e7d 259px,#fdddcb 262px,#f7f5f4 264px,#dae9f2 266px,#c5dfec 267px,#90c4dd 269px,#569fc9 271px,#3f8ec0 272px,#2369ad 275px,#185493 277px,#134c87 278px,#0f437b 280px,#0f437b 282px,#185493 285px,#246aae 287px,#4291c2 290px,#5ca3cb 291px,#98c8e0 293px,#cfe4ef 295px,#f2f5f6 297px,#f9efe9 298px,#fbd0b9 300px,#f2a17f 302px,#e58368 303px,#ce4f45 305px,#b72230 307px,#a81529 308px,#960f27 309px,#8a0b25 310px,#930e26 311px,#b3192c 312px,#cb4942 313px,#e48066 314px,#f6af8e 315px,#fbd0b9 316px,#fbe3d4 317px,#f9ebe3 318px,#f8f4f2 320px,#f7f6f6 324px,#f6f7f7 331px)"></i>
<i style="background:linear-gradient(90deg,#f7f6f6 0,#f3f5f6 22px,#f7f5f4 43px,#f8f4f2 53px,#840924 54px,#900d26 55px,#b41c2d 57px,#d7634f 60px,#f09c7b 62px,#fbccb4 64px,#fce0d0 65px,#f9eee7 66px,#f2f5f6 67px,#cce2ef 69px,#96c7df 71px,#569fc9 73px,#3e8cbf 74px,#276eb0 76px,#1e61a5 77px,#0d3f76 80px,#073467 82px,#063264 83px,#08366a 85px,#0f437b 87px,#1a5899 89px,#2267ac 90px,#4393c3 93px,#84bcd9 95px,#bddbea 97px,#d7e8f1 98px,#f7f5f4 100px,#fddbc7 102px,#f5aa89 104px,#de735c 106px,#d25849 107px,#ba2832 109px,#ae172a 110px,#991027 111px,#7f0823 113px,#6d0220 115px,#700320 118px,#760521 119px,#9f1228 122px,#b3192c 123px,#bd2d35 124px,#d6604d 126px,#ee9677 128px,#f6b191 129px,#fcdecd 131px,#f6f7f7 133px,#d2e6f0 135px,#9bc9e0 137px,#7eb8d7 138px,#5ca3cb 139px,#4291c2 140px,#2267ac 143px,#1a5899 144px,#10457e 146px,#0a3b70 148px,#09386d 150px,#0e4179 152px,#175290 154px,#1d5fa2 155px,#266caf 156px,#3a87bd 158px,#4997c5 159px,#87beda 161px,#d5e7f1 164px,#f7f6f6 166px,#fcdecd 168px,#f19e7d 171px,#dc6e57 173px,#c84440 175px,#b82531 177px,#b3192c 178px,#a81529 179px,#9c1127 181px,#9c1127 183px,#a81529 185px,#b3192c 186px,#b82531 187px,#d25849 190px,#e58368 192px,#f09c7b 193px,#f9c4a9 195px,#fdd9c4 196px,#f9f0eb 198px,#f2f5f6 199px,#d4e6f1 201px,#90c4dd 204px,#4695c4 207px,#2e77b5 210px,#2267ac 213px,#2065ab 216px,#2b73b3 219px,#408fc1 222px,#4f9bc7 223px,#98c8e0 226px,#d8e9f1 229px,#f6f7f7 231px,#fce2d2 233px,#fcd3bc 234px,#f5aa89 236px,#e27b62 238px,#cf5246 240px,#bd2d35 242px,#b61f2e 243px,#ae172a 244px,#9c1127 246px,#960f27 248px,#9c1127 250px,#b1182b 252px,#be3036 254px,#d25849 256px,#e58368 258px,#f09c7b 259px,#fac8af 261px,#fdddcb 262px,#f8f4f2 264px,#eaf1f5 265px,#dae9f2 266px,#c5dfec 267px,#90c4dd 269px,#569fc9 271px,#3f8ec0 272px,#2267ac 275px,#124984 278px,#0e4179 280px,#0e4179 282px,#175290 285px,#2369ad 287px,#3681ba 289px,#4291c2 290px,#78b4d5 292px,#98c8e0 293px,#b1d5e7 294px,#cfe4ef 295px,#f2f5f6 297px,#f9efe9 298px,#fbd0b9 300px,#f7b799 301px,#f19e7d 302px,#da6853 304px,#b61f2e 307px,#a51429 308px,#870a24 310px,#900d26 311px,#b1182b 312px,#c94741 313px,#e37e64 314px,#f6af8e 315px,#fbd0b9 316px,#fbe3d4 317px,#f9ebe3 318px,#f8f4f2 320px,#f7f6f6 324px,#f6f7f7 331px)"></i>
<i style="background:linear-gradient(90deg,#f7f6f6 0,#f3f5f6 22px,#f7f5f4 43px,#f8f4f2 53px,#810823 54px,#b3192c 57px,#d7634f 60px,#ef9979 62px,#f7b596 63px,#fce0d0 65px,#f9eee7 66px,#f2f5f6 67px,#cce2ef 69px,#93c6de 71px,#529dc8 73px,#3e8cbf 74px,#276eb0 76px,#175290 78px,#0d3f76 80px,#073467 82px,#063264 84px,#073467 85px,#0e4179 87px,#1a5899 89px,#2267ac 90px,#3783bb 92px,#4393c3 93px,#a0cce2 96px,#d7e8f1 98px,#f7f5f4 100px,#fddbc7 102px,#f5aa89 104px,#dd7059 106px,#d25849 107px,#ba2832 109px,#ab162a 110px,#870a24 112px,#730421 114px,#6a011f 116px,#6d0220 118px,#7f0823 120px,#b1182b 123px,#c84440 125px,#d55d4c 126px,#ee9677 128px,#f6b191 129px,#fcdecd 131px,#f6f7f7 133px,#d2e6f0 135px,#9bc9e0 137px,#5ca3cb 139px,#4291c2 140px,#2a71b2 142px,#2065ab 143px,#0f437b 146px,#09386d 148px,#08366a 150px,#0d3f76 152px,#1c5c9f 155px,#246aae 156px,#3885bc 158px,#4695c4 159px,#a2cde3 162px,#d5e7f1 164px,#f6f7f7 166px,#fcdecd 168px,#fbccb4 169px,#f7b596 170px,#f19e7d 171px,#dc6e57 173px,#d25849 174px,#b72230 177px,#b1182b 178px,#a51429 179px,#991027 181px,#991027 183px,#a51429 185px,#b1182b 186px,#be3036 188px,#d05548 190px,#ee9677 193px,#f6af8e 194px,#fcd7c2 196px,#f9efe9 198px,#f2f5f6 199px,#d4e6f1 201px,#90c4dd 204px,#5ca3cb 206px,#4695c4 207px,#337eb8 209px,#2369ad 212px,#1e61a5 214px,#1f63a8 216px,#246aae 218px,#3681ba 221px,#3e8cbf 222px,#4c99c6 223px,#7bb6d6 225px,#96c7df 226px,#c5dfec 228px,#d8e9f1 229px,#f6f7f7 231px,#fce2d2 233px,#fcd3bc 234px,#f5aa89 236px,#d86551 239px,#ce4f45 240px,#b41c2d 243px,#a21328 245px,#991027 246px,#930e26 248px,#991027 250px,#ab162a 252px,#b61f2e 253px,#bd2d35 254px,#d05548 256px,#e48066 258px,#f09c7b 259px,#f6b191 260px,#fddcc9 262px,#f8f4f2 264px,#eaf1f5 265px,#dae9f2 266px,#c5dfec 267px,#90c4dd 269px,#529dc8 271px,#3f8ec0 272px,#2a71b2 274px,#2267ac 275px,#15508d 277px,#0d3f76 280px,#0f437b 283px,#1b5a9c 286px,#2267ac 287px,#408fc1 290px,#59a1ca 291px,#96c7df 293px,#cce2ef 295px,#f0f4f6 297px,#f9efe9 298px,#fce2d2 299px,#f7b799 301px,#f19e7d 302px,#da6853 304px,#cc4c44 305px,#b61f2e 307px,#a51429 308px,#840924 310px,#8d0c25 311px,#b1182b 312px,#c94741 313px,#e37e64 314px,#f6af8e 315px,#fbd0b9 316px,#fbe3d4 317px,#f9ebe3 318px,#f8f4f2 320px,#f7f6f6 324px,#f6f7f7 331px)"></i>
<i style="background:linear-gradient(90deg,#f7f6f6 0,#f3f5f6 22px,#f7f5f4 43px,#f8f4f2 53px,#7f0823 54px,#9f1228 56px,#b3192c 57px,#c94741 59px,#d7634f 60px,#ef9979 62px,#f6b394 63px,#fbccb4 64px,#fce0d0 65px,#f9eee7 66px,#f2f5f6 67px,#cce2ef 69px,#93c6de 71px,#529dc8 73px,#3c8abe 74px,#266caf 76px,#1d5fa2 77px,#0c3d73 80px,#063264 82px,#053061 84px,#09386d 86px,#195696 89px,#2065ab 90px,#3681ba 92px,#4393c3 93px,#a0cce2 96px,#bddbea 97px,#d5e7f1 98px,#e7f0f4 99px,#f8f4f2 100px,#fddbc7 102px,#f5a886 104px,#dd7059 106px,#d05548 107px,#b82531 109px,#ab162a 110px,#960f27 111px,#700320 114px,#67001f 116px,#730421 119px,#9c1127 122px,#b1182b 123px,#bb2a34 124px,#d55d4c 126px,#ec9374 128px,#f6af8e 129px,#fac8af 130px,#fdddcb 131px,#f6f7f7 133px,#d2e6f0 135px,#9bc9e0 137px,#5ca3cb 139px,#408fc1 140px,#2065ab 143px,#134c87 145px,#0c3d73 147px,#08366a 149px,#09386d 151px,#15508d 154px,#2369ad 156px,#3885bc 158px,#4695c4 159px,#84bcd9 161px,#d4e6f1 164px,#f6f7f7 166px,#fcdecd 168px,#fbccb4 169px,#f7b596 170px,#f19e7d 171px,#dc6e57 173px,#d25849 174px,#be3036 176px,#ae172a 178px,#960f27 181px,#960f27 183px,#ab162a 186px,#b61f2e 187px,#c53e3d 189px,#da6853 191px,#ee9677 193px,#f5ac8b 194px,#fcd5bf 196px,#fbe4d6 197px,#f9efe9 198px,#f3f5f6 199px,#d4e6f1 201px,#a7d0e4 203px,#4393c3 207px,#2b73b3 210px,#1f63a8 213px,#1d5fa2 214px,#1f63a8 217px,#3480b9 221px,#3c8abe 222px,#4997c5 223px,#78b4d5 225px,#93c6de 226px,#d7e8f1 229px,#f5f6f7 231px,#fce2d2 233px,#fcd3bc 234px,#f5aa89 236px,#eb9172 237px,#d7634f 239px,#bb2a34 242px,#b41c2d 243px,#a81529 244px,#960f27 246px,#900d26 248px,#960f27 250px,#ab162a 252px,#b41c2d 253px,#cf5246 256px,#da6853 257px,#ef9979 259px,#f9c6ac 261px,#fddcc9 262px,#f8f4f2 264px,#eaf1f5 265px,#dae9f2 266px,#c5dfec 267px,#90c4dd 269px,#529dc8 271px,#3f8ec0 272px,#2a71b2 274px,#2065ab 275px,#114781 278px,#0d3f76 280px,#0d3f76 282px,#114781 284px,#1b5a9c 286px,#2267ac 287px,#3480b9 289px,#408fc1 290px,#59a1ca 291px,#96c7df 293px,#cce2ef 295px,#f0f4f6 297px,#f9efe9 298px,#fbd0b9 300px,#f7b799 301px,#f19e7d 302px,#da6853 304px,#bf3338 306px,#b61f2e 307px,#a51429 308px,#840924 310px,#8d0c25 311px,#ae172a 312px,#c94741 313px,#e27b62 314px,#f5ac8b 315px,#fbd0b9 316px,#fbe3d4 317px,#f9ebe3 318px,#f8f4f2 320px,#f7f6f6 324px,#f6f7f7 331px)"></i>
<i style="background:linear-gradient(90deg,#f7f6f6 0,#f3f5f6 22px,#f7f5f4 43px,#f8f4f2 53px,#7f0823 54px,#9f1228 56px,#b3192c 57px,#c94741 59px,#d7634f 60px,#ef9979 62px,#f6b394 63px,#fbccb4 64px,#fce0d0 65px,#f9eee7 66px,#f2f5f6 67px,#cce2ef 69px,#93c6de 71px,#529dc8 73px,#3c8abe 74px,#266caf 76px,#1d5fa2 77px,#10457e 79px,#08366a 81px,#053061 83px,#053061 84px,#09386d 86px,#195696 89px,#2065ab 90px,#3681ba 92px,#4393c3 93px,#a0cce2 96px,#bddbea 97px,#d5e7f1 98px,#e7f0f4 99px,#f8f4f2 100px,#fddbc7 102px,#f5a886 104px,#dd7059 106px,#d05548 107px,#b82531 109px,#ab162a 110px,#960f27 111px,#700320 114px,#67001f 116px,#67001f 117px,#730421 119px,#8a0b25 121px,#b1182b 123px,#bb2a34 124px,#d55d4c 126px,#ec9374 128px,#f6af8e 129px,#fac8af 130px,#fdddcb 131px,#f6f7f7 133px,#d2e6f0 135px,#9bc9e0 137px,#5ca3cb 139px,#408fc1 140px,#2065ab 143px,#134c87 145px,#0c3d73 147px,#08366a 149px,#09386d 151px,#10457e 153px,#2369ad 156px,#3885bc 158px,#4695c4 159px,#a0cce2 162px,#d4e6f1 164px,#f6f7f7 166px,#fcdfcf 168px,#fbccb4 169px,#f7b596 170px,#f19e7d 171px,#dc6e57 173px,#d25849 174px,#be3036 176px,#ae172a 178px,#991027 180px,#930e26 183px,#9f1228 185px,#b41c2d 187px,#c43b3c 189px,#d86551 191px,#f5aa89 194px,#fcd5bf 196px,#f9eee7 198px,#f3f5f6 199px,#d4e6f1 201px,#a7d0e4 203px,#75b2d4 205px,#59a1ca 206px,#4393c3 207px,#2b73b3 210px,#2065ab 212px,#1c5c9f 214px,#1e61a5 217px,#2267ac 218px,#337eb8 221px,#4695c4 223px,#5ca3cb 224px,#90c4dd 226px,#c0dceb 228px,#d5e7f1 229px,#f5f6f7 231px,#f9eee7 232px,#fcd3bc 234px,#f5a886 236px,#d7634f 239px,#cc4c44 240px,#ba2832 242px,#b3192c 243px,#9c1127 245px,#900d26 247px,#900d26 249px,#a81529 252px,#b41c2d 253px,#bb2a34 254px,#cf5246 256px,#da6853 257px,#ef9979 259px,#f9c6ac 261px,#fddcc9 262px,#f8f4f2 264px,#eaf1f5 265px,#dae9f2 266px,#c5dfec 267px,#90c4dd 269px,#529dc8 271px,#3f8ec0 272px,#2a71b2 274px,#2065ab 275px,#114781 278px,#0c3d73 281px,#114781 284px,#1b5a9c 286px,#2267ac 287px,#3480b9 289px,#3f8ec0 290px,#75b2d4 292px,#96c7df 293px,#cce2ef 295px,#f0f4f6 297px,#f9efe9 298px,#fbd0b9 300px,#f7b799 301px,#f19e7d 302px,#da6853 304px,#bf3338 306px,#b61f2e 307px,#a51429 308px,#840924 310px,#8d0c25 311px,#ae172a 312px,#c94741 313px,#e27b62 314px,#f5ac8b 315px,#fbd0b9 316px,#fbe3d4 317px,#f9ebe3 318px,#f8f4f2 320px,#f7f6f6 324px,#f6f7f7 331px)"></i>
<i style="background:linear-gradient(90deg,#f7f6f6 0,#f3f5f6 22px,#f7f5f4 43px,#f8f4f2 53px,#810823 54px,#8d0c25 55px,#b3192c 57px,#c94741 59px,#d7634f 60px,#ef9979 62px,#f6b394 63px,#fbccb4 64px,#fce0d0 65px,#f9eee7 66px,#f2f5f6 67px,#cce2ef 69px,#93c6de 71px,#529dc8 73px,#3e8cbf 74px,#266caf 76px,#1d5fa2 77px,#0c3d73 80px,#063264 82px,#053061 83px,#073467 85px,#0e4179 87px,#2065ab 90px,#3681ba 92px,#4393c3 93px,#a0cce2 96px,#bddbea 97px,#d5e7f1 98px,#f7f5f4 100px,#fddbc7 102px,#f5aa89 104px,#dd7059 106px,#d25849 107px,#b82531 109px,#ab162a 110px,#870a24 112px,#730421 114px,#6a011f 116px,#6d0220 118px,#7f0823 120px,#9c1127 122px,#b1182b 123px,#c84440 125px,#d55d4c 126px,#ec9374 128px,#f6af8e 129px,#fac8af 130px,#fdddcb 131px,#f6f7f7 133px,#d2e6f0 135px,#9bc9e0 137px,#7eb8d7 138px,#5ca3cb 139px,#4291c2 140px,#2065ab 143px,#0f437b 146px,#09386d 148px,#08366a 150px,#0d3f76 152px,#15508d 154px,#2369ad 156px,#3885bc 158px,#4695c4 159px,#a0cce2 162px,#d4e6f1 164px,#f6f7f7 166px,#fcdfcf 168px,#f2a17f 171px,#dc6e57 173px,#d25849 174px,#be3036 176px,#ae172a 178px,#991027 180px,#930e26 183px,#960f27 184px,#b3192c 187px,#ba2832 188px,#cc4c44 190px,#d7634f 191px,#f5a886 194px,#fcd3bc 196px,#fbe3d4 197px,#f3f5f6 199px,#d5e7f1 201px,#a7d0e4 203px,#75b2d4 205px,#59a1ca 206px,#4393c3 207px,#2a71b2 210px,#2065ab 212px,#1d5fa2 213px,#1c5c9f 216px,#2065ab 218px,#327cb7 221px,#4393c3 223px,#75b2d4 225px,#90c4dd 226px,#d5e7f1 229px,#f5f6f7 231px,#fbe3d4 233px,#fcd3bc 234px,#f5aa89 236px,#e17860 238px,#d7634f 239px,#c2383a 241px,#b3192c 243px,#9c1127 245px,#900d26 247px,#900d26 249px,#9c1127 251px,#b41c2d 253px,#c43b3c 255px,#da6853 257px,#e37e64 258px,#ef9979 259px,#f6af8e 260px,#fddbc7 262px,#f8f3f0 264px,#eaf1f5 265px,#dae9f2 266px,#acd2e5 268px,#90c4dd 269px,#569fc9 271px,#3f8ec0 272px,#2a71b2 274px,#2267ac 275px,#15508d 277px,#0d3f76 280px,#0d3f76 282px,#15508d 285px,#2267ac 287px,#3480b9 289px,#3f8ec0 290px,#75b2d4 292px,#96c7df 293px,#cce2ef 295px,#f0f4f6 297px,#f9efe9 298px,#fbd0b9 300px,#f7b799 301px,#f19e7d 302px,#da6853 304px,#cc4c44 305px,#b61f2e 307px,#a51429 308px,#840924 310px,#8d0c25 311px,#b1182b 312px,#c94741 313px,#e27b62 314px,#f6af8e 315px,#fbd0b9 316px,#fbe3d4 317px,#f9ebe3 318px,#f8f4f2 320px,#f7f6f6 324px,#f6f7f7 331px)"></i>
<i style="background:linear-gradient(90deg,#f7f6f6 0,#f3f5f6 22px,#f7f5f4 43px,#f8f4f2 53px,#810823 54px,#a21328 56px,#b41c2d 57px,#be3036 58px,#d7634f 60px,#f09c7b 62px,#fbccb4 64px,#fce0d0 65px,#f9eee7 66px,#f2f5f6 67px,#cce2ef 69px,#96c7df 71px,#569fc9 73px,#3e8cbf 74px,#276eb0 76px,#1e61a5 77px,#175290 78px,#0d3f76 80px,#073467 82px,#063264 84px,#0a3b70 86px,#134c87 88px,#2267ac 90px,#3783bb 92px,#4393c3 93px,#a0cce2 96px,#d7e8f1 98px,#f7f5f4 100px,#fddbc7 102px,#f5aa89 104px,#de735c 106px,#d25849 107px,#ba2832 109px,#ab162a 110px,#7c0722 113px,#6d0220 115px,#6a011f 117px,#760521 119px,#8d0c25 121px,#b1182b 123px,#c84440 125px,#d55d4c 126px,#ee9677 128px,#f6af8e 129px,#fac8af 130px,#fdddcb 131px,#f6f7f7 133px,#d2e6f0 135px,#9dcbe1 137px,#4291c2 140px,#2267ac 143px,#1a5899 144px,#10457e 146px,#09386d 148px,#0a3b70 151px,#114781 153px,#1c5c9f 155px,#246aae 156px,#3885bc 158px,#4695c4 159px,#a0cce2 162px,#d4e6f1 164px,#f5f6f7 166px,#fcdfcf 168px,#fbceb7 169px,#f2a17f 171px,#dd7059 173px,#d35a4a 174px,#c84440 175px,#b72230 177px,#ae172a 178px,#991027 180px,#930e26 183px,#9c1127 185px,#b3192c 187px,#c2383a 189px,#d6604d 191px,#f5a886 194px,#fcd3bc 196px,#f9eee7 198px,#f5f6f7 199px,#d5e7f1 201px,#90c4dd 204px,#59a1ca 206px,#4393c3 207px,#2a71b2 210px,#2065ab 212px,#1d5fa2 213px,#1b5a9c 215px,#1d5fa2 217px,#2065ab 218px,#2b73b3 220px,#4393c3 223px,#71b0d3 225px,#8dc2dc 226px,#bddbea 228px,#d4e6f1 229px,#f3f5f6 231px,#fbe3d4 233px,#fcd5bf 234px,#f5aa89 236px,#e17860 238px,#d7634f 239px,#c2383a 241px,#b3192c 243px,#9c1127 245px,#900d26 247px,#900d26 249px,#9c1127 251px,#b41c2d 253px,#c43b3c 255px,#da6853 257px,#e37e64 258px,#ef9979 259px,#f6af8e 260px,#fddbc7 262px,#f8f3f0 264px,#ecf2f5 265px,#c7e0ed 267px,#93c6de 269px,#569fc9 271px,#3f8ec0 272px,#2267ac 275px,#124984 278px,#0f437b 279px,#0d3f76 281px,#0f437b 283px,#1b5a9c 286px,#2267ac 287px,#3480b9 289px,#408fc1 290px,#59a1ca 291px,#96c7df 293px,#cce2ef 295px,#f0f4f6 297px,#f9efe9 298px,#fbe3d4 299px,#fbd0b9 300px,#f2a17f 302px,#da6853 304px,#b61f2e 307px,#a51429 308px,#930e26 309px,#870a24 310px,#900d26 311px,#b1182b 312px,#c94741 313px,#e37e64 314px,#f6af8e 315px,#fbd0b9 316px,#fbe3d4 317px,#f9ebe3 318px,#f8f4f2 320px,#f7f6f6 324px,#f6f7f7 331px)"></i>
<i style="background:linear-gradient(90deg,#f7f6f6 0,#f3f5f6 22px,#f7f5f4 44px,#f8f4f2 53px,#840924 54px,#a51429 56px,#b41c2d 57px,#cb4942 59px,#d86551 60px,#f09c7b 62px,#fbccb4 64px,#fce0d0 65px,#f9eee7 66px,#f2f5f6 67px,#cfe4ef 69px,#96c7df 71px,#569fc9 73px,#3e8cbf 74px,#2870b1 76px,#1e61a5 77px,#124984 79px,#0a3b70 81px,#073467 83px,#08366a 85px,#144e8a 88px,#2369ad 90px,#3783bb 92px,#4695c4 93px,#62a7ce 94px,#84bcd9 95px,#bddbea 97px,#d7e8f1 98px,#f7f5f4 100px,#fddbc7 102px,#f5aa89 104px,#de735c 106px,#d25849 107px,#ba2832 109px,#ae172a 110px,#7f0823 113px,#700320 115px,#6d0220 117px,#810823 120px,#b3192c 123px,#d6604d 126px,#ee9677 128px,#f6b191 129px,#fdddcb 131px,#f6f7f7 133px,#d4e6f1 135px,#9dcbe1 137px,#5fa5cd 139px,#4393c3 140px,#2369ad 143px,#15508d 145px,#0d3f76 147px,#09386d 149px,#0e4179 152px,#175290 154px,#1d5fa2 155px,#246aae 156px,#4695c4 159px,#84bcd9 161px,#d4e6f1 164px,#f5f6f7 166px,#fce0d0 168px,#f7b99c 170px,#f3a481 171px,#dd7059 173px,#d35a4a 174px,#bf3338 176px,#b1182b 178px,#9c1127 180px,#930e26 182px,#960f27 184px,#9c1127 185px,#b3192c 187px,#c2383a 189px,#d6604d 191px,#ea8e70 193px,#f5a886 194px,#fce2d2 197px,#f5f6f7 199px,#d5e7f1 201px,#90c4dd 204px,#5ca3cb 206px,#4393c3 207px,#2a71b2 210px,#2065ab 212px,#1d5fa2 213px,#1b5a9c 215px,#1d5fa2 217px,#2065ab 218px,#2a71b2 220px,#4291c2 223px,#71b0d3 225px,#8dc2dc 226px,#d4e6f1 229px,#f3f5f6 231px,#f9efe9 232px,#fcd5bf 234px,#f5aa89 236px,#d7634f 239px,#bb2a34 242px,#b3192c 243px,#9c1127 245px,#900d26 247px,#900d26 249px,#a81529 252px,#b41c2d 253px,#bb2a34 254px,#cf5246 256px,#e37e64 258px,#ef9979 259px,#f6af8e 260px,#fddbc7 262px,#f8f3f0 264px,#ecf2f5 265px,#c7e0ed 267px,#93c6de 269px,#59a1ca 271px,#408fc1 272px,#2369ad 275px,#134c87 278px,#10457e 279px,#0e4179 281px,#10457e 283px,#175290 285px,#2369ad 287px,#3681ba 289px,#408fc1 290px,#59a1ca 291px,#96c7df 293px,#cce2ef 295px,#f0f4f6 297px,#f9efe9 298px,#fbe3d4 299px,#fbd0b9 300px,#f2a17f 302px,#db6b55 304px,#c2383a 306px,#b72230 307px,#a81529 308px,#960f27 309px,#8a0b25 310px,#930e26 311px,#b3192c 312px,#cb4942 313px,#e37e64 314px,#f6af8e 315px,#fbd0b9 316px,#fbe3d4 317px,#f9ebe3 318px,#f8f4f2 320px,#f7f6f6 324px,#f6f7f7 331px)"></i>
<i style="background:linear-gradient(90deg,#f7f6f6 0,#f3f5f6 23px,#f7f5f4 44px,#f8f4f2 53px,#870a24 54px,#a81529 56px,#b61f2e 57px,#d86551 60px,#f19e7d 62px,#f7b596 63px,#fbceb7 64px,#fce0d0 65px,#f9eee7 66px,#f2f5f6 67px,#cfe4ef 69px,#96c7df 71px,#59a1ca 73px,#3f8ec0 74px,#2065ab 77px,#195696 78px,#0f437b 80px,#09386d 82px,#08366a 84px,#0d3f76 86px,#15508d 88px,#246aae 90px,#3885bc 92px,#4695c4 93px,#a2cde3 96px,#d7e8f1 98px,#f7f5f4 100px,#fddbc7 102px,#f5ac8b 104px,#eb9172 105px,#d35a4a 107px,#bb2a34 109px,#b1182b 110px,#810823 113px,#730421 115px,#700320 117px,#7c0722 119px,#930e26 121px,#b41c2d 123px,#d7634f 126px,#ee9677 128px,#f6b191 129px,#fcdecd 131px,#f6f7f7 133px,#d4e6f1 135px,#a0cce2 137px,#4695c4 140px,#2e77b5 142px,#246aae 143px,#175290 145px,#0f437b 147px,#0c3d73 149px,#0d3f76 151px,#185493 154px,#1e61a5 155px,#266caf 156px,#3a87bd 158px,#4997c5 159px,#a0cce2 162px,#d4e6f1 164px,#f5f6f7 166px,#fce0d0 168px,#fbd0b9 169px,#f3a481 171px,#d55d4c 174px,#b82531 177px,#b1182b 178px,#a51429 179px,#960f27 182px,#991027 184px,#a81529 186px,#b3192c 187px,#c2383a 189px,#d6604d 191px,#f4a683 194px,#fbd0b9 196px,#f9ede5 198px,#f6f7f7 199px,#d7e8f1 201px,#a9d1e5 203px,#78b4d5 205px,#4393c3 207px,#2b73b3 210px,#2065ab 212px,#1d5fa2 213px,#1b5a9c 215px,#1d5fa2 217px,#2065ab 218px,#2a71b2 220px,#4291c2 223px,#71b0d3 225px,#8dc2dc 226px,#d4e6f1 229px,#f2f5f6 231px,#f9efe9 232px,#fbe4d6 233px,#fcd5bf 234px,#f5ac8b 236px,#ec9374 237px,#d86551 239px,#c43b3c 241px,#b41c2d 243px,#a81529 244px,#930e26 247px,#930e26 249px,#9f1228 251px,#b41c2d 253px,#cf5246 256px,#da6853 257px,#ef9979 259px,#f9c6ac 261px,#fddbc7 262px,#f8f3f0 264px,#ecf2f5 265px,#cae1ee 267px,#96c7df 269px,#5ca3cb 271px,#4291c2 272px,#246aae 275px,#1e61a5 276px,#144e8a 278px,#0f437b 281px,#114781 283px,#185493 285px,#246aae 287px,#3783bb 289px,#4291c2 290px,#78b4d5 292px,#96c7df 293px,#cce2ef 295px,#f0f4f6 297px,#f9f0eb 298px,#fcd3bc 300px,#f3a481 302px,#e6866a 303px,#cf5246 305px,#b82531 307px,#ab162a 308px,#991027 309px,#8d0c25 310px,#960f27 311px,#b41c2d 312px,#cc4c44 313px,#e48066 314px,#f6b191 315px,#fbd0b9 316px,#fbe3d4 317px,#f9ebe3 318px,#f8f4f2 320px,#f7f6f6 324px,#f6f7f7 331px)"></i>
<i style="background:linear-gradient(90deg,#f7f6f6 0,#f3f5f6 22px,#f7f5f4 44px,#f8f4f2 53px,#8d0c25 54px,#991027 55px,#ab162a 56px,#b82531 57px,#ce4f45 59px,#da6853 60px,#f19e7d 62px,#fbceb7 64px,#fce0d0 65px,#f9eee7 66px,#f2f5f6 67px,#cfe4ef 69px,#98c8e0 71px,#408fc1 74px,#2267ac 77px,#15508d 79px,#0d3f76 81px,#0a3b70 84px,#0c3d73 85px,#124984 87px,#1d5fa2 89px,#266caf 90px,#3a87bd 92px,#4997c5 93px,#87beda 95px,#c0dceb 97px,#d7e8f1 98px,#f7f5f4 100px,#fddbc7 102px,#f5ac8b 104px,#d55d4c 107px,#b41c2d 110px,#a21328 111px,#870a24 113px,#790622 115px,#760521 117px,#790622 118px,#8a0b25 120px,#a81529 122px,#b61f2e 123px,#d86551 126px,#ef9979 128px,#facab1 130px,#fcdecd 131px,#f6f7f7 133px,#d4e6f1 135px,#84bcd9 138px,#4997c5 140px,#3a87bd 141px,#266caf 143px,#1e61a5 144px,#134c87 146px,#0e4179 148px,#0d3f76 150px,#144e8a 153px,#1f63a8 155px,#3b88be 158px,#4c99c6 159px,#a2cde3 162px,#d4e6f1 164px,#f5f6f7 166px,#f9eee7 167px,#fce2d2 168px,#f8bb9e 170px,#f4a683 171px,#d6604d 174px,#ba2832 177px,#b41c2d 178px,#a21328 180px,#991027 181px,#960f27 183px,#9f1228 185px,#b3192c 187px,#c2383a 189px,#d6604d 191px,#f4a683 194px,#fbd0b9 196px,#fce0d0 197px,#f6f7f7 199px,#d7e8f1 201px,#93c6de 204px,#4695c4 207px,#337eb8 209px,#266caf 211px,#2267ac 212px,#1c5c9f 214px,#1c5c9f 216px,#2065ab 218px,#327cb7 221px,#4291c2 223px,#71b0d3 225px,#8dc2dc 226px,#d2e6f0 229px,#f2f5f6 231px,#f9f0eb 232px,#fcd7c2 234px,#f5ac8b 236px,#e37e64 238px,#cf5246 240px,#bd2d35 242px,#b61f2e 243px,#ab162a 244px,#991027 246px,#930e26 248px,#a21328 251px,#ae172a 252px,#b61f2e 253px,#d05548 256px,#e48066 258px,#ef9979 259px,#f9c6ac 261px,#fddbc7 262px,#f8f3f0 264px,#edf2f5 265px,#cae1ee 267px,#98c8e0 269px,#4393c3 272px,#276eb0 275px,#1f63a8 276px,#1a5899 277px,#114781 280px,#114781 282px,#15508d 284px,#1e61a5 286px,#266caf 287px,#3885bc 289px,#4393c3 290px,#5ca3cb 291px,#98c8e0 293px,#cce2ef 295px,#f0f4f6 297px,#f9f0eb 298px,#fcd3bc 300px,#f4a683 302px,#e8896c 303px,#d05548 305px,#ba2832 307px,#b1182b 308px,#900d26 310px,#991027 311px,#b61f2e 312px,#ce4f45 313px,#e58368 314px,#f6b191 315px,#fcd3bc 316px,#fbe3d4 317px,#f9ebe3 318px,#f8f4f2 320px,#f7f6f6 324px,#f6f7f7 331px)"></i>
<i style="background:linear-gradient(90deg,#f7f6f6 0,#f3f5f6 22px,#f7f5f4 44px,#f8f4f2 53px,#900d26 54px,#b1182b 56px,#c43b3c 58px,#db6b55 60px,#f2a17f 62px,#fbd0b9 64px,#fce2d2 65px,#f9eee7 66px,#f2f5f6 67px,#d1e5f0 69px,#9bc9e0 71px,#5fa5cd 73px,#4291c2 74px,#2369ad 77px,#124984 80px,#0d3f76 82px,#0e4179 85px,#195696 88px,#1f63a8 89px,#327cb7 91px,#3c8abe 92px,#4c99c6 93px,#8ac0db 95px,#d8e9f1 98px,#f7f5f4 100px,#fddcc9 102px,#f6af8e 104px,#e27b62 106px,#d6604d 107px,#b61f2e 110px,#a81529 111px,#8d0c25 113px,#7f0823 115px,#7c0722 117px,#840924 119px,#9c1127 121px,#ae172a 122px,#b82531 123px,#ce4f45 125px,#da6853 126px,#f09c7b 128px,#f6b394 129px,#fcdecd 131px,#f6f7f7 133px,#d5e7f1 135px,#87beda 138px,#4c99c6 140px,#3b88be 141px,#2065ab 144px,#1a5899 145px,#124984 147px,#0f437b 149px,#10457e 151px,#1b5a9c 154px,#2065ab 155px,#3c8abe 158px,#4f9bc7 159px,#a2cde3 162px,#d4e6f1 164px,#f3f5f6 166px,#f9eee7 167px,#fcd3bc 169px,#f5a886 171px,#d7634f 174px,#bd2d35 177px,#b61f2e 178px,#ae172a 179px,#9f1228 181px,#991027 183px,#a21328 185px,#b41c2d 187px,#cc4c44 190px,#d6604d 191px,#f4a683 194px,#fbd0b9 196px,#fce0d0 197px,#f6f7f7 199px,#d8e9f1 201px,#c5dfec 202px,#96c7df 204px,#4997c5 207px,#3c8abe 208px,#2c75b4 210px,#2267ac 212px,#1d5fa2 214px,#1d5fa2 216px,#266caf 219px,#3a87bd 222px,#4393c3 223px,#71b0d3 225px,#8dc2dc 226px,#d2e6f0 229px,#f2f5f6 231px,#f9f0eb 232px,#fcd7c2 234px,#f6af8e 236px,#e48066 238px,#d05548 240px,#be3036 242px,#ae172a 244px,#991027 247px,#991027 249px,#a51429 251px,#b1182b 252px,#b72230 253px,#d25849 256px,#e58368 258px,#f09c7b 259px,#f6b191 260px,#fddbc7 262px,#f8f2ef 264px,#edf2f5 265px,#cce2ef 267px,#9bc9e0 269px,#62a7ce 271px,#4997c5 272px,#3b88be 273px,#2870b1 275px,#2267ac 276px,#185493 278px,#134c87 280px,#144e8a 283px,#1b5a9c 285px,#2065ab 286px,#307ab6 288px,#4695c4 290px,#5fa5cd 291px,#9bc9e0 293px,#cfe4ef 295px,#f0f4f6 297px,#f9f0eb 298px,#fcd5bf 300px,#f4a683 302px,#de735c 304px,#d35a4a 305px,#c6413e 306px,#b3192c 308px,#a21328 309px,#960f27 310px,#9f1228 311px,#b82531 312px,#cf5246 313px,#e6866a 314px,#f6b394 315px,#fcd3bc 316px,#fbe4d6 317px,#f8f1ed 319px,#f7f5f4 321px,#f6f7f7 331px)"></i>
<i style="background:linear-gradient(90deg,#f7f6f6 0,#f3f5f6 22px,#f7f5f4 45px,#f8f4f2 53px,#960f27 54px,#b3192c 56px,#d25849 59px,#e8896c 61px,#f3a481 62px,#fbd0b9 64px,#fce2d2 65px,#f9eee7 66px,#f2f5f6 67px,#d1e5f0 69px,#9dcbe1 71px,#62a7ce 73px,#4695c4 74px,#266caf 77px,#1e61a5 78px,#144e8a 80px,#114781 81px,#0f437b 84px,#10457e 85px,#1b5a9c 88px,#2267ac 89px,#3e8cbf 92px,#529dc8 93px,#8dc2dc 95px,#c2ddec 97px,#d8e9f1 98px,#f7f5f4 100px,#fddcc9 102px,#f6b191 104px,#ef9979 105px,#d86551 107px,#cc4c44 108px,#b82531 110px,#ae172a 111px,#930e26 113px,#840924 115px,#810823 117px,#840924 118px,#a21328 121px,#b3192c 122px,#c53e3d 124px,#db6b55 126px,#f19e7d 128px,#f7b596 129px,#fbccb4 130px,#fcdfcf 131px,#f6f7f7 133px,#d5e7f1 135px,#8ac0db 138px,#4f9bc7 140px,#3e8cbf 141px,#2267ac 144px,#185493 146px,#124984 148px,#114781 150px,#195696 153px,#2369ad 155px,#3f8ec0 158px,#529dc8 159px,#8ac0db 161px,#d4e6f1 164px,#f3f5f6 166px,#fbe3d4 168px,#fcd5bf 169px,#f5aa89 171px,#e37e64 173px,#da6853 174px,#be3036 177px,#b1182b 179px,#a21328 181px,#9f1228 183px,#a51429 185px,#ae172a 186px,#b61f2e 187px,#c43b3c 189px,#d7634f 191px,#f4a683 194px,#fbd0b9 196px,#fce0d0 197px,#f7f6f6 199px,#dae9f2 201px,#c7e0ed 202px,#98c8e0 204px,#4c99c6 207px,#3e8cbf 208px,#2870b1 211px,#1e61a5 214px,#1f63a8 217px,#2c75b4 220px,#4393c3 223px,#71b0d3 225px,#8dc2dc 226px,#d2e6f0 229px,#f0f4f6 231px,#f9f0eb 232px,#fdd9c4 234px,#f6b191 236px,#ef9979 237px,#d25849 240px,#bf3338 242px,#b3192c 244px,#a21328 246px,#9c1127 248px,#a21328 250px,#b3192c 252px,#c94741 255px,#dc6e57 257px,#f19e7d 259px,#f6b394 260px,#fddcc9 262px,#f8f2ef 264px,#edf2f5 265px,#cfe4ef 267px,#b3d6e8 268px,#9dcbe1 269px,#65a9cf 271px,#4c99c6 272px,#3c8abe 273px,#246aae 276px,#1b5a9c 278px,#15508d 280px,#175290 283px,#1d5fa2 285px,#2369ad 286px,#3b88be 289px,#4997c5 290px,#9bc9e0 293px,#cfe4ef 295px,#f0f4f6 297px,#f9f0eb 298px,#fcd5bf 300px,#f5a886 302px,#d55d4c 305px,#b61f2e 308px,#a81529 309px,#9c1127 310px,#a51429 311px,#ba2832 312px,#d05548 313px,#e8896c 314px,#f7b596 315px,#fcd5bf 316px,#fbe4d6 317px,#f9ede5 318px,#f8f4f2 320px,#f7f6f6 324px,#f6f7f7 331px)"></i>
<i style="background:linear-gradient(90deg,#f7f6f6 0,#f3f5f6 21px,#f7f5f4 45px,#f8f4f2 53px,#9f1228 54px,#ab162a 55px,#b72230 56px,#c94741 58px,#d55d4c 59px,#e98b6e 61px,#f4a683 62px,#fcd3bc 64px,#fbe3d4 65px,#f9efe9 66px,#f2f5f6 67px,#d2e6f0 69px,#84bcd9 72px,#4997c5 74px,#3b88be 75px,#2065ab 78px,#144e8a 81px,#114781 83px,#114781 84px,#195696 87px,#1e61a5 88px,#246aae 89px,#408fc1 92px,#569fc9 93px,#90c4dd 95px,#c5dfec 97px,#e9f0f4 99px,#f7f5f4 100px,#fdddcb 102px,#f6b394 104px,#f09c7b 105px,#da6853 107px,#c53e3d 109px,#b3192c 111px,#991027 113px,#8a0b25 115px,#870a24 116px,#930e26 119px,#9c1127 120px,#ab162a 121px,#b61f2e 122px,#d25849 125px,#f2a17f 128px,#fcdfcf 131px,#f6f7f7 133px,#d7e8f1 135px,#8dc2dc 138px,#569fc9 140px,#408fc1 141px,#2c75b4 143px,#1f63a8 145px,#185493 147px,#144e8a 149px,#15508d 151px,#1b5a9c 153px,#1f63a8 154px,#3783bb 157px,#408fc1 158px,#569fc9 159px,#8dc2dc 161px,#d4e6f1 164px,#f3f5f6 166px,#f9efe9 167px,#fcd7c2 169px,#f6af8e 171px,#e48066 173px,#db6b55 174px,#d25849 175px,#ba2832 178px,#b41c2d 179px,#a81529 181px,#a21328 183px,#ab162a 185px,#b3192c 186px,#b72230 187px,#c53e3d 189px,#d86551 191px,#e17860 192px,#f5a886 194px,#fbd0b9 196px,#fce0d0 197px,#f7f6f6 199px,#dae9f2 201px,#b1d5e7 203px,#81bad8 205px,#4f9bc7 207px,#3f8ec0 208px,#2b73b3 211px,#2267ac 213px,#1f63a8 216px,#2870b1 219px,#3b88be 222px,#4695c4 223px,#75b2d4 225px,#a5cee3 227px,#d2e6f0 229px,#f0f4f6 231px,#f8f1ed 232px,#fddbc7 234px,#f6b394 236px,#f19e7d 237px,#dd7059 239px,#d55d4c 240px,#c2383a 242px,#b61f2e 244px,#ae172a 245px,#a21328 247px,#a81529 250px,#b1182b 251px,#bb2a34 253px,#cb4942 255px,#d55d4c 256px,#f19e7d 259px,#f6b394 260px,#fddcc9 262px,#f8f2ef 264px,#eff3f5 265px,#cfe4ef 267px,#87beda 270px,#529dc8 272px,#3f8ec0 273px,#276eb0 276px,#1d5fa2 278px,#1a5899 279px,#185493 282px,#1f63a8 285px,#3480b9 288px,#3e8cbf 289px,#4c99c6 290px,#84bcd9 292px,#cfe4ef 295px,#f0f4f6 297px,#f8f1ed 298px,#fcd7c2 300px,#f5ac8b 302px,#ec9374 303px,#d7634f 305px,#b82531 308px,#b1182b 309px,#a51429 310px,#ab162a 311px,#bd2d35 312px,#d35a4a 313px,#e98b6e 314px,#f7b799 315px,#fcd5bf 316px,#fbe4d6 317px,#f9ede5 318px,#f8f4f2 320px,#f7f6f6 324px,#f6f7f7 331px)"></i>
<i style="background:linear-gradient(90deg,#f7f6f6 0,#f3f5f6 21px,#f7f5f4 46px,#f8f4f2 53px,#a51429 54px,#b3192c 55px,#c2383a 57px,#d7634f 59px,#f5a886 62px,#fcd3bc 64px,#fbe3d4 65px,#f9efe9 66px,#f3f5f6 67px,#d2e6f0 69px,#87beda 72px,#4f9bc7 74px,#3e8cbf 75px,#246aae 78px,#1a5899 80px,#144e8a 83px,#144e8a 84px,#1c5c9f 87px,#2065ab 88px,#3885bc 91px,#4393c3 92px,#93c6de 95px,#c5dfec 97px,#dae9f2 98px,#f7f5f4 100px,#fdddcb 102px,#f19e7d 105px,#dc6e57 107px,#d25849 108px,#be3036 110px,#ae172a 112px,#991027 114px,#900d26 116px,#900d26 117px,#a51429 120px,#b1182b 121px,#c13639 123px,#d55d4c 125px,#f3a481 128px,#fbceb7 130px,#fcdfcf 131px,#f6f7f7 133px,#d7e8f1 135px,#a9d1e5 137px,#90c4dd 138px,#5ca3cb 140px,#4393c3 141px,#307ab6 143px,#2267ac 145px,#1a5899 147px,#175290 149px,#1b5a9c 152px,#2369ad 154px,#307ab6 156px,#4393c3 158px,#75b2d4 160px,#90c4dd 161px,#d5e7f1 164px,#f3f5f6 166px,#f9efe9 167px,#fdd9c4 169px,#f6b191 171px,#f09c7b 172px,#d55d4c 175px,#bd2d35 178px,#b3192c 180px,#a81529 183px,#b1182b 185px,#b41c2d 186px,#bf3338 188px,#d05548 190px,#e27b62 192px,#f5a886 194px,#fbd0b9 196px,#fce0d0 197px,#f7f5f4 199px,#dbeaf2 201px,#cae1ee 202px,#9dcbe1 204px,#6bacd1 206px,#4291c2 208px,#2c75b4 211px,#2267ac 214px,#2369ad 217px,#2f79b5 220px,#3c8abe 222px,#4997c5 223px,#75b2d4 225px,#90c4dd 226px,#a5cee3 227px,#d2e6f0 229px,#f0f4f6 231px,#f8f1ed 232px,#fddcc9 234px,#f2a17f 237px,#de735c 239px,#d6604d 240px,#cc4c44 241px,#b72230 244px,#b3192c 245px,#a81529 248px,#ae172a 250px,#b82531 252px,#c53e3d 254px,#d7634f 256px,#f2a17f 259px,#fddcc9 262px,#f8f2ef 264px,#eff3f5 265px,#d1e5f0 267px,#8ac0db 270px,#4291c2 273px,#2a71b2 276px,#1f63a8 278px,#1b5a9c 280px,#1c5c9f 283px,#2369ad 285px,#3783bb 288px,#408fc1 289px,#529dc8 290px,#a0cce2 293px,#d1e5f0 295px,#f0f4f6 297px,#f8f1ed 298px,#fdd9c4 300px,#f6af8e 302px,#ee9677 303px,#da6853 305px,#c53e3d 307px,#b41c2d 309px,#ab162a 310px,#b3192c 311px,#c13639 312px,#d6604d 313px,#eb9172 314px,#f7b99c 315px,#fcd7c2 316px,#fbe5d8 317px,#f8f2ef 319px,#f7f6f6 323px,#f6f7f7 331px)"></i>
<i style="background:linear-gradient(90deg,#f7f6f6 0,#f3f5f6 20px,#f7f6f6 38px,#f8f4f2 53px,#ae172a 54px,#c53e3d 57px,#da6853 59px,#ec9374 61px,#f5ac8b 62px,#fcd5bf 64px,#fbe4d6 65px,#f9efe9 66px,#f3f5f6 67px,#d4e6f1 69px,#8dc2dc 72px,#569fc9 74px,#408fc1 75px,#2870b1 78px,#2267ac 79px,#1d5fa2 80px,#185493 83px,#185493 84px,#1f63a8 87px,#337eb8 90px,#3b88be 91px,#4997c5 92px,#7bb6d6 94px,#98c8e0 95px,#c7e0ed 97px,#eaf1f5 99px,#f7f5f4 100px,#fcdecd 102px,#f3a481 105px,#d55d4c 108px,#ba2832 111px,#b41c2d 112px,#a21328 114px,#991027 116px,#991027 117px,#ae172a 120px,#b61f2e 121px,#c43b3c 123px,#d7634f 125px,#f5a886 128px,#fbd0b9 130px,#fce0d0 131px,#f7f6f6 133px,#d8e9f1 135px,#c5dfec 136px,#96c7df 138px,#4997c5 141px,#337eb8 143px,#2065ab 146px,#1b5a9c 148px,#1a5899 149px,#1e61a5 152px,#2267ac 153px,#2c75b4 155px,#3c8abe 157px,#4997c5 158px,#78b4d5 160px,#93c6de 161px,#d5e7f1 164px,#f3f5f6 166px,#f9f0eb 167px,#fddbc7 169px,#f6b394 171px,#f2a17f 172px,#d7634f 175px,#c6413e 177px,#b72230 180px,#b3192c 181px,#b1182b 184px,#b72230 186px,#c94741 189px,#d25849 190px,#e37e64 192px,#f5aa89 194px,#fce0d0 197px,#f7f5f4 199px,#ddebf2 201px,#cce2ef 202px,#87beda 205px,#59a1ca 207px,#4695c4 208px,#3480b9 210px,#246aae 214px,#266caf 217px,#327cb7 220px,#3f8ec0 222px,#4c99c6 223px,#78b4d5 225px,#90c4dd 226px,#d2e6f0 229px,#eff3f5 231px,#f8f2ef 232px,#fddcc9 234px,#f3a481 237px,#d86551 240px,#cf5246 241px,#bb2a34 244px,#b61f2e 245px,#b1182b 247px,#ae172a 248px,#b3192c 250px,#c13639 253px,#d86551 256px,#f3a481 259px,#fdddcb 262px,#f8f2ef 264px,#eff3f5 265px,#d2e6f0 267px,#90c4dd 270px,#75b2d4 271px,#4695c4 273px,#2e77b5 276px,#2369ad 278px,#1e61a5 280px,#1f63a8 283px,#276eb0 285px,#3a87bd 288px,#4393c3 289px,#71b0d3 291px,#bbdaea 294px,#d1e5f0 295px,#f0f4f6 297px,#f8f1ed 298px,#fddbc7 300px,#f6b191 302px,#f09c7b 303px,#dc6e57 305px,#d25849 306px,#bf3338 308px,#b3192c 310px,#b61f2e 311px,#c43b3c 312px,#d86551 313px,#ec9374 314px,#f8bb9e 315px,#fdd9c4 316px,#fbe5d8 317px,#f8f2ef 319px,#f7f6f6 323px,#f6f7f7 331px)"></i>
<i style="background:linear-gradient(90deg,#f7f6f6 0,#f3f5f6 19px,#f7f5f4 48px,#f7f5f4 53px,#b41c2d 54px,#c13639 56px,#d35a4a 58px,#e58368 60px,#ef9979 61px,#f9c2a7 63px,#fcd7c2 64px,#f9efe9 66px,#f3f5f6 67px,#d5e7f1 69px,#90c4dd 72px,#5ca3cb 74px,#4695c4 75px,#337eb8 77px,#266caf 79px,#2267ac 80px,#1c5c9f 82px,#1d5fa2 85px,#2870b1 88px,#3f8ec0 91px,#4f9bc7 92px,#9bc9e0 95px,#cae1ee 97px,#eaf1f5 99px,#f7f5f4 100px,#fcdfcf 102px,#fbceb7 103px,#f4a683 105px,#e17860 107px,#cf5246 109px,#be3036 111px,#b3192c 113px,#a51429 115px,#a81529 118px,#b41c2d 120px,#c84440 123px,#db6b55 125px,#ec9374 127px,#f5aa89 128px,#fcd3bc 130px,#fce2d2 131px,#f7f6f6 133px,#dae9f2 135px,#b1d5e7 137px,#81bad8 139px,#4f9bc7 141px,#3f8ec0 142px,#246aae 146px,#1e61a5 149px,#1f63a8 151px,#2a71b2 154px,#3f8ec0 157px,#4f9bc7 158px,#96c7df 161px,#d7e8f1 164px,#f2f5f6 166px,#f9f0eb 167px,#fddcc9 169px,#f4a683 172px,#e27b62 174px,#d25849 176px,#be3036 179px,#b72230 181px,#b41c2d 184px,#ba2832 186px,#cc4c44 189px,#dc6e57 191px,#ee9677 193px,#f5ac8b 194px,#fce0d0 197px,#f7f5f4 199px,#ddebf2 201px,#cfe4ef 202px,#8dc2dc 205px,#5fa5cd 207px,#4997c5 208px,#3783bb 210px,#2a71b2 213px,#276eb0 216px,#2f79b5 219px,#3a87bd 221px,#408fc1 222px,#4f9bc7 223px,#93c6de 226px,#d2e6f0 229px,#eff3f5 231px,#f8f2ef 232px,#fdddcb 234px,#f4a683 237px,#db6b55 240px,#d25849 241px,#be3036 244px,#b41c2d 247px,#b72230 250px,#ba2832 251px,#cb4942 254px,#db6b55 256px,#f5a886 259px,#fdddcb 262px,#f8f2ef 264px,#f0f4f6 265px,#d4e6f1 267px,#96c7df 270px,#7bb6d6 271px,#4f9bc7 273px,#3f8ec0 274px,#276eb0 278px,#2267ac 280px,#2369ad 283px,#2f79b5 286px,#3e8cbf 288px,#4997c5 289px,#78b4d5 291px,#90c4dd 292px,#d2e6f0 295px,#f0f4f6 297px,#f8f1ed 298px,#fddcc9 300px,#f2a17f 303px,#de735c 305px,#d6604d 306px,#c43b3c 308px,#b72230 310px,#bb2a34 311px,#c84440 312px,#db6b55 313px,#ef9979 314px,#f8bda1 315px,#fdd9c4 316px,#fbe6da 317px,#f9eee7 318px,#f8f4f2 320px,#f7f6f6 322px,#f6f7f7 331px)"></i>
<i style="background:linear-gradient(90deg,#f7f6f6 0,#f5f6f7 28px,#f7f5f4 53px,#ba2832 54px,#ce4f45 57px,#d6604d 58px,#f19e7d 61px,#fdd9c4 64px,#f9efe9 66px,#f3f5f6 67px,#d5e7f1 69px,#96c7df 72px,#4c99c6 75px,#3f8ec0 76px,#2b73b3 79px,#2369ad 81px,#1f63a8 84px,#2c75b4 88px,#3a87bd 90px,#4393c3 91px,#6eaed2 93px,#a0cce2 95px,#cce2ef 97px,#eaf1f5 99px,#f7f5f4 100px,#fcdfcf 102px,#fbd0b9 103px,#f5aa89 105px,#ec9374 106px,#db6b55 108px,#c2383a 111px,#b72230 113px,#b1182b 115px,#ae172a 117px,#b82531 120px,#cc4c44 123px,#d55d4c 124px,#ef9979 127px,#f9c2a7 129px,#fcd5bf 130px,#f7f6f6 133px,#cae1ee 136px,#87beda 139px,#59a1ca 141px,#4393c3 142px,#2e77b5 145px,#2369ad 148px,#2369ad 151px,#2f79b5 154px,#4393c3 157px,#6bacd1 159px,#9bc9e0 161px,#d7e8f1 164px,#f2f5f6 166px,#f8f1ed 167px,#fdddcb 169px,#f5a886 172px,#d6604d 176px,#c2383a 179px,#b82531 182px,#ba2832 185px,#c84440 188px,#d6604d 190px,#ef9979 193px,#f5ac8b 194px,#fcd3bc 196px,#fce0d0 197px,#f8f4f2 199px,#ecf2f5 200px,#d1e5f0 202px,#93c6de 205px,#4f9bc7 208px,#4291c2 209px,#307ab6 212px,#2a71b2 215px,#2e77b5 218px,#3681ba 220px,#4393c3 222px,#68abd0 224px,#96c7df 226px,#d4e6f1 229px,#eff3f5 231px,#f8f3f0 232px,#fcdecd 234px,#f5aa89 237px,#e58368 239px,#d6604d 241px,#ce4f45 242px,#be3036 245px,#b82531 247px,#b82531 249px,#c2383a 252px,#d6604d 255px,#ee9677 258px,#f5aa89 259px,#fcdecd 262px,#f8f2ef 264px,#f0f4f6 265px,#d5e7f1 267px,#84bcd9 271px,#569fc9 273px,#4393c3 274px,#307ab6 277px,#2870b1 279px,#266caf 281px,#2b73b3 284px,#337eb8 286px,#408fc1 288px,#4f9bc7 289px,#96c7df 292px,#d4e6f1 295px,#f0f4f6 297px,#f8f2ef 298px,#fdddcb 300px,#f7b799 302px,#f4a683 303px,#ea8e70 304px,#d05548 307px,#c13639 309px,#bd2d35 310px,#bf3338 311px,#cc4c44 312px,#de735c 313px,#f19e7d 314px,#f8bfa4 315px,#fddbc7 316px,#fbe6da 317px,#f9eee7 318px,#f8f4f2 320px,#f7f6f6 322px,#f6f7f7 331px)"></i>
<i style="background:linear-gradient(90deg,#f7f6f6 0,#f5f6f7 27px,#f7f5f4 53px,#bf3338 54px,#c43b3c 55px,#d25849 57px,#da6853 58px,#f3a481 61px,#fac8af 63px,#fddbc7 64px,#f9f0eb 66px,#f3f5f6 67px,#d7e8f1 69px,#9bc9e0 72px,#569fc9 75px,#4393c3 76px,#2f79b5 79px,#276eb0 81px,#246aae 84px,#2c75b4 87px,#3783bb 89px,#3f8ec0 90px,#4c99c6 91px,#75b2d4 93px,#8dc2dc 94px,#cfe4ef 97px,#ecf2f5 99px,#f7f5f4 100px,#fce0d0 102px,#fcd3bc 103px,#f6af8e 105px,#e6866a 107px,#d7634f 109px,#c84440 111px,#bd2d35 113px,#b61f2e 116px,#b72230 118px,#be3036 120px,#d05548 123px,#d86551 124px,#f19e7d 127px,#fcd7c2 130px,#f7f6f6 133px,#cce2ef 136px,#8dc2dc 139px,#5fa5cd 141px,#4c99c6 142px,#3f8ec0 143px,#2f79b5 146px,#276eb0 149px,#2b73b3 152px,#3885bc 155px,#3f8ec0 156px,#4c99c6 157px,#75b2d4 159px,#b3d6e8 162px,#d8e9f1 164px,#f2f5f6 166px,#f8f1ed 167px,#fcdecd 169px,#f5ac8b 172px,#e8896c 174px,#da6853 176px,#c6413e 179px,#bd2d35 182px,#be3036 185px,#c53e3d 187px,#d86551 190px,#e8896c 192px,#f19e7d 193px,#f6af8e 194px,#fcd3bc 196px,#fce0d0 197px,#f8f4f2 199px,#edf2f5 200px,#d2e6f0 202px,#81bad8 206px,#59a1ca 208px,#4695c4 209px,#3885bc 211px,#307ab6 213px,#2e77b5 216px,#3480b9 219px,#3f8ec0 221px,#4997c5 222px,#59a1ca 223px,#98c8e0 226px,#d4e6f1 229px,#eff3f5 231px,#f8f3f0 232px,#fcdfcf 234px,#f6af8e 237px,#f09c7b 238px,#d86551 241px,#cb4942 243px,#bf3338 246px,#bd2d35 247px,#bf3338 250px,#c6413e 252px,#da6853 255px,#f09c7b 258px,#fbd0b9 261px,#fae8de 263px,#f8f2ef 264px,#f0f4f6 265px,#d7e8f1 267px,#8ac0db 271px,#5fa5cd 273px,#4c99c6 274px,#408fc1 275px,#307ab6 278px,#2b73b3 282px,#337eb8 285px,#3e8cbf 287px,#4695c4 288px,#6eaed2 290px,#acd2e5 293px,#d5e7f1 295px,#f0f4f6 297px,#f8f2ef 298px,#fcdecd 300px,#f5aa89 303px,#dc6e57 306px,#d55d4c 307px,#c13639 310px,#c43b3c 311px,#d05548 312px,#e27b62 313px,#f3a481 314px,#f9c4a9 315px,#fddcc9 316px,#fae7dc 317px,#f8f2ef 319px,#f7f6f6 321px,#f6f7f7 331px)"></i>
<i style="background:linear-gradient(90deg,#f7f6f6 0,#f5f6f7 27px,#f7f5f4 53px,#c53e3d 54px,#cf5246 56px,#dd7059 58px,#f5a886 61px,#fddcc9 64px,#f9f0eb 66px,#f3f5f6 67px,#d8e9f1 69px,#a0cce2 72px,#5fa5cd 75px,#4c99c6 76px,#408fc1 77px,#307ab6 80px,#2a71b2 83px,#2e77b5 86px,#4393c3 90px,#68abd0 92px,#93c6de 94px,#d1e5f0 97px,#ecf2f5 99px,#f7f5f4 100px,#fce2d2 102px,#f9c4a9 104px,#f2a17f 106px,#db6b55 109px,#d35a4a 110px,#c6413e 112px,#bd2d35 115px,#bb2a34 116px,#bf3338 119px,#cf5246 122px,#dc6e57 124px,#eb9172 126px,#f4a683 127px,#f7b596 128px,#fdd9c4 130px,#f7f6f6 133px,#cfe4ef 136px,#93c6de 139px,#569fc9 142px,#4695c4 143px,#3885bc 145px,#307ab6 147px,#2c75b4 150px,#337eb8 153px,#4393c3 156px,#7bb6d6 159px,#90c4dd 160px,#cae1ee 163px,#f2f5f6 166px,#f8f1ed 167px,#fcdfcf 169px,#fcd3bc 170px,#f2a17f 173px,#e37e64 175px,#d05548 178px,#c6413e 180px,#c13639 183px,#c2383a 185px,#c94741 187px,#d55d4c 189px,#e27b62 191px,#f2a17f 193px,#fcd5bf 196px,#f8f4f2 199px,#edf2f5 200px,#d4e6f1 202px,#87beda 206px,#5fa5cd 208px,#4291c2 210px,#3480b9 213px,#327cb7 216px,#3c8abe 220px,#4291c2 221px,#5fa5cd 223px,#9bc9e0 226px,#d4e6f1 229px,#eff3f5 231px,#f8f3f0 232px,#fcd5bf 235px,#f6b191 237px,#f2a17f 238px,#dc6e57 241px,#cf5246 243px,#c43b3c 246px,#c13639 248px,#c6413e 251px,#d6604d 254px,#ea8e70 257px,#f2a17f 258px,#f9c2a7 260px,#fcd3bc 261px,#fcdfcf 262px,#f8f2ef 264px,#f2f5f6 265px,#cae1ee 268px,#90c4dd 271px,#68abd0 273px,#4695c4 275px,#3681ba 278px,#307ab6 282px,#3885bc 285px,#4291c2 287px,#4f9bc7 288px,#75b2d4 290px,#9dcbe1 292px,#d7e8f1 295px,#f0f4f6 297px,#f8f2ef 298px,#fcdfcf 300px,#f6af8e 303px,#f09c7b 304px,#d86551 307px,#c6413e 310px,#c94741 311px,#d6604d 312px,#e48066 313px,#f5a886 314px,#f9c6ac 315px,#fdddcb 316px,#f9efe9 318px,#f7f5f4 320px,#f6f7f7 331px)"></i>
<i style="background:linear-gradient(90deg,#f7f6f6 0,#f5f6f7 27px,#f7f5f4 53px,#cb4942 54px,#d55d4c 56px,#e98b6e 59px,#f09c7b 60px,#f6af8e 61px,#fdddcb 64px,#f9f0eb 66px,#f3f5f6 67px,#cce2ef 70px,#93c6de 73px,#68abd0 75px,#4695c4 77px,#3681ba 80px,#307ab6 82px,#327cb7 85px,#3783bb 87px,#4291c2 89px,#5fa5cd 91px,#9bc9e0 94px,#d2e6f0 97px,#ecf2f5 99px,#f7f5f4 100px,#fdd9c4 103px,#f4a683 106px,#de735c 109px,#d25849 111px,#c84440 113px,#c2383a 116px,#c43b3c 118px,#c94741 120px,#da6853 123px,#ef9979 126px,#f7b99c 128px,#fddbc7 130px,#f7f6f6 133px,#d2e6f0 136px,#87beda 140px,#71b0d3 141px,#4f9bc7 143px,#4393c3 144px,#337eb8 148px,#3681ba 152px,#4291c2 155px,#6eaed2 158px,#84bcd9 159px,#cce2ef 163px,#f2f5f6 166px,#f8f2ef 167px,#fce0d0 169px,#f7b799 172px,#f5a886 173px,#db6b55 177px,#d05548 179px,#c94741 181px,#c6413e 184px,#cb4942 186px,#d86551 189px,#ec9374 192px,#f4a683 193px,#fcd7c2 196px,#f8f4f2 199px,#eff3f5 200px,#d5e7f1 202px,#a0cce2 205px,#90c4dd 206px,#68abd0 208px,#4997c5 210px,#3c8abe 212px,#3783bb 214px,#3783bb 217px,#408fc1 220px,#4997c5 221px,#68abd0 223px,#a0cce2 226px,#d5e7f1 229px,#eff3f5 231px,#f8f4f2 232px,#fcd7c2 235px,#f4a683 238px,#da6853 242px,#d05548 244px,#c94741 246px,#c84440 249px,#cc4c44 251px,#d6604d 253px,#e6866a 256px,#f4a683 258px,#fcd5bf 261px,#fae9df 263px,#f8f2ef 264px,#f2f5f6 265px,#cce2ef 268px,#98c8e0 271px,#71b0d3 273px,#529dc8 275px,#4695c4 276px,#3b88be 278px,#3681ba 282px,#3e8cbf 285px,#4291c2 286px,#4c99c6 287px,#6bacd1 289px,#a2cde3 292px,#c7e0ed 294px,#e4eef4 296px,#f0f4f6 297px,#f8f2ef 298px,#fce0d0 300px,#fcd5bf 301px,#f6b394 303px,#f3a481 304px,#dd7059 307px,#d05548 309px,#cc4c44 310px,#cf5246 311px,#da6853 312px,#e8896c 313px,#f5ac8b 314px,#facab1 315px,#fcdecd 316px,#fae8de 317px,#f8f3f0 319px,#f7f6f6 322px,#f6f7f7 331px)"></i>
<i style="background:linear-gradient(90deg,#f7f6f6 0,#f5f6f7 26px,#f7f5f4 53px,#d05548 54px,#da6853 56px,#ec9374 59px,#f3a481 60px,#fcd3bc 63px,#f8f1ed 66px,#f3f5f6 67px,#cfe4ef 70px,#87beda 74px,#62a7ce 76px,#4695c4 78px,#3f8ec0 79px,#3783bb 82px,#3783bb 84px,#3a87bd 86px,#4291c2 88px,#59a1ca 90px,#7bb6d6 92px,#90c4dd 93px,#b1d5e7 95px,#d5e7f1 97px,#edf2f5 99px,#f7f5f4 100px,#fddbc7 103px,#f5ac8b 106px,#f09c7b 107px,#dd7059 110px,#d7634f 111px,#cc4c44 114px,#c94741 115px,#cb4942 118px,#cc4c44 119px,#d55d4c 121px,#e48066 124px,#f2a17f 126px,#f8bda1 128px,#fddcc9 130px,#f7f6f6 133px,#d4e6f1 136px,#90c4dd 140px,#6bacd1 142px,#4f9bc7 144px,#4393c3 145px,#3885bc 149px,#3c8abe 152px,#4393c3 154px,#59a1ca 156px,#9dcbe1 160px,#bddbea 162px,#d1e5f0 163px,#f2f5f6 166px,#f8f2ef 167px,#fdd9c4 170px,#f6af8e 173px,#eb9172 175px,#db6b55 178px,#d05548 181px,#ce4f45 182px,#cf5246 185px,#d86551 188px,#e98b6e 191px,#f5aa89 193px,#fdd9c4 196px,#f8f4f2 199px,#f0f4f6 200px,#cae1ee 203px,#87beda 207px,#65a9cf 209px,#4c99c6 211px,#4393c3 212px,#3c8abe 215px,#408fc1 218px,#4393c3 219px,#569fc9 221px,#71b0d3 223px,#96c7df 225px,#d7e8f1 229px,#eff3f5 231px,#f8f4f2 232px,#fddbc7 235px,#f5ac8b 238px,#ea8e70 240px,#da6853 243px,#d35a4a 245px,#ce4f45 248px,#d35a4a 251px,#d6604d 252px,#e48066 255px,#f19e7d 257px,#f7b99c 259px,#fcd7c2 261px,#f8f2ef 264px,#f2f5f6 265px,#d1e5f0 268px,#8dc2dc 272px,#6bacd1 274px,#4695c4 277px,#3c8abe 280px,#3f8ec0 284px,#4393c3 285px,#59a1ca 287px,#75b2d4 289px,#a9d1e5 292px,#cce2ef 294px,#f0f4f6 297px,#f8f3f0 298px,#fcd7c2 301px,#f5a886 304px,#e27b62 307px,#d7634f 309px,#d35a4a 310px,#d55d4c 311px,#de735c 312px,#ec9374 313px,#f6b394 314px,#fbceb7 315px,#fce0d0 316px,#fae9df 317px,#f8f3f0 319px,#f7f6f6 322px,#f6f7f7 331px)"></i>
<i style="background:linear-gradient(90deg,#f7f6f6 0,#f5f6f7 26px,#f7f5f4 53px,#d7634f 54px,#de735c 56px,#f09c7b 59px,#f5aa89 60px,#fce0d0 64px,#f8f1ed 66px,#f3f5f6 67px,#d2e6f0 70px,#a0cce2 73px,#5fa5cd 77px,#4997c5 79px,#4291c2 80px,#3c8abe 83px,#408fc1 86px,#4393c3 87px,#59a1ca 89px,#75b2d4 91px,#87beda 92px,#b8d8e9 95px,#d7e8f1 97px,#edf2f5 99px,#f7f5f4 100px,#fddcc9 103px,#f3a481 107px,#e6866a 109px,#d86551 112px,#d25849 114px,#cf5246 116px,#d05548 118px,#d6604d 120px,#e37e64 123px,#ef9979 125px,#f7b596 127px,#fcd3bc 129px,#fcdecd 130px,#f7f6f6 133px,#d5e7f1 136px,#87beda 141px,#68abd0 143px,#4f9bc7 145px,#4695c4 146px,#408fc1 148px,#408fc1 151px,#4695c4 153px,#59a1ca 155px,#75b2d4 157px,#b3d6e8 161px,#d2e6f0 163px,#f2f5f6 166px,#f8f3f0 167px,#fddcc9 170px,#f5a886 174px,#e58368 177px,#da6853 180px,#d55d4c 183px,#d6604d 185px,#de735c 188px,#ee9677 191px,#f4a683 192px,#f6b191 193px,#fddcc9 196px,#f8f3f0 199px,#f0f4f6 200px,#d1e5f0 203px,#a0cce2 206px,#65a9cf 210px,#529dc8 212px,#4997c5 214px,#4695c4 216px,#4695c4 217px,#59a1ca 220px,#7eb8d7 223px,#cce2ef 228px,#eff3f5 231px,#f7f5f4 232px,#fdddcb 235px,#f5a886 239px,#e98b6e 241px,#dc6e57 244px,#d6604d 247px,#d55d4c 248px,#da6853 251px,#df765e 253px,#ef9979 256px,#f4a683 257px,#fbccb4 260px,#fddbc7 261px,#f8f2ef 264px,#f3f5f6 265px,#d4e6f1 268px,#78b4d5 274px,#5fa5cd 276px,#4c99c6 278px,#4393c3 280px,#4393c3 283px,#4f9bc7 285px,#65a9cf 287px,#81bad8 289px,#cfe4ef 294px,#f0f4f6 297px,#f8f3f0 298px,#fddbc7 301px,#f6af8e 304px,#f2a17f 305px,#e58368 307px,#d86551 310px,#db6b55 311px,#e37e64 312px,#f09c7b 313px,#fbd0b9 315px,#fce2d2 316px,#f9f0eb 318px,#f7f6f6 321px,#f6f7f7 331px)"></i>
<i style="background:linear-gradient(90deg,#f7f6f6 0,#f5f6f7 25px,#f7f5f4 53px,#dc6e57 54px,#e98b6e 57px,#ee9677 58px,#f4a683 59px,#f8bda1 61px,#fdd9c4 63px,#f8f1ed 66px,#f5f6f7 67px,#d4e6f1 70px,#7bb6d6 76px,#62a7ce 78px,#4f9bc7 80px,#4695c4 82px,#4393c3 83px,#4695c4 85px,#529dc8 87px,#65a9cf 89px,#81bad8 91px,#cce2ef 96px,#edf2f5 99px,#f7f5f4 100px,#fcdecd 103px,#f7b799 106px,#f19e7d 108px,#e27b62 111px,#d86551 114px,#d7634f 117px,#d7634f 118px,#df765e 121px,#e8896c 123px,#f3a481 125px,#f8bb9e 127px,#fcdfcf 130px,#f7f6f6 133px,#cce2ef 137px,#90c4dd 141px,#68abd0 144px,#569fc9 146px,#4c99c6 148px,#4997c5 150px,#4f9bc7 152px,#5fa5cd 154px,#71b0d3 156px,#c7e0ed 162px,#deebf2 164px,#f2f5f6 166px,#f8f3f0 167px,#fcdecd 170px,#f8bb9e 173px,#f4a683 175px,#ea8e70 177px,#df765e 180px,#dc6e57 183px,#de735c 186px,#e48066 188px,#f2a17f 191px,#f7b99c 193px,#fdddcb 196px,#f8f3f0 199px,#f2f5f6 200px,#d4e6f1 203px,#90c4dd 208px,#78b4d5 210px,#65a9cf 212px,#5ca3cb 214px,#59a1ca 216px,#59a1ca 217px,#62a7ce 219px,#7eb8d7 222px,#8dc2dc 223px,#a5cee3 225px,#d1e5f0 228px,#eff3f5 231px,#f7f5f4 232px,#fcdfcf 235px,#f6b191 239px,#ef9979 241px,#e37e64 244px,#df765e 245px,#dc6e57 247px,#dd7059 250px,#e58368 253px,#f2a17f 256px,#f9c4a9 259px,#fddcc9 261px,#f8f2ef 264px,#f3f5f6 265px,#cae1ee 269px,#84bcd9 274px,#6bacd1 276px,#5ca3cb 278px,#529dc8 280px,#4f9bc7 282px,#59a1ca 284px,#65a9cf 286px,#b3d6e8 292px,#d2e6f0 294px,#f2f5f6 297px,#f8f3f0 298px,#fddcc9 301px,#f7b596 304px,#f5aa89 305px,#ea8e70 307px,#de735c 310px,#df765e 311px,#e8896c 312px,#f3a481 313px,#fcd5bf 315px,#fbe3d4 316px,#f9f0eb 318px,#f7f6f6 321px,#f6f7f7 331px)"></i>
<i style="background:linear-gradient(90deg,#f7f6f6 0,#f5f6f7 24px,#f7f5f4 53px,#e27b62 54px,#ee9677 57px,#f2a17f 58px,#f7b799 60px,#fddcc9 63px,#f8f2ef 66px,#f5f6f7 67px,#cce2ef 71px,#a2cde3 74px,#7bb6d6 77px,#5fa5cd 80px,#569fc9 82px,#569fc9 84px,#5ca3cb 86px,#6bacd1 88px,#81bad8 90px,#c2ddec 95px,#d1e5f0 96px,#eff3f5 99px,#f7f5f4 100px,#fce0d0 103px,#f6b394 107px,#f5a886 108px,#eb9172 110px,#e17860 113px,#dd7059 115px,#de735c 118px,#e27b62 120px,#ee9677 123px,#f5aa89 125px,#fdd9c4 129px,#f7f6f6 133px,#d1e5f0 137px,#9bc9e0 141px,#90c4dd 142px,#81bad8 143px,#65a9cf 146px,#5ca3cb 148px,#59a1ca 150px,#5fa5cd 152px,#6bacd1 154px,#81bad8 156px,#bddbea 161px,#d7e8f1 163px,#f2f5f6 166px,#f8f4f2 167px,#fdd9c4 171px,#f7b799 174px,#f09c7b 177px,#e6866a 180px,#e37e64 183px,#e48066 185px,#eb9172 188px,#f3a481 190px,#f7b799 192px,#fcdfcf 196px,#f8f3f0 199px,#f2f5f6 200px,#cfe4ef 204px,#a7d0e4 207px,#7eb8d7 211px,#71b0d3 213px,#6bacd1 215px,#6eaed2 217px,#75b2d4 219px,#84bcd9 221px,#90c4dd 222px,#a2cde3 224px,#cae1ee 227px,#eff3f5 231px,#f7f5f4 232px,#fddbc7 236px,#f7b99c 239px,#f4a683 241px,#e98b6e 244px,#e37e64 247px,#e48066 250px,#e8896c 252px,#f2a17f 255px,#f7b596 257px,#fcdecd 261px,#f8f2ef 264px,#f3f5f6 265px,#cfe4ef 269px,#9bc9e0 273px,#71b0d3 277px,#65a9cf 279px,#5fa5cd 281px,#62a7ce 283px,#75b2d4 286px,#acd2e5 291px,#d5e7f1 294px,#f2f5f6 297px,#f8f4f2 298px,#fcd5bf 302px,#f6b191 305px,#f4a683 306px,#e6866a 309px,#e48066 310px,#e58368 311px,#ec9374 312px,#f5ac8b 313px,#fdd9c4 315px,#fbe4d6 316px,#f8f1ed 318px,#f7f6f6 321px,#f6f7f7 331px)"></i>
<i style="background:linear-gradient(90deg,#f7f6f6 0,#f6f7f7 26px,#f7f5f4 53px,#e98b6e 54px,#f3a481 57px,#facab1 61px,#fcd7c2 62px,#f8f2ef 66px,#f5f6f7 67px,#d1e5f0 71px,#b6d7e8 73px,#81bad8 78px,#71b0d3 80px,#68abd0 83px,#6bacd1 85px,#75b2d4 87px,#a5cee3 92px,#d5e7f1 96px,#eff3f5 99px,#f7f5f4 100px,#fddcc9 104px,#f8bb9e 107px,#f5a886 109px,#ee9677 111px,#e6866a 114px,#e48066 117px,#e98b6e 120px,#ef9979 122px,#f3a481 123px,#f5aa89 124px,#fcd3bc 128px,#fdddcb 129px,#f7f6f6 133px,#d5e7f1 137px,#9bc9e0 142px,#93c6de 143px,#87beda 144px,#71b0d3 147px,#6eaed2 149px,#6eaed2 151px,#78b4d5 153px,#87beda 155px,#a2cde3 158px,#d1e5f0 162px,#f2f5f6 166px,#f8f4f2 167px,#fddcc9 171px,#f7b799 175px,#f5a886 177px,#ee9677 180px,#eb9172 183px,#ee9677 186px,#f2a17f 188px,#f6af8e 190px,#fac8af 193px,#fddcc9 195px,#f8f4f2 199px,#f3f5f6 200px,#d4e6f1 204px,#a9d1e5 208px,#98c8e0 210px,#84bcd9 214px,#81bad8 216px,#84bcd9 218px,#a5cee3 223px,#d8e9f1 228px,#f7f6f6 232px,#fcd7c2 237px,#f7b99c 240px,#f3a481 243px,#ec9374 246px,#eb9172 249px,#eb9172 250px,#f19e7d 253px,#f5ac8b 255px,#f9c6ac 258px,#fddbc7 260px,#f8f3f0 264px,#f5f6f7 265px,#d4e6f1 269px,#b1d5e7 272px,#8ac0db 276px,#7bb6d6 278px,#71b0d3 281px,#78b4d5 284px,#84bcd9 286px,#a9d1e5 290px,#d8e9f1 294px,#f2f5f6 297px,#f8f4f2 298px,#fddbc7 302px,#f7b99c 305px,#f19e7d 308px,#eb9172 310px,#ec9374 311px,#f3a481 312px,#f7b596 313px,#fdddcb 315px,#f9ede5 317px,#f8f4f2 319px,#f7f6f6 323px,#f6f7f7 331px)"></i>
<i style="background:linear-gradient(90deg,#f7f6f6 0,#f6f7f7 31px,#f7f5f4 53px,#f19e7d 54px,#f5aa89 56px,#f8bfa4 59px,#fddcc9 62px,#f8f3f0 66px,#f5f6f7 67px,#cce2ef 72px,#acd2e5 75px,#8dc2dc 79px,#84bcd9 81px,#7eb8d7 83px,#84bcd9 86px,#a7d0e4 91px,#d1e5f0 95px,#f7f6f6 100px,#fdd9c4 105px,#f8bda1 108px,#f5a886 111px,#f09c7b 113px,#ee9677 116px,#ef9979 119px,#f3a481 121px,#f7b799 124px,#fbd0b9 127px,#fddbc7 128px,#f7f6f6 133px,#c7e0ed 139px,#b1d5e7 141px,#98c8e0 144px,#84bcd9 148px,#84bcd9 151px,#90c4dd 154px,#9dcbe1 156px,#ddebf2 163px,#f3f5f6 166px,#f8f4f2 167px,#fddbc7 172px,#f9c2a7 175px,#f5ac8b 179px,#f4a683 181px,#f4a683 185px,#f6b191 188px,#f8bb9e 190px,#fddbc7 194px,#f8f4f2 199px,#f3f5f6 200px,#cae1ee 206px,#a9d1e5 210px,#98c8e0 214px,#9bc9e0 218px,#acd2e5 222px,#c5dfec 225px,#d5e7f1 227px,#f7f6f6 232px,#fcd7c2 238px,#f8bda1 241px,#f6af8e 244px,#f4a683 246px,#f3a481 249px,#f5aa89 252px,#f7b99c 255px,#fcd7c2 259px,#f8f3f0 264px,#f5f6f7 265px,#d1e5f0 270px,#b1d5e7 273px,#96c7df 277px,#87beda 281px,#8ac0db 283px,#9dcbe1 287px,#b6d7e8 290px,#dbeaf2 294px,#f2f5f6 297px,#f8f4f2 298px,#fcd7c2 303px,#f8bb9e 306px,#f4a683 309px,#f2a17f 310px,#f3a481 311px,#f6af8e 312px,#fcd3bc 314px,#fcdfcf 315px,#fae8de 316px,#f8f2ef 318px,#f7f6f6 322px,#f6f7f7 331px)"></i>
<i style="background:linear-gradient(90deg,#f7f6f6 0,#f7f6f6 53px,#f6af8e 54px,#f8bda1 57px,#fcd3bc 60px,#fddbc7 61px,#f5f6f7 67px,#cce2ef 73px,#b1d5e7 76px,#9bc9e0 80px,#96c7df 83px,#9dcbe1 87px,#aed3e6 90px,#ddebf2 96px,#f7f6f6 100px,#fcd7c2 106px,#f9c2a7 109px,#f6b191 112px,#f5a886 115px,#f5aa89 118px,#f6b394 121px,#f9c2a7 124px,#fcdecd 128px,#f7f6f6 133px,#d1e5f0 139px,#b6d7e8 142px,#9bc9e0 147px,#98c8e0 151px,#a2cde3 154px,#b3d6e8 157px,#dae9f2 162px,#f3f5f6 166px,#f7f5f4 167px,#fcd5bf 174px,#f9c2a7 177px,#f7b596 181px,#f7b596 184px,#f8bb9e 187px,#fac8af 190px,#fcdfcf 194px,#f8f4f2 199px,#f5f6f7 200px,#c5dfec 208px,#b3d6e8 211px,#a9d1e5 214px,#acd2e5 218px,#b6d7e8 221px,#c7e0ed 224px,#f7f6f6 232px,#fcd7c2 239px,#f9c4a9 242px,#f7b596 246px,#f6b394 249px,#f7b596 251px,#f9c4a9 255px,#fce2d2 260px,#f5f6f7 265px,#c7e0ed 272px,#b6d7e8 274px,#a5cee3 277px,#9bc9e0 282px,#a7d0e4 286px,#cae1ee 291px,#e6eff4 295px,#f3f5f6 297px,#f7f5f4 298px,#fddcc9 303px,#f7b99c 308px,#f6b191 310px,#f6b394 311px,#f8bb9e 312px,#fddbc7 314px,#f9efe9 317px,#f7f5f4 320px,#f6f7f7 331px)"></i>
<i style="background:linear-gradient(90deg,#f7f6f6 0,#f7f6f6 53px,#f8bda1 54px,#f9c4a9 56px,#fcdfcf 61px,#f8f4f2 66px,#f5f6f7 67px,#d4e6f1 73px,#b3d6e8 78px,#a7d0e4 82px,#a9d1e5 86px,#bbdaea 90px,#d1e5f0 93px,#f7f6f6 100px,#fdd9c4 107px,#fac8af 110px,#f8bb9e 113px,#f7b799 116px,#f7b99c 119px,#fac8af 123px,#fddbc7 126px,#f8f2ef 132px,#f7f6f6 133px,#cae1ee 141px,#aed3e6 146px,#a9d1e5 149px,#acd2e5 152px,#b6d7e8 155px,#deebf2 162px,#f3f5f6 166px,#f7f5f4 167px,#fcdfcf 173px,#facab1 178px,#f9c2a7 182px,#f9c4a9 185px,#facab1 188px,#fbe3d4 194px,#f5f6f7 200px,#d1e5f0 208px,#c5dfec 210px,#b8d8e9 214px,#bbdaea 219px,#f7f6f6 232px,#fcd5bf 241px,#fac8af 244px,#f9c2a7 247px,#f9c2a7 250px,#fac8af 253px,#fce0d0 259px,#f6f7f7 265px,#c5dfec 274px,#b8d8e9 276px,#aed3e6 279px,#acd2e5 282px,#aed3e6 284px,#c0dceb 288px,#e3edf3 294px,#f3f5f6 297px,#f7f5f4 298px,#fdddcb 304px,#fbd0b9 306px,#f9c2a7 309px,#f8bfa4 310px,#f9c2a7 311px,#fac8af 312px,#fcdecd 314px,#f9ebe3 316px,#f7f5f4 319px,#f6f7f7 331px)"></i>
<i style="background:linear-gradient(90deg,#f7f6f6 0,#f7f6f6 53px,#fbccb4 54px,#fcd5bf 57px,#fddbc7 58px,#f9ede5 64px,#f6f7f7 67px,#c7e0ed 77px,#bbdaea 81px,#b8d8e9 84px,#bddbea 87px,#f7f6f6 100px,#fddcc9 108px,#facab1 113px,#f9c6ac 117px,#facab1 120px,#fbe3d4 127px,#f7f6f6 133px,#d4e6f1 141px,#c0dceb 146px,#bbdaea 149px,#bddbea 152px,#cae1ee 156px,#eff3f5 165px,#f7f5f4 167px,#fce0d0 174px,#fcd5bf 179px,#fbceb7 183px,#fdd9c4 189px,#f9ebe3 196px,#f7f5f4 199px,#f2f5f6 201px,#d7e8f1 208px,#c7e0ed 214px,#cae1ee 219px,#e1edf3 227px,#f6f7f7 232px,#fcdfcf 240px,#fcd3bc 245px,#fbceb7 248px,#fbd0b9 251px,#fcd7c2 254px,#f9eee7 262px,#f6f7f7 265px,#d4e6f1 273px,#c5dfec 277px,#bddbea 281px,#c0dceb 284px,#cae1ee 287px,#f3f5f6 297px,#f8f2ef 299px,#fcdecd 305px,#fcd3bc 308px,#fbccb4 310px,#fbceb7 311px,#fbe3d4 314px,#f9eee7 316px,#f8f4f2 318px,#f7f6f6 322px,#f6f7f7 331px)"></i>
<i style="background:linear-gradient(90deg,#f7f6f6 0,#f7f6f6 53px,#f8bb9e 54px,#fac8af 57px,#fddbc7 60px,#f9efe9 65px,#f8f4f2 66px,#f5f6f7 67px,#c5dfec 75px,#aed3e6 79px,#a7d0e4 83px,#a9d1e5 86px,#bbdaea 90px,#c7e0ed 92px,#d1e5f0 93px,#f7f6f6 100px,#fcd7c2 107px,#f9c2a7 111px,#f7b99c 114px,#f7b799 117px,#f8bb9e 120px,#fbccb4 124px,#fce2d2 128px,#f7f6f6 133px,#cae1ee 141px,#b1d5e7 145px,#a7d0e4 150px,#acd2e5 153px,#cce2ef 159px,#d8e9f1 161px,#f3f5f6 166px,#f8f2ef 168px,#fbe3d4 172px,#f9c6ac 179px,#f9c2a7 182px,#f9c2a7 185px,#fbccb4 189px,#fcdecd 193px,#f6f7f7 200px,#c0dceb 211px,#b6d7e8 216px,#bddbea 220px,#cae1ee 223px,#d1e5f0 224px,#ecf2f5 230px,#f6f7f7 232px,#fcd5bf 241px,#facab1 243px,#f8bfa4 247px,#f8bfa4 250px,#f9c6ac 253px,#fcd3bc 256px,#fce0d0 259px,#f6f7f7 265px,#cae1ee 273px,#b3d6e8 277px,#acd2e5 281px,#aed3e6 284px,#b8d8e9 287px,#ddebf2 293px,#f3f5f6 297px,#f7f5f4 298px,#fcd7c2 305px,#f9c6ac 308px,#f8bda1 310px,#f8bfa4 311px,#fac8af 312px,#fcdecd 314px,#f9ebe3 316px,#f7f5f4 319px,#f6f7f7 331px)"></i>
<i style="background:linear-gradient(90deg,#f7f6f6 0,#f7f6f6 53px,#f8bb9e 54px,#fac8af 57px,#fddbc7 60px,#f9efe9 65px,#f8f4f2 66px,#f5f6f7 67px,#c5dfec 75px,#aed3e6 79px,#a7d0e4 83px,#a9d1e5 86px,#bbdaea 90px,#c7e0ed 92px,#d1e5f0 93px,#f7f6f6 100px,#fcd7c2 107px,#f9c2a7 111px,#f7b99c 114px,#f7b799 117px,#f8bb9e 120px,#fbccb4 124px,#fce2d2 128px,#f7f6f6 133px,#cae1ee 141px,#b1d5e7 145px,#a7d0e4 150px,#acd2e5 153px,#cce2ef 159px,#f3f5f6 166px,#f8f2ef 168px,#fbe3d4 172px,#f9c6ac 179px,#f9c2a7 182px,#f9c2a7 185px,#fbccb4 189px,#fcdecd 193px,#f6f7f7 200px,#d4e6f1 207px,#d1e5f0 208px,#c0dceb 211px,#b6d7e8 216px,#c0dceb 221px,#d1e5f0 224px,#ecf2f5 230px,#f6f7f7 232px,#fcd5bf 241px,#facab1 243px,#f8bfa4 247px,#f8bfa4 250px,#f9c6ac 253px,#fcd3bc 256px,#fce0d0 259px,#f6f7f7 265px,#cae1ee 273px,#b3d6e8 277px,#acd2e5 281px,#aed3e6 284px,#b8d8e9 287px,#ddebf2 293px,#f3f5f6 297px,#f7f5f4 298px,#fcd7c2 305px,#f9c6ac 308px,#f8bda1 310px,#f8bfa4 311px,#fac8af 312px,#fcdecd 314px,#f9ebe3 316px,#f7f5f4 319px,#f6f7f7 331px)"></i>
<i style="background:linear-gradient(90deg,#f7f6f6 0,#f7f6f6 53px,#f6b191 54px,#f8bfa4 57px,#fcd3bc 60px,#fddbc7 61px,#f8f3f0 66px,#f5f6f7 67px,#cce2ef 73px,#acd2e5 77px,#9bc9e0 81px,#98c8e0 85px,#aed3e6 90px,#d1e5f0 94px,#f7f6f6 100px,#fdd9c4 106px,#f9c2a7 109px,#f6b394 112px,#f5aa89 115px,#f5aa89 118px,#f7b596 121px,#f9c4a9 124px,#fcdecd 128px,#f7f6f6 133px,#cae1ee 140px,#b1d5e7 143px,#a5cee3 145px,#9bc9e0 148px,#9dcbe1 152px,#aed3e6 156px,#dae9f2 162px,#f2f5f6 166px,#f7f5f4 167px,#fcd7c2 174px,#f9c4a9 177px,#f7b799 181px,#f7b799 185px,#f8bfa4 188px,#fbceb7 191px,#fddbc7 193px,#f6f7f7 200px,#b6d7e8 211px,#acd2e5 214px,#a9d1e5 216px,#b1d5e7 220px,#c7e0ed 224px,#f6f7f7 232px,#fdd9c4 239px,#f9c6ac 242px,#f7b799 246px,#f7b596 249px,#f7b99c 252px,#facab1 256px,#fdd9c4 258px,#f6f7f7 265px,#cae1ee 272px,#b8d8e9 274px,#a7d0e4 277px,#a0cce2 279px,#9dcbe1 282px,#a9d1e5 286px,#bbdaea 289px,#d2e6f0 292px,#f3f5f6 297px,#f7f5f4 298px,#fcd7c2 304px,#f9c2a7 307px,#f6b394 310px,#f7b596 311px,#f8bda1 312px,#fddbc7 314px,#faeae1 316px,#f8f4f2 319px,#f7f6f6 323px,#f6f7f7 331px)"></i>
<i style="background:linear-gradient(90deg,#f7f6f6 0,#f7f6f6 53px,#f7b99c 54px,#f9c6ac 57px,#fcdecd 61px,#f5f6f7 67px,#cce2ef 74px,#c2ddec 75px,#acd2e5 79px,#a5cee3 83px,#a7d0e4 86px,#b8d8e9 90px,#d4e6f1 94px,#f7f6f6 100px,#fcd7c2 107px,#f9c4a9 110px,#f7b99c 113px,#f7b596 116px,#f7b799 119px,#f9c2a7 122px,#fbd0b9 125px,#fdd9c4 126px,#f8f2ef 132px,#f7f6f6 133px,#cfe4ef 140px,#bbdaea 143px,#a9d1e5 147px,#a7d0e4 151px,#b3d6e8 155px,#c5dfec 158px,#ddebf2 162px,#f3f5f6 166px,#f8f2ef 168px,#fddbc7 174px,#fac8af 178px,#f9c2a7 180px,#f8bfa4 185px,#fac8af 188px,#fcd5bf 191px,#fddbc7 192px,#f9ebe3 197px,#f6f7f7 200px,#bbdaea 212px,#b3d6e8 216px,#bbdaea 220px,#c7e0ed 223px,#d4e6f1 225px,#e6eff4 229px,#f6f7f7 232px,#fdd9c4 240px,#facab1 243px,#f8bfa4 246px,#f8bda1 250px,#fac8af 254px,#fcdfcf 259px,#f6f7f7 265px,#cae1ee 273px,#b6d7e8 276px,#a9d1e5 280px,#acd2e5 284px,#c2ddec 289px,#d7e8f1 292px,#f3f5f6 297px,#f7f5f4 298px,#fcd7c2 305px,#fbceb7 306px,#f8bb9e 310px,#f8bda1 311px,#f9c6ac 312px,#fcdecd 314px,#f9ebe3 316px,#f7f5f4 319px,#f6f7f7 331px)"></i>
<i style="background:linear-gradient(90deg,#f7f6f6 0,#f7f6f6 53px,#f9c4a9 54px,#fcd5bf 58px,#fddbc7 59px,#fae8de 63px,#f5f6f7 67px,#c7e0ed 76px,#c0dceb 77px,#b1d5e7 82px,#b3d6e8 86px,#c2ddec 90px,#d8e9f1 94px,#f7f6f6 100px,#fcd7c2 108px,#f9c6ac 112px,#f8bfa4 115px,#f8bfa4 118px,#facab1 122px,#fce0d0 127px,#f9efe9 131px,#f7f6f6 133px,#d1e5f0 141px,#bbdaea 145px,#b3d6e8 149px,#b6d7e8 153px,#cce2ef 158px,#f7f6f6 167px,#fddcc9 175px,#fbceb7 179px,#fac8af 183px,#fbccb4 186px,#fcd3bc 189px,#fae7dc 195px,#f6f7f7 200px,#cce2ef 210px,#c2ddec 213px,#c0dceb 218px,#cce2ef 222px,#e7f0f4 229px,#f6f7f7 232px,#fdddcb 240px,#fbccb4 245px,#fac8af 248px,#facab1 251px,#fbd0b9 254px,#fbe6da 260px,#f6f7f7 265px,#d5e7f1 272px,#c5dfec 275px,#b6d7e8 280px,#b8d8e9 284px,#c2ddec 287px,#f3f5f6 297px,#f8f2ef 299px,#fcd7c2 306px,#fbccb4 308px,#f9c6ac 310px,#fac8af 311px,#fbceb7 312px,#fce0d0 314px,#f8f1ed 317px,#f7f6f6 320px,#f6f7f7 331px)"></i>
<i style="background:linear-gradient(90deg,#f7f6f6 0,#f7f6f6 53px,#fbceb7 54px,#fcd7c2 57px,#f6f7f7 67px,#cae1ee 77px,#bddbea 81px,#bbdaea 84px,#c7e0ed 89px,#f7f6f6 100px,#fcdfcf 107px,#fbceb7 112px,#fac8af 116px,#fbccb4 120px,#fbe3d4 127px,#f7f6f6 133px,#d5e7f1 141px,#c2ddec 146px,#bddbea 151px,#cce2ef 156px,#f7f6f6 167px,#fbe4d6 173px,#fcd5bf 180px,#fbd0b9 184px,#fcd7c2 188px,#fae8de 195px,#f6f7f7 200px,#d5e7f1 209px,#cae1ee 215px,#cce2ef 219px,#e1edf3 227px,#f6f7f7 232px,#fcdecd 241px,#fbd0b9 247px,#fbd0b9 250px,#fcd3bc 252px,#fae7dc 260px,#f6f7f7 265px,#cae1ee 276px,#c0dceb 281px,#c2ddec 284px,#e1edf3 293px,#f3f5f6 297px,#f8f2ef 299px,#fcd5bf 308px,#fbceb7 310px,#fbd0b9 311px,#fae9df 315px,#f8f4f2 318px,#f7f6f6 322px,#f6f7f7 331px)"></i>
<i style="background:linear-gradient(90deg,#f7f6f6 0,#f7f6f6 53px,#fcd5bf 54px,#fae8de 62px,#f6f7f7 67px,#d4e6f1 76px,#c7e0ed 81px,#c5dfec 83px,#cce2ef 88px,#e7f0f4 96px,#f7f6f6 100px,#fbe5d8 106px,#fcd7c2 112px,#fcd3bc 115px,#fcd3bc 119px,#fbe5d8 127px,#f7f6f6 133px,#dae9f2 141px,#c7e0ed 148px,#cae1ee 153px,#d5e7f1 157px,#e4eef4 162px,#f7f6f6 167px,#fbe4d6 174px,#fddbc7 180px,#fdd9c4 185px,#fce2d2 191px,#f9efe9 197px,#f6f7f7 200px,#dae9f2 209px,#d1e5f0 215px,#d7e8f1 222px,#f2f5f6 231px,#f7f5f4 233px,#fbe6da 239px,#fddbc7 245px,#fdd9c4 251px,#fce0d0 256px,#f8f1ed 263px,#f6f7f7 265px,#d7e8f1 274px,#cae1ee 281px,#cce2ef 284px,#e0ecf3 292px,#f7f6f6 298px,#fce2d2 305px,#fcd7c2 310px,#fddcc9 312px,#f8f2ef 317px,#f7f6f6 321px,#f6f7f7 331px)"></i>
<i style="background:linear-gradient(90deg,#f7f6f6 0,#f7f6f6 53px,#fddcc9 54px,#fce2d2 58px,#f8f2ef 65px,#f6f7f7 67px,#d8e9f1 76px,#cfe4ef 83px,#d2e6f0 87px,#ddebf2 92px,#f7f6f6 100px,#fbe3d4 108px,#fddbc7 113px,#fdd9c4 118px,#fbe3d4 125px,#f7f6f6 133px,#dae9f2 142px,#d1e5f0 148px,#d4e6f1 154px,#e3edf3 161px,#f7f6f6 167px,#fbe3d4 176px,#fdddcb 182px,#fcdecd 186px,#fbe4d6 191px,#f6f7f7 200px,#ddebf2 209px,#d5e7f1 216px,#dbeaf2 222px,#ecf2f5 229px,#f6f7f7 232px,#fbe4d6 241px,#fdddcb 247px,#fcdecd 252px,#fbe5d8 257px,#f8f4f2 264px,#f6f7f7 265px,#d8e9f1 275px,#d1e5f0 282px,#ddebf2 290px,#f7f6f6 298px,#fae7dc 304px,#fddcc9 310px,#fcdfcf 312px,#f9f0eb 316px,#f8f4f2 318px,#f7f6f6 322px,#f6f7f7 331px)"></i>
<i style="background:linear-gradient(90deg,#f7f6f6 0,#f7f6f6 53px,#fcdecd 54px,#f9ebe3 62px,#f6f7f7 67px,#dbeaf2 76px,#d4e6f1 82px,#d8e9f1 89px,#f0f4f6 98px,#f7f6f6 100px,#fbe3d4 109px,#fdddcb 115px,#fcdecd 120px,#fae7dc 126px,#f7f6f6 133px,#ddebf2 142px,#d4e6f1 148px,#d8e9f1 155px,#e9f0f4 162px,#f7f6f6 167px,#fbe6da 175px,#fcdfcf 182px,#fbe4d6 190px,#f8f3f0 198px,#f6f7f7 200px,#e0ecf3 209px,#d8e9f1 216px,#deebf2 223px,#f6f7f7 232px,#fae7dc 240px,#fcdfcf 247px,#fce0d0 252px,#fae8de 258px,#f6f7f7 265px,#ddebf2 274px,#d5e7f1 280px,#d8e9f1 286px,#e7f0f4 293px,#f7f6f6 298px,#fbe3d4 307px,#fcdfcf 310px,#fce2d2 312px,#f8f1ed 316px,#f7f6f6 321px,#f6f7f7 331px)"></i>
<i style="background:linear-gradient(90deg,#f7f6f6 0,#f7f6f6 53px,#fce0d0 54px,#faeae1 61px,#f6f7f7 67px,#deebf2 76px,#d7e8f1 82px,#dbeaf2 89px,#ecf2f5 96px,#f7f6f6 100px,#fbe6da 108px,#fcdfcf 115px,#fce2d2 121px,#faeae1 127px,#f7f6f6 133px,#ddebf2 143px,#d7e8f1 150px,#e0ecf3 158px,#f7f6f6 167px,#fae9df 174px,#fce2d2 181px,#fbe3d4 187px,#f9ebe3 194px,#f6f7f7 200px,#e0ecf3 210px,#dbeaf2 217px,#e4eef4 225px,#f6f7f7 232px,#fae7dc 241px,#fce2d2 247px,#fbe3d4 253px,#f9ede5 260px,#f6f7f7 265px,#dbeaf2 276px,#d8e9f1 284px,#e1edf3 290px,#f7f6f6 298px,#fbe6da 306px,#fce0d0 310px,#fae7dc 313px,#f8f3f0 317px,#f7f6f6 320px,#f6f7f7 331px)"></i>
<i style="background:linear-gradient(90deg,#f7f6f6 0,#f7f6f6 53px,#fbe3d4 54px,#f9ebe3 61px,#f6f7f7 67px,#ddebf2 78px,#dae9f2 85px,#e7f0f4 94px,#f7f6f6 100px,#fae8de 108px,#fce2d2 114px,#fbe3d4 120px,#f9ebe3 127px,#f7f6f6 133px,#e0ecf3 143px,#dae9f2 150px,#e0ecf3 157px,#f7f6f6 167px,#fae9df 175px,#fbe4d6 181px,#fbe5d8 188px,#f9ede5 194px,#f6f7f7 200px,#e0ecf3 211px,#ddebf2 217px,#e6eff4 225px,#f6f7f7 232px,#fae7dc 242px,#fbe4d6 246px,#fbe4d6 252px,#faeae1 258px,#f6f7f7 265px,#e0ecf3 275px,#dae9f2 282px,#e3edf3 290px,#f7f6f6 298px,#faeae1 304px,#fbe3d4 311px,#f8f2ef 316px,#f7f6f6 320px,#f6f7f7 331px)"></i>
<i style="background:linear-gradient(90deg,#f7f6f6 0,#f7f6f6 53px,#fbe5d8 54px,#f9ede5 61px,#f6f7f7 67px,#e3edf3 76px,#ddebf2 83px,#e1edf3 90px,#f7f6f6 100px,#fae8de 109px,#fbe4d6 115px,#fbe5d8 121px,#f8f1ed 130px,#f7f6f6 133px,#e0ecf3 144px,#ddebf2 151px,#e1edf3 157px,#f7f6f6 167px,#f9ebe3 174px,#fbe5d8 181px,#fbe6da 187px,#f9efe9 195px,#f6f7f7 200px,#e1edf3 211px,#e1edf3 221px,#f2f5f6 230px,#f6f7f7 232px,#fae8de 242px,#fbe5d8 248px,#fbe6da 253px,#f9f0eb 261px,#f6f7f7 265px,#e1edf3 275px,#ddebf2 282px,#e3edf3 289px,#f7f6f6 298px,#fae8de 306px,#fbe4d6 310px,#fbe6da 312px,#f8f2ef 316px,#f7f6f6 320px,#f6f7f7 331px)"></i>
<i style="background:linear-gradient(90deg,#f7f6f6 0,#f7f6f6 53px,#fbe6da 54px,#f8f2ef 64px,#f6f7f7 67px,#e3edf3 77px,#deebf2 84px,#e9f0f4 93px,#f7f6f6 100px,#fae8de 110px,#fbe5d8 117px,#faeae1 125px,#f7f6f6 133px,#e1edf3 144px,#deebf2 152px,#eff3f5 163px,#f7f6f6 167px,#fae9df 176px,#fbe6da 183px,#faeae1 191px,#f6f7f7 200px,#e3edf3 211px,#e3edf3 221px,#f6f7f7 232px,#fae9df 242px,#fbe6da 248px,#fae8de 254px,#f8f2ef 262px,#f6f7f7 265px,#e3edf3 275px,#deebf2 282px,#e6eff4 290px,#f7f6f6 298px,#fae9df 306px,#fbe5d8 310px,#fae7dc 312px,#f8f4f2 317px,#f7f6f6 321px,#f6f7f7 331px)"></i>
<i style="background:linear-gradient(90deg,#f7f6f6 0,#f7f6f6 53px,#fae8de 54px,#f7f5f4 66px,#f5f6f7 68px,#e4eef4 77px,#e1edf3 86px,#f5f6f7 99px,#f9f0eb 105px,#fae8de 112px,#fae8de 121px,#f8f2ef 130px,#f5f6f7 134px,#e3edf3 144px,#e0ecf3 152px,#f3f5f6 165px,#f7f6f6 167px,#f9ebe3 175px,#fae7dc 183px,#f9ebe3 191px,#f6f7f7 200px,#e6eff4 210px,#e3edf3 219px,#f6f7f7 232px,#faeae1 241px,#fae7dc 248px,#fae9df 254px,#f8f1ed 261px,#f6f7f7 265px,#e1edf3 277px,#e1edf3 285px,#eff3f5 294px,#f7f6f6 298px,#f9ebe3 305px,#fbe6da 310px,#fae8de 312px,#f8f3f0 316px,#f7f6f6 320px,#f6f7f7 331px)"></i>
<i style="background:linear-gradient(90deg,#f7f6f6 0,#f7f6f6 53px,#fae9df 54px,#f6f7f7 67px,#e4eef4 79px,#e4eef4 87px,#f0f4f6 96px,#f7f5f4 101px,#fae9df 112px,#fae9df 121px,#f7f5f4 132px,#f3f5f6 135px,#e3edf3 146px,#e3edf3 154px,#f2f5f6 164px,#f7f6f6 167px,#f9ebe3 175px,#fae8de 182px,#faeae1 189px,#f6f7f7 200px,#e4eef4 212px,#e6eff4 221px,#f7f6f6 232px,#fae8de 245px,#fae9df 253px,#f8f4f2 263px,#f6f7f7 265px,#e4eef4 275px,#e1edf3 283px,#ecf2f5 292px,#f7f6f6 298px,#fae9df 307px,#fae7dc 310px,#f9ebe3 313px,#f8f4f2 317px,#f7f6f6 321px,#f6f7f7 331px)"></i>
<i style="background:linear-gradient(90deg,#f7f6f6 0,#f7f6f6 53px,#faeae1 54px,#f8f3f0 64px,#f6f7f7 67px,#e6eff4 79px,#e6eff4 87px,#f3f5f6 98px,#f8f4f2 102px,#faeae1 112px,#faeae1 121px,#f5f6f7 134px,#e4eef4 146px,#e4eef4 154px,#f6f7f7 166px,#faeae1 178px,#faeae1 188px,#f6f7f7 200px,#e6eff4 211px,#e6eff4 220px,#f7f6f6 232px,#faeae1 243px,#faeae1 253px,#f6f7f7 265px,#e3edf3 278px,#e6eff4 287px,#f6f7f7 297px,#fae9df 308px,#fae9df 311px,#f8f4f2 317px,#f7f6f6 321px,#f6f7f7 331px)"></i>
<i style="background:linear-gradient(90deg,#f7f6f6 0,#f7f6f6 53px,#f9ebe3 54px,#f8f2ef 62px,#f6f7f7 67px,#e7f0f4 79px,#e9f0f4 89px,#f7f6f6 100px,#f9eee7 109px,#f9ebe3 115px,#f9ede5 122px,#f8f4f2 131px,#f6f7f7 133px,#e6eff4 145px,#e6eff4 154px,#f7f6f6 166px,#f9ebe3 177px,#f9ebe3 188px,#f5f6f7 200px,#e7f0f4 211px,#e7f0f4 220px,#f7f6f6 232px,#faeae1 244px,#faeae1 252px,#f6f7f7 265px,#e6eff4 276px,#e6eff4 286px,#f6f7f7 297px,#f9ebe3 306px,#fae9df 311px,#f7f5f4 317px,#f6f7f7 331px)"></i>
<i style="background:linear-gradient(90deg,#f7f6f6 0,#f7f6f6 53px,#f9ede5 54px,#f8f4f2 64px,#f5f6f7 68px,#e9f0f4 80px,#eaf1f5 89px,#f7f6f6 100px,#f9ede5 112px,#f9eee7 123px,#f6f7f7 133px,#e7f0f4 145px,#e7f0f4 154px,#f5f6f7 164px,#f8f3f0 169px,#f9ebe3 178px,#f9ebe3 186px,#f8f2ef 194px,#f6f7f7 199px,#e7f0f4 212px,#e9f0f4 221px,#f7f6f6 232px,#f9ebe3 243px,#f9ebe3 252px,#f8f2ef 260px,#f5f6f7 265px,#e6eff4 277px,#e7f0f4 286px,#f7f6f6 297px,#faeae1 309px,#f9ebe3 312px,#f7f5f4 317px,#f6f7f7 331px)"></i>
<i style="background:linear-gradient(90deg,#f7f6f6 0,#f7f6f6 53px,#f9eee7 54px,#f8f2ef 61px,#f5f6f7 68px,#eaf1f5 81px,#ecf2f5 90px,#f7f6f6 101px,#f9efe9 110px,#f9ede5 117px,#f8f3f0 129px,#f5f6f7 134px,#e7f0f4 147px,#eaf1f5 156px,#f7f6f6 166px,#f9eee7 175px,#f9ebe3 184px,#f8f2ef 194px,#f6f7f7 199px,#e9f0f4 211px,#eaf1f5 221px,#f7f6f6 232px,#f9eee7 241px,#f9ebe3 249px,#f9f0eb 257px,#f6f7f7 264px,#e7f0f4 276px,#e7f0f4 285px,#f7f6f6 297px,#f9ebe3 308px,#f9ede5 312px,#f7f6f6 318px,#f6f7f7 331px)"></i>
<i style="background:linear-gradient(90deg,#f7f6f6 0,#f7f6f6 53px,#f9efe9 54px,#f8f3f0 62px,#f6f7f7 68px,#ecf2f5 79px,#ecf2f5 88px,#f7f6f6 101px,#f9efe9 111px,#f9efe9 122px,#f5f6f7 134px,#e9f0f4 147px,#ecf2f5 157px,#f7f6f6 166px,#f9eee7 176px,#f9eee7 187px,#f5f6f7 200px,#eaf1f5 211px,#eaf1f5 220px,#f7f6f6 232px,#f9efe9 240px,#f9ede5 248px,#f9efe9 255px,#f6f7f7 264px,#e9f0f4 276px,#e9f0f4 285px,#f7f6f6 297px,#f9eee7 306px,#f9ebe3 310px,#f8f1ed 314px,#f7f6f6 319px,#f6f7f7 331px)"></i>
<i style="background:linear-gradient(90deg,#f7f6f6 0,#f7f6f6 53px,#f9f0eb 54px,#f5f6f7 69px,#ecf2f5 82px,#f2f5f6 95px,#f7f5f4 102px,#f9efe9 114px,#f9f0eb 123px,#f5f6f7 134px,#eaf1f5 147px,#edf2f5 157px,#f7f6f6 166px,#f9efe9 176px,#f9efe9 188px,#f6f7f7 199px,#ecf2f5 210px,#ecf2f5 221px,#f7f6f6 232px,#f9efe9 241px,#f9efe9 254px,#f5f6f7 265px,#eaf1f5 276px,#eaf1f5 285px,#f7f6f6 297px,#f9eee7 307px,#f9eee7 312px,#f7f6f6 318px,#f6f7f7 331px)"></i>
<i style="background:linear-gradient(90deg,#f7f6f6 0,#f7f6f6 53px,#f9f0eb 54px,#f5f6f7 69px,#edf2f5 82px,#f0f4f6 93px,#f7f6f6 101px,#f9f0eb 113px,#f8f1ed 124px,#f5f6f7 134px,#ecf2f5 147px,#edf2f5 156px,#f7f6f6 166px,#f9efe9 177px,#f9efe9 187px,#f6f7f7 199px,#ecf2f5 212px,#edf2f5 221px,#f7f6f6 232px,#f9efe9 242px,#f9efe9 253px,#f6f7f7 264px,#eaf1f5 277px,#ecf2f5 286px,#f7f6f6 297px,#f9efe9 306px,#f9efe9 312px,#f7f6f6 319px,#f6f7f7 331px)"></i>
<i style="background:linear-gradient(90deg,#f7f6f6 0,#f7f6f6 53px,#f8f1ed 54px,#f7f5f4 64px,#f3f5f6 72px,#edf2f5 84px,#f7f6f6 101px,#f8f1ed 112px,#f8f1ed 123px,#f6f7f7 134px,#edf2f5 145px,#edf2f5 155px,#f7f6f6 166px,#f9f0eb 176px,#f9f0eb 187px,#f6f7f7 199px,#edf2f5 211px,#edf2f5 220px,#f7f6f6 232px,#f8f1ed 239px,#f9efe9 247px,#f9f0eb 253px,#f6f7f7 264px,#ecf2f5 277px,#edf2f5 287px,#f7f6f6 297px,#f9efe9 307px,#f9efe9 311px,#f7f6f6 318px,#f6f7f7 331px)"></i>
<i style="background:linear-gradient(90deg,#f7f6f6 0,#f7f6f6 53px,#f8f1ed 54px,#f6f7f7 68px,#eff3f5 83px,#f3f5f6 95px,#f7f5f4 103px,#f8f1ed 115px,#f8f2ef 124px,#f6f7f7 134px,#edf2f5 147px,#f0f4f6 158px,#f7f6f6 166px,#f9f0eb 178px,#f8f1ed 189px,#f6f7f7 199px,#edf2f5 212px,#f0f4f6 223px,#f7f6f6 231px,#f9f0eb 243px,#f8f1ed 254px,#f6f7f7 264px,#ecf2f5 279px,#f2f5f6 291px,#f7f5f4 298px,#f9efe9 310px,#f7f6f6 318px,#f6f7f7 331px)"></i>
<i style="background:linear-gradient(90deg,#f7f6f6 0,#f7f6f6 53px,#f8f2ef 54px,#f7f5f4 64px,#f3f5f6 73px,#f0f4f6 85px,#f3f5f6 95px,#f7f5f4 104px,#f8f2ef 113px,#f8f2ef 123px,#f6f7f7 134px,#eff3f5 146px,#eff3f5 155px,#f7f6f6 166px,#f8f1ed 176px,#f8f1ed 187px,#f6f7f7 199px,#eff3f5 211px,#eff3f5 220px,#f7f6f6 231px,#f9f0eb 244px,#f8f1ed 253px,#f5f6f7 265px,#edf2f5 278px,#f0f4f6 289px,#f7f6f6 297px,#f9f0eb 309px,#f8f2ef 313px,#f7f6f6 318px,#f6f7f7 331px)"></i>
<i style="background:linear-gradient(90deg,#f7f6f6 0,#f7f6f6 53px,#f8f2ef 54px,#f5f6f7 70px,#f0f4f6 86px,#f7f6f6 102px,#f8f2ef 114px,#f8f3f0 125px,#f5f6f7 135px,#eff3f5 149px,#f5f6f7 162px,#f8f4f2 169px,#f8f1ed 179px,#f8f2ef 189px,#f6f7f7 199px,#eff3f5 212px,#f2f5f6 224px,#f7f6f6 231px,#f8f1ed 242px,#f8f2ef 255px,#f5f6f7 265px,#edf2f5 280px,#f5f6f7 293px,#f7f5f4 298px,#f8f1ed 307px,#f8f1ed 312px,#f7f6f6 318px,#f6f7f7 331px)"></i>
<i style="background:linear-gradient(90deg,#f7f6f6 0,#f7f6f6 53px,#f8f3f0 54px,#f7f5f4 64px,#f3f5f6 73px,#f0f4f6 85px,#f7f6f6 102px,#f8f3f0 112px,#f8f3f0 124px,#f6f7f7 134px,#eff3f5 149px,#f7f6f6 166px,#f8f2ef 175px,#f8f2ef 188px,#f6f7f7 199px,#eff3f5 214px,#f7f6f6 231px,#f8f1ed 243px,#f8f2ef 254px,#f6f7f7 264px,#eff3f5 277px,#f2f5f6 289px,#f7f6f6 297px,#f8f1ed 307px,#f8f2ef 313px,#f7f6f6 318px,#f6f7f7 331px)"></i>
<i style="background:linear-gradient(90deg,#f7f6f6 0,#f7f6f6 53px,#f8f3f0 54px,#f5f6f7 70px,#f2f5f6 90px,#f7f6f6 102px,#f8f3f0 114px,#f8f4f2 126px,#f5f6f7 135px,#f0f4f6 151px,#f7f6f6 166px,#f8f2ef 176px,#f8f3f0 189px,#f6f7f7 199px,#f0f4f6 212px,#f3f5f6 225px,#f7f5f4 233px,#f8f2ef 243px,#f8f2ef 252px,#f5f6f7 265px,#eff3f5 281px,#f7f6f6 297px,#f8f2ef 306px,#f8f2ef 312px,#f7f6f6 318px,#f6f7f7 331px)"></i>
<i style="background:linear-gradient(90deg,#f7f6f6 0,#f7f6f6 53px,#f8f3f0 54px,#f5f6f7 70px,#f2f5f6 88px,#f7f6f6 102px,#f8f3f0 117px,#f7f5f4 129px,#f3f5f6 140px,#f0f4f6 152px,#f7f6f6 166px,#f8f2ef 178px,#f8f3f0 189px,#f6f7f7 199px,#f0f4f6 213px,#f7f6f6 231px,#f8f2ef 243px,#f8f3f0 254px,#f6f7f7 264px,#f0f4f6 277px,#f3f5f6 290px,#f7f5f4 299px,#f8f2ef 308px,#f8f2ef 312px,#f7f6f6 318px,#f6f7f7 331px)"></i>
<i style="background:linear-gradient(90deg,#f7f6f6 0,#f7f6f6 53px,#f8f4f2 55px,#f5f6f7 74px,#f2f5f6 85px,#f7f6f6 103px,#f8f3f0 119px,#f5f6f7 135px,#f2f5f6 155px,#f7f6f6 165px,#f8f3f0 175px,#f8f3f0 187px,#f6f7f7 199px,#f0f4f6 214px,#f7f6f6 231px,#f8f2ef 245px,#f7f5f4 259px,#f3f5f6 268px,#f0f4f6 283px,#f7f6f6 297px,#f8f2ef 309px,#f7f6f6 319px,#f6f7f7 331px)"></i>
<i style="background:linear-gradient(90deg,#f7f6f6 0,#f7f6f6 53px,#f8f4f2 55px,#f5f6f7 74px,#f5f6f7 95px,#f8f4f2 121px,#f5f6f7 138px,#f2f5f6 153px,#f7f6f6 165px,#f8f3f0 177px,#f8f4f2 190px,#f5f6f7 199px,#f2f5f6 219px,#f7f6f6 231px,#f8f3f0 241px,#f8f4f2 256px,#f5f6f7 265px,#f0f4f6 281px,#f7f6f6 296px,#f8f2ef 310px,#f7f6f6 318px,#f6f7f7 331px)"></i>
<i style="background:linear-gradient(90deg,#f7f6f6 0,#f7f6f6 53px,#f8f4f2 55px,#f5f6f7 74px,#f5f6f7 95px,#f7f5f4 109px,#f7f5f4 128px,#f3f5f6 140px,#f3f5f6 156px,#f7f6f6 165px,#f8f3f0 177px,#f8f4f2 189px,#f6f7f7 198px,#f2f5f6 214px,#f7f6f6 231px,#f8f3f0 243px,#f8f4f2 255px,#f6f7f7 264px,#f2f5f6 276px,#f3f5f6 288px,#f7f5f4 299px,#f8f2ef 310px,#f7f6f6 318px,#f6f7f7 331px)"></i>
<i style="background:linear-gradient(90deg,#f7f6f6 0,#f7f6f6 53px,#f8f4f2 55px,#f5f6f7 74px,#f5f6f7 95px,#f8f4f2 122px,#f5f6f7 136px,#f3f5f6 152px,#f7f6f6 165px,#f8f3f0 180px,#f5f6f7 202px,#f2f5f6 215px,#f7f6f6 231px,#f8f3f0 243px,#f7f5f4 257px,#f3f5f6 271px,#f3f5f6 287px,#f7f5f4 299px,#f8f3f0 309px,#f8f4f2 313px,#f7f6f6 319px,#f6f7f7 331px)"></i>
<i style="background:linear-gradient(90deg,#f7f6f6 0,#f7f6f6 66px,#f3f5f6 86px,#f7f5f4 112px,#f7f5f4 127px,#f3f5f6 142px,#f6f7f7 162px,#f8f3f0 180px,#f5f6f7 200px,#f5f6f7 224px,#f8f3f0 247px,#f5f6f7 265px,#f2f5f6 282px,#f7f6f6 296px,#f8f3f0 309px,#f7f6f6 319px,#f6f7f7 331px)"></i>
<i style="background:linear-gradient(90deg,#f7f6f6 0,#f7f6f6 66px,#f5f6f7 93px,#f7f5f4 126px,#f3f5f6 144px,#f7f6f6 165px,#f8f4f2 175px,#f7f5f4 191px,#f5f6f7 203px,#f5f6f7 223px,#f7f5f4 235px,#f7f5f4 256px,#f3f5f6 271px,#f3f5f6 286px,#f7f5f4 300px,#f8f3f0 311px,#f7f6f6 318px,#f6f7f7 331px)"></i>
<i style="background:linear-gradient(90deg,#f7f6f6 0,#f7f6f6 66px,#f5f6f7 93px,#f7f5f4 125px,#f3f5f6 146px,#f7f6f6 165px,#f8f4f2 177px,#f7f5f4 190px,#f3f5f6 205px,#f5f6f7 223px,#f8f4f2 249px,#f5f6f7 268px,#f5f6f7 289px,#f8f4f2 311px,#f7f6f6 319px,#f6f7f7 331px)"></i>
<i style="background:linear-gradient(90deg,#f7f6f6 0,#f7f6f6 66px,#f5f6f7 92px,#f7f5f4 125px,#f3f5f6 146px,#f7f6f6 165px,#f8f4f2 177px,#f5f6f7 204px,#f5f6f7 222px,#f7f5f4 236px,#f7f5f4 255px,#f3f5f6 270px,#f5f6f7 288px,#f8f4f2 312px,#f7f6f6 318px,#f6f7f7 331px)"></i>
<i style="background:linear-gradient(90deg,#f7f6f6 0,#f7f6f6 66px,#f5f6f7 91px,#f7f5f4 124px,#f5f6f7 148px,#f7f6f6 165px,#f8f4f2 179px,#f5f6f7 203px,#f5f6f7 221px,#f8f4f2 248px,#f5f6f7 265px,#f5f6f7 288px,#f8f4f2 312px,#f7f6f6 318px,#f6f7f7 331px)"></i>
<i style="background:linear-gradient(90deg,#f7f6f6 0,#f7f6f6 66px,#f6f7f7 92px,#f7f5f4 123px,#f5f6f7 151px,#f7f5f4 172px,#f7f5f4 188px,#f5f6f7 206px,#f5f6f7 220px,#f8f4f2 247px,#f5f6f7 266px,#f5f6f7 287px,#f8f4f2 311px,#f7f6f6 319px,#f6f7f7 331px)"></i>
<i style="background:linear-gradient(90deg,#f7f6f6 0,#f7f6f6 66px,#f6f7f7 95px,#f7f5f4 121px,#f5f6f7 154px,#f7f5f4 187px,#f5f6f7 208px,#f7f5f4 239px,#f7f5f4 253px,#f5f6f7 271px,#f5f6f7 286px,#f8f4f2 311px,#f7f6f6 317px,#f6f7f7 331px)"></i>
<i style="background:linear-gradient(90deg,#f7f6f6 0,#f6f7f7 99px,#f7f5f4 120px,#f5f6f7 153px,#f7f5f4 186px,#f5f6f7 210px,#f7f5f4 252px,#f5f6f7 273px,#f7f6f6 296px,#f8f4f2 310px,#f7f6f6 318px,#f6f7f7 331px)"></i>
<i style="background:linear-gradient(90deg,#f7f6f6 0,#f6f7f7 138px,#f6f7f7 159px,#f7f5f4 185px,#f5f6f7 209px,#f7f5f4 251px,#f5f6f7 275px,#f7f5f4 313px,#f6f7f7 331px)"></i>
<i style="background:linear-gradient(90deg,#f7f6f6 0,#f6f7f7 139px,#f7f5f4 184px,#f5f6f7 212px,#f7f5f4 250px,#f5f6f7 278px,#f7f5f4 313px,#f6f7f7 331px)"></i>
<i style="background:linear-gradient(90deg,#f7f6f6 0,#f6f7f7 140px,#f7f5f4 183px,#f5f6f7 214px,#f7f5f4 249px,#f5f6f7 277px,#f7f5f4 312px,#f6f7f7 331px)"></i>
<i style="background:linear-gradient(90deg,#f7f6f6 0,#f6f7f7 141px,#f7f5f4 182px,#f5f6f7 213px,#f7f5f4 248px,#f5f6f7 279px,#f7f5f4 312px,#f6f7f7 331px)"></i>
<i style="background:linear-gradient(90deg,#f7f6f6 0,#f7f6f6 166px,#f7f6f6 190px,#f5f6f7 214px,#f7f5f4 247px,#f5f6f7 281px,#f7f5f4 312px,#f6f7f7 331px)"></i>
<i style="background:linear-gradient(90deg,#f7f6f6 0,#f7f6f6 166px,#f7f6f6 189px,#f6f7f7 215px,#f7f5f4 246px,#f6f7f7 281px,#f7f5f4 311px,#f6f7f7 331px)"></i>
<i style="background:linear-gradient(90deg,#f7f6f6 0,#f7f6f6 166px,#f7f6f6 189px,#f6f7f7 215px,#f7f5f4 245px,#f6f7f7 282px,#f7f5f4 311px,#f6f7f7 331px)"></i>
<i style="background:linear-gradient(90deg,#f7f6f6 0,#f7f6f6 167px,#f7f6f6 188px,#f6f7f7 217px,#f7f5f4 244px,#f6f7f7 283px,#f7f5f4 310px,#f6f7f7 331px)"></i>
<i style="background:linear-gradient(90deg,#f7f6f6 0,#f7f6f6 167px,#f7f6f6 188px,#f6f7f7 219px,#f7f5f4 242px,#f6f7f7 286px,#f7f5f4 310px,#f6f7f7 331px)"></i>
<i style="background:linear-gradient(90deg,#f7f6f6 0,#f7f6f6 168px,#f7f6f6 187px,#f6f7f7 220px,#f7f5f4 241px,#f6f7f7 286px,#f7f5f4 308px,#f6f7f7 331px)"></i>
<i style="background:linear-gradient(90deg,#f7f6f6 0,#f7f6f6 235px,#f7f6f6 253px,#f6f7f7 286px,#f7f5f4 307px,#f6f7f7 331px)"></i>
<i style="background:linear-gradient(90deg,#f7f6f6 0,#f6f7f7 268px,#f7f6f6 306px,#f6f7f7 331px)"></i>
<i style="height:29px;background:#f7f7f6"></i>
</div>
<div class="h" style="left:902px;top:32px;width:12px;height:213px;background:linear-gradient(180deg,#67001f 0,#67001f 1px,#6d0220 2px,#790622 6px,#7f0823 7px,#8a0b25 11px,#900d26 12px,#9c1127 16px,#a21328 17px,#ae172a 21px,#b3192c 22px,#b72230 25px,#ba2832 26px,#bf3338 30px,#c2383a 31px,#c84440 35px,#cb4942 36px,#d05548 40px,#d35a4a 41px,#d86551 45px,#db6b55 46px,#de735c 49px,#e17860 50px,#e58368 54px,#e8896c 55px,#ec9374 59px,#ef9979 60px,#f3a481 64px,#f5a886 65px,#f6b191 69px,#f7b596 70px,#f8bb9e 73px,#f8bfa4 74px,#fac8af 78px,#fbccb4 79px,#fcd5bf 83px,#fdd9c4 84px,#fcdecd 88px,#fce2d2 90px,#fbe5d8 93px,#fae8de 95px,#faeae1 97px,#f9eee7 99px,#f8f1ed 102px,#f8f4f2 104px,#f6f7f7 107px,#f0f4f6 110px,#e4eef4 117px,#deebf2 120px,#d4e6f1 126px,#c7e0ed 131px,#c2ddec 132px,#b8d8e9 136px,#b3d6e8 137px,#a9d1e5 141px,#a5cee3 142px,#9bc9e0 146px,#96c7df 147px,#8dc2dc 150px,#87beda 151px,#7bb6d6 155px,#75b2d4 156px,#68abd0 160px,#62a7ce 161px,#569fc9 165px,#4f9bc7 166px,#4393c3 170px,#3f8ec0 172px,#3c8abe 174px,#3885bc 176px,#3480b9 179px,#307ab6 181px,#2c75b4 184px,#2870b1 186px,#246aae 189px,#2065ab 191px,#1d5fa2 194px,#1b5a9c 195px,#185493 198px,#15508d 199px,#114781 203px,#0f437b 204px,#0a3b70 208px,#08366a 209px,#053061 212px,#053061 213px)"></div>
<div class="h" style="left:60px;top:325px;width:330px;height:213px">
<i style="height:33px;background:#000004"></i>
<i style="height:7px;background:#010004"></i>
<i style="background:linear-gradient(90deg,#000004 0,#000004 52px,#010106 56px,#010005 313px,#000004 330px)"></i>
<i style="height:3px;background:linear-gradient(90deg,#000004 0,#000004 52px,#010106 56px,#010005 314px,#000004 330px)"></i>
<i style="background:linear-gradient(90deg,#000004 0,#000004 52px,#010108 53px,#010106 312px,#000004 326px,#000004 330px)"></i>
<i style="height:2px;background:linear-gradient(90deg,#000004 0,#000004 52px,#010108 53px,#010106 313px,#000004 327px,#000004 330px)"></i>
<i style="height:2px;background:linear-gradient(90deg,#000004 0,#000004 52px,#020109 53px,#010108 312px,#000004 319px,#000004 330px)"></i>
<i style="background:linear-gradient(90deg,#000004 0,#000004 52px,#02020b 53px,#020109 311px,#000004 319px,#000004 330px)"></i>
<i style="background:linear-gradient(90deg,#000004 0,#000004 52px,#02020b 53px,#020109 312px,#000004 318px,#000004 330px)"></i>
<i style="background:linear-gradient(90deg,#000004 0,#000004 52px,#02020d 53px,#02020b 311px,#000004 317px,#000004 330px)"></i>
<i style="background:linear-gradient(90deg,#000004 0,#000004 52px,#02020d 53px,#02020b 312px,#000004 318px,#000004 330px)"></i>
<i style="background:linear-gradient(90deg,#000004 0,#000004 52px,#03030f 53px,#03030f 310px,#000004 318px,#000004 330px)"></i>
<i style="background:linear-gradient(90deg,#000004 0,#000004 52px,#030312 53px,#030312 310px,#000004 317px,#000004 330px)"></i>
<i style="background:linear-gradient(90deg,#000004 0,#000004 52px,#040414 53px,#040414 309px,#030312 311px,#010005 316px,#000004 330px)"></i>
<i style="background:linear-gradient(90deg,#000004 0,#000004 52px,#050416 53px,#050416 309px,#010005 317px,#000004 330px)"></i>
<i style="background:linear-gradient(90deg,#000004 0,#000004 52px,#060518 53px,#060518 309px,#02020d 313px,#010005 317px,#000004 330px)"></i>
<i style="background:linear-gradient(90deg,#000004 0,#000004 52px,#06051a 53px,#06051a 309px,#03030f 313px,#010106 316px,#000004 325px,#000004 330px)"></i>
<i style="background:linear-gradient(90deg,#000004 0,#000004 52px,#07061c 53px,#07061c 310px,#010005 317px,#000004 330px)"></i>
<i style="background:linear-gradient(90deg,#000004 0,#000004 52px,#08071e 53px,#08071e 310px,#060518 312px,#010106 316px,#000004 325px,#000004 330px)"></i>
<i style="background:linear-gradient(90deg,#000004 0,#000004 52px,#0a0822 53px,#0a0822 310px,#010005 317px,#000004 330px)"></i>
<i style="background:linear-gradient(90deg,#000004 0,#000004 52px,#0c0926 53px,#0c0926 309px,#0a0822 311px,#010108 316px,#000004 321px,#000004 330px)"></i>
<i style="background:linear-gradient(90deg,#000004 0,#000004 52px,#0d0a29 53px,#0d0a29 310px,#090720 312px,#030312 314px,#010108 316px,#000004 321px,#000004 330px)"></i>
<i style="background:linear-gradient(90deg,#000004 0,#000004 52px,#100b2d 53px,#100b2d 310px,#02020d 315px,#010005 318px,#000004 330px)"></i>
<i style="background:linear-gradient(90deg,#000004 0,#000004 52px,#130d34 53px,#130d34 309px,#100b2d 311px,#03030f 315px,#010106 317px,#000004 326px,#000004 330px)"></i>
<i style="background:linear-gradient(90deg,#000004 0,#000004 52px,#150e38 53px,#150e38 310px,#0a0822 313px,#060518 314px,#010108 317px,#000004 320px,#000004 330px)"></i>
<i style="background:linear-gradient(90deg,#000004 0,#000004 52px,#19103f 53px,#19103f 309px,#150e38 311px,#040414 315px,#02020b 316px,#010005 318px,#000004 330px)"></i>
<i style="background:linear-gradient(90deg,#000004 0,#000004 52px,#1d1147 53px,#1d1147 309px,#1c1044 310px,#130d34 312px,#040414 315px,#010108 317px,#000004 322px,#000004 330px)"></i>
<i style="background:linear-gradient(90deg,#000004 0,#000004 52px,#21114e 53px,#21114e 309px,#20114b 310px,#160f3b 312px,#090720 314px,#020109 317px,#000004 321px,#000004 330px)"></i>
<i style="background:linear-gradient(90deg,#000004 0,#000004 52px,#271258 53px,#271258 309px,#251255 310px,#21114e 311px,#0b0924 314px,#03030f 316px,#010106 318px,#000004 327px,#000004 330px)"></i>
<i style="background:linear-gradient(90deg,#000004 0,#000004 52px,#2d1161 53px,#2d1161 309px,#2c115f 310px,#251255 311px,#0d0a29 314px,#030312 316px,#010106 318px,#000004 327px,#000004 330px)"></i>
<i style="background:linear-gradient(90deg,#000004 0,#000004 52px,#341069 53px,#331067 310px,#2c115f 311px,#221150 312px,#100b2d 314px,#08071e 315px,#02020b 317px,#000004 320px,#000004 330px)"></i>
<i style="background:linear-gradient(90deg,#000004 0,#000004 52px,#3f0f72 53px,#3f0f72 309px,#341069 311px,#29115a 312px,#120d31 314px,#050416 316px,#010108 318px,#000004 321px,#000004 330px)"></i>
<i style="background:linear-gradient(90deg,#000004 0,#000004 52px,#4a1079 53px,#4a1079 309px,#471078 310px,#3f0f72 311px,#311165 312px,#221150 313px,#150e38 314px,#0c0926 315px,#03030f 317px,#010106 319px,#000004 328px,#000004 330px)"></i>
<i style="background:linear-gradient(90deg,#000004 0,#000004 52px,#57157e 53px,#57157e 309px,#54137d 310px,#4c117a 311px,#3b0f70 312px,#2a115c 313px,#1a1042 314px,#07061c 316px,#020109 318px,#000004 322px,#000004 330px)"></i>
<i style="background:linear-gradient(90deg,#000004 0,#000004 52px,#651a80 53px,#651a80 309px,#621980 310px,#59157e 311px,#471078 312px,#331067 313px,#20114b 314px,#120d31 315px,#090720 316px,#040414 317px,#010106 319px,#000004 328px,#000004 330px)"></i>
<i style="background:linear-gradient(90deg,#000004 0,#000004 52px,#762181 53px,#762181 309px,#732081 310px,#671b80 311px,#54137d 312px,#3f0f72 313px,#271258 314px,#160f3b 315px,#0b0924 316px,#050416 317px,#02020b 318px,#000004 321px,#000004 330px)"></i>
<i style="background:linear-gradient(90deg,#000004 0,#000004 52px,#842681 53px,#842681 309px,#812581 310px,#752181 311px,#601880 312px,#471078 313px,#2d1161 314px,#1a1042 315px,#0d0a29 316px,#060518 317px,#02020d 318px,#010005 320px,#000004 330px)"></i>
<i style="height:2px;background:linear-gradient(90deg,#000004 0,#000004 52px,#732081 53px,#732081 309px,#701f81 310px,#641a80 311px,#52137c 312px,#3d0f71 313px,#251255 314px,#150e38 315px,#0b0924 316px,#050416 317px,#02020b 318px,#000004 321px,#000004 330px)"></i>
<i style="background:linear-gradient(90deg,#000004 0,#000004 52px,#5a167e 53px,#59157e 310px,#4f127b 311px,#3f0f72 312px,#2c115f 313px,#1c1044 314px,#100b2d 315px,#030312 317px,#020109 318px,#000004 322px,#000004 330px)"></i>
<i style="background:linear-gradient(90deg,#000004 0,#000004 52px,#721f81 53px,#721f81 309px,#6e1e81 310px,#621980 311px,#51127c 312px,#3b0f70 313px,#251255 314px,#150e38 315px,#0a0822 316px,#02020b 318px,#010106 319px,#000004 328px,#000004 330px)"></i>
<i style="background:linear-gradient(90deg,#000004 0,#000004 52px,#882781 53px,#882781 309px,#842681 310px,#762181 311px,#621980 312px,#4a1079 313px,#2f1163 314px,#1a1042 315px,#0d0a29 316px,#060518 317px,#02020d 318px,#010005 320px,#000004 330px)"></i>
<i style="background:linear-gradient(90deg,#000004 0,#000004 52px,#a02f7f 53px,#a02f7f 309px,#9b2e7f 310px,#8c2981 311px,#59157e 313px,#3b0f70 314px,#21114e 315px,#110c2f 316px,#07061c 317px,#03030f 318px,#010005 320px,#000004 330px)"></i>
<i style="background:linear-gradient(90deg,#000004 0,#000004 52px,#b83779 53px,#b83779 309px,#b3367a 310px,#a1307e 311px,#842681 312px,#651a80 313px,#451077 314px,#271258 315px,#140e36 316px,#090720 317px,#030312 318px,#020109 319px,#000004 323px,#000004 330px)"></i>
<i style="background:linear-gradient(90deg,#000004 0,#000004 52px,#cc3f71 53px,#cc3f71 309px,#c73d73 310px,#b3367a 311px,#942c80 312px,#721f81 313px,#4f127b 314px,#2d1161 315px,#180f3d 316px,#0a0822 317px,#040414 318px,#020109 319px,#000004 323px,#000004 330px)"></i>
<i style="background:linear-gradient(90deg,#000004 0,#000004 52px,#dc4869 53px,#dc4869 309px,#d8456c 310px,#c43c75 311px,#a1307e 312px,#7c2382 313px,#57157e 314px,#341069 315px,#1a1042 316px,#0c0926 317px,#050416 318px,#02020b 319px,#010106 320px,#000004 329px,#000004 330px)"></i>
<i style="background:linear-gradient(90deg,#000004 0,#000004 52px,#ea5661 53px,#ea5661 309px,#e55064 310px,#d2426f 311px,#ae347b 312px,#862781 313px,#5d177f 314px,#390f6e 315px,#1d1147 316px,#0d0a29 317px,#050416 318px,#02020b 319px,#010106 320px,#000004 329px,#000004 330px)"></i>
<i style="background:linear-gradient(90deg,#000004 0,#000004 52px,#f2645c 53px,#f2645c 309px,#ef5d5e 310px,#df4a68 311px,#bc3978 312px,#902a81 313px,#651a80 314px,#3f0f72 315px,#20114b 316px,#0e0b2b 317px,#060518 318px,#010106 320px,#000004 329px,#000004 330px)"></i>
<i style="background:linear-gradient(90deg,#000004 0,#000004 52px,#f8765c 53px,#f8765c 309px,#f66e5c 310px,#e95462 311px,#c73d73 312px,#982d80 313px,#6b1d81 314px,#440f76 315px,#221150 316px,#100b2d 317px,#06051a 318px,#02020d 319px,#010005 321px,#000004 330px)"></i>
<i style="background:linear-gradient(90deg,#000004 0,#000004 52px,#fb8761 53px,#fb8761 309px,#fa7d5e 310px,#f1605d 311px,#d2426f 312px,#a1307e 313px,#721f81 314px,#471078 315px,#251255 316px,#110c2f 317px,#06051a 318px,#02020d 319px,#010005 321px,#000004 330px)"></i>
<i style="background:linear-gradient(90deg,#000004 0,#000004 52px,#fd9668 53px,#fd9668 309px,#fc8e64 310px,#f66c5c 311px,#db476a 312px,#aa337d 313px,#782281 314px,#4c117a 315px,#271258 316px,#120d31 317px,#07061c 318px,#03030f 319px,#010108 320px,#000004 323px,#000004 330px)"></i>
<i style="background:linear-gradient(90deg,#000004 0,#000004 52px,#fea571 53px,#fea571 309px,#fd9b6b 310px,#f97b5d 311px,#e34e65 312px,#b2357b 313px,#7c2382 314px,#51127c 315px,#2a115c 316px,#130d34 317px,#07061c 318px,#03030f 319px,#010108 320px,#000004 323px,#000004 330px)"></i>
<i style="background:linear-gradient(90deg,#000004 0,#000004 52px,#feb27a 53px,#feb27a 309px,#feaa74 310px,#fb8761 311px,#ea5661 312px,#b83779 313px,#812581 314px,#54137d 315px,#2c115f 316px,#140e36 317px,#08071e 318px,#03030f 319px,#010108 320px,#000004 323px,#000004 330px)"></i>
<i style="background:linear-gradient(90deg,#000004 0,#000004 52px,#febf84 53px,#febf84 309px,#feb67c 310px,#fd9266 311px,#ef5d5e 312px,#bf3a77 313px,#862781 314px,#57157e 315px,#2f1163 316px,#150e38 317px,#08071e 318px,#03030f 319px,#010108 320px,#000004 323px,#000004 330px)"></i>
<i style="background:linear-gradient(90deg,#000004 0,#000004 52px,#fecc8f 53px,#fecc8f 309px,#fec185 310px,#fe9d6c 311px,#f2645c 312px,#c53c74 313px,#8b2981 314px,#5a167e 315px,#311165 316px,#160f3b 317px,#090720 318px,#030312 319px,#010108 320px,#000004 323px,#000004 330px)"></i>
<i style="background:linear-gradient(90deg,#000004 0,#000004 52px,#fed597 53px,#fed597 309px,#fecc8f 310px,#fea772 311px,#f66c5c 312px,#ca3e72 313px,#902a81 314px,#5d177f 315px,#331067 316px,#160f3b 317px,#090720 318px,#030312 319px,#010005 321px,#000004 330px)"></i>
<i style="background:linear-gradient(90deg,#000004 0,#000004 52px,#fddea0 53px,#fddea0 309px,#fed597 310px,#feae77 311px,#f8745c 312px,#cf4070 313px,#932b80 314px,#5f187f 315px,#341069 316px,#180f3d 317px,#0a0822 318px,#030312 319px,#010005 321px,#000004 330px)"></i>
<i style="background:linear-gradient(90deg,#000004 0,#000004 52px,#fde7a9 53px,#fde7a9 309px,#fddc9e 310px,#feb67c 311px,#f9795d 312px,#d3436e 313px,#962c80 314px,#601880 315px,#36106b 316px,#19103f 317px,#0a0822 318px,#030312 319px,#010005 321px,#000004 330px)"></i>
<i style="background:linear-gradient(90deg,#000004 0,#000004 52px,#fcecae 53px,#fcecae 309px,#fde3a5 310px,#febd82 311px,#fa7f5e 312px,#d6456c 313px,#992d80 314px,#641a80 315px,#38106c 316px,#19103f 317px,#0a0822 318px,#030312 319px,#010005 321px,#000004 330px)"></i>
<i style="background:linear-gradient(90deg,#000004 0,#000004 52px,#fcf4b6 53px,#fcf4b6 309px,#fde9aa 310px,#fec185 311px,#fb835f 312px,#d9466b 313px,#9b2e7f 314px,#651a80 315px,#38106c 316px,#19103f 317px,#0a0822 318px,#030312 319px,#010005 321px,#000004 330px)"></i>
<i style="background:linear-gradient(90deg,#000004 0,#000004 52px,#fcf7b9 53px,#fcf7b9 309px,#fcecae 310px,#fec68a 311px,#fb8761 312px,#dc4869 313px,#9c2e7f 314px,#651a80 315px,#390f6e 316px,#1a1042 317px,#0a0822 318px,#030312 319px,#010005 321px,#000004 330px)"></i>
<i style="background:linear-gradient(90deg,#000004 0,#000004 52px,#fcfbbd 53px,#fcfbbd 309px,#fcf0b2 310px,#fec88c 311px,#fc8961 312px,#de4968 313px,#9e2f7f 314px,#671b80 315px,#390f6e 316px,#1a1042 317px,#0b0924 318px,#030312 319px,#010005 321px,#000004 330px)"></i>
<i style="background:linear-gradient(90deg,#000004 0,#000004 52px,#fcfdbf 53px,#fcfdbf 309px,#fcf2b4 310px,#feca8d 311px,#fc8a62 312px,#de4968 313px,#9e2f7f 314px,#671b80 315px,#390f6e 316px,#1a1042 317px,#0b0924 318px,#030312 319px,#010005 321px,#000004 330px)"></i>
<i style="background:linear-gradient(90deg,#000004 0,#000004 52px,#fcfdbf 53px,#fcfdbf 309px,#fcf4b6 310px,#fecc8f 311px,#fc8c63 312px,#df4a68 313px,#a02f7f 314px,#671b80 315px,#390f6e 316px,#1a1042 317px,#0b0924 318px,#030312 319px,#020109 320px,#000004 323px,#000004 330px)"></i>
<i style="background:linear-gradient(90deg,#000004 0,#000004 52px,#fcfdbf 53px,#fcfdbf 309px,#fcf2b4 310px,#feca8d 311px,#fc8c63 312px,#df4a68 313px,#a02f7f 314px,#671b80 315px,#390f6e 316px,#1a1042 317px,#0b0924 318px,#030312 319px,#020109 320px,#000004 323px,#000004 330px)"></i>
<i style="background:linear-gradient(90deg,#000004 0,#000004 52px,#fcfbbd 53px,#fcfbbd 309px,#fcf2b4 310px,#feca8d 311px,#fc8a62 312px,#de4968 313px,#9e2f7f 314px,#671b80 315px,#390f6e 316px,#1a1042 317px,#0b0924 318px,#030312 319px,#010005 321px,#000004 330px)"></i>
<i style="background:linear-gradient(90deg,#000004 0,#000004 52px,#fcf9bb 53px,#fcf9bb 309px,#fceeb0 310px,#fec68a 311px,#fc8961 312px,#dc4869 313px,#9e2f7f 314px,#671b80 315px,#390f6e 316px,#1a1042 317px,#0b0924 318px,#030312 319px,#010005 321px,#000004 330px)"></i>
<i style="background:linear-gradient(90deg,#000004 0,#000004 52px,#fcf6b8 53px,#fcf6b8 309px,#fdebac 310px,#fec287 311px,#fb8560 312px,#db476a 313px,#9c2e7f 314px,#651a80 315px,#38106c 316px,#1a1042 317px,#0a0822 318px,#030312 319px,#010005 321px,#000004 330px)"></i>
<i style="background:linear-gradient(90deg,#000004 0,#000004 52px,#fcf0b2 53px,#fcf0b2 309px,#fde5a7 310px,#febf84 311px,#fa815f 312px,#d8456c 313px,#992d80 314px,#641a80 315px,#38106c 316px,#19103f 317px,#0a0822 318px,#030312 319px,#010005 321px,#000004 330px)"></i>
<i style="background:linear-gradient(90deg,#000004 0,#000004 52px,#fdebac 53px,#fdebac 309px,#fde0a1 310px,#feb97f 311px,#f97b5d 312px,#d5446d 313px,#982d80 314px,#621980 315px,#36106b 316px,#19103f 317px,#0a0822 318px,#030312 319px,#010005 321px,#000004 330px)"></i>
<i style="background:linear-gradient(90deg,#000004 0,#000004 52px,#fde2a3 53px,#fde2a3 309px,#fed89a 310px,#feb27a 311px,#f8765c 312px,#d2426f 313px,#942c80 314px,#601880 315px,#341069 316px,#180f3d 317px,#0a0822 318px,#030312 319px,#010005 321px,#000004 330px)"></i>
<i style="background:linear-gradient(90deg,#000004 0,#000004 52px,#fdda9c 53px,#fdda9c 309px,#fecf92 310px,#feaa74 311px,#f7705c 312px,#cd4071 313px,#912b81 314px,#5d177f 315px,#331067 316px,#180f3d 317px,#090720 318px,#030312 319px,#010005 321px,#000004 330px)"></i>
<i style="background:linear-gradient(90deg,#000004 0,#000004 52px,#fecf92 53px,#fecf92 309px,#fec68a 310px,#fea16e 311px,#f4695c 312px,#c83e73 313px,#8e2a81 314px,#5c167f 315px,#311165 316px,#160f3b 317px,#090720 318px,#030312 319px,#010108 320px,#000004 323px,#000004 330px)"></i>
<i style="background:linear-gradient(90deg,#000004 0,#000004 52px,#fec488 53px,#fec488 309px,#febb81 310px,#fd9869 311px,#f1605d 312px,#c23b75 313px,#892881 314px,#59157e 315px,#2f1163 316px,#150e38 317px,#090720 318px,#03030f 319px,#010108 320px,#000004 323px,#000004 330px)"></i>
<i style="background:linear-gradient(90deg,#000004 0,#000004 52px,#feb97f 53px,#feb97f 309px,#feb078 310px,#fc8c63 311px,#ec5860 312px,#bc3978 313px,#842681 314px,#56147d 315px,#2d1161 316px,#150e38 317px,#08071e 318px,#03030f 319px,#010108 320px,#000004 323px,#000004 330px)"></i>
<i style="background:linear-gradient(90deg,#000004 0,#000004 52px,#feac76 53px,#feac76 309px,#fea36f 310px,#fa815f 311px,#e75263 312px,#b5367a 313px,#802582 314px,#52137c 315px,#2c115f 316px,#140e36 317px,#08071e 318px,#03030f 319px,#010108 320px,#000004 323px,#000004 330px)"></i>
<i style="background:linear-gradient(90deg,#000004 0,#000004 52px,#fe9d6c 53px,#fe9d6c 309px,#fd9467 310px,#f8745c 311px,#df4a68 312px,#ad347c 313px,#792282 314px,#4e117b 315px,#29115a 316px,#130d34 317px,#07061c 318px,#03030f 319px,#010108 320px,#000004 323px,#000004 330px)"></i>
<i style="background:linear-gradient(90deg,#000004 0,#000004 52px,#fc8e64 53px,#fc8e64 309px,#fb8761 310px,#f4675c 311px,#d6456c 312px,#a5317e 313px,#752181 314px,#4a1079 315px,#251255 316px,#120d31 317px,#07061c 318px,#02020d 319px,#010005 321px,#000004 330px)"></i>
<i style="background:linear-gradient(90deg,#000004 0,#000004 52px,#fa7d5e 53px,#fa7d5e 309px,#f8765c 310px,#ed5a5f 311px,#cc3f71 312px,#9c2e7f 313px,#6e1e81 314px,#451077 315px,#241253 316px,#110c2f 317px,#06051a 318px,#02020d 319px,#010005 321px,#000004 330px)"></i>
<i style="background:linear-gradient(90deg,#000004 0,#000004 52px,#f66c5c 53px,#f66c5c 309px,#f3655c 310px,#e44f64 311px,#c03a76 312px,#942c80 313px,#681c81 314px,#400f74 315px,#21114e 316px,#100b2d 317px,#060518 318px,#02020d 319px,#010005 321px,#000004 330px)"></i>
<i style="background:linear-gradient(90deg,#000004 0,#000004 52px,#ef5d5e 53px,#ef5d5e 309px,#eb5760 310px,#d8456c 311px,#b5367a 312px,#8b2981 313px,#601880 314px,#3b0f70 315px,#1e1149 316px,#0e0b2b 317px,#060518 318px,#02020b 319px,#010106 320px,#000004 329px,#000004 330px)"></i>
<i style="background:linear-gradient(90deg,#000004 0,#000004 52px,#e34e65 53px,#e34e65 309px,#df4a68 310px,#ca3e72 311px,#a8327d 312px,#812581 313px,#5a167e 314px,#36106b 315px,#1c1044 316px,#0c0926 317px,#050416 318px,#02020b 319px,#010106 320px,#000004 329px,#000004 330px)"></i>
<i style="background:linear-gradient(90deg,#000004 0,#000004 52px,#d5446d 53px,#d5446d 309px,#d0416f 310px,#bc3978 311px,#9b2e7f 312px,#762181 313px,#52137c 314px,#311165 315px,#19103f 316px,#0b0924 317px,#040414 318px,#010106 320px,#000004 329px,#000004 330px)"></i>
<i style="background:linear-gradient(90deg,#000004 0,#000004 52px,#c23b75 53px,#c23b75 309px,#bd3977 310px,#aa337d 311px,#8c2981 312px,#6b1d81 313px,#4a1079 314px,#2a115c 315px,#150e38 316px,#0a0822 317px,#040414 318px,#020109 319px,#000004 323px,#000004 330px)"></i>
<i style="background:linear-gradient(90deg,#000004 0,#000004 52px,#ab337c 53px,#ab337c 309px,#a8327d 310px,#962c80 311px,#7c2382 312px,#5f187f 313px,#400f74 314px,#241253 315px,#130d34 316px,#08071e 317px,#030312 318px,#020109 319px,#000004 322px,#000004 330px)"></i>
<i style="background:linear-gradient(90deg,#000004 0,#000004 52px,#942c80 53px,#942c80 309px,#902a81 310px,#812581 311px,#6b1d81 312px,#51127c 313px,#341069 314px,#1e1149 315px,#100b2d 316px,#06051a 317px,#010108 319px,#000004 322px,#000004 330px)"></i>
<i style="background:linear-gradient(90deg,#000004 0,#000004 52px,#7c2382 53px,#7c2382 309px,#792282 310px,#6d1d81 311px,#59157e 312px,#420f75 313px,#2a115c 314px,#180f3d 315px,#0c0926 316px,#060518 317px,#02020d 318px,#010005 320px,#000004 330px)"></i>
<i style="background:linear-gradient(90deg,#000004 0,#000004 52px,#671b80 53px,#671b80 309px,#641a80 310px,#59157e 311px,#491078 312px,#341069 313px,#21114e 314px,#130d34 315px,#090720 316px,#040414 317px,#010106 319px,#000004 328px,#000004 330px)"></i>
<i style="background:linear-gradient(90deg,#000004 0,#000004 52px,#5a167e 53px,#59157e 310px,#4f127b 311px,#3f0f72 312px,#2c115f 313px,#1c1044 314px,#100b2d 315px,#030312 317px,#020109 318px,#000004 322px,#000004 330px)"></i>
<i style="background:linear-gradient(90deg,#000004 0,#000004 52px,#732081 53px,#732081 309px,#701f81 310px,#641a80 311px,#52137c 312px,#3d0f71 313px,#251255 314px,#150e38 315px,#0b0924 316px,#050416 317px,#02020b 318px,#000004 321px,#000004 330px)"></i>
<i style="background:linear-gradient(90deg,#000004 0,#000004 52px,#842681 53px,#842681 309px,#812581 310px,#752181 311px,#601880 312px,#471078 313px,#2d1161 314px,#1a1042 315px,#0d0a29 316px,#060518 317px,#02020d 318px,#010005 320px,#000004 330px)"></i>
<i style="background:linear-gradient(90deg,#000004 0,#000004 52px,#802582 53px,#802582 309px,#7b2382 310px,#6e1e81 311px,#5c167f 312px,#440f76 313px,#2a115c 314px,#19103f 315px,#0c0926 316px,#060518 317px,#02020d 318px,#010005 320px,#000004 330px)"></i>
<i style="background:linear-gradient(90deg,#000004 0,#000004 52px,#6d1d81 53px,#6d1d81 309px,#6a1c81 310px,#5f187f 311px,#4e117b 312px,#38106c 313px,#221150 314px,#140e36 315px,#0a0822 316px,#040414 317px,#010106 319px,#000004 328px,#000004 330px)"></i>
<i style="background:linear-gradient(90deg,#000004 0,#000004 52px,#5d177f 53px,#5c167f 310px,#52137c 311px,#420f75 312px,#2d1161 313px,#1d1147 314px,#110c2f 315px,#08071e 316px,#030312 317px,#020109 318px,#000004 322px,#000004 330px)"></i>
<i style="background:linear-gradient(90deg,#000004 0,#000004 52px,#51127c 53px,#51127c 309px,#4e117b 310px,#451077 311px,#36106b 312px,#180f3d 314px,#0d0a29 315px,#06051a 316px,#03030f 317px,#010106 319px,#000004 328px,#000004 330px)"></i>
<i style="background:linear-gradient(90deg,#000004 0,#000004 52px,#440f76 53px,#420f75 310px,#390f6e 311px,#20114b 313px,#0b0924 315px,#02020d 317px,#010005 319px,#000004 330px)"></i>
<i style="background:linear-gradient(90deg,#000004 0,#000004 52px,#390f6e 53px,#390f6e 309px,#36106b 310px,#2f1163 311px,#251255 312px,#110c2f 314px,#040414 316px,#02020b 317px,#000004 320px,#000004 330px)"></i>
<i style="background:linear-gradient(90deg,#000004 0,#000004 52px,#311165 53px,#311165 309px,#2f1163 310px,#29115a 311px,#0e0b2b 314px,#040414 316px,#02020b 317px,#000004 320px,#000004 330px)"></i>
<i style="background:linear-gradient(90deg,#000004 0,#000004 52px,#2a115c 53px,#2a115c 309px,#29115a 310px,#1c1044 312px,#0c0926 314px,#06051a 315px,#020109 317px,#000004 321px,#000004 330px)"></i>
<i style="background:linear-gradient(90deg,#000004 0,#000004 52px,#241253 53px,#241253 309px,#221150 310px,#1e1149 311px,#060518 315px,#020109 317px,#000004 321px,#000004 330px)"></i>
<i style="background:linear-gradient(90deg,#000004 0,#000004 52px,#1e1149 53px,#1e1149 310px,#1a1042 311px,#050416 315px,#02020d 316px,#010005 319px,#000004 330px)"></i>
<i style="background:linear-gradient(90deg,#000004 0,#000004 52px,#1a1042 53px,#1a1042 310px,#120d31 312px,#040414 315px,#010108 317px,#000004 322px,#000004 330px)"></i>
<i style="background:linear-gradient(90deg,#000004 0,#000004 52px,#160f3b 53px,#160f3b 310px,#100b2d 312px,#030312 315px,#010005 318px,#000004 330px)"></i>
<i style="background:linear-gradient(90deg,#000004 0,#000004 52px,#140e36 53px,#140e36 309px,#110c2f 311px,#03030f 315px,#000004 319px,#000004 330px)"></i>
<i style="background:linear-gradient(90deg,#000004 0,#000004 52px,#120d31 53px,#120d31 309px,#0e0b2b 311px,#03030f 315px,#010106 317px,#000004 326px,#000004 330px)"></i>
<i style="background:linear-gradient(90deg,#000004 0,#000004 52px,#0e0b2b 53px,#0e0b2b 310px,#020109 316px,#000004 320px,#000004 330px)"></i>
<i style="background:linear-gradient(90deg,#000004 0,#000004 52px,#0c0926 53px,#0c0926 310px,#030312 314px,#010108 316px,#000004 321px,#000004 330px)"></i>
<i style="background:linear-gradient(90deg,#000004 0,#000004 52px,#0b0924 53px,#0b0924 309px,#07061c 312px,#02020b 315px,#000004 319px,#000004 330px)"></i>
<i style="background:linear-gradient(90deg,#000004 0,#000004 52px,#090720 53px,#090720 310px,#020109 315px,#000004 319px,#000004 330px)"></i>
<i style="background:linear-gradient(90deg,#000004 0,#000004 52px,#08071e 53px,#08071e 309px,#050416 312px,#010106 316px,#000004 325px,#000004 330px)"></i>
<i style="background:linear-gradient(90deg,#000004 0,#000004 52px,#06051a 53px,#06051a 310px,#010106 316px,#000004 325px,#000004 330px)"></i>
<i style="background:linear-gradient(90deg,#000004 0,#000004 52px,#060518 53px,#060518 310px,#010106 316px,#000004 325px,#000004 330px)"></i>
<i style="background:linear-gradient(90deg,#000004 0,#000004 52px,#050416 53px,#050416 310px,#010106 316px,#000004 325px,#000004 330px)"></i>
<i style="background:linear-gradient(90deg,#000004 0,#000004 52px,#040414 53px,#040414 310px,#010005 316px,#000004 330px)"></i>
<i style="background:linear-gradient(90deg,#000004 0,#000004 52px,#030312 53px,#030312 310px,#010005 316px,#000004 330px)"></i>
<i style="background:linear-gradient(90deg,#000004 0,#000004 52px,#03030f 53px,#03030f 311px,#010005 316px,#000004 330px)"></i>
<i style="background:linear-gradient(90deg,#000004 0,#000004 52px,#03030f 53px,#03030f 310px,#000004 318px,#000004 330px)"></i>
<i style="background:linear-gradient(90deg,#000004 0,#000004 52px,#02020d 53px,#02020b 311px,#000004 317px,#000004 330px)"></i>
<i style="height:2px;background:linear-gradient(90deg,#000004 0,#000004 52px,#02020b 53px,#020109 312px,#000004 318px,#000004 330px)"></i>
<i style="height:3px;background:linear-gradient(90deg,#000004 0,#000004 52px,#020109 53px,#010108 312px,#000004 319px,#000004 330px)"></i>
<i style="background:linear-gradient(90deg,#000004 0,#000004 52px,#010108 53px,#010106 313px,#000004 327px,#000004 330px)"></i>
<i style="background:linear-gradient(90deg,#000004 0,#000004 52px,#010108 53px,#010106 312px,#000004 330px)"></i>
<i style="height:3px;background:linear-gradient(90deg,#000004 0,#000004 52px,#010106 56px,#010005 314px,#000004 330px)"></i>
<i style="height:2px;background:linear-gradient(90deg,#000004 0,#000004 52px,#010106 56px,#010005 313px,#000004 330px)"></i>
<i style="height:7px;background:#010004"></i>
<i style="height:34px;background:#000004"></i>
</div>
<div class="h" style="left:410px;top:325px;width:11px;height:213px;background:linear-gradient(180deg,#fcfdbf 0,#fcf7b9 3px,#fcf2b4 5px,#fcecae 8px,#fde7a9 10px,#fde2a3 13px,#fddc9e 15px,#fed799 18px,#fed194 20px,#fecc8f 23px,#fec68a 25px,#fec287 27px,#febd82 29px,#feb77e 32px,#feb27a 34px,#feac76 37px,#fea772 39px,#fea16e 42px,#fd9b6b 44px,#fd9668 47px,#fc9065 49px,#fc8c63 51px,#fb8761 53px,#fa815f 56px,#f97b5d 58px,#f8765c 61px,#f7705c 63px,#f56b5c 66px,#f3655c 68px,#f1605d 71px,#ee5b5e 73px,#e75263 79px,#de4968 85px,#d8456c 88px,#d5446d 90px,#cf4070 93px,#cc3f71 95px,#c73d73 97px,#c43c75 99px,#bf3a77 101px,#ba3878 104px,#b5367a 106px,#b0357b 109px,#ab337c 111px,#a6317d 114px,#a1307e 116px,#9c2e7f 119px,#982d80 121px,#942c80 123px,#902a81 125px,#8b2981 128px,#862781 130px,#812581 133px,#7c2382 135px,#782281 138px,#732081 140px,#6e1e81 143px,#6a1c81 145px,#671b80 147px,#621980 149px,#5d177f 152px,#59157e 154px,#54137d 157px,#4f127b 159px,#4a1079 162px,#451077 164px,#400f74 167px,#3b0f70 169px,#38106c 171px,#331067 173px,#2d1161 176px,#2a115c 177px,#241253 181px,#21114e 182px,#1c1044 186px,#19103f 187px,#140e36 191px,#120d31 192px,#0e0b2b 195px,#0c0926 196px,#08071e 200px,#06051a 201px,#030312 205px,#02020d 206px,#000004 211px,#000004 213px)"></div>
<div class="h" style="left:552px;top:325px;width:331px;height:213px">
<i style="background:linear-gradient(90deg,#000004 0,#010005 208px,#010005 314px,#000004 331px)"></i>
<i style="background:linear-gradient(90deg,#000004 0,#010005 207px,#010005 314px,#000004 331px)"></i>
<i style="background:linear-gradient(90deg,#000004 0,#010005 206px,#010005 314px,#000004 331px)"></i>
<i style="height:2px;background:linear-gradient(90deg,#000004 0,#010005 205px,#010005 314px,#000004 331px)"></i>
<i style="background:linear-gradient(90deg,#000004 0,#010005 203px,#010005 315px,#000004 331px)"></i>
<i style="background:linear-gradient(90deg,#000004 0,#010005 202px,#010005 315px,#000004 331px)"></i>
<i style="background:linear-gradient(90deg,#000004 0,#010005 201px,#010005 315px,#000004 331px)"></i>
<i style="background:linear-gradient(90deg,#000004 0,#010005 200px,#010108 310px,#000004 321px,#000004 331px)"></i>
<i style="background:linear-gradient(90deg,#000004 0,#010005 199px,#010108 275px,#010106 313px,#000004 327px,#000004 331px)"></i>
<i style="background:linear-gradient(90deg,#000004 0,#010005 198px,#010108 259px,#010106 313px,#000004 327px,#000004 331px)"></i>
<i style="background:linear-gradient(90deg,#000004 0,#010005 197px,#010108 252px,#010106 313px,#000004 327px,#000004 331px)"></i>
<i style="background:linear-gradient(90deg,#000004 0,#010005 196px,#010108 245px,#010106 313px,#000004 327px,#000004 331px)"></i>
<i style="background:linear-gradient(90deg,#000004 0,#010005 194px,#010108 246px,#010106 313px,#000004 327px,#000004 331px)"></i>
<i style="background:linear-gradient(90deg,#000004 0,#010005 193px,#010108 242px,#010106 313px,#000004 327px,#000004 331px)"></i>
<i style="background:linear-gradient(90deg,#000004 0,#010005 192px,#010108 238px,#010106 313px,#000004 327px,#000004 331px)"></i>
<i style="background:linear-gradient(90deg,#000004 0,#010005 191px,#010108 237px,#010108 312px,#000004 319px,#000004 331px)"></i>
<i style="background:linear-gradient(90deg,#000004 0,#010005 190px,#010108 232px,#010108 312px,#000004 319px,#000004 331px)"></i>
<i style="background:linear-gradient(90deg,#000004 0,#010005 190px,#020109 251px,#010108 312px,#000004 321px,#000004 331px)"></i>
<i style="background:linear-gradient(90deg,#000004 0,#010005 189px,#020109 240px,#010108 312px,#000004 321px,#000004 331px)"></i>
<i style="background:linear-gradient(90deg,#000004 0,#010005 188px,#020109 236px,#010108 312px,#000004 321px,#000004 331px)"></i>
<i style="background:linear-gradient(90deg,#000004 0,#010005 187px,#020109 231px,#010108 313px,#000004 320px,#000004 331px)"></i>
<i style="background:linear-gradient(90deg,#000004 0,#010005 186px,#020109 227px,#010108 313px,#000004 320px,#000004 331px)"></i>
<i style="background:linear-gradient(90deg,#000004 0,#010005 185px,#020109 224px,#020109 312px,#000004 318px,#000004 331px)"></i>
<i style="background:linear-gradient(90deg,#000004 0,#010005 185px,#020109 221px,#020109 312px,#000004 318px,#000004 331px)"></i>
<i style="background:linear-gradient(90deg,#000004 0,#010005 184px,#020109 218px,#020109 312px,#000004 318px,#000004 331px)"></i>
<i style="background:linear-gradient(90deg,#000004 0,#010005 183px,#020109 215px,#020109 312px,#000004 319px,#000004 331px)"></i>
<i style="background:linear-gradient(90deg,#000004 0,#010005 182px,#02020b 225px,#020109 312px,#000004 319px,#000004 331px)"></i>
<i style="background:linear-gradient(90deg,#000004 0,#010005 182px,#02020b 221px,#02020d 296px,#020109 312px,#000004 319px,#000004 331px)"></i>
<i style="background:linear-gradient(90deg,#000004 0,#010005 181px,#02020b 219px,#02020d 310px,#000004 318px,#000004 331px)"></i>
<i style="background:linear-gradient(90deg,#000004 0,#010005 181px,#02020b 216px,#02020d 310px,#000004 318px,#000004 331px)"></i>
<i style="background:linear-gradient(90deg,#000004 0,#010106 188px,#02020b 213px,#02020d 311px,#000004 318px,#000004 331px)"></i>
<i style="background:linear-gradient(90deg,#000004 0,#010106 187px,#02020d 219px,#03030f 297px,#02020b 312px,#000004 318px,#000004 331px)"></i>
<i style="background:linear-gradient(90deg,#000004 0,#010106 187px,#02020d 217px,#03030f 310px,#000004 318px,#000004 331px)"></i>
<i style="background:linear-gradient(90deg,#000004 0,#010106 186px,#02020d 214px,#03030f 310px,#000004 318px,#000004 331px)"></i>
<i style="background:linear-gradient(90deg,#000004 0,#010106 185px,#03030f 219px,#030312 292px,#02020d 312px,#010005 316px,#000004 331px)"></i>
<i style="background:linear-gradient(90deg,#000004 0,#010106 185px,#02020d 208px,#030312 237px,#03030f 311px,#010005 316px,#000004 331px)"></i>
<i style="background:linear-gradient(90deg,#000004 0,#010106 184px,#03030f 214px,#030312 310px,#000004 318px,#000004 331px)"></i>
<i style="background:linear-gradient(90deg,#000004 0,#000004 53px,#010106 57px,#010106 182px,#03030f 210px,#040414 245px,#030312 311px,#010005 317px,#000004 331px)"></i>
<i style="background:linear-gradient(90deg,#000004 0,#000004 53px,#010106 57px,#010106 180px,#03030f 208px,#040414 227px,#030312 311px,#010005 317px,#000004 331px)"></i>
<i style="background:linear-gradient(90deg,#000004 0,#000004 53px,#010106 57px,#010108 184px,#040414 217px,#050416 293px,#040414 311px,#010106 316px,#000004 325px,#000004 331px)"></i>
<i style="background:linear-gradient(90deg,#000004 0,#000004 53px,#010106 57px,#010108 182px,#030312 208px,#050416 227px,#050416 310px,#010005 317px,#000004 331px)"></i>
<i style="background:linear-gradient(90deg,#000004 0,#000004 53px,#010108 54px,#010108 180px,#030312 206px,#050416 217px,#060518 294px,#050416 311px,#010106 316px,#000004 325px,#000004 331px)"></i>
<i style="background:linear-gradient(90deg,#000004 0,#000004 53px,#010108 54px,#010108 178px,#040414 208px,#060518 225px,#060518 310px,#010005 317px,#000004 331px)"></i>
<i style="background:linear-gradient(90deg,#000004 0,#000004 53px,#010108 54px,#020109 183px,#040414 206px,#060518 213px,#06051a 302px,#060518 311px,#010005 317px,#000004 331px)"></i>
<i style="background:linear-gradient(90deg,#000004 0,#000004 53px,#020109 54px,#020109 181px,#050416 207px,#06051a 218px,#07061c 284px,#060518 311px,#010005 317px,#000004 331px)"></i>
<i style="background:linear-gradient(90deg,#000004 0,#000004 53px,#020109 54px,#020109 179px,#050416 206px,#06051a 211px,#08071e 256px,#07061c 280px,#07061c 310px,#010108 316px,#000004 321px,#000004 331px)"></i>
<i style="background:linear-gradient(90deg,#000004 0,#000004 53px,#020109 54px,#020109 177px,#050416 205px,#07061c 212px,#08071e 306px,#07061c 311px,#010108 316px,#000004 321px,#000004 331px)"></i>
<i style="background:linear-gradient(90deg,#000004 0,#000004 53px,#02020b 54px,#02020b 181px,#060518 206px,#08071e 211px,#090720 299px,#07061c 311px,#06051a 312px,#010108 316px,#000004 321px,#000004 331px)"></i>
<i style="background:linear-gradient(90deg,#000004 0,#000004 53px,#02020b 54px,#02020b 180px,#06051a 206px,#090720 213px,#0a0822 294px,#08071e 311px,#010108 316px,#000004 321px,#000004 331px)"></i>
<i style="background:linear-gradient(90deg,#000004 0,#000004 53px,#02020d 54px,#02020b 124px,#02020b 178px,#06051a 206px,#0a0822 211px,#0b0924 292px,#0a0822 307px,#090720 311px,#010106 317px,#000004 326px,#000004 331px)"></i>
<i style="background:linear-gradient(90deg,#000004 0,#000004 53px,#03030f 54px,#02020d 71px,#03030f 94px,#02020d 104px,#03030f 120px,#02020b 127px,#02020d 180px,#07061c 206px,#0b0924 211px,#0c0926 294px,#0b0924 308px,#0a0822 311px,#010106 317px,#000004 326px,#000004 331px)"></i>
<i style="background:linear-gradient(90deg,#000004 0,#000004 53px,#03030f 54px,#030312 84px,#02020d 129px,#02020b 133px,#03030f 180px,#08071e 206px,#0c0926 211px,#0d0a29 261px,#0d0a29 299px,#0b0924 311px,#020109 316px,#000004 320px,#000004 331px)"></i>
<i style="background:linear-gradient(90deg,#000004 0,#000004 53px,#030312 54px,#03030f 124px,#02020d 139px,#03030f 155px,#02020d 167px,#060518 193px,#090720 205px,#0d0a29 210px,#100b2d 228px,#100b2d 246px,#0e0b2b 256px,#0e0b2b 308px,#0c0926 311px,#020109 316px,#000004 320px,#000004 331px)"></i>
<i style="background:linear-gradient(90deg,#000004 0,#000004 53px,#040414 54px,#030312 124px,#03030f 143px,#030312 152px,#03030f 168px,#06051a 192px,#0a0822 205px,#100b2d 211px,#110c2f 268px,#100b2d 310px,#060518 314px,#03030f 315px,#010005 318px,#000004 331px)"></i>
<i style="background:linear-gradient(90deg,#000004 0,#000004 53px,#050416 54px,#050416 121px,#030312 126px,#040414 176px,#0b0924 205px,#110c2f 211px,#130d34 225px,#120d31 233px,#120d31 300px,#110c2f 308px,#100b2d 311px,#02020b 316px,#000004 320px,#000004 331px)"></i>
<i style="background:linear-gradient(90deg,#000004 0,#000004 53px,#060518 54px,#060518 121px,#040414 126px,#030312 133px,#050416 176px,#0c0926 205px,#120d31 209px,#140e36 219px,#140e36 275px,#130d34 282px,#130d34 310px,#0e0b2b 312px,#040414 315px,#010108 317px,#000004 322px,#000004 331px)"></i>
<i style="background:linear-gradient(90deg,#000004 0,#000004 53px,#06051a 54px,#07061c 84px,#06051a 114px,#060518 123px,#050416 143px,#060518 154px,#050416 167px,#08071e 187px,#0e0b2b 205px,#150e38 212px,#160f3b 239px,#160f3b 252px,#150e38 258px,#150e38 309px,#130d34 311px,#02020d 316px,#010005 319px,#000004 331px)"></i>
<i style="background:linear-gradient(90deg,#000004 0,#000004 53px,#08071e 54px,#07061c 74px,#08071e 91px,#07061c 107px,#090720 137px,#0a0822 171px,#0e0b2b 189px,#150e38 208px,#180f3d 214px,#19103f 226px,#19103f 244px,#180f3d 250px,#180f3d 309px,#150e38 311px,#120d31 312px,#050416 315px,#02020d 316px,#010005 319px,#000004 331px)"></i>
<i style="background:linear-gradient(90deg,#000004 0,#000004 53px,#090720 54px,#090720 119px,#0a0822 121px,#100b2d 125px,#0e0b2b 132px,#100b2d 142px,#110c2f 155px,#100b2d 164px,#120d31 180px,#1a1042 205px,#19103f 210px,#1c1044 218px,#1c1044 246px,#1a1042 251px,#1a1042 309px,#180f3d 311px,#060518 315px,#020109 317px,#000004 321px,#000004 331px)"></i>
<i style="background:linear-gradient(90deg,#000004 0,#000004 53px,#0b0924 54px,#0a0822 74px,#0b0924 89px,#0a0822 107px,#0b0924 120px,#150e38 125px,#160f3b 131px,#160f3b 142px,#180f3d 148px,#180f3d 160px,#160f3b 164px,#180f3d 170px,#1a1042 184px,#221150 205px,#1d1147 210px,#20114b 224px,#1e1149 229px,#1e1149 256px,#1d1147 261px,#1d1147 310px,#1a1042 311px,#060518 315px,#020109 317px,#000004 321px,#000004 331px)"></i>
<i style="background:linear-gradient(90deg,#000004 0,#000004 53px,#0d0a29 54px,#0c0926 78px,#0d0a29 88px,#0c0926 100px,#0d0a29 120px,#140e36 125px,#140e36 140px,#150e38 147px,#150e38 172px,#1c1044 193px,#1e1149 199px,#21114e 206px,#20114b 211px,#221150 219px,#221150 234px,#21114e 239px,#21114e 290px,#20114b 295px,#20114b 310px,#1d1147 311px,#06051a 315px,#02020b 317px,#000004 320px,#000004 331px)"></i>
<i style="background:linear-gradient(90deg,#000004 0,#000004 53px,#100b2d 54px,#0e0b2b 64px,#0e0b2b 79px,#100b2d 87px,#0e0b2b 97px,#0e0b2b 112px,#100b2d 122px,#100b2d 138px,#110c2f 147px,#110c2f 172px,#150e38 189px,#1d1147 205px,#241253 211px,#271258 222px,#251255 245px,#241253 250px,#241253 310px,#1a1042 312px,#07061c 315px,#02020b 317px,#000004 320px,#000004 331px)"></i>
<i style="background:linear-gradient(90deg,#000004 0,#000004 53px,#120d31 54px,#110c2f 77px,#120d31 85px,#110c2f 110px,#120d31 118px,#110c2f 138px,#120d31 146px,#120d31 159px,#110c2f 167px,#150e38 187px,#19103f 196px,#1d1147 205px,#271258 210px,#2a115c 218px,#2a115c 232px,#29115a 239px,#29115a 261px,#271258 267px,#271258 310px,#241253 311px,#0e0b2b 314px,#040414 316px,#010005 319px,#000004 331px)"></i>
<i style="background:linear-gradient(90deg,#000004 0,#000004 53px,#140e36 54px,#130d34 74px,#140e36 81px,#140e36 92px,#130d34 99px,#130d34 107px,#140e36 114px,#140e36 126px,#130d34 133px,#140e36 157px,#130d34 164px,#140e36 176px,#1a1042 195px,#20114b 205px,#29115a 209px,#2d1161 214px,#2f1163 225px,#2d1161 238px,#2c115f 257px,#2c115f 310px,#271258 311px,#180f3d 313px,#090720 315px,#02020d 317px,#010108 318px,#000004 323px,#000004 331px)"></i>
<i style="background:linear-gradient(90deg,#000004 0,#000004 53px,#180f3d 54px,#150e38 67px,#160f3b 73px,#180f3d 88px,#160f3b 94px,#150e38 100px,#160f3b 106px,#180f3d 120px,#160f3b 126px,#150e38 134px,#160f3b 140px,#180f3d 152px,#160f3b 158px,#150e38 166px,#160f3b 172px,#19103f 185px,#21114e 204px,#271258 207px,#2f1163 210px,#331067 219px,#2f1163 264px,#2f1163 310px,#2a115c 311px,#1a1042 313px,#0a0822 315px,#02020d 317px,#010108 318px,#000004 323px,#000004 331px)"></i>
<i style="background:linear-gradient(90deg,#000004 0,#000004 53px,#1c1044 54px,#1a1042 59px,#19103f 71px,#1a1042 77px,#1c1044 87px,#1a1042 92px,#19103f 104px,#1a1042 110px,#1c1044 119px,#1a1042 124px,#19103f 132px,#1a1042 138px,#1d1147 149px,#1d1147 156px,#1c1044 161px,#1c1044 168px,#1d1147 173px,#221150 196px,#271258 205px,#311165 209px,#36106b 214px,#36106b 230px,#331067 266px,#331067 310px,#2f1163 311px,#130d34 314px,#060518 316px,#020109 318px,#000004 322px,#000004 331px)"></i>
<i style="background:linear-gradient(90deg,#000004 0,#000004 53px,#20114b 54px,#1d1147 69px,#20114b 84px,#1e1149 95px,#1d1147 100px,#20114b 118px,#1e1149 137px,#221150 148px,#221150 168px,#241253 173px,#251255 185px,#2d1161 205px,#38106c 210px,#3b0f70 221px,#38106c 258px,#38106c 310px,#331067 311px,#2a115c 312px,#140e36 314px,#06051a 316px,#03030f 317px,#010106 319px,#000004 328px,#000004 331px)"></i>
<i style="background:linear-gradient(90deg,#000004 0,#000004 53px,#241253 54px,#221150 74px,#241253 79px,#241253 91px,#221150 96px,#221150 108px,#241253 113px,#241253 125px,#221150 130px,#251255 140px,#29115a 146px,#2a115c 160px,#2d1161 183px,#341069 205px,#3f0f72 212px,#3f0f72 233px,#3b0f70 273px,#3d0f71 310px,#38106c 311px,#2d1161 312px,#160f3b 314px,#0d0a29 315px,#030312 317px,#020109 318px,#000004 322px,#000004 331px)"></i>
<i style="background:linear-gradient(90deg,#000004 0,#000004 53px,#2a115c 54px,#271258 69px,#29115a 75px,#2a115c 89px,#271258 102px,#2a115c 115px,#2a115c 123px,#29115a 130px,#2a115c 137px,#311165 147px,#38106c 186px,#3b0f70 205px,#440f76 212px,#471078 222px,#420f75 244px,#420f75 302px,#440f76 310px,#3d0f71 311px,#331067 312px,#19103f 314px,#0e0b2b 315px,#030312 317px,#010106 319px,#000004 328px,#000004 331px)"></i>
<i style="background:linear-gradient(90deg,#000004 0,#000004 53px,#311165 54px,#2d1161 69px,#331067 84px,#2d1161 102px,#311165 115px,#2f1163 134px,#390f6e 148px,#400f74 183px,#420f75 205px,#4a1079 213px,#4e117b 221px,#491078 239px,#491078 305px,#491078 310px,#440f76 311px,#38106c 312px,#1c1044 314px,#08071e 316px,#02020b 318px,#010106 319px,#000004 328px,#000004 331px)"></i>
<i style="background:linear-gradient(90deg,#000004 0,#000004 53px,#390f6e 54px,#36106b 70px,#390f6e 88px,#36106b 104px,#390f6e 120px,#36106b 131px,#400f74 146px,#440f76 158px,#491078 179px,#491078 205px,#51127c 212px,#54137d 222px,#4f127b 240px,#4f127b 298px,#51127c 310px,#4a1079 311px,#3f0f72 312px,#2d1161 313px,#130d34 315px,#0a0822 316px,#02020b 318px,#000004 321px,#000004 331px)"></i>
<i style="background:linear-gradient(90deg,#000004 0,#000004 53px,#400f74 54px,#3d0f71 71px,#400f74 85px,#3d0f71 105px,#400f74 117px,#3d0f71 132px,#4a1079 150px,#4f127b 178px,#4f127b 206px,#59157e 214px,#59157e 226px,#54137d 248px,#56147d 300px,#57157e 310px,#51127c 311px,#440f76 312px,#331067 313px,#21114e 314px,#140e36 315px,#050416 317px,#010108 319px,#000004 322px,#000004 331px)"></i>
<i style="background:linear-gradient(90deg,#010005 0,#010005 53px,#471078 54px,#440f76 71px,#471078 86px,#440f76 106px,#471078 116px,#440f76 131px,#54137d 152px,#57157e 172px,#57157e 185px,#54137d 202px,#59157e 208px,#601880 220px,#5a167e 240px,#5a167e 292px,#5c167f 310px,#56147d 311px,#491078 312px,#38106c 313px,#241253 314px,#150e38 315px,#060518 317px,#02020d 318px,#010005 320px,#000004 331px)"></i>
<i style="background:linear-gradient(90deg,#010005 0,#010005 53px,#4f127b 54px,#4a1079 70px,#4f127b 83px,#4c117a 96px,#4c117a 107px,#4f127b 117px,#4e117b 132px,#54137d 140px,#5d177f 151px,#641a80 177px,#5d177f 204px,#671b80 218px,#601880 247px,#601880 282px,#641a80 310px,#5d177f 311px,#4f127b 312px,#3d0f71 313px,#29115a 314px,#180f3d 315px,#060518 317px,#02020d 318px,#010005 320px,#000004 331px)"></i>
<i style="background:linear-gradient(90deg,#010005 0,#010005 53px,#59157e 54px,#52137c 68px,#59157e 84px,#52137c 101px,#59157e 117px,#54137d 130px,#5d177f 141px,#671b80 150px,#6e1e81 176px,#671b80 203px,#701f81 219px,#681c81 250px,#6b1d81 297px,#6d1d81 310px,#671b80 311px,#57157e 312px,#440f76 313px,#2d1161 314px,#1c1044 315px,#0e0b2b 316px,#06051a 317px,#03030f 318px,#010106 320px,#000004 324px,#000004 331px)"></i>
<i style="background:linear-gradient(90deg,#010005 0,#010005 53px,#641a80 54px,#5f187f 69px,#651a80 85px,#5f187f 101px,#651a80 118px,#5c167f 129px,#601880 137px,#701f81 149px,#762181 170px,#762181 183px,#701f81 203px,#701f81 210px,#782281 221px,#732081 243px,#762181 285px,#7b2382 310px,#732081 311px,#4e117b 313px,#341069 314px,#20114b 315px,#110c2f 316px,#08071e 317px,#030312 318px,#020109 319px,#000004 323px,#000004 331px)"></i>
<i style="background:linear-gradient(90deg,#010005 0,#010005 53px,#752181 54px,#6e1e81 67px,#732081 78px,#732081 90px,#6e1e81 100px,#732081 111px,#732081 120px,#621980 125px,#621980 134px,#762181 148px,#812581 177px,#782281 201px,#752181 206px,#6d1d81 209px,#7b2382 221px,#862781 280px,#8e2a81 309px,#8c2981 310px,#842681 311px,#721f81 312px,#5a167e 313px,#3f0f72 314px,#251255 315px,#140e36 316px,#0a0822 317px,#040414 318px,#010106 320px,#000004 329px,#000004 331px)"></i>
<i style="background:linear-gradient(90deg,#010005 0,#010005 53px,#832681 54px,#7c2382 67px,#802582 75px,#842681 85px,#7c2382 99px,#802582 108px,#842681 118px,#812581 120px,#681c81 125px,#651a80 131px,#732081 142px,#802582 150px,#862781 168px,#892881 178px,#802582 203px,#7b2382 206px,#732081 209px,#842681 221px,#a02f7f 309px,#9e2f7f 310px,#942c80 311px,#802582 312px,#651a80 313px,#491078 314px,#2c115f 315px,#180f3d 316px,#0b0924 317px,#050416 318px,#02020b 319px,#010106 320px,#000004 329px,#000004 331px)"></i>
<i style="background:linear-gradient(90deg,#010005 0,#010005 53px,#721f81 54px,#6b1d81 67px,#721f81 84px,#6d1d81 95px,#6d1d81 106px,#721f81 116px,#701f81 121px,#6b1d81 128px,#6e1e81 135px,#862781 150px,#932b80 177px,#892881 199px,#882781 204px,#842681 205px,#671b80 209px,#641a80 210px,#721f81 220px,#892881 310px,#802582 311px,#6e1e81 312px,#57157e 313px,#3d0f71 314px,#241253 315px,#140e36 316px,#090720 317px,#020109 319px,#000004 323px,#000004 331px)"></i>
<i style="background:linear-gradient(90deg,#010005 0,#010005 53px,#721f81 54px,#6b1d81 67px,#721f81 84px,#6d1d81 95px,#6d1d81 106px,#721f81 116px,#6e1e81 131px,#842681 145px,#8e2a81 151px,#9c2e7f 177px,#912b81 201px,#912b81 204px,#8c2981 205px,#671b80 209px,#621980 210px,#6b1d81 222px,#812581 310px,#782281 311px,#681c81 312px,#52137c 313px,#38106c 314px,#21114e 315px,#120d31 316px,#08071e 317px,#030312 318px,#020109 319px,#000004 323px,#000004 331px)"></i>
<i style="background:linear-gradient(90deg,#010005 0,#010005 53px,#59157e 54px,#54137d 70px,#5a167e 84px,#54137d 103px,#5a167e 117px,#5a167e 120px,#732081 125px,#762181 134px,#942c80 151px,#a5317e 173px,#a1307e 185px,#9b2e7f 200px,#992d80 204px,#932b80 205px,#621980 208px,#54137d 209px,#4a1079 210px,#4a1079 228px,#5a167e 310px,#54137d 311px,#471078 312px,#341069 313px,#221150 314px,#0b0924 316px,#050416 317px,#010108 319px,#000004 322px,#000004 331px)"></i>
<i style="background:linear-gradient(90deg,#010005 0,#010005 53px,#701f81 54px,#6a1c81 67px,#6e1e81 78px,#6e1e81 90px,#6a1c81 100px,#6e1e81 111px,#721f81 121px,#782281 126px,#792282 132px,#862781 140px,#9b2e7f 150px,#ae347b 174px,#ab337c 185px,#a3307e 202px,#a3307e 204px,#9c2e7f 205px,#651a80 209px,#5d177f 210px,#5d177f 228px,#701f81 309px,#6e1e81 310px,#681c81 311px,#59157e 312px,#451077 313px,#2f1163 314px,#1c1044 315px,#100b2d 316px,#07061c 317px,#03030f 318px,#010106 320px,#000004 324px,#000004 331px)"></i>
<i style="background:linear-gradient(90deg,#010005 0,#010005 53px,#862781 54px,#7e2482 68px,#882781 85px,#7e2482 101px,#882781 117px,#882781 122px,#892881 126px,#8c2981 134px,#9b2e7f 142px,#aa337d 149px,#ba3878 175px,#ad347c 202px,#ad347c 204px,#a8327d 205px,#762181 209px,#701f81 210px,#701f81 226px,#862781 310px,#7c2382 311px,#6b1d81 312px,#56147d 313px,#3b0f70 314px,#221150 315px,#130d34 316px,#090720 317px,#030312 318px,#020109 319px,#000004 323px,#000004 331px)"></i>
<i style="background:linear-gradient(90deg,#010106 0,#010106 53px,#9e2f7f 54px,#942c80 68px,#9e2f7f 81px,#9e2f7f 87px,#942c80 101px,#9e2f7f 114px,#9c2e7f 126px,#9c2e7f 134px,#b83779 148px,#c03a76 168px,#c43c75 177px,#b5367a 200px,#b5367a 204px,#a8327d 206px,#862781 209px,#802582 211px,#832681 230px,#962c80 282px,#9e2f7f 309px,#9c2e7f 310px,#932b80 311px,#7e2482 312px,#651a80 313px,#491078 314px,#2c115f 315px,#180f3d 316px,#0b0924 317px,#050416 318px,#02020b 319px,#010106 320px,#000004 329px,#000004 331px)"></i>
<i style="background:linear-gradient(90deg,#010106 0,#010106 53px,#b5367a 54px,#ab337c 66px,#b0357b 74px,#b73779 84px,#ae347b 94px,#ab337c 101px,#b73779 116px,#ad347c 131px,#b2357b 137px,#c83e73 149px,#ca3e72 166px,#cd4071 176px,#bf3a77 194px,#bc3978 204px,#b83779 205px,#942c80 209px,#8e2a81 210px,#902a81 226px,#aa337d 274px,#b5367a 310px,#aa337d 311px,#912b81 312px,#732081 313px,#54137d 314px,#341069 315px,#1c1044 316px,#0d0a29 317px,#060518 318px,#02020d 319px,#010005 321px,#000004 331px)"></i>
<i style="background:linear-gradient(90deg,#010106 0,#010106 53px,#ca3e72 54px,#bf3a77 67px,#c83e73 78px,#cc3f71 85px,#bf3a77 100px,#c83e73 111px,#cc3f71 117px,#bd3977 130px,#c43c75 138px,#d6456c 148px,#d6456c 157px,#d5446d 177px,#c53c74 192px,#c23b75 204px,#bf3a77 205px,#9e2f7f 209px,#992d80 210px,#992d80 222px,#a3307e 239px,#ba3878 267px,#ca3e72 309px,#c83e73 310px,#bd3977 311px,#a3307e 312px,#812581 313px,#5f187f 314px,#3d0f71 315px,#21114e 316px,#100b2d 317px,#06051a 318px,#02020d 319px,#010005 321px,#000004 331px)"></i>
<i style="background:linear-gradient(90deg,#010106 0,#010106 53px,#db476a 54px,#cf4070 66px,#d8456c 77px,#dc4869 84px,#cf4070 100px,#db476a 115px,#d8456c 121px,#cf4070 129px,#d2426f 137px,#e34e65 149px,#e04c67 159px,#dc4869 177px,#ca3e72 192px,#c73d73 204px,#bd3977 206px,#a6317d 209px,#a1307e 212px,#a3307e 224px,#ad347c 238px,#ca3e72 266px,#db476a 309px,#d9466b 310px,#cd4071 311px,#b2357b 312px,#8c2981 313px,#671b80 314px,#440f76 315px,#241253 316px,#120d31 317px,#07061c 318px,#03030f 319px,#010108 320px,#000004 323px,#000004 331px)"></i>
<i style="background:linear-gradient(90deg,#010108 0,#010108 53px,#e85362 54px,#de4968 66px,#e24d66 73px,#e95462 83px,#e34e65 92px,#de4968 101px,#e95462 117px,#de4968 132px,#e44f64 140px,#ed5a5f 148px,#ed5a5f 153px,#e85362 164px,#e44f64 175px,#cf4070 192px,#cc3f71 204px,#c23b75 206px,#ae347b 209px,#aa337d 212px,#ab337c 224px,#b83779 240px,#d6456c 264px,#e24d66 290px,#e75263 310px,#db476a 311px,#bf3a77 312px,#982d80 313px,#701f81 314px,#4a1079 315px,#29115a 316px,#140e36 317px,#08071e 318px,#03030f 319px,#010108 320px,#000004 323px,#000004 331px)"></i>
<i style="background:linear-gradient(90deg,#010108 0,#010108 53px,#f2625d 54px,#ea5661 64px,#ea5661 70px,#f2645c 82px,#f05f5e 89px,#e95462 100px,#ee5b5e 108px,#f2625d 115px,#f1605d 120px,#e95462 131px,#eb5760 137px,#f4675c 148px,#f2625d 156px,#ed5a5f 164px,#ea5661 176px,#d8456c 188px,#d0416f 201px,#d0416f 204px,#c23b75 207px,#b2357b 210px,#b3367a 224px,#bd3977 236px,#e04c67 262px,#e95462 277px,#f1605d 310px,#e75263 311px,#cc3f71 312px,#a3307e 313px,#782281 314px,#4f127b 315px,#2c115f 316px,#150e38 317px,#090720 318px,#030312 319px,#010005 321px,#000004 331px)"></i>
<i style="background:linear-gradient(90deg,#010108 0,#010108 53px,#f7725c 54px,#f2625d 65px,#f4675c 73px,#f8745c 81px,#f7725c 87px,#f2625d 98px,#f4675c 106px,#f8745c 115px,#f66c5c 123px,#f1605d 131px,#f2645c 137px,#f8765c 148px,#f7705c 154px,#f2645c 163px,#ee5b5e 176px,#dc4869 190px,#d6456c 202px,#d3436e 205px,#bc3978 210px,#bc3978 222px,#c53c74 235px,#e04c67 253px,#ee5b5e 267px,#f7705c 307px,#f7705c 310px,#f05f5e 311px,#d8456c 312px,#ad347c 313px,#802582 314px,#56147d 315px,#311165 316px,#180f3d 317px,#0a0822 318px,#030312 319px,#020109 320px,#000004 323px,#000004 331px)"></i>
<i style="background:linear-gradient(90deg,#010108 0,#010108 53px,#fb835f 54px,#f7725c 64px,#f8745c 71px,#fb835f 80px,#fb835f 87px,#f7725c 97px,#f8745c 104px,#fb835f 113px,#fb835f 119px,#f66e5c 131px,#f7705c 136px,#fb835f 148px,#f97b5d 155px,#f66c5c 164px,#f4675c 172px,#e55064 187px,#de4968 199px,#db476a 205px,#c83e73 209px,#c53c74 214px,#cc3f71 231px,#e75263 251px,#f4675c 265px,#f7705c 277px,#fb835f 309px,#fa815f 310px,#f66c5c 311px,#e24d66 312px,#b73779 313px,#862781 314px,#5a167e 315px,#341069 316px,#19103f 317px,#0b0924 318px,#040414 319px,#020109 320px,#000004 323px,#000004 331px)"></i>
<i style="background:linear-gradient(90deg,#010108 0,#010108 53px,#fd9266 54px,#fa815f 64px,#fa815f 69px,#fd9467 81px,#fd9266 87px,#fa815f 97px,#fa815f 103px,#fd9467 114px,#fd9266 119px,#f97b5d 131px,#fa7d5e 136px,#fc9065 148px,#fc8961 154px,#f9785d 164px,#f66e5c 174px,#e95462 188px,#e34e65 202px,#df4a68 206px,#d3436e 210px,#d3436e 222px,#df4a68 237px,#f05f5e 252px,#f8765c 265px,#fa7f5e 277px,#fd9266 309px,#fc9065 310px,#f97b5d 311px,#ea5661 312px,#c03a76 313px,#8e2a81 314px,#5f187f 315px,#38106c 316px,#1a1042 317px,#0b0924 318px,#040414 319px,#020109 320px,#000004 324px,#000004 331px)"></i>
<i style="background:linear-gradient(90deg,#010108 0,#010108 53px,#fea16e 54px,#fc8e64 65px,#fc9065 70px,#fea36f 81px,#fea16e 87px,#fc8e64 98px,#fc9065 103px,#fea36f 114px,#fea16e 119px,#fc8961 132px,#fc8a62 136px,#fe9d6c 148px,#fd9467 155px,#fa815f 165px,#f9795d 173px,#f56b5c 181px,#ee5b5e 188px,#e85362 201px,#e55064 206px,#de4968 211px,#e04c67 226px,#eb5760 239px,#f8745c 256px,#fb8560 266px,#fd9869 294px,#fea16e 309px,#fe9f6d 310px,#fc8a62 311px,#f1605d 312px,#c83e73 313px,#942c80 314px,#641a80 315px,#3b0f70 316px,#1c1044 317px,#0c0926 318px,#050416 319px,#02020b 320px,#010106 321px,#000004 330px,#000004 331px)"></i>
<i style="background:linear-gradient(90deg,#020109 0,#020109 53px,#feae77 54px,#fd9b6b 65px,#fe9d6c 70px,#feb078 81px,#feb078 86px,#fd9b6b 98px,#fe9d6c 103px,#feb078 114px,#feae77 120px,#fd9869 130px,#fd9869 136px,#fea973 147px,#fea772 151px,#fc8c63 165px,#fa815f 175px,#f2625d 189px,#ed5a5f 201px,#eb5760 207px,#e85362 210px,#e85362 221px,#ef5d5e 235px,#f97b5d 253px,#fd9266 266px,#fea973 300px,#feae77 309px,#feac76 310px,#fd9668 311px,#f56b5c 312px,#d0416f 313px,#9b2e7f 314px,#681c81 315px,#3f0f72 316px,#1e1149 317px,#0d0a29 318px,#050416 319px,#02020b 320px,#010106 321px,#000004 330px,#000004 331px)"></i>
<i style="background:linear-gradient(90deg,#020109 0,#020109 53px,#febb81 54px,#fea772 66px,#feac76 72px,#febd82 81px,#febb81 87px,#fea772 99px,#feac76 105px,#febd82 115px,#febb81 119px,#fea36f 132px,#feaa74 140px,#feb67c 147px,#feb47b 151px,#fd9869 164px,#fc8c63 174px,#fa815f 180px,#f56b5c 189px,#f2625d 201px,#f05f5e 208px,#ef5d5e 220px,#f3655c 232px,#f9785d 244px,#fd9a6a 263px,#fea571 275px,#febb81 309px,#feb97f 310px,#fea36f 311px,#f8745c 312px,#d8456c 313px,#a02f7f 314px,#6d1d81 315px,#400f74 316px,#20114b 317px,#0d0a29 318px,#050416 319px,#02020b 320px,#010106 321px,#000004 330px,#000004 331px)"></i>
<i style="background:linear-gradient(90deg,#020109 0,#020109 53px,#fec68a 54px,#feb27a 66px,#feb77e 72px,#fec88c 81px,#fec68a 87px,#feb27a 99px,#feb77e 105px,#fec88c 114px,#fec68a 119px,#feb97f 126px,#feae77 132px,#feb27a 138px,#fec185 147px,#febf84 151px,#fea571 162px,#fd9869 174px,#fa815f 184px,#f66e5c 194px,#f56b5c 205px,#f4675c 216px,#f66e5c 229px,#fa7f5e 241px,#fea571 263px,#feb27a 278px,#fec68a 309px,#fec488 310px,#feae77 311px,#fa7d5e 312px,#de4968 313px,#a5317e 314px,#701f81 315px,#440f76 316px,#21114e 317px,#0e0b2b 318px,#060518 319px,#02020b 320px,#010106 321px,#000004 330px,#000004 331px)"></i>
<i style="background:linear-gradient(90deg,#020109 0,#020109 53px,#fed194 54px,#febb81 66px,#fec287 73px,#fed395 82px,#fecf92 88px,#febd82 98px,#febd82 102px,#fed395 115px,#fecd90 121px,#feb77e 133px,#febf84 139px,#fecc8f 147px,#fec88c 151px,#febb81 157px,#fea973 167px,#fe9f6d 176px,#fa815f 188px,#f9785d 195px,#f8745c 203px,#f8745c 221px,#fa815f 235px,#fe9f6d 253px,#feb47b 267px,#fecd90 305px,#fecf92 310px,#feb77e 311px,#fb8761 312px,#e34e65 313px,#aa337d 314px,#732081 315px,#451077 316px,#21114e 317px,#0e0b2b 318px,#060518 319px,#02020b 320px,#010106 321px,#000004 330px,#000004 331px)"></i>
<i style="background:linear-gradient(90deg,#020109 0,#020109 53px,#fdda9c 54px,#fec488 66px,#feca8d 72px,#fddc9e 82px,#fed89a 88px,#fec488 99px,#feca8d 105px,#fddc9e 115px,#fed799 121px,#fec287 130px,#fec287 137px,#fed597 147px,#fed194 151px,#feb67c 163px,#fea973 176px,#fb8761 190px,#fa7f5e 199px,#fa7f5e 222px,#fc8e64 237px,#feb77e 263px,#fec88c 283px,#fed89a 310px,#febf84 311px,#fc8e64 312px,#e75263 313px,#ae347b 314px,#762181 315px,#471078 316px,#221150 317px,#100b2d 318px,#060518 319px,#02020b 320px,#010106 321px,#000004 330px,#000004 331px)"></i>
<i style="background:linear-gradient(90deg,#020109 0,#020109 53px,#fde2a3 54px,#fecc8f 66px,#fed194 72px,#fde0a1 78px,#fde3a5 84px,#fde0a1 88px,#fecc8f 99px,#fed194 105px,#fde3a5 115px,#fde2a3 119px,#fed194 127px,#fec88c 132px,#feca8d 136px,#fddc9e 147px,#fed89a 152px,#febf84 162px,#feb078 176px,#fd9266 189px,#fc8961 200px,#fc8961 222px,#fd9668 235px,#fec185 264px,#fed89a 296px,#fde2a3 309px,#fde0a1 310px,#fec88c 311px,#fd9668 312px,#ea5661 313px,#b2357b 314px,#782281 315px,#4a1079 316px,#241253 317px,#100b2d 318px,#060518 319px,#02020b 320px,#010106 321px,#000004 330px,#000004 331px)"></i>
<i style="background:linear-gradient(90deg,#020109 0,#020109 53px,#fde9aa 54px,#fed799 62px,#fed395 68px,#fde9aa 80px,#fde9aa 87px,#fed395 99px,#fed597 103px,#fdebac 115px,#fde5a7 121px,#fecf92 131px,#fed194 137px,#fde3a5 147px,#fde0a1 151px,#fecf92 158px,#febf84 167px,#feb67c 177px,#fd9a6a 190px,#fd9266 199px,#fd9266 222px,#fea16e 237px,#fec68a 263px,#fddea0 294px,#fde7a9 310px,#fecd90 311px,#fd9b6b 312px,#ed5a5f 313px,#b5367a 314px,#7b2382 315px,#4a1079 316px,#241253 317px,#110c2f 318px,#060518 319px,#010106 321px,#000004 330px,#000004 331px)"></i>
<i style="background:linear-gradient(90deg,#020109 0,#020109 53px,#fceeb0 54px,#fdda9c 63px,#fdda9c 70px,#fcf0b2 82px,#fceeb0 87px,#fed89a 98px,#fdda9c 103px,#fcf0b2 115px,#fceeb0 119px,#fed597 131px,#fed799 137px,#fde9aa 147px,#fde5a7 151px,#fed597 158px,#fec488 167px,#febf84 175px,#feaa74 186px,#fe9f6d 192px,#fd9a6a 201px,#fd9a6a 222px,#fea772 235px,#fec88c 260px,#fdda9c 281px,#fceeb0 309px,#fcecae 310px,#fed395 311px,#fe9f6d 312px,#ef5d5e 313px,#b83779 314px,#7c2382 315px,#4c117a 316px,#251255 317px,#110c2f 318px,#06051a 319px,#02020d 320px,#010106 321px,#000004 330px,#000004 331px)"></i>
<i style="background:linear-gradient(90deg,#020109 0,#020109 53px,#fcf2b4 54px,#fddea0 65px,#fddea0 70px,#fcf4b6 80px,#fcf4b6 86px,#fddea0 98px,#fddea0 103px,#fcf4b6 113px,#fcf4b6 118px,#fde9aa 124px,#fdda9c 130px,#fdda9c 137px,#fcecae 147px,#fde9aa 152px,#fecf92 162px,#fec68a 172px,#febf84 179px,#fea571 193px,#fe9f6d 202px,#fea16e 223px,#feb47b 240px,#fed194 264px,#fcecae 301px,#fcf2b4 309px,#fcf0b2 310px,#fed799 311px,#fea36f 312px,#f1605d 313px,#ba3878 314px,#7e2482 315px,#4e117b 316px,#251255 317px,#110c2f 318px,#06051a 319px,#02020d 320px,#010106 321px,#000004 330px,#000004 331px)"></i>
<i style="background:linear-gradient(90deg,#020109 0,#020109 53px,#fcf6b8 54px,#fde0a1 65px,#fde3a5 71px,#fcf6b8 79px,#fcf9bb 84px,#fde0a1 99px,#fde2a3 103px,#fcf7b9 115px,#fcf6b8 119px,#fde7a9 126px,#fddc9e 132px,#fddea0 137px,#fcf0b2 147px,#fcecae 151px,#fddc9e 158px,#fed194 162px,#feca8d 172px,#fec287 179px,#feaa74 193px,#fea571 205px,#fea772 222px,#feb77e 239px,#fed194 261px,#fde9aa 291px,#fcf6b8 309px,#fcf4b6 310px,#fdda9c 311px,#fea772 312px,#f2625d 313px,#bc3978 314px,#802582 315px,#4e117b 316px,#271258 317px,#110c2f 318px,#06051a 319px,#02020d 320px,#010106 321px,#000004 330px,#000004 331px)"></i>
<i style="background:linear-gradient(90deg,#020109 0,#020109 53px,#fcf7b9 54px,#fde2a3 65px,#fde5a7 71px,#fcf9bb 80px,#fcf9bb 86px,#fde2a3 98px,#fde5a7 104px,#fcf7b9 112px,#fcfbbd 116px,#fcf6b8 121px,#fde0a1 130px,#fde0a1 137px,#fcf2b4 147px,#fceeb0 152px,#fed799 161px,#fecd90 167px,#feca8d 177px,#feb078 193px,#feaa74 202px,#feaa74 221px,#febb81 238px,#fed799 264px,#fcf7b9 309px,#fcf6b8 310px,#fddc9e 311px,#fea973 312px,#f2645c 313px,#bd3977 314px,#802582 315px,#4f127b 316px,#271258 317px,#110c2f 318px,#06051a 319px,#02020d 320px,#010106 321px,#000004 330px,#000004 331px)"></i>
<i style="background:linear-gradient(90deg,#020109 0,#020109 53px,#fcf9bb 54px,#fde3a5 64px,#fde3a5 69px,#fcfbbd 82px,#fcf7b9 88px,#fde3a5 97px,#fde3a5 102px,#fcfbbd 115px,#fcf9bb 119px,#fcecae 125px,#fddea0 133px,#fde2a3 137px,#fcf4b6 148px,#fde7a9 155px,#fed597 162px,#fecd90 170px,#fecc8f 177px,#feb47b 193px,#feae77 202px,#feae77 221px,#feca8d 249px,#fdebac 289px,#fcf7b9 310px,#fddea0 311px,#fea973 312px,#f2645c 313px,#bd3977 314px,#802582 315px,#4f127b 316px,#271258 317px,#110c2f 318px,#06051a 319px,#02020d 320px,#010106 321px,#000004 330px,#000004 331px)"></i>
<i style="background:linear-gradient(90deg,#020109 0,#020109 53px,#fcf7b9 54px,#fceeb0 59px,#fde2a3 66px,#fde5a7 71px,#fcfbbd 81px,#fcf9bb 87px,#fde3a5 97px,#fde3a5 102px,#fcf0b2 109px,#fcfbbd 115px,#fcf6b8 121px,#fde0a1 130px,#fde0a1 136px,#fcf4b6 148px,#fde7a9 155px,#fed597 162px,#fecd90 170px,#fecc8f 178px,#feb67c 194px,#feb078 207px,#feb27a 222px,#fed597 261px,#fcf4b6 303px,#fcf7b9 309px,#fcf6b8 310px,#fddc9e 311px,#fea973 312px,#f2645c 313px,#bd3977 314px,#802582 315px,#4f127b 316px,#271258 317px,#110c2f 318px,#06051a 319px,#02020d 320px,#010106 321px,#000004 330px,#000004 331px)"></i>
<i style="background:linear-gradient(90deg,#020109 0,#020109 53px,#fcf7b9 54px,#fde2a3 64px,#fde3a5 70px,#fcf9bb 82px,#fcf6b8 88px,#fde3a5 96px,#fde3a5 103px,#fcf9bb 115px,#fcf7b9 119px,#fdebac 125px,#fddc9e 133px,#fde3a5 139px,#fcf2b4 148px,#fde3a5 156px,#fed395 162px,#fecd90 168px,#fecc8f 178px,#feb77e 194px,#feb27a 206px,#feb47b 222px,#fecf92 254px,#fde3a5 282px,#fcf6b8 309px,#fcf6b8 310px,#fddc9e 311px,#fea772 312px,#f2625d 313px,#bc3978 314px,#802582 315px,#4e117b 316px,#271258 317px,#110c2f 318px,#06051a 319px,#02020d 320px,#010106 321px,#000004 330px,#000004 331px)"></i>
<i style="background:linear-gradient(90deg,#020109 0,#020109 53px,#fcf4b6 54px,#fddea0 65px,#fde2a3 71px,#fcf6b8 80px,#fcf6b8 86px,#fde0a1 97px,#fde0a1 103px,#fcf6b8 113px,#fcf6b8 118px,#fdebac 124px,#fddc9e 130px,#fddc9e 137px,#fceeb0 147px,#fdebac 152px,#fed194 162px,#fecc8f 166px,#feca8d 179px,#feb47b 199px,#feb47b 221px,#fecd90 253px,#fddc9e 276px,#fcf4b6 309px,#fcf2b4 310px,#fed89a 311px,#fea571 312px,#f1605d 313px,#ba3878 314px,#7e2482 315px,#4e117b 316px,#251255 317px,#110c2f 318px,#06051a 319px,#02020d 320px,#010106 321px,#000004 330px,#000004 331px)"></i>
<i style="background:linear-gradient(90deg,#020109 0,#020109 53px,#fcf0b2 54px,#fdda9c 65px,#fddea0 71px,#fcf0b2 79px,#fcf4b6 84px,#fdda9c 99px,#fde0a1 105px,#fcf0b2 112px,#fcf0b2 119px,#fde0a1 127px,#fed799 132px,#fdda9c 138px,#fdebac 147px,#fde7a9 152px,#fecd90 162px,#fec88c 168px,#fec68a 181px,#feb47b 199px,#feb47b 222px,#fec488 242px,#fed89a 276px,#fcf0b2 309px,#fceeb0 310px,#fed597 311px,#fea16e 312px,#f05f5e 313px,#b83779 314px,#7c2382 315px,#4e117b 316px,#251255 317px,#110c2f 318px,#06051a 319px,#02020d 320px,#010106 321px,#000004 330px,#000004 331px)"></i>
<i style="background:linear-gradient(90deg,#020109 0,#020109 53px,#fdebac 54px,#fed597 66px,#fddc9e 72px,#fceeb0 82px,#fcecae 86px,#fed799 98px,#fed799 102px,#fde3a5 109px,#fceeb0 115px,#fde9aa 121px,#fed395 131px,#fed395 136px,#fde5a7 147px,#fde3a5 151px,#fec68a 163px,#fec287 169px,#fec287 183px,#feb27a 199px,#feb27a 221px,#fec185 240px,#feca8d 260px,#fed799 280px,#fdebac 309px,#fde9aa 310px,#fed194 311px,#fe9d6c 312px,#ee5b5e 313px,#b73779 314px,#7b2382 315px,#4c117a 316px,#251255 317px,#110c2f 318px,#06051a 319px,#02020d 320px,#010106 321px,#000004 330px,#000004 331px)"></i>
<i style="background:linear-gradient(90deg,#020109 0,#020109 53px,#fde5a7 54px,#fecf92 66px,#fed597 72px,#fde7a9 82px,#fde5a7 87px,#fecf92 99px,#fed597 105px,#fde7a9 115px,#fde5a7 119px,#fed597 127px,#fecc8f 132px,#fecf92 138px,#fde0a1 147px,#fddc9e 151px,#fecf92 157px,#fec185 163px,#febd82 169px,#fec185 179px,#feb078 200px,#feb078 222px,#feb97f 233px,#fec287 253px,#feca8d 271px,#fde5a7 309px,#fde3a5 310px,#feca8d 311px,#fd9869 312px,#ec5860 313px,#b3367a 314px,#792282 315px,#4a1079 316px,#241253 317px,#100b2d 318px,#060518 319px,#02020b 320px,#010106 321px,#000004 330px,#000004 331px)"></i>
<i style="background:linear-gradient(90deg,#020109 0,#020109 53px,#fddea0 54px,#fec88c 66px,#fecd90 72px,#fde0a1 82px,#fddea0 87px,#fec88c 99px,#fecd90 105px,#fde0a1 115px,#fddea0 119px,#fecd90 127px,#fec488 132px,#fec68a 136px,#fed89a 147px,#fed597 152px,#feb97f 163px,#feb67c 169px,#febb81 178px,#feb77e 187px,#feac76 200px,#feac76 221px,#feb97f 240px,#febf84 262px,#fec88c 278px,#fddea0 309px,#fddc9e 310px,#fec488 311px,#fd9266 312px,#e95462 313px,#b0357b 314px,#782281 315px,#491078 316px,#241253 317px,#100b2d 318px,#060518 319px,#02020b 320px,#010106 321px,#000004 330px,#000004 331px)"></i>
<i style="background:linear-gradient(90deg,#020109 0,#020109 53px,#fed597 54px,#fec185 65px,#fec287 70px,#fed799 81px,#fed799 86px,#fec185 98px,#fec287 103px,#fed799 114px,#fed597 120px,#febd82 131px,#febf84 137px,#fecf92 147px,#fecd90 151px,#feb078 164px,#feb078 172px,#feb67c 181px,#fea973 198px,#fea973 222px,#feb27a 235px,#feb77e 257px,#febb81 272px,#fecc8f 295px,#fed597 309px,#fed395 310px,#febb81 311px,#fc8a62 312px,#e55064 313px,#ad347c 314px,#752181 315px,#471078 316px,#221150 317px,#100b2d 318px,#060518 319px,#02020b 320px,#010106 321px,#000004 330px,#000004 331px)"></i>
<i style="background:linear-gradient(90deg,#020109 0,#020109 53px,#fecc8f 54px,#feb77e 65px,#feb97f 70px,#fecd90 81px,#fecc8f 87px,#feb77e 98px,#feb97f 103px,#fecd90 115px,#fecc8f 119px,#feb47b 132px,#feb67c 137px,#fec68a 147px,#fec185 153px,#fea973 163px,#fea571 168px,#feae77 179px,#feaa74 190px,#fea16e 201px,#fea36f 222px,#feae77 240px,#feb078 269px,#fec68a 301px,#fecc8f 309px,#feca8d 310px,#feb27a 311px,#fb835f 312px,#e04c67 313px,#a8327d 314px,#721f81 315px,#440f76 316px,#21114e 317px,#0e0b2b 318px,#060518 319px,#02020b 320px,#010106 321px,#000004 330px,#000004 331px)"></i>
<i style="background:linear-gradient(90deg,#020109 0,#020109 53px,#fec185 54px,#feac76 66px,#feb27a 72px,#fec287 81px,#fec185 87px,#feac76 99px,#feb27a 105px,#fec287 114px,#fec185 119px,#feb47b 126px,#fea973 132px,#feaa74 136px,#febb81 147px,#feb97f 151px,#feac76 157px,#fd9b6b 166px,#fe9f6d 173px,#fea772 181px,#fea16e 193px,#fd9b6b 200px,#fd9b6b 221px,#fea571 234px,#fea772 270px,#fec185 309px,#febf84 310px,#fea973 311px,#f9795d 312px,#db476a 313px,#a3307e 314px,#6e1e81 315px,#420f75 316px,#20114b 317px,#0e0b2b 318px,#050416 319px,#02020b 320px,#010106 321px,#000004 330px,#000004 331px)"></i>
<i style="background:linear-gradient(90deg,#020109 0,#020109 53px,#feb67c 54px,#fea16e 65px,#fea571 71px,#feb77e 82px,#feb47b 88px,#fea16e 98px,#fea571 104px,#feb77e 115px,#feb27a 121px,#fe9d6c 132px,#fea16e 138px,#feb078 147px,#feaa74 153px,#fd9266 164px,#fd9266 170px,#fe9d6c 182px,#fd9b6b 191px,#fd9467 200px,#fd9467 221px,#fe9d6c 236px,#fd9b6b 261px,#fd9b6b 270px,#feb47b 309px,#feb47b 310px,#fe9d6c 311px,#f7705c 312px,#d5446d 313px,#9c2e7f 314px,#6a1c81 315px,#3f0f72 316px,#1e1149 317px,#0d0a29 318px,#050416 319px,#02020b 320px,#010106 321px,#000004 330px,#000004 331px)"></i>
<i style="background:linear-gradient(90deg,#020109 0,#020109 53px,#fea772 54px,#fd9467 66px,#fd9b6b 73px,#feaa74 82px,#fea772 88px,#fd9668 98px,#fd9668 103px,#feaa74 115px,#fea571 121px,#fd9266 131px,#fd9467 137px,#fea36f 147px,#fe9d6c 153px,#fc8961 162px,#fb8560 168px,#fd9266 180px,#fd9266 192px,#fc8a62 201px,#fc8c63 223px,#fd9467 235px,#fd9266 253px,#fc8e64 267px,#fea772 309px,#fea772 310px,#fc9065 311px,#f3655c 312px,#cd4071 313px,#982d80 314px,#671b80 315px,#3d0f71 316px,#1d1147 317px,#0c0926 318px,#050416 319px,#02020b 320px,#010106 321px,#000004 330px,#000004 331px)"></i>
<i style="background:linear-gradient(90deg,#010108 0,#010108 53px,#fd9a6a 54px,#fc8961 64px,#fc8961 70px,#fd9b6b 81px,#fd9a6a 87px,#fc8961 97px,#fc8961 103px,#fd9b6b 114px,#fd9a6a 119px,#fb8560 131px,#fb8560 136px,#fd9467 146px,#fd9467 150px,#fb8560 158px,#f9795d 164px,#f9795d 170px,#fb8761 180px,#fb8761 194px,#fa815f 201px,#fb835f 223px,#fc8a62 235px,#fc8961 248px,#fa815f 266px,#fb8761 278px,#fd9a6a 309px,#fd9869 310px,#fb835f 311px,#ed5a5f 312px,#c53c74 313px,#912b81 314px,#621980 315px,#390f6e 316px,#1c1044 317px,#0c0926 318px,#040414 319px,#020109 320px,#000004 324px,#000004 331px)"></i>
<i style="background:linear-gradient(90deg,#010108 0,#010108 53px,#fc8a62 54px,#f9795d 64px,#f97b5d 71px,#fc8c63 81px,#fc8a62 87px,#f9795d 97px,#f97b5d 104px,#fc8c63 114px,#fc8a62 119px,#f8765c 131px,#f9785d 137px,#fb8560 146px,#fb8560 150px,#f56b5c 165px,#f66c5c 170px,#f97b5d 181px,#fa7f5e 189px,#f9785d 201px,#f9785d 222px,#fa7f5e 234px,#fa7d5e 246px,#f8745c 263px,#f8765c 274px,#fc8a62 309px,#fc8961 310px,#f8745c 311px,#e75263 312px,#bc3978 313px,#8b2981 314px,#5d177f 315px,#36106b 316px,#1a1042 317px,#0b0924 318px,#040414 319px,#020109 320px,#000004 323px,#000004 331px)"></i>
<i style="background:linear-gradient(90deg,#010108 0,#010108 53px,#f9795d 54px,#f56b5c 64px,#f56b5c 70px,#f97b5d 81px,#f97b5d 86px,#f56b5c 97px,#f56b5c 103px,#f97b5d 114px,#f9795d 120px,#f4675c 131px,#f4695c 138px,#f8765c 147px,#f8745c 151px,#ef5d5e 165px,#f1605d 171px,#f7705c 183px,#f7705c 193px,#f56b5c 200px,#f56b5c 221px,#f7725c 233px,#f66e5c 248px,#f3655c 264px,#f4675c 275px,#f9795d 309px,#f9785d 310px,#f3655c 311px,#de4968 312px,#b2357b 313px,#832681 314px,#59157e 315px,#331067 316px,#180f3d 317px,#0a0822 318px,#040414 319px,#020109 320px,#000004 323px,#000004 331px)"></i>
<i style="background:linear-gradient(90deg,#010108 0,#010108 53px,#f4695c 54px,#ee5b5e 65px,#f05f5e 72px,#f56b5c 81px,#f4695c 88px,#ee5b5e 97px,#f05f5e 105px,#f56b5c 115px,#f4675c 121px,#ed5a5f 130px,#ed5a5f 137px,#f3655c 147px,#f2645c 151px,#e75263 164px,#e95462 172px,#f1605d 184px,#f1605d 194px,#ef5d5e 201px,#ef5d5e 223px,#f2625d 234px,#f05f5e 249px,#eb5760 267px,#f4695c 309px,#f4675c 310px,#ec5860 311px,#d2426f 312px,#a8327d 313px,#7b2382 314px,#52137c 315px,#2d1161 316px,#160f3b 317px,#090720 318px,#030312 319px,#020109 320px,#000004 323px,#000004 331px)"></i>
<i style="background:linear-gradient(90deg,#010108 0,#010108 53px,#ed5a5f 54px,#e44f64 65px,#e85362 74px,#ee5b5e 83px,#e85362 93px,#e44f64 101px,#ee5b5e 117px,#e24d66 133px,#e95462 144px,#eb5760 149px,#db476a 165px,#de4968 172px,#e75263 184px,#e55064 195px,#e34e65 214px,#e85362 240px,#e04c67 269px,#ec5860 310px,#e24d66 311px,#c53c74 312px,#9e2f7f 313px,#732081 314px,#4e117b 315px,#2a115c 316px,#140e36 317px,#090720 318px,#030312 319px,#010005 321px,#000004 331px)"></i>
<i style="background:linear-gradient(90deg,#010106 0,#010106 53px,#e24d66 54px,#d6456c 67px,#e34e65 84px,#d6456c 100px,#e34e65 117px,#d5446d 132px,#d8456c 139px,#df4a68 149px,#d2426f 160px,#cd4071 168px,#d8456c 185px,#d3436e 206px,#d3436e 222px,#d8456c 236px,#d3436e 271px,#e24d66 309px,#e04c67 310px,#d3436e 311px,#b83779 312px,#932b80 313px,#6b1d81 314px,#471078 315px,#251255 316px,#130d34 317px,#08071e 318px,#03030f 319px,#010108 320px,#000004 323px,#000004 331px)"></i>
<i style="background:linear-gradient(90deg,#010106 0,#010106 53px,#d2426f 54px,#c73d73 67px,#d3436e 82px,#d0416f 90px,#c73d73 99px,#d2426f 112px,#d2426f 120px,#c53c74 132px,#c83e73 139px,#d0416f 149px,#bd3977 166px,#c43c75 183px,#c23b75 194px,#bf3a77 204px,#c03a76 225px,#c53c74 240px,#c53c74 274px,#d2426f 310px,#c53c74 311px,#aa337d 312px,#882781 313px,#641a80 314px,#400f74 315px,#221150 316px,#110c2f 317px,#07061c 318px,#03030f 319px,#010108 320px,#000004 323px,#000004 331px)"></i>
<i style="background:linear-gradient(90deg,#010106 0,#010106 53px,#c03a76 54px,#b5367a 67px,#bf3a77 78px,#c23b75 84px,#b5367a 100px,#c03a76 115px,#bd3977 123px,#b3367a 132px,#b73779 140px,#bd3977 148px,#b73779 156px,#ad347c 165px,#b0357b 185px,#aa337d 203px,#ab337c 225px,#b0357b 245px,#b2357b 270px,#bf3a77 310px,#b3367a 311px,#9b2e7f 312px,#7b2382 313px,#5a167e 314px,#390f6e 315px,#1e1149 316px,#0e0b2b 317px,#06051a 318px,#02020d 319px,#010005 321px,#000004 331px)"></i>
<i style="background:linear-gradient(90deg,#010106 0,#010106 53px,#aa337d 54px,#a02f7f 67px,#ab337c 83px,#a6317d 91px,#a02f7f 101px,#ab337c 116px,#a3307e 126px,#9e2f7f 135px,#a8327d 149px,#992d80 164px,#982d80 185px,#912b81 203px,#932b80 226px,#992d80 253px,#aa337d 310px,#9e2f7f 311px,#882781 312px,#6d1d81 313px,#4f127b 314px,#311165 315px,#1a1042 316px,#0c0926 317px,#050416 318px,#02020b 319px,#010106 320px,#000004 329px,#000004 331px)"></i>
<i style="background:linear-gradient(90deg,#010106 0,#010106 53px,#912b81 54px,#892881 68px,#932b80 83px,#8e2a81 92px,#892881 101px,#932b80 116px,#8c2981 126px,#882781 135px,#902a81 148px,#8c2981 154px,#832681 166px,#802582 184px,#792282 203px,#7b2382 228px,#912b81 310px,#882781 311px,#752181 312px,#5d177f 313px,#420f75 314px,#271258 315px,#150e38 316px,#0a0822 317px,#040414 318px,#010106 320px,#000004 329px,#000004 331px)"></i>
<i style="background:linear-gradient(90deg,#010005 0,#010005 53px,#7b2382 54px,#732081 68px,#7b2382 82px,#782281 92px,#732081 101px,#7b2382 115px,#782281 124px,#732081 132px,#752181 140px,#792282 149px,#6d1d81 168px,#6b1d81 183px,#651a80 203px,#671b80 228px,#7b2382 309px,#792282 310px,#721f81 311px,#621980 312px,#4e117b 313px,#341069 314px,#20114b 315px,#110c2f 316px,#08071e 317px,#030312 318px,#020109 319px,#000004 323px,#000004 331px)"></i>
<i style="background:linear-gradient(90deg,#010005 0,#010005 53px,#651a80 54px,#5f187f 68px,#671b80 85px,#5f187f 101px,#671b80 117px,#5f187f 133px,#641a80 151px,#5a167e 168px,#57157e 187px,#52137c 215px,#651a80 310px,#5f187f 311px,#51127c 312px,#3d0f71 313px,#29115a 314px,#0d0a29 316px,#06051a 317px,#010108 319px,#000004 322px,#000004 331px)"></i>
<i style="background:linear-gradient(90deg,#010005 0,#010005 53px,#59157e 54px,#54137d 70px,#5a167e 84px,#54137d 103px,#5a167e 117px,#52137c 134px,#59157e 149px,#4f127b 168px,#4c117a 189px,#491078 207px,#4a1079 231px,#59157e 310px,#52137c 311px,#451077 312px,#341069 313px,#221150 314px,#0b0924 316px,#050416 317px,#010108 319px,#000004 322px,#000004 331px)"></i>
<i style="background:linear-gradient(90deg,#010005 0,#010005 53px,#721f81 54px,#6b1d81 67px,#721f81 84px,#6d1d81 95px,#6d1d81 106px,#721f81 116px,#6d1d81 127px,#6a1c81 136px,#701f81 150px,#651a80 167px,#641a80 182px,#5d177f 205px,#5f187f 228px,#721f81 310px,#6a1c81 311px,#5a167e 312px,#471078 313px,#2f1163 314px,#1c1044 315px,#100b2d 316px,#07061c 317px,#03030f 318px,#010106 320px,#000004 324px,#000004 331px)"></i>
<i style="background:linear-gradient(90deg,#010005 0,#010005 53px,#832681 54px,#7c2382 67px,#802582 75px,#842681 85px,#7c2382 99px,#802582 108px,#842681 118px,#7b2382 133px,#812581 151px,#762181 165px,#721f81 186px,#6d1d81 203px,#6d1d81 224px,#832681 310px,#792282 311px,#6a1c81 312px,#52137c 313px,#390f6e 314px,#221150 315px,#130d34 316px,#090720 317px,#030312 318px,#020109 319px,#000004 323px,#000004 331px)"></i>
<i style="background:linear-gradient(90deg,#010005 0,#010005 53px,#7c2382 54px,#762181 68px,#7e2482 84px,#762181 101px,#7e2482 117px,#752181 134px,#7b2382 150px,#701f81 167px,#6e1e81 181px,#681c81 201px,#681c81 225px,#7c2382 309px,#7c2382 310px,#752181 311px,#651a80 312px,#4f127b 313px,#36106b 314px,#20114b 315px,#120d31 316px,#08071e 317px,#030312 318px,#020109 319px,#000004 323px,#000004 331px)"></i>
<i style="background:linear-gradient(90deg,#010005 0,#010005 53px,#6b1d81 54px,#671b80 68px,#6d1d81 85px,#651a80 100px,#6d1d81 117px,#651a80 134px,#6a1c81 151px,#601880 168px,#5d177f 186px,#59157e 206px,#5a167e 229px,#6b1d81 310px,#651a80 311px,#56147d 312px,#420f75 313px,#2c115f 314px,#1a1042 315px,#0e0b2b 316px,#06051a 317px,#03030f 318px,#010106 320px,#000004 324px,#000004 331px)"></i>
<i style="background:linear-gradient(90deg,#010005 0,#010005 53px,#5d177f 54px,#57157e 68px,#5d177f 84px,#57157e 102px,#5d177f 116px,#57157e 135px,#5c167f 150px,#52137c 167px,#4f127b 188px,#4c117a 206px,#4e117b 232px,#5d177f 309px,#5c167f 310px,#56147d 311px,#491078 312px,#38106c 313px,#241253 314px,#150e38 315px,#060518 317px,#02020d 318px,#010005 320px,#000004 331px)"></i>
<i style="background:linear-gradient(90deg,#010005 0,#010005 53px,#4f127b 54px,#4a1079 69px,#4f127b 84px,#4c117a 95px,#4c117a 107px,#4f127b 117px,#491078 134px,#4e117b 150px,#451077 171px,#420f75 192px,#3f0f72 219px,#4e117b 302px,#4f127b 310px,#491078 311px,#3d0f71 312px,#2d1161 313px,#1e1149 314px,#120d31 315px,#090720 316px,#040414 317px,#02020b 318px,#000004 321px,#000004 331px)"></i>
<i style="background:linear-gradient(90deg,#010005 0,#010005 53px,#440f76 54px,#3f0f72 67px,#440f76 87px,#3f0f72 100px,#440f76 119px,#3d0f71 136px,#420f75 150px,#3b0f70 166px,#341069 209px,#36106b 232px,#420f75 306px,#420f75 310px,#3d0f71 311px,#331067 312px,#19103f 314px,#0e0b2b 315px,#07061c 316px,#030312 317px,#010106 319px,#000004 328px,#000004 331px)"></i>
<i style="background:linear-gradient(90deg,#000004 0,#000004 53px,#38106c 54px,#341069 70px,#38106c 86px,#341069 104px,#38106c 117px,#331067 135px,#38106c 150px,#311165 167px,#2f1163 185px,#2c115f 201px,#2c115f 226px,#2d1161 235px,#36106b 296px,#38106c 310px,#331067 311px,#2a115c 312px,#150e38 314px,#0c0926 315px,#03030f 317px,#010106 319px,#000004 328px,#000004 331px)"></i>
<i style="background:linear-gradient(90deg,#000004 0,#000004 53px,#2f1163 54px,#2c115f 69px,#311165 84px,#2c115f 102px,#311165 117px,#2c115f 135px,#2f1163 149px,#2d1161 158px,#2a115c 166px,#2a115c 180px,#29115a 187px,#251255 207px,#251255 220px,#271258 226px,#271258 233px,#29115a 239px,#2a115c 258px,#2c115f 266px,#311165 310px,#2c115f 311px,#1c1044 313px,#120d31 314px,#060518 316px,#020109 318px,#000004 322px,#000004 331px)"></i>
<i style="background:linear-gradient(90deg,#000004 0,#000004 53px,#29115a 54px,#251255 69px,#2a115c 85px,#251255 102px,#2a115c 118px,#251255 135px,#2a115c 149px,#251255 165px,#251255 176px,#241253 181px,#241253 186px,#221150 191px,#221150 197px,#21114e 202px,#21114e 222px,#221150 227px,#221150 235px,#241253 240px,#241253 249px,#251255 254px,#251255 263px,#271258 269px,#271258 277px,#29115a 283px,#29115a 293px,#2a115c 300px,#2a115c 310px,#271258 311px,#180f3d 313px,#090720 315px,#02020d 317px,#010108 318px,#000004 323px,#000004 331px)"></i>
<i style="background:linear-gradient(90deg,#000004 0,#000004 53px,#241253 54px,#21114e 64px,#21114e 73px,#221150 78px,#241253 87px,#221150 92px,#21114e 103px,#241253 119px,#21114e 132px,#21114e 138px,#241253 148px,#241253 154px,#21114e 164px,#21114e 178px,#20114b 183px,#20114b 188px,#1e1149 193px,#1e1149 232px,#20114b 237px,#20114b 247px,#21114e 252px,#21114e 262px,#221150 267px,#221150 278px,#241253 283px,#241253 295px,#251255 300px,#251255 310px,#221150 311px,#1d1147 312px,#08071e 315px,#040414 316px,#010005 319px,#000004 331px)"></i>
<i style="background:linear-gradient(90deg,#000004 0,#000004 53px,#1e1149 54px,#1d1147 66px,#1c1044 67px,#1d1147 72px,#1e1149 91px,#1d1147 96px,#1c1044 100px,#1d1147 105px,#1e1149 125px,#1d1147 130px,#1d1147 138px,#20114b 148px,#20114b 155px,#1e1149 160px,#1d1147 176px,#1d1147 184px,#1c1044 189px,#1c1044 195px,#1a1042 200px,#1a1042 222px,#1c1044 227px,#1c1044 238px,#1d1147 243px,#1d1147 255px,#1e1149 260px,#1e1149 272px,#20114b 277px,#20114b 290px,#21114e 295px,#21114e 310px,#1e1149 311px,#030312 316px,#010005 319px,#000004 331px)"></i>
<i style="background:linear-gradient(90deg,#000004 0,#000004 53px,#1a1042 54px,#19103f 75px,#1a1042 81px,#1a1042 90px,#19103f 96px,#19103f 108px,#1a1042 114px,#1a1042 125px,#19103f 131px,#1a1042 142px,#1c1044 147px,#1c1044 158px,#1a1042 163px,#1a1042 181px,#19103f 187px,#19103f 194px,#180f3d 200px,#180f3d 224px,#19103f 230px,#19103f 241px,#1a1042 247px,#1a1042 260px,#1c1044 265px,#1c1044 279px,#1d1147 284px,#1d1147 299px,#1e1149 304px,#1e1149 310px,#1c1044 311px,#030312 316px,#010005 319px,#000004 331px)"></i>
<i style="background:linear-gradient(90deg,#000004 0,#000004 53px,#160f3b 54px,#150e38 74px,#160f3b 80px,#160f3b 92px,#150e38 98px,#150e38 107px,#160f3b 113px,#160f3b 139px,#19103f 149px,#19103f 157px,#180f3d 163px,#180f3d 182px,#160f3b 188px,#160f3b 196px,#150e38 202px,#150e38 221px,#160f3b 227px,#160f3b 240px,#180f3d 246px,#180f3d 260px,#19103f 266px,#19103f 280px,#1a1042 286px,#1a1042 303px,#1c1044 308px,#1c1044 310px,#19103f 311px,#03030f 316px,#010106 318px,#000004 327px,#000004 331px)"></i>
<i style="background:linear-gradient(90deg,#000004 0,#000004 53px,#140e36 54px,#120d31 69px,#130d34 77px,#140e36 88px,#130d34 95px,#120d31 102px,#130d34 110px,#140e36 125px,#130d34 132px,#160f3b 151px,#160f3b 157px,#150e38 163px,#150e38 185px,#140e36 192px,#140e36 234px,#150e38 241px,#150e38 255px,#160f3b 261px,#160f3b 278px,#180f3d 284px,#180f3d 302px,#19103f 308px,#19103f 310px,#130d34 312px,#050416 315px,#010106 318px,#000004 327px,#000004 331px)"></i>
<i style="background:linear-gradient(90deg,#000004 0,#000004 53px,#110c2f 54px,#100b2d 72px,#110c2f 81px,#110c2f 94px,#100b2d 103px,#120d31 122px,#110c2f 130px,#130d34 145px,#140e36 152px,#140e36 159px,#130d34 166px,#130d34 192px,#120d31 200px,#120d31 224px,#130d34 232px,#130d34 246px,#140e36 253px,#140e36 271px,#150e38 278px,#150e38 296px,#160f3b 302px,#160f3b 310px,#110c2f 312px,#02020d 316px,#010005 319px,#000004 331px)"></i>
<i style="background:linear-gradient(90deg,#000004 0,#000004 53px,#0e0b2b 54px,#0d0a29 72px,#0e0b2b 83px,#0e0b2b 94px,#0d0a29 105px,#0e0b2b 116px,#100b2d 120px,#0e0b2b 130px,#120d31 152px,#120d31 182px,#110c2f 190px,#110c2f 236px,#120d31 244px,#120d31 262px,#130d34 270px,#130d34 289px,#140e36 296px,#140e36 310px,#130d34 311px,#02020d 316px,#010108 317px,#000004 322px,#000004 331px)"></i>
<i style="background:linear-gradient(90deg,#000004 0,#000004 53px,#0c0926 54px,#0b0924 70px,#0c0926 84px,#0b0924 103px,#0d0a29 124px,#0c0926 130px,#100b2d 151px,#100b2d 190px,#0e0b2b 200px,#0e0b2b 225px,#100b2d 235px,#100b2d 251px,#110c2f 260px,#110c2f 280px,#120d31 288px,#120d31 310px,#110c2f 311px,#02020b 316px,#000004 320px,#000004 331px)"></i>
<i style="background:linear-gradient(90deg,#000004 0,#000004 53px,#0b0924 54px,#0a0822 69px,#0b0924 87px,#0a0822 102px,#0b0924 136px,#0d0a29 149px,#0e0b2b 155px,#0d0a29 166px,#0e0b2b 178px,#0d0a29 189px,#0d0a29 239px,#0e0b2b 250px,#0e0b2b 270px,#100b2d 280px,#100b2d 304px,#110c2f 310px,#090720 313px,#02020b 316px,#000004 320px,#000004 331px)"></i>
<i style="background:linear-gradient(90deg,#000004 0,#000004 53px,#090720 54px,#08071e 73px,#090720 93px,#08071e 106px,#090720 126px,#0b0924 146px,#0c0926 160px,#0c0926 188px,#0b0924 202px,#0b0924 226px,#0c0926 240px,#0c0926 257px,#0d0a29 269px,#0d0a29 293px,#0e0b2b 304px,#0d0a29 311px,#02020b 316px,#000004 319px,#000004 331px)"></i>
<i style="background:linear-gradient(90deg,#000004 0,#000004 53px,#08071e 54px,#07061c 78px,#08071e 87px,#07061c 111px,#08071e 135px,#0a0822 152px,#0a0822 171px,#0b0924 176px,#0a0822 191px,#0a0822 240px,#0b0924 255px,#0b0924 277px,#0c0926 291px,#0c0926 310px,#090720 312px,#020109 316px,#000004 320px,#000004 331px)"></i>
<i style="background:linear-gradient(90deg,#000004 0,#000004 53px,#06051a 54px,#06051a 118px,#07061c 125px,#06051a 126px,#090720 156px,#090720 196px,#08071e 216px,#090720 254px,#0a0822 271px,#0a0822 296px,#0b0924 310px,#08071e 312px,#020109 316px,#000004 320px,#000004 331px)"></i>
<i style="background:linear-gradient(90deg,#000004 0,#000004 53px,#060518 54px,#050416 68px,#060518 98px,#050416 101px,#06051a 140px,#08071e 159px,#08071e 187px,#07061c 211px,#08071e 266px,#090720 286px,#090720 310px,#07061c 312px,#010108 316px,#000004 321px,#000004 331px)"></i>
<i style="background:linear-gradient(90deg,#000004 0,#000004 53px,#050416 54px,#040414 69px,#050416 97px,#040414 102px,#060518 141px,#07061c 183px,#06051a 213px,#07061c 275px,#08071e 299px,#07061c 311px,#06051a 312px,#010108 316px,#000004 321px,#000004 331px)"></i>
<i style="background:linear-gradient(90deg,#000004 0,#000004 53px,#040414 54px,#040414 132px,#060518 151px,#06051a 182px,#060518 218px,#06051a 280px,#07061c 310px,#03030f 314px,#010106 317px,#000004 326px,#000004 331px)"></i>
<i style="background:linear-gradient(90deg,#000004 0,#000004 53px,#030312 54px,#040414 141px,#060518 184px,#050416 227px,#060518 270px,#06051a 310px,#02020d 314px,#010005 317px,#000004 331px)"></i>
<i style="background:linear-gradient(90deg,#000004 0,#000004 53px,#03030f 54px,#030312 139px,#050416 170px,#040414 220px,#060518 310px,#010005 317px,#000004 331px)"></i>
<i style="background:linear-gradient(90deg,#000004 0,#000004 53px,#03030f 54px,#02020d 76px,#03030f 90px,#02020d 109px,#030312 148px,#040414 233px,#050416 310px,#02020b 314px,#000004 318px,#000004 331px)"></i>
<i style="background:linear-gradient(90deg,#000004 0,#000004 53px,#02020d 54px,#03030f 145px,#040414 311px,#010005 317px,#000004 331px)"></i>
<i style="background:linear-gradient(90deg,#000004 0,#000004 53px,#02020b 54px,#02020d 141px,#030312 182px,#03030f 227px,#040414 310px,#010005 317px,#000004 331px)"></i>
<i style="background:linear-gradient(90deg,#000004 0,#000004 53px,#02020b 54px,#02020d 149px,#030312 310px,#000004 318px,#000004 331px)"></i>
<i style="background:linear-gradient(90deg,#000004 0,#000004 53px,#020109 54px,#02020b 142px,#03030f 311px,#010005 316px,#000004 331px)"></i>
<i style="background:linear-gradient(90deg,#000004 0,#000004 53px,#020109 54px,#02020b 152px,#03030f 310px,#000004 318px,#000004 331px)"></i>
<i style="background:linear-gradient(90deg,#000004 0,#000004 53px,#010108 54px,#020109 142px,#02020d 311px,#000004 318px,#000004 331px)"></i>
<i style="background:linear-gradient(90deg,#000004 0,#000004 53px,#010108 54px,#020109 150px,#02020d 310px,#000004 318px,#000004 331px)"></i>
<i style="background:linear-gradient(90deg,#000004 0,#000004 53px,#010108 54px,#020109 165px,#020109 312px,#000004 319px,#000004 331px)"></i>
<i style="background:linear-gradient(90deg,#000004 0,#000004 53px,#010106 57px,#010108 144px,#02020b 311px,#000004 317px,#000004 331px)"></i>
<i style="background:linear-gradient(90deg,#000004 0,#000004 53px,#010106 57px,#010108 153px,#010108 313px,#000004 320px,#000004 331px)"></i>
<i style="background:linear-gradient(90deg,#000004 0,#000004 53px,#010106 57px,#010108 164px,#010108 313px,#000004 320px,#000004 331px)"></i>
<i style="background:linear-gradient(90deg,#000004 0,#000004 53px,#010106 57px,#020109 311px,#000004 319px,#000004 331px)"></i>
<i style="background:linear-gradient(90deg,#000004 0,#000004 53px,#010005 55px,#010108 311px,#000004 322px,#000004 331px)"></i>
<i style="background:linear-gradient(90deg,#000004 0,#010106 155px,#010106 313px,#000004 327px,#000004 331px)"></i>
<i style="background:linear-gradient(90deg,#000004 0,#010106 163px,#010106 313px,#000004 327px,#000004 331px)"></i>
<i style="background:linear-gradient(90deg,#000004 0,#010108 311px,#000004 320px,#000004 331px)"></i>
<i style="background:linear-gradient(90deg,#000004 0,#010106 313px,#000004 327px,#000004 331px)"></i>
<i style="height:2px;background:linear-gradient(90deg,#000004 0,#010005 315px,#000004 331px)"></i>
<i style="height:2px;background:linear-gradient(90deg,#000004 0,#010005 314px,#000004 331px)"></i>
<i style="background:linear-gradient(90deg,#000004 0,#010005 163px,#010005 314px,#000004 331px)"></i>
<i style="height:3px;background:linear-gradient(90deg,#000004 0,#010005 314px,#000004 331px)"></i>
<i style="height:29px;background:#000004"></i>
</div>
<div class="h" style="left:902px;top:325px;width:12px;height:213px;background:linear-gradient(180deg,#fcfdbf 0,#fcf7b9 3px,#fcf2b4 5px,#fcecae 8px,#fde7a9 10px,#fde2a3 13px,#fddc9e 15px,#fed799 18px,#fed194 20px,#fecc8f 23px,#fec68a 25px,#fec287 27px,#febd82 29px,#feb77e 32px,#feb27a 34px,#feac76 37px,#fea772 39px,#fea16e 42px,#fd9b6b 44px,#fd9668 47px,#fc9065 49px,#fc8c63 51px,#fb8761 53px,#fa815f 56px,#f97b5d 58px,#f8765c 61px,#f7705c 63px,#f56b5c 66px,#f3655c 68px,#f1605d 71px,#ee5b5e 73px,#e75263 79px,#de4968 85px,#d8456c 88px,#d5446d 90px,#cf4070 93px,#cc3f71 95px,#c73d73 97px,#c43c75 99px,#bf3a77 101px,#ba3878 104px,#b5367a 106px,#b0357b 109px,#ab337c 111px,#a6317d 114px,#a1307e 116px,#9c2e7f 119px,#982d80 121px,#942c80 123px,#902a81 125px,#8b2981 128px,#862781 130px,#812581 133px,#7c2382 135px,#782281 138px,#732081 140px,#6e1e81 143px,#6a1c81 145px,#671b80 147px,#621980 149px,#5d177f 152px,#59157e 154px,#54137d 157px,#4f127b 159px,#4a1079 162px,#451077 164px,#400f74 167px,#3b0f70 169px,#38106c 171px,#331067 173px,#2d1161 176px,#2a115c 177px,#241253 181px,#21114e 182px,#1c1044 186px,#19103f 187px,#140e36 191px,#120d31 192px,#0e0b2b 195px,#0c0926 196px,#08071e 200px,#06051a 201px,#030312 205px,#02020d 206px,#000004 211px,#000004 213px)"></div>
<svg width="981" height="590" viewBox="0 0 981 590" shape-rendering="crispEdges">
<rect x="59" y="32" width="3" height="213" opacity=".06"/><rect x="60" y="32" width="1" height="213"/><rect x="388" y="32" width="3" height="213" opacity=".06"/><rect x="389" y="32" width="1" height="213"/><rect x="60" y="31" width="330" height="3" opacity=".06"/><rect x="60" y="32" width="330" height="1"/><rect x="60" y="243" width="330" height="3" opacity=".06"/><rect x="60" y="244" width="330" height="1"/>
<rect x="110" y="245" width="3" height="5" opacity=".06"/><rect x="111" y="245" width="1" height="4"/><rect x="111" y="249" width="1" height="1" opacity=".5"/>
<text transform="matrix(1.1548 0 0 1.0164 102.37 265.00)">−2</text>
<rect x="167" y="245" width="3" height="5" opacity=".06"/><rect x="168" y="245" width="1" height="4"/><rect x="168" y="249" width="1" height="1" opacity=".5"/>
<text transform="matrix(1.1664 0 0 1.0252 158.37 265.00)">−1</text>
<rect x="223" y="245" width="3" height="5" opacity=".06"/><rect x="224" y="245" width="1" height="4"/><rect x="224" y="249" width="1" height="1" opacity=".5"/>
<text transform="matrix(1.0476 0 0 0.9959 221.35 264.82)">0</text>
<rect x="280" y="245" width="3" height="5" opacity=".06"/><rect x="281" y="245" width="1" height="4"/><rect x="281" y="249" width="1" height="1" opacity=".5"/>
<text transform="matrix(0.9821 0 0 1.0835 277.63 265.00)">1</text>
<rect x="336" y="245" width="3" height="5" opacity=".06"/><rect x="337" y="245" width="1" height="4"/><rect x="337" y="249" width="1" height="1" opacity=".5"/>
<text transform="matrix(1.0019 0 0 1.0135 333.26 265.00)">2</text>
<rect x="55" y="240" width="5" height="3" opacity=".06"/><rect x="56" y="241" width="4" height="1"/><rect x="55" y="241" width="1" height="1" opacity=".5"/>
<text transform="matrix(1.1720 0 0 0.9937 30.33 246.79)">−3</text>
<rect x="55" y="206" width="5" height="3" opacity=".06"/><rect x="56" y="207" width="4" height="1"/><rect x="55" y="207" width="1" height="1" opacity=".5"/>
<text transform="matrix(1.1548 0 0 1.0164 30.37 212.00)">−2</text>
<rect x="55" y="172" width="5" height="3" opacity=".06"/><rect x="56" y="173" width="4" height="1"/><rect x="55" y="173" width="1" height="1" opacity=".5"/>
<text transform="matrix(1.1664 0 0 1.0252 30.37 178.00)">−1</text>
<rect x="55" y="137" width="5" height="3" opacity=".06"/><rect x="56" y="138" width="4" height="1"/><rect x="55" y="138" width="1" height="1" opacity=".5"/>
<text transform="matrix(1.0476 0 0 0.9959 42.35 143.82)">0</text>
<rect x="55" y="103" width="5" height="3" opacity=".06"/><rect x="56" y="104" width="4" height="1"/><rect x="55" y="104" width="1" height="1" opacity=".5"/>
<text transform="matrix(0.9821 0 0 1.0835 42.63 109.00)">1</text>
<rect x="55" y="69" width="5" height="3" opacity=".06"/><rect x="56" y="70" width="4" height="1"/><rect x="55" y="70" width="1" height="1" opacity=".5"/>
<text transform="matrix(1.0019 0 0 1.0135 41.26 75.00)">2</text>
<rect x="55" y="34" width="5" height="3" opacity=".06"/><rect x="56" y="35" width="4" height="1"/><rect x="55" y="35" width="1" height="1" opacity=".5"/>
<text transform="matrix(0.9915 0 0 0.9891 41.59 40.86)">3</text>
<rect x="409" y="32" width="3" height="213" opacity=".06"/><rect x="410" y="32" width="1" height="213"/><rect x="419" y="32" width="3" height="213" opacity=".06"/><rect x="420" y="32" width="1" height="213"/><rect x="410" y="31" width="11" height="3" opacity=".06"/><rect x="410" y="32" width="11" height="1"/><rect x="410" y="243" width="11" height="3" opacity=".06"/><rect x="410" y="244" width="11" height="1"/>
<rect x="421" y="223" width="5" height="3" opacity=".06"/><rect x="421" y="224" width="4" height="1"/><rect x="425" y="224" width="1" height="1" opacity=".5"/>
<text transform="matrix(1.1590 0 0 0.9975 430.38 228.86)">−20</text>
<rect x="421" y="180" width="5" height="3" opacity=".06"/><rect x="421" y="181" width="4" height="1"/><rect x="425" y="181" width="1" height="1" opacity=".5"/>
<text transform="matrix(1.1614 0 0 0.9817 430.34 185.86)">−10</text>
<rect x="421" y="137" width="5" height="3" opacity=".06"/><rect x="421" y="138" width="4" height="1"/><rect x="425" y="138" width="1" height="1" opacity=".5"/>
<text transform="matrix(1.0476 0 0 0.9959 431.35 143.82)">0</text>
<rect x="421" y="95" width="5" height="3" opacity=".06"/><rect x="421" y="96" width="4" height="1"/><rect x="425" y="96" width="1" height="1" opacity=".5"/>
<text transform="matrix(0.9956 0 0 1.0156 430.69 100.86)">10</text>
<rect x="421" y="52" width="5" height="3" opacity=".06"/><rect x="421" y="53" width="4" height="1"/><rect x="425" y="53" width="1" height="1" opacity=".5"/>
<text transform="matrix(1.0952 0 0 0.9872 430.13 57.86)">20</text>
<g class="t"><text transform="matrix(1.1133 0 0 1.1325 116.70 23.96)">without scatterer (real Ez)</text></g>
<text transform="matrix(1.1649 0 0 1.0695 172.13 284.86)">x position [um]</text>
<text transform="translate(19.51 191.09) rotate(-90) scale(1.1584 1.0473)">z position [um]</text>
<text transform="translate(475.04 175.94) rotate(-90) scale(1.1508 1.0339)">field value</text>
<rect x="551" y="32" width="3" height="213" opacity=".06"/><rect x="552" y="32" width="1" height="213"/><rect x="881" y="32" width="3" height="213" opacity=".06"/><rect x="882" y="32" width="1" height="213"/><rect x="552" y="31" width="331" height="3" opacity=".06"/><rect x="552" y="32" width="331" height="1"/><rect x="552" y="243" width="331" height="3" opacity=".06"/><rect x="552" y="244" width="331" height="1"/>
<rect x="603" y="245" width="3" height="5" opacity=".06"/><rect x="604" y="245" width="1" height="4"/><rect x="604" y="249" width="1" height="1" opacity=".5"/>
<text transform="matrix(1.1548 0 0 1.0164 594.37 265.00)">−2</text>
<rect x="659" y="245" width="3" height="5" opacity=".06"/><rect x="660" y="245" width="1" height="4"/><rect x="660" y="249" width="1" height="1" opacity=".5"/>
<text transform="matrix(1.1664 0 0 1.0252 650.37 265.00)">−1</text>
<rect x="716" y="245" width="3" height="5" opacity=".06"/><rect x="717" y="245" width="1" height="4"/><rect x="717" y="249" width="1" height="1" opacity=".5"/>
<text transform="matrix(1.0476 0 0 0.9959 713.35 264.82)">0</text>
<rect x="772" y="245" width="3" height="5" opacity=".06"/><rect x="773" y="245" width="1" height="4"/><rect x="773" y="249" width="1" height="1" opacity=".5"/>
<text transform="matrix(0.9821 0 0 1.0835 769.63 265.00)">1</text>
<rect x="829" y="245" width="3" height="5" opacity=".06"/><rect x="830" y="245" width="1" height="4"/><rect x="830" y="249" width="1" height="1" opacity=".5"/>
<text transform="matrix(1.0019 0 0 1.0135 825.26 265.00)">2</text>
<rect x="547" y="240" width="5" height="3" opacity=".06"/><rect x="548" y="241" width="4" height="1"/><rect x="547" y="241" width="1" height="1" opacity=".5"/>
<text transform="matrix(1.1720 0 0 0.9937 523.33 246.79)">−3</text>
<rect x="547" y="206" width="5" height="3" opacity=".06"/><rect x="548" y="207" width="4" height="1"/><rect x="547" y="207" width="1" height="1" opacity=".5"/>
<text transform="matrix(1.1548 0 0 1.0164 523.37 212.00)">−2</text>
<rect x="547" y="172" width="5" height="3" opacity=".06"/><rect x="548" y="173" width="4" height="1"/><rect x="547" y="173" width="1" height="1" opacity=".5"/>
<text transform="matrix(1.1664 0 0 1.0252 523.37 178.00)">−1</text>
<rect x="547" y="137" width="5" height="3" opacity=".06"/><rect x="548" y="138" width="4" height="1"/><rect x="547" y="138" width="1" height="1" opacity=".5"/>
<text transform="matrix(1.0476 0 0 0.9959 535.35 143.82)">0</text>
<rect x="547" y="103" width="5" height="3" opacity=".06"/><rect x="548" y="104" width="4" height="1"/><rect x="547" y="104" width="1" height="1" opacity=".5"/>
<text transform="matrix(0.9821 0 0 1.0835 534.63 109.00)">1</text>
<rect x="547" y="69" width="5" height="3" opacity=".06"/><rect x="548" y="70" width="4" height="1"/><rect x="547" y="70" width="1" height="1" opacity=".5"/>
<text transform="matrix(1.0019 0 0 1.0135 534.26 75.00)">2</text>
<rect x="547" y="34" width="5" height="3" opacity=".06"/><rect x="548" y="35" width="4" height="1"/><rect x="547" y="35" width="1" height="1" opacity=".5"/>
<text transform="matrix(0.9915 0 0 0.9891 534.59 40.86)">3</text>
<rect x="901" y="32" width="3" height="213" opacity=".06"/><rect x="902" y="32" width="1" height="213"/><rect x="912" y="32" width="3" height="213" opacity=".06"/><rect x="913" y="32" width="1" height="213"/><rect x="902" y="31" width="12" height="3" opacity=".06"/><rect x="902" y="32" width="12" height="1"/><rect x="902" y="243" width="12" height="3" opacity=".06"/><rect x="902" y="244" width="12" height="1"/>
<rect x="914" y="221" width="5" height="3" opacity=".06"/><rect x="914" y="222" width="4" height="1"/><rect x="918" y="222" width="1" height="1" opacity=".5"/>
<text transform="matrix(1.1590 0 0 0.9975 923.38 227.86)">−20</text>
<rect x="914" y="179" width="5" height="3" opacity=".06"/><rect x="914" y="180" width="4" height="1"/><rect x="918" y="180" width="1" height="1" opacity=".5"/>
<text transform="matrix(1.1614 0 0 0.9817 923.34 185.86)">−10</text>
<rect x="914" y="137" width="5" height="3" opacity=".06"/><rect x="914" y="138" width="4" height="1"/><rect x="918" y="138" width="1" height="1" opacity=".5"/>
<text transform="matrix(1.0476 0 0 0.9959 923.35 143.82)">0</text>
<rect x="914" y="95" width="5" height="3" opacity=".06"/><rect x="914" y="96" width="4" height="1"/><rect x="918" y="96" width="1" height="1" opacity=".5"/>
<text transform="matrix(0.9956 0 0 1.0156 923.69 101.86)">10</text>
<rect x="914" y="54" width="5" height="3" opacity=".06"/><rect x="914" y="55" width="4" height="1"/><rect x="918" y="55" width="1" height="1" opacity=".5"/>
<text transform="matrix(1.0952 0 0 0.9872 922.13 59.86)">20</text>
<g class="t"><text transform="matrix(1.1101 0 0 1.1325 622.66 23.96)">with scatterer (real Ez)</text></g>
<text transform="matrix(1.1649 0 0 1.0695 664.13 284.86)">x position [um]</text>
<text transform="translate(511.51 191.09) rotate(-90) scale(1.1584 1.0473)">z position [um]</text>
<text transform="translate(967.04 175.94) rotate(-90) scale(1.1508 1.0339)">field value</text>
<rect x="59" y="325" width="3" height="213" opacity=".06"/><rect x="60" y="325" width="1" height="213"/><rect x="388" y="325" width="3" height="213" opacity=".06"/><rect x="389" y="325" width="1" height="213"/><rect x="60" y="324" width="330" height="3" opacity=".06"/><rect x="60" y="325" width="330" height="1"/><rect x="60" y="536" width="330" height="3" opacity=".06"/><rect x="60" y="537" width="330" height="1"/>
<rect x="110" y="538" width="3" height="5" opacity=".06"/><rect x="111" y="538" width="1" height="4"/><rect x="111" y="542" width="1" height="1" opacity=".5"/>
<text transform="matrix(1.1548 0 0 1.0164 102.37 557.00)">−2</text>
<rect x="167" y="538" width="3" height="5" opacity=".06"/><rect x="168" y="538" width="1" height="4"/><rect x="168" y="542" width="1" height="1" opacity=".5"/>
<text transform="matrix(1.1664 0 0 1.0252 158.37 557.00)">−1</text>
<rect x="223" y="538" width="3" height="5" opacity=".06"/><rect x="224" y="538" width="1" height="4"/><rect x="224" y="542" width="1" height="1" opacity=".5"/>
<text transform="matrix(1.0476 0 0 0.9959 221.35 556.82)">0</text>
<rect x="280" y="538" width="3" height="5" opacity=".06"/><rect x="281" y="538" width="1" height="4"/><rect x="281" y="542" width="1" height="1" opacity=".5"/>
<text transform="matrix(0.9821 0 0 1.0835 277.63 557.00)">1</text>
<rect x="336" y="538" width="3" height="5" opacity=".06"/><rect x="337" y="538" width="1" height="4"/><rect x="337" y="542" width="1" height="1" opacity=".5"/>
<text transform="matrix(1.0019 0 0 1.0135 333.26 557.00)">2</text>
<rect x="55" y="533" width="5" height="3" opacity=".06"/><rect x="56" y="534" width="4" height="1"/><rect x="55" y="534" width="1" height="1" opacity=".5"/>
<text transform="matrix(1.1720 0 0 0.9937 30.33 538.79)">−3</text>
<rect x="55" y="498" width="5" height="3" opacity=".06"/><rect x="56" y="499" width="4" height="1"/><rect x="55" y="499" width="1" height="1" opacity=".5"/>
<text transform="matrix(1.1548 0 0 1.0164 30.37 505.00)">−2</text>
<rect x="55" y="464" width="5" height="3" opacity=".06"/><rect x="56" y="465" width="4" height="1"/><rect x="55" y="465" width="1" height="1" opacity=".5"/>
<text transform="matrix(1.1664 0 0 1.0252 30.37 471.00)">−1</text>
<rect x="55" y="430" width="5" height="3" opacity=".06"/><rect x="56" y="431" width="4" height="1"/><rect x="55" y="431" width="1" height="1" opacity=".5"/>
<text transform="matrix(1.0476 0 0 0.9959 42.35 435.82)">0</text>
<rect x="55" y="395" width="5" height="3" opacity=".06"/><rect x="56" y="396" width="4" height="1"/><rect x="55" y="396" width="1" height="1" opacity=".5"/>
<text transform="matrix(0.9821 0 0 1.0835 42.63 402.00)">1</text>
<rect x="55" y="361" width="5" height="3" opacity=".06"/><rect x="56" y="362" width="4" height="1"/><rect x="55" y="362" width="1" height="1" opacity=".5"/>
<text transform="matrix(1.0019 0 0 1.0135 41.26 368.00)">2</text>
<rect x="55" y="327" width="5" height="3" opacity=".06"/><rect x="56" y="328" width="4" height="1"/><rect x="55" y="328" width="1" height="1" opacity=".5"/>
<text transform="matrix(0.9915 0 0 0.9891 41.59 332.86)">3</text>
<rect x="409" y="325" width="3" height="213" opacity=".06"/><rect x="410" y="325" width="1" height="213"/><rect x="419" y="325" width="3" height="213" opacity=".06"/><rect x="420" y="325" width="1" height="213"/><rect x="410" y="324" width="11" height="3" opacity=".06"/><rect x="410" y="325" width="11" height="1"/><rect x="410" y="536" width="11" height="3" opacity=".06"/><rect x="410" y="537" width="11" height="1"/>
<rect x="421" y="536" width="5" height="3" opacity=".06"/><rect x="421" y="537" width="4" height="1"/><rect x="425" y="537" width="1" height="1" opacity=".5"/>
<text transform="matrix(1.0476 0 0 0.9959 431.35 541.82)">0</text>
<rect x="421" y="493" width="5" height="3" opacity=".06"/><rect x="421" y="494" width="4" height="1"/><rect x="425" y="494" width="1" height="1" opacity=".5"/>
<text transform="matrix(0.9869 0 0 1.0256 430.44 499.91)">5</text>
<rect x="421" y="450" width="5" height="3" opacity=".06"/><rect x="421" y="451" width="4" height="1"/><rect x="425" y="451" width="1" height="1" opacity=".5"/>
<text transform="matrix(0.9956 0 0 1.0156 430.69 456.86)">10</text>
<rect x="421" y="408" width="5" height="3" opacity=".06"/><rect x="421" y="409" width="4" height="1"/><rect x="425" y="409" width="1" height="1" opacity=".5"/>
<text transform="matrix(0.9891 0 0 1.0204 430.69 413.86)">15</text>
<rect x="421" y="365" width="5" height="3" opacity=".06"/><rect x="421" y="366" width="4" height="1"/><rect x="425" y="366" width="1" height="1" opacity=".5"/>
<text transform="matrix(1.0952 0 0 0.9872 430.13 370.86)">20</text>
<g class="t"><text transform="matrix(1.1073 0 0 1.1325 117.74 315.96)">without scatterer (abs Ez)</text></g>
<text transform="matrix(1.1649 0 0 1.0695 172.13 576.86)">x position [um]</text>
<text transform="translate(19.51 484.09) rotate(-90) scale(1.1584 1.0473)">z position [um]</text>
<text transform="translate(463.04 467.94) rotate(-90) scale(1.1508 1.0339)">field value</text>
<rect x="551" y="325" width="3" height="213" opacity=".06"/><rect x="552" y="325" width="1" height="213"/><rect x="881" y="325" width="3" height="213" opacity=".06"/><rect x="882" y="325" width="1" height="213"/><rect x="552" y="324" width="331" height="3" opacity=".06"/><rect x="552" y="325" width="331" height="1"/><rect x="552" y="536" width="331" height="3" opacity=".06"/><rect x="552" y="537" width="331" height="1"/>
<rect x="603" y="538" width="3" height="5" opacity=".06"/><rect x="604" y="538" width="1" height="4"/><rect x="604" y="542" width="1" height="1" opacity=".5"/>
<text transform="matrix(1.1548 0 0 1.0164 594.37 557.00)">−2</text>
<rect x="659" y="538" width="3" height="5" opacity=".06"/><rect x="660" y="538" width="1" height="4"/><rect x="660" y="542" width="1" height="1" opacity=".5"/>
<text transform="matrix(1.1664 0 0 1.0252 650.37 557.00)">−1</text>
<rect x="716" y="538" width="3" height="5" opacity=".06"/><rect x="717" y="538" width="1" height="4"/><rect x="717" y="542" width="1" height="1" opacity=".5"/>
<text transform="matrix(1.0476 0 0 0.9959 713.35 556.82)">0</text>
<rect x="772" y="538" width="3" height="5" opacity=".06"/><rect x="773" y="538" width="1" height="4"/><rect x="773" y="542" width="1" height="1" opacity=".5"/>
<text transform="matrix(0.9821 0 0 1.0835 769.63 557.00)">1</text>
<rect x="829" y="538" width="3" height="5" opacity=".06"/><rect x="830" y="538" width="1" height="4"/><rect x="830" y="542" width="1" height="1" opacity=".5"/>
<text transform="matrix(1.0019 0 0 1.0135 825.26 557.00)">2</text>
<rect x="547" y="533" width="5" height="3" opacity=".06"/><rect x="548" y="534" width="4" height="1"/><rect x="547" y="534" width="1" height="1" opacity=".5"/>
<text transform="matrix(1.1720 0 0 0.9937 523.33 538.79)">−3</text>
<rect x="547" y="498" width="5" height="3" opacity=".06"/><rect x="548" y="499" width="4" height="1"/><rect x="547" y="499" width="1" height="1" opacity=".5"/>
<text transform="matrix(1.1548 0 0 1.0164 523.37 505.00)">−2</text>
<rect x="547" y="464" width="5" height="3" opacity=".06"/><rect x="548" y="465" width="4" height="1"/><rect x="547" y="465" width="1" height="1" opacity=".5"/>
<text transform="matrix(1.1664 0 0 1.0252 523.37 471.00)">−1</text>
<rect x="547" y="430" width="5" height="3" opacity=".06"/><rect x="548" y="431" width="4" height="1"/><rect x="547" y="431" width="1" height="1" opacity=".5"/>
<text transform="matrix(1.0476 0 0 0.9959 535.35 435.82)">0</text>
<rect x="547" y="395" width="5" height="3" opacity=".06"/><rect x="548" y="396" width="4" height="1"/><rect x="547" y="396" width="1" height="1" opacity=".5"/>
<text transform="matrix(0.9821 0 0 1.0835 534.63 402.00)">1</text>
<rect x="547" y="361" width="5" height="3" opacity=".06"/><rect x="548" y="362" width="4" height="1"/><rect x="547" y="362" width="1" height="1" opacity=".5"/>
<text transform="matrix(1.0019 0 0 1.0135 534.26 368.00)">2</text>
<rect x="547" y="327" width="5" height="3" opacity=".06"/><rect x="548" y="328" width="4" height="1"/><rect x="547" y="328" width="1" height="1" opacity=".5"/>
<text transform="matrix(0.9915 0 0 0.9891 534.59 332.86)">3</text>
<rect x="901" y="325" width="3" height="213" opacity=".06"/><rect x="902" y="325" width="1" height="213"/><rect x="912" y="325" width="3" height="213" opacity=".06"/><rect x="913" y="325" width="1" height="213"/><rect x="902" y="324" width="12" height="3" opacity=".06"/><rect x="902" y="325" width="12" height="1"/><rect x="902" y="536" width="12" height="3" opacity=".06"/><rect x="902" y="537" width="12" height="1"/>
<rect x="914" y="536" width="5" height="3" opacity=".06"/><rect x="914" y="537" width="4" height="1"/><rect x="918" y="537" width="1" height="1" opacity=".5"/>
<text transform="matrix(1.0476 0 0 0.9959 923.35 541.82)">0</text>
<rect x="914" y="494" width="5" height="3" opacity=".06"/><rect x="914" y="495" width="4" height="1"/><rect x="918" y="495" width="1" height="1" opacity=".5"/>
<text transform="matrix(0.9869 0 0 1.0256 922.44 499.91)">5</text>
<rect x="914" y="452" width="5" height="3" opacity=".06"/><rect x="914" y="453" width="4" height="1"/><rect x="918" y="453" width="1" height="1" opacity=".5"/>
<text transform="matrix(0.9956 0 0 1.0156 923.69 457.86)">10</text>
<rect x="914" y="410" width="5" height="3" opacity=".06"/><rect x="914" y="411" width="4" height="1"/><rect x="918" y="411" width="1" height="1" opacity=".5"/>
<text transform="matrix(0.9891 0 0 1.0204 923.69 416.86)">15</text>
<rect x="914" y="368" width="5" height="3" opacity=".06"/><rect x="914" y="369" width="4" height="1"/><rect x="918" y="369" width="1" height="1" opacity=".5"/>
<text transform="matrix(1.0952 0 0 0.9872 922.13 374.86)">20</text>
<rect x="914" y="326" width="5" height="3" opacity=".06"/><rect x="914" y="327" width="4" height="1"/><rect x="918" y="327" width="1" height="1" opacity=".5"/>
<text transform="matrix(1.0864 0 0 1.0060 922.16 332.86)">25</text>
<g class="t"><text transform="matrix(1.1014 0 0 1.1325 623.74 315.96)">with scatterer (abs Ez)</text></g>
<text transform="matrix(1.1649 0 0 1.0695 664.13 576.86)">x position [um]</text>
<text transform="translate(511.51 484.09) rotate(-90) scale(1.1584 1.0473)">z position [um]</text>
<text transform="translate(956.04 467.94) rotate(-90) scale(1.1508 1.0339)">field value</text>
</svg>
</body></html>
